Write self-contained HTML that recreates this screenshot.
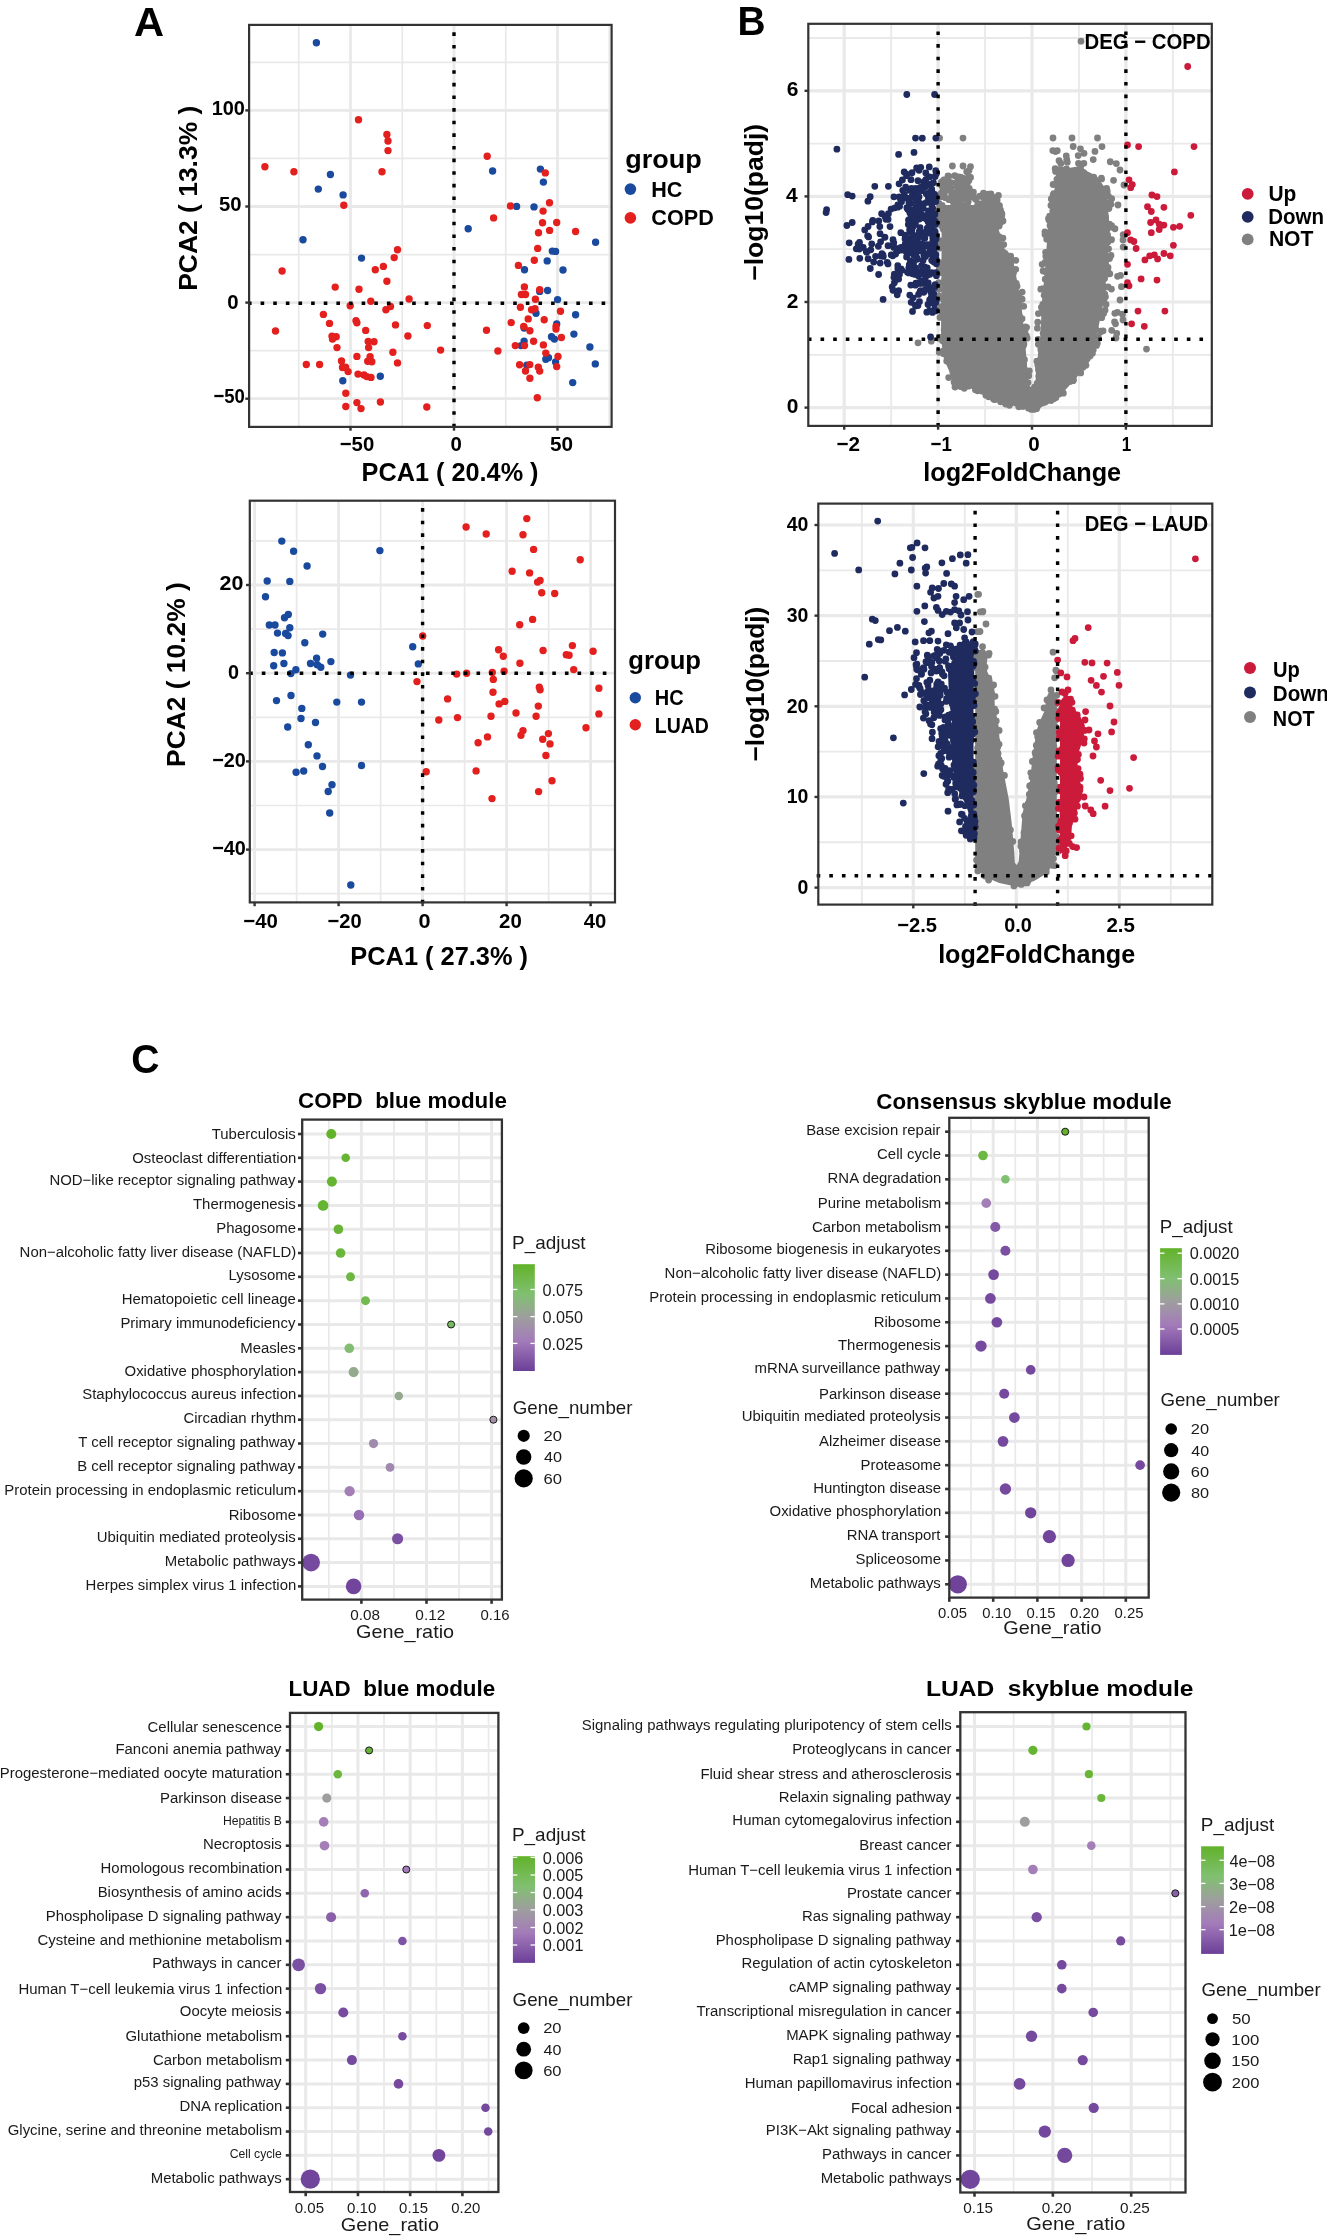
<!DOCTYPE html>
<html><head><meta charset="utf-8"><style>html,body{margin:0;padding:0;background:#fff}svg{display:block;will-change:transform}text{font-family:"Liberation Sans",sans-serif;white-space:pre}</style></head>
<body><svg width="1327" height="2237" viewBox="0 0 1327 2237">
<rect width="1327" height="2237" fill="#fff"/>
<rect x="249.1" y="24.9" width="362.5" height="402" fill="#fff"/>
<line x1="298.75" y1="24.9" x2="298.75" y2="426.9" stroke="#e9e9e9" stroke-width="1.7"/>
<line x1="402.25" y1="24.9" x2="402.25" y2="426.9" stroke="#e9e9e9" stroke-width="1.7"/>
<line x1="505.75" y1="24.9" x2="505.75" y2="426.9" stroke="#e9e9e9" stroke-width="1.7"/>
<line x1="609.25" y1="24.9" x2="609.25" y2="426.9" stroke="#e9e9e9" stroke-width="1.7"/>
<line x1="249.1" y1="62.35" x2="611.6" y2="62.35" stroke="#e9e9e9" stroke-width="1.7"/>
<line x1="249.1" y1="158.45" x2="611.6" y2="158.45" stroke="#e9e9e9" stroke-width="1.7"/>
<line x1="249.1" y1="254.55" x2="611.6" y2="254.55" stroke="#e9e9e9" stroke-width="1.7"/>
<line x1="249.1" y1="350.65" x2="611.6" y2="350.65" stroke="#e9e9e9" stroke-width="1.7"/>
<line x1="350.5" y1="24.9" x2="350.5" y2="426.9" stroke="#e9e9e9" stroke-width="2.8"/>
<line x1="454" y1="24.9" x2="454" y2="426.9" stroke="#e9e9e9" stroke-width="2.8"/>
<line x1="557.5" y1="24.9" x2="557.5" y2="426.9" stroke="#e9e9e9" stroke-width="2.8"/>
<line x1="249.1" y1="110.4" x2="611.6" y2="110.4" stroke="#e9e9e9" stroke-width="2.8"/>
<line x1="249.1" y1="206.5" x2="611.6" y2="206.5" stroke="#e9e9e9" stroke-width="2.8"/>
<line x1="249.1" y1="302.6" x2="611.6" y2="302.6" stroke="#e9e9e9" stroke-width="2.8"/>
<line x1="249.1" y1="398.7" x2="611.6" y2="398.7" stroke="#e9e9e9" stroke-width="2.8"/>
<path fill="#1a4a9e" d="M312.7 42.7a3.7 3.7 0 1 0 7.4 0a3.7 3.7 0 1 0 -7.4 0M326.7 174.5a3.7 3.7 0 1 0 7.4 0a3.7 3.7 0 1 0 -7.4 0M314.6 189.1a3.7 3.7 0 1 0 7.4 0a3.7 3.7 0 1 0 -7.4 0M339.4 194.9a3.7 3.7 0 1 0 7.4 0a3.7 3.7 0 1 0 -7.4 0M299.3 239.8a3.7 3.7 0 1 0 7.4 0a3.7 3.7 0 1 0 -7.4 0M357.8 258.1a3.7 3.7 0 1 0 7.4 0a3.7 3.7 0 1 0 -7.4 0M376.6 376.3a3.7 3.7 0 1 0 7.4 0a3.7 3.7 0 1 0 -7.4 0M339.1 380.8a3.7 3.7 0 1 0 7.4 0a3.7 3.7 0 1 0 -7.4 0M488.9 171a3.7 3.7 0 1 0 7.4 0a3.7 3.7 0 1 0 -7.4 0M536.7 169.1a3.7 3.7 0 1 0 7.4 0a3.7 3.7 0 1 0 -7.4 0M539.7 182.1a3.7 3.7 0 1 0 7.4 0a3.7 3.7 0 1 0 -7.4 0M512.9 206.4a3.7 3.7 0 1 0 7.4 0a3.7 3.7 0 1 0 -7.4 0M530.3 206.9a3.7 3.7 0 1 0 7.4 0a3.7 3.7 0 1 0 -7.4 0M464.5 228.8a3.7 3.7 0 1 0 7.4 0a3.7 3.7 0 1 0 -7.4 0M591.9 242.3a3.7 3.7 0 1 0 7.4 0a3.7 3.7 0 1 0 -7.4 0M548.6 251.1a3.7 3.7 0 1 0 7.4 0a3.7 3.7 0 1 0 -7.4 0M551.9 251.4a3.7 3.7 0 1 0 7.4 0a3.7 3.7 0 1 0 -7.4 0M543.5 260.9a3.7 3.7 0 1 0 7.4 0a3.7 3.7 0 1 0 -7.4 0M520.8 269.7a3.7 3.7 0 1 0 7.4 0a3.7 3.7 0 1 0 -7.4 0M559.3 270a3.7 3.7 0 1 0 7.4 0a3.7 3.7 0 1 0 -7.4 0M536 291.4a3.7 3.7 0 1 0 7.4 0a3.7 3.7 0 1 0 -7.4 0M543.9 290.5a3.7 3.7 0 1 0 7.4 0a3.7 3.7 0 1 0 -7.4 0M553.9 299.6a3.7 3.7 0 1 0 7.4 0a3.7 3.7 0 1 0 -7.4 0M532.3 313.3a3.7 3.7 0 1 0 7.4 0a3.7 3.7 0 1 0 -7.4 0M571.9 314.7a3.7 3.7 0 1 0 7.4 0a3.7 3.7 0 1 0 -7.4 0M553 323.9a3.7 3.7 0 1 0 7.4 0a3.7 3.7 0 1 0 -7.4 0M520.4 328a3.7 3.7 0 1 0 7.4 0a3.7 3.7 0 1 0 -7.4 0M570.2 334.1a3.7 3.7 0 1 0 7.4 0a3.7 3.7 0 1 0 -7.4 0M547.8 336.8a3.7 3.7 0 1 0 7.4 0a3.7 3.7 0 1 0 -7.4 0M550.7 339.1a3.7 3.7 0 1 0 7.4 0a3.7 3.7 0 1 0 -7.4 0M520.4 341.3a3.7 3.7 0 1 0 7.4 0a3.7 3.7 0 1 0 -7.4 0M517.4 345.6a3.7 3.7 0 1 0 7.4 0a3.7 3.7 0 1 0 -7.4 0M586.2 347a3.7 3.7 0 1 0 7.4 0a3.7 3.7 0 1 0 -7.4 0M542.1 359.2a3.7 3.7 0 1 0 7.4 0a3.7 3.7 0 1 0 -7.4 0M544.8 357.8a3.7 3.7 0 1 0 7.4 0a3.7 3.7 0 1 0 -7.4 0M551.9 361.9a3.7 3.7 0 1 0 7.4 0a3.7 3.7 0 1 0 -7.4 0M591.6 363.9a3.7 3.7 0 1 0 7.4 0a3.7 3.7 0 1 0 -7.4 0M523.1 365.3a3.7 3.7 0 1 0 7.4 0a3.7 3.7 0 1 0 -7.4 0M569 382.6a3.7 3.7 0 1 0 7.4 0a3.7 3.7 0 1 0 -7.4 0"/>
<path fill="#e4201e" d="M354.8 119.8a3.7 3.7 0 1 0 7.4 0a3.7 3.7 0 1 0 -7.4 0M383.2 134.4a3.7 3.7 0 1 0 7.4 0a3.7 3.7 0 1 0 -7.4 0M384.3 141a3.7 3.7 0 1 0 7.4 0a3.7 3.7 0 1 0 -7.4 0M384.3 150.6a3.7 3.7 0 1 0 7.4 0a3.7 3.7 0 1 0 -7.4 0M261.2 166.7a3.7 3.7 0 1 0 7.4 0a3.7 3.7 0 1 0 -7.4 0M290.2 171.7a3.7 3.7 0 1 0 7.4 0a3.7 3.7 0 1 0 -7.4 0M378.3 171.7a3.7 3.7 0 1 0 7.4 0a3.7 3.7 0 1 0 -7.4 0M340.1 205.2a3.7 3.7 0 1 0 7.4 0a3.7 3.7 0 1 0 -7.4 0M393.8 249.8a3.7 3.7 0 1 0 7.4 0a3.7 3.7 0 1 0 -7.4 0M390.5 257.6a3.7 3.7 0 1 0 7.4 0a3.7 3.7 0 1 0 -7.4 0M379.7 266.4a3.7 3.7 0 1 0 7.4 0a3.7 3.7 0 1 0 -7.4 0M371.6 269.7a3.7 3.7 0 1 0 7.4 0a3.7 3.7 0 1 0 -7.4 0M278.4 271a3.7 3.7 0 1 0 7.4 0a3.7 3.7 0 1 0 -7.4 0M383.2 281.3a3.7 3.7 0 1 0 7.4 0a3.7 3.7 0 1 0 -7.4 0M331.5 287.1a3.7 3.7 0 1 0 7.4 0a3.7 3.7 0 1 0 -7.4 0M355.3 289.2a3.7 3.7 0 1 0 7.4 0a3.7 3.7 0 1 0 -7.4 0M405.4 299a3.7 3.7 0 1 0 7.4 0a3.7 3.7 0 1 0 -7.4 0M367.1 301.3a3.7 3.7 0 1 0 7.4 0a3.7 3.7 0 1 0 -7.4 0M346.5 305.7a3.7 3.7 0 1 0 7.4 0a3.7 3.7 0 1 0 -7.4 0M386.8 306.5a3.7 3.7 0 1 0 7.4 0a3.7 3.7 0 1 0 -7.4 0M382.2 309.8a3.7 3.7 0 1 0 7.4 0a3.7 3.7 0 1 0 -7.4 0M319.7 314.4a3.7 3.7 0 1 0 7.4 0a3.7 3.7 0 1 0 -7.4 0M352.3 320.7a3.7 3.7 0 1 0 7.4 0a3.7 3.7 0 1 0 -7.4 0M353.2 322.7a3.7 3.7 0 1 0 7.4 0a3.7 3.7 0 1 0 -7.4 0M325.8 323.4a3.7 3.7 0 1 0 7.4 0a3.7 3.7 0 1 0 -7.4 0M391.8 324.9a3.7 3.7 0 1 0 7.4 0a3.7 3.7 0 1 0 -7.4 0M423.6 325.6a3.7 3.7 0 1 0 7.4 0a3.7 3.7 0 1 0 -7.4 0M271.8 331a3.7 3.7 0 1 0 7.4 0a3.7 3.7 0 1 0 -7.4 0M362 330.4a3.7 3.7 0 1 0 7.4 0a3.7 3.7 0 1 0 -7.4 0M404.2 336a3.7 3.7 0 1 0 7.4 0a3.7 3.7 0 1 0 -7.4 0M328.3 336.3a3.7 3.7 0 1 0 7.4 0a3.7 3.7 0 1 0 -7.4 0M332.5 336.8a3.7 3.7 0 1 0 7.4 0a3.7 3.7 0 1 0 -7.4 0M328.8 339a3.7 3.7 0 1 0 7.4 0a3.7 3.7 0 1 0 -7.4 0M364.5 341.5a3.7 3.7 0 1 0 7.4 0a3.7 3.7 0 1 0 -7.4 0M370.3 341.8a3.7 3.7 0 1 0 7.4 0a3.7 3.7 0 1 0 -7.4 0M364.9 347.6a3.7 3.7 0 1 0 7.4 0a3.7 3.7 0 1 0 -7.4 0M333.3 347.6a3.7 3.7 0 1 0 7.4 0a3.7 3.7 0 1 0 -7.4 0M436.9 350.1a3.7 3.7 0 1 0 7.4 0a3.7 3.7 0 1 0 -7.4 0M389.2 352.2a3.7 3.7 0 1 0 7.4 0a3.7 3.7 0 1 0 -7.4 0M353.2 356.4a3.7 3.7 0 1 0 7.4 0a3.7 3.7 0 1 0 -7.4 0M366.4 356.7a3.7 3.7 0 1 0 7.4 0a3.7 3.7 0 1 0 -7.4 0M337.8 360.9a3.7 3.7 0 1 0 7.4 0a3.7 3.7 0 1 0 -7.4 0M364 361.2a3.7 3.7 0 1 0 7.4 0a3.7 3.7 0 1 0 -7.4 0M368.1 361.7a3.7 3.7 0 1 0 7.4 0a3.7 3.7 0 1 0 -7.4 0M393.8 362.9a3.7 3.7 0 1 0 7.4 0a3.7 3.7 0 1 0 -7.4 0M302.6 364.5a3.7 3.7 0 1 0 7.4 0a3.7 3.7 0 1 0 -7.4 0M315.9 364.5a3.7 3.7 0 1 0 7.4 0a3.7 3.7 0 1 0 -7.4 0M338.8 367.5a3.7 3.7 0 1 0 7.4 0a3.7 3.7 0 1 0 -7.4 0M341.9 367.2a3.7 3.7 0 1 0 7.4 0a3.7 3.7 0 1 0 -7.4 0M344.4 371.6a3.7 3.7 0 1 0 7.4 0a3.7 3.7 0 1 0 -7.4 0M354.3 374.1a3.7 3.7 0 1 0 7.4 0a3.7 3.7 0 1 0 -7.4 0M360.3 375a3.7 3.7 0 1 0 7.4 0a3.7 3.7 0 1 0 -7.4 0M363.1 376.6a3.7 3.7 0 1 0 7.4 0a3.7 3.7 0 1 0 -7.4 0M367.3 377.4a3.7 3.7 0 1 0 7.4 0a3.7 3.7 0 1 0 -7.4 0M342.1 393.2a3.7 3.7 0 1 0 7.4 0a3.7 3.7 0 1 0 -7.4 0M353.2 402.6a3.7 3.7 0 1 0 7.4 0a3.7 3.7 0 1 0 -7.4 0M376.7 402a3.7 3.7 0 1 0 7.4 0a3.7 3.7 0 1 0 -7.4 0M342.1 406.5a3.7 3.7 0 1 0 7.4 0a3.7 3.7 0 1 0 -7.4 0M357.3 408.6a3.7 3.7 0 1 0 7.4 0a3.7 3.7 0 1 0 -7.4 0M423.1 407a3.7 3.7 0 1 0 7.4 0a3.7 3.7 0 1 0 -7.4 0M483.5 156.2a3.7 3.7 0 1 0 7.4 0a3.7 3.7 0 1 0 -7.4 0M541.6 172.9a3.7 3.7 0 1 0 7.4 0a3.7 3.7 0 1 0 -7.4 0M545.8 202.8a3.7 3.7 0 1 0 7.4 0a3.7 3.7 0 1 0 -7.4 0M506.8 206a3.7 3.7 0 1 0 7.4 0a3.7 3.7 0 1 0 -7.4 0M539.4 211.1a3.7 3.7 0 1 0 7.4 0a3.7 3.7 0 1 0 -7.4 0M489.9 217.9a3.7 3.7 0 1 0 7.4 0a3.7 3.7 0 1 0 -7.4 0M538.8 222.8a3.7 3.7 0 1 0 7.4 0a3.7 3.7 0 1 0 -7.4 0M553 222.5a3.7 3.7 0 1 0 7.4 0a3.7 3.7 0 1 0 -7.4 0M545.9 230.4a3.7 3.7 0 1 0 7.4 0a3.7 3.7 0 1 0 -7.4 0M534.8 232.7a3.7 3.7 0 1 0 7.4 0a3.7 3.7 0 1 0 -7.4 0M571.9 231.5a3.7 3.7 0 1 0 7.4 0a3.7 3.7 0 1 0 -7.4 0M534 248.4a3.7 3.7 0 1 0 7.4 0a3.7 3.7 0 1 0 -7.4 0M530.6 260.2a3.7 3.7 0 1 0 7.4 0a3.7 3.7 0 1 0 -7.4 0M514.7 265.4a3.7 3.7 0 1 0 7.4 0a3.7 3.7 0 1 0 -7.4 0M520.7 286.9a3.7 3.7 0 1 0 7.4 0a3.7 3.7 0 1 0 -7.4 0M536 289.8a3.7 3.7 0 1 0 7.4 0a3.7 3.7 0 1 0 -7.4 0M517.7 294.5a3.7 3.7 0 1 0 7.4 0a3.7 3.7 0 1 0 -7.4 0M521.8 294.5a3.7 3.7 0 1 0 7.4 0a3.7 3.7 0 1 0 -7.4 0M531.7 299.3a3.7 3.7 0 1 0 7.4 0a3.7 3.7 0 1 0 -7.4 0M516.7 307.2a3.7 3.7 0 1 0 7.4 0a3.7 3.7 0 1 0 -7.4 0M527.9 309.7a3.7 3.7 0 1 0 7.4 0a3.7 3.7 0 1 0 -7.4 0M531.3 308.7a3.7 3.7 0 1 0 7.4 0a3.7 3.7 0 1 0 -7.4 0M556.8 311.3a3.7 3.7 0 1 0 7.4 0a3.7 3.7 0 1 0 -7.4 0M507.5 322.6a3.7 3.7 0 1 0 7.4 0a3.7 3.7 0 1 0 -7.4 0M524.5 318.9a3.7 3.7 0 1 0 7.4 0a3.7 3.7 0 1 0 -7.4 0M540.5 319.8a3.7 3.7 0 1 0 7.4 0a3.7 3.7 0 1 0 -7.4 0M552.3 326.4a3.7 3.7 0 1 0 7.4 0a3.7 3.7 0 1 0 -7.4 0M552.3 329.1a3.7 3.7 0 1 0 7.4 0a3.7 3.7 0 1 0 -7.4 0M520 326.4a3.7 3.7 0 1 0 7.4 0a3.7 3.7 0 1 0 -7.4 0M482.8 330.3a3.7 3.7 0 1 0 7.4 0a3.7 3.7 0 1 0 -7.4 0M526.2 330.7a3.7 3.7 0 1 0 7.4 0a3.7 3.7 0 1 0 -7.4 0M557.7 337.5a3.7 3.7 0 1 0 7.4 0a3.7 3.7 0 1 0 -7.4 0M529.9 341.3a3.7 3.7 0 1 0 7.4 0a3.7 3.7 0 1 0 -7.4 0M511.6 345.6a3.7 3.7 0 1 0 7.4 0a3.7 3.7 0 1 0 -7.4 0M520.8 345.6a3.7 3.7 0 1 0 7.4 0a3.7 3.7 0 1 0 -7.4 0M539.7 344.9a3.7 3.7 0 1 0 7.4 0a3.7 3.7 0 1 0 -7.4 0M494.2 351a3.7 3.7 0 1 0 7.4 0a3.7 3.7 0 1 0 -7.4 0M542.1 353.1a3.7 3.7 0 1 0 7.4 0a3.7 3.7 0 1 0 -7.4 0M554.3 356.5a3.7 3.7 0 1 0 7.4 0a3.7 3.7 0 1 0 -7.4 0M515.9 364.7a3.7 3.7 0 1 0 7.4 0a3.7 3.7 0 1 0 -7.4 0M526.1 364.6a3.7 3.7 0 1 0 7.4 0a3.7 3.7 0 1 0 -7.4 0M534.6 367.3a3.7 3.7 0 1 0 7.4 0a3.7 3.7 0 1 0 -7.4 0M536 371.1a3.7 3.7 0 1 0 7.4 0a3.7 3.7 0 1 0 -7.4 0M553 366.6a3.7 3.7 0 1 0 7.4 0a3.7 3.7 0 1 0 -7.4 0M521.8 371a3.7 3.7 0 1 0 7.4 0a3.7 3.7 0 1 0 -7.4 0M526.2 378.2a3.7 3.7 0 1 0 7.4 0a3.7 3.7 0 1 0 -7.4 0M533.6 397.8a3.7 3.7 0 1 0 7.4 0a3.7 3.7 0 1 0 -7.4 0"/>
<path fill="#000" d="M452.3 32.3h3.4v3.6h-3.4zM452.3 44.93h3.4v3.6h-3.4zM452.3 57.56h3.4v3.6h-3.4zM452.3 70.19h3.4v3.6h-3.4zM452.3 82.82h3.4v3.6h-3.4zM452.3 95.45h3.4v3.6h-3.4zM452.3 108.08h3.4v3.6h-3.4zM452.3 120.71h3.4v3.6h-3.4zM452.3 133.34h3.4v3.6h-3.4zM452.3 145.97h3.4v3.6h-3.4zM452.3 158.6h3.4v3.6h-3.4zM452.3 171.23h3.4v3.6h-3.4zM452.3 183.86h3.4v3.6h-3.4zM452.3 196.49h3.4v3.6h-3.4zM452.3 209.12h3.4v3.6h-3.4zM452.3 221.75h3.4v3.6h-3.4zM452.3 234.38h3.4v3.6h-3.4zM452.3 247.01h3.4v3.6h-3.4zM452.3 259.64h3.4v3.6h-3.4zM452.3 272.27h3.4v3.6h-3.4zM452.3 284.9h3.4v3.6h-3.4zM452.3 297.53h3.4v3.6h-3.4zM452.3 310.16h3.4v3.6h-3.4zM452.3 322.79h3.4v3.6h-3.4zM452.3 335.42h3.4v3.6h-3.4zM452.3 348.05h3.4v3.6h-3.4zM452.3 360.68h3.4v3.6h-3.4zM452.3 373.31h3.4v3.6h-3.4zM452.3 385.94h3.4v3.6h-3.4zM452.3 398.57h3.4v3.6h-3.4zM452.3 411.2h3.4v3.6h-3.4zM452.3 423.83h3.4v3.6h-3.4z"/>
<path fill="#000" d="M247.97 301.6h3.6v3.4h-3.6zM260.6 301.6h3.6v3.4h-3.6zM273.23 301.6h3.6v3.4h-3.6zM285.86 301.6h3.6v3.4h-3.6zM298.49 301.6h3.6v3.4h-3.6zM311.12 301.6h3.6v3.4h-3.6zM323.75 301.6h3.6v3.4h-3.6zM336.38 301.6h3.6v3.4h-3.6zM349.01 301.6h3.6v3.4h-3.6zM361.64 301.6h3.6v3.4h-3.6zM374.27 301.6h3.6v3.4h-3.6zM386.9 301.6h3.6v3.4h-3.6zM399.53 301.6h3.6v3.4h-3.6zM412.16 301.6h3.6v3.4h-3.6zM424.79 301.6h3.6v3.4h-3.6zM437.42 301.6h3.6v3.4h-3.6zM450.05 301.6h3.6v3.4h-3.6zM462.68 301.6h3.6v3.4h-3.6zM475.31 301.6h3.6v3.4h-3.6zM487.94 301.6h3.6v3.4h-3.6zM500.57 301.6h3.6v3.4h-3.6zM513.2 301.6h3.6v3.4h-3.6zM525.83 301.6h3.6v3.4h-3.6zM538.46 301.6h3.6v3.4h-3.6zM551.09 301.6h3.6v3.4h-3.6zM563.72 301.6h3.6v3.4h-3.6zM576.35 301.6h3.6v3.4h-3.6zM588.98 301.6h3.6v3.4h-3.6zM601.61 301.6h3.6v3.4h-3.6z"/>
<rect x="249.1" y="24.9" width="362.5" height="402" fill="none" stroke="#333333" stroke-width="2.2"/>
<line x1="350.5" y1="426.9" x2="350.5" y2="430.7" stroke="#333333" stroke-width="2.4"/>
<line x1="454" y1="426.9" x2="454" y2="430.7" stroke="#333333" stroke-width="2.4"/>
<line x1="557.5" y1="426.9" x2="557.5" y2="430.7" stroke="#333333" stroke-width="2.4"/>
<line x1="245.3" y1="110.4" x2="249.1" y2="110.4" stroke="#333333" stroke-width="2.4"/>
<line x1="245.3" y1="206.5" x2="249.1" y2="206.5" stroke="#333333" stroke-width="2.4"/>
<line x1="245.3" y1="302.6" x2="249.1" y2="302.6" stroke="#333333" stroke-width="2.4"/>
<line x1="245.3" y1="398.7" x2="249.1" y2="398.7" stroke="#333333" stroke-width="2.4"/>
<text x="211.65" y="114.9" font-size="21" font-weight="bold" textLength="33.26" lengthAdjust="spacingAndGlyphs" fill="#000">100</text>
<text x="219.09" y="211" font-size="21" font-weight="bold" textLength="22.57" lengthAdjust="spacingAndGlyphs" fill="#000">50</text>
<text x="227.18" y="309" font-size="21" font-weight="bold" textLength="11.36" lengthAdjust="spacingAndGlyphs" fill="#000">0</text>
<text x="213.41" y="403.2" font-size="21" font-weight="bold" textLength="31.45" lengthAdjust="spacingAndGlyphs" fill="#000">−50</text>
<text x="339.74" y="451.2" font-size="21" font-weight="bold" textLength="34.51" lengthAdjust="spacingAndGlyphs" fill="#000">−50</text>
<text x="450.48" y="451.2" font-size="21" font-weight="bold" textLength="11.36" lengthAdjust="spacingAndGlyphs" fill="#000">0</text>
<text x="549.98" y="451.2" font-size="21" font-weight="bold" textLength="23.1" lengthAdjust="spacingAndGlyphs" fill="#000">50</text>
<text x="361.59" y="480.6" font-size="26" font-weight="bold" textLength="176.97" lengthAdjust="spacingAndGlyphs" fill="#000">PCA1 ( 20.4% )</text>
<text transform="translate(197,290.78) rotate(-90)" x="0" y="0" font-size="26" font-weight="bold" textLength="185.11" lengthAdjust="spacingAndGlyphs" fill="#000">PCA2 ( 13.3% )</text>
<text x="625.32" y="167.5" font-size="26" font-weight="bold" textLength="76.46" lengthAdjust="spacingAndGlyphs" fill="#000">group</text>
<circle cx="630.4" cy="189.1" r="5.8" fill="#1a4a9e"/>
<circle cx="630.4" cy="217.9" r="5.8" fill="#e4201e"/>
<text x="651.25" y="196.5" font-size="22.5" font-weight="bold" textLength="31.13" lengthAdjust="spacingAndGlyphs" fill="#000">HC</text>
<text x="651.34" y="225.3" font-size="22.5" font-weight="bold" textLength="62.47" lengthAdjust="spacingAndGlyphs" fill="#000">COPD</text>
<rect x="249.8" y="500.7" width="365.2" height="401.7" fill="#fff"/>
<line x1="296.6" y1="500.7" x2="296.6" y2="902.4" stroke="#e9e9e9" stroke-width="1.7"/>
<line x1="380.6" y1="500.7" x2="380.6" y2="902.4" stroke="#e9e9e9" stroke-width="1.7"/>
<line x1="464.6" y1="500.7" x2="464.6" y2="902.4" stroke="#e9e9e9" stroke-width="1.7"/>
<line x1="548.6" y1="500.7" x2="548.6" y2="902.4" stroke="#e9e9e9" stroke-width="1.7"/>
<line x1="249.8" y1="540.9" x2="615" y2="540.9" stroke="#e9e9e9" stroke-width="1.7"/>
<line x1="249.8" y1="629.1" x2="615" y2="629.1" stroke="#e9e9e9" stroke-width="1.7"/>
<line x1="249.8" y1="717.3" x2="615" y2="717.3" stroke="#e9e9e9" stroke-width="1.7"/>
<line x1="249.8" y1="805.5" x2="615" y2="805.5" stroke="#e9e9e9" stroke-width="1.7"/>
<line x1="249.8" y1="893.7" x2="615" y2="893.7" stroke="#e9e9e9" stroke-width="1.7"/>
<line x1="254.6" y1="500.7" x2="254.6" y2="902.4" stroke="#e9e9e9" stroke-width="2.8"/>
<line x1="338.6" y1="500.7" x2="338.6" y2="902.4" stroke="#e9e9e9" stroke-width="2.8"/>
<line x1="422.6" y1="500.7" x2="422.6" y2="902.4" stroke="#e9e9e9" stroke-width="2.8"/>
<line x1="506.6" y1="500.7" x2="506.6" y2="902.4" stroke="#e9e9e9" stroke-width="2.8"/>
<line x1="590.6" y1="500.7" x2="590.6" y2="902.4" stroke="#e9e9e9" stroke-width="2.8"/>
<line x1="249.8" y1="585" x2="615" y2="585" stroke="#e9e9e9" stroke-width="2.8"/>
<line x1="249.8" y1="673.2" x2="615" y2="673.2" stroke="#e9e9e9" stroke-width="2.8"/>
<line x1="249.8" y1="761.4" x2="615" y2="761.4" stroke="#e9e9e9" stroke-width="2.8"/>
<line x1="249.8" y1="849.6" x2="615" y2="849.6" stroke="#e9e9e9" stroke-width="2.8"/>
<path fill="#1a4a9e" d="M278.1 541.1a3.7 3.7 0 1 0 7.4 0a3.7 3.7 0 1 0 -7.4 0M289.9 551.2a3.7 3.7 0 1 0 7.4 0a3.7 3.7 0 1 0 -7.4 0M376.2 550.6a3.7 3.7 0 1 0 7.4 0a3.7 3.7 0 1 0 -7.4 0M303.4 566a3.7 3.7 0 1 0 7.4 0a3.7 3.7 0 1 0 -7.4 0M263.5 581a3.7 3.7 0 1 0 7.4 0a3.7 3.7 0 1 0 -7.4 0M286.1 581.4a3.7 3.7 0 1 0 7.4 0a3.7 3.7 0 1 0 -7.4 0M261.8 596.8a3.7 3.7 0 1 0 7.4 0a3.7 3.7 0 1 0 -7.4 0M284.6 614.5a3.7 3.7 0 1 0 7.4 0a3.7 3.7 0 1 0 -7.4 0M280.8 617.7a3.7 3.7 0 1 0 7.4 0a3.7 3.7 0 1 0 -7.4 0M265.6 625a3.7 3.7 0 1 0 7.4 0a3.7 3.7 0 1 0 -7.4 0M271.3 625a3.7 3.7 0 1 0 7.4 0a3.7 3.7 0 1 0 -7.4 0M286.1 627.8a3.7 3.7 0 1 0 7.4 0a3.7 3.7 0 1 0 -7.4 0M273.8 633.1a3.7 3.7 0 1 0 7.4 0a3.7 3.7 0 1 0 -7.4 0M281.9 633.5a3.7 3.7 0 1 0 7.4 0a3.7 3.7 0 1 0 -7.4 0M284.4 635.6a3.7 3.7 0 1 0 7.4 0a3.7 3.7 0 1 0 -7.4 0M319 634.1a3.7 3.7 0 1 0 7.4 0a3.7 3.7 0 1 0 -7.4 0M301.1 642.8a3.7 3.7 0 1 0 7.4 0a3.7 3.7 0 1 0 -7.4 0M409 646.8a3.7 3.7 0 1 0 7.4 0a3.7 3.7 0 1 0 -7.4 0M270.5 652.5a3.7 3.7 0 1 0 7.4 0a3.7 3.7 0 1 0 -7.4 0M278.7 652.9a3.7 3.7 0 1 0 7.4 0a3.7 3.7 0 1 0 -7.4 0M312.9 658.2a3.7 3.7 0 1 0 7.4 0a3.7 3.7 0 1 0 -7.4 0M327.2 661.6a3.7 3.7 0 1 0 7.4 0a3.7 3.7 0 1 0 -7.4 0M280.2 663.5a3.7 3.7 0 1 0 7.4 0a3.7 3.7 0 1 0 -7.4 0M306.8 663.5a3.7 3.7 0 1 0 7.4 0a3.7 3.7 0 1 0 -7.4 0M313.5 664.7a3.7 3.7 0 1 0 7.4 0a3.7 3.7 0 1 0 -7.4 0M317.1 667.3a3.7 3.7 0 1 0 7.4 0a3.7 3.7 0 1 0 -7.4 0M414.6 663.9a3.7 3.7 0 1 0 7.4 0a3.7 3.7 0 1 0 -7.4 0M270 665.8a3.7 3.7 0 1 0 7.4 0a3.7 3.7 0 1 0 -7.4 0M292.2 669.8a3.7 3.7 0 1 0 7.4 0a3.7 3.7 0 1 0 -7.4 0M287.1 673.6a3.7 3.7 0 1 0 7.4 0a3.7 3.7 0 1 0 -7.4 0M346.8 675.1a3.7 3.7 0 1 0 7.4 0a3.7 3.7 0 1 0 -7.4 0M287.3 695.5a3.7 3.7 0 1 0 7.4 0a3.7 3.7 0 1 0 -7.4 0M272.8 700.6a3.7 3.7 0 1 0 7.4 0a3.7 3.7 0 1 0 -7.4 0M333.1 702.1a3.7 3.7 0 1 0 7.4 0a3.7 3.7 0 1 0 -7.4 0M357.8 702.1a3.7 3.7 0 1 0 7.4 0a3.7 3.7 0 1 0 -7.4 0M298.1 708.4a3.7 3.7 0 1 0 7.4 0a3.7 3.7 0 1 0 -7.4 0M297.3 718.5a3.7 3.7 0 1 0 7.4 0a3.7 3.7 0 1 0 -7.4 0M311.8 722.5a3.7 3.7 0 1 0 7.4 0a3.7 3.7 0 1 0 -7.4 0M284 727a3.7 3.7 0 1 0 7.4 0a3.7 3.7 0 1 0 -7.4 0M304.6 744.7a3.7 3.7 0 1 0 7.4 0a3.7 3.7 0 1 0 -7.4 0M313.3 755.9a3.7 3.7 0 1 0 7.4 0a3.7 3.7 0 1 0 -7.4 0M318.8 766.5a3.7 3.7 0 1 0 7.4 0a3.7 3.7 0 1 0 -7.4 0M357.8 765.5a3.7 3.7 0 1 0 7.4 0a3.7 3.7 0 1 0 -7.4 0M292.4 772.3a3.7 3.7 0 1 0 7.4 0a3.7 3.7 0 1 0 -7.4 0M300 771a3.7 3.7 0 1 0 7.4 0a3.7 3.7 0 1 0 -7.4 0M328.3 784.7a3.7 3.7 0 1 0 7.4 0a3.7 3.7 0 1 0 -7.4 0M324.5 791.5a3.7 3.7 0 1 0 7.4 0a3.7 3.7 0 1 0 -7.4 0M326 813a3.7 3.7 0 1 0 7.4 0a3.7 3.7 0 1 0 -7.4 0M347.1 885a3.7 3.7 0 1 0 7.4 0a3.7 3.7 0 1 0 -7.4 0"/>
<path fill="#e4201e" d="M419 636a3.7 3.7 0 1 0 7.4 0a3.7 3.7 0 1 0 -7.4 0M413.3 681.6a3.7 3.7 0 1 0 7.4 0a3.7 3.7 0 1 0 -7.4 0M435.1 720a3.7 3.7 0 1 0 7.4 0a3.7 3.7 0 1 0 -7.4 0M422.5 771.7a3.7 3.7 0 1 0 7.4 0a3.7 3.7 0 1 0 -7.4 0M523.1 518.6a3.7 3.7 0 1 0 7.4 0a3.7 3.7 0 1 0 -7.4 0M462.4 527a3.7 3.7 0 1 0 7.4 0a3.7 3.7 0 1 0 -7.4 0M482.5 534a3.7 3.7 0 1 0 7.4 0a3.7 3.7 0 1 0 -7.4 0M519.3 534.8a3.7 3.7 0 1 0 7.4 0a3.7 3.7 0 1 0 -7.4 0M529.9 549.4a3.7 3.7 0 1 0 7.4 0a3.7 3.7 0 1 0 -7.4 0M576.5 559.7a3.7 3.7 0 1 0 7.4 0a3.7 3.7 0 1 0 -7.4 0M508.4 571.3a3.7 3.7 0 1 0 7.4 0a3.7 3.7 0 1 0 -7.4 0M525.9 572.9a3.7 3.7 0 1 0 7.4 0a3.7 3.7 0 1 0 -7.4 0M536.4 580.4a3.7 3.7 0 1 0 7.4 0a3.7 3.7 0 1 0 -7.4 0M533.9 582.1a3.7 3.7 0 1 0 7.4 0a3.7 3.7 0 1 0 -7.4 0M538 592.8a3.7 3.7 0 1 0 7.4 0a3.7 3.7 0 1 0 -7.4 0M551 593.5a3.7 3.7 0 1 0 7.4 0a3.7 3.7 0 1 0 -7.4 0M528.9 619.4a3.7 3.7 0 1 0 7.4 0a3.7 3.7 0 1 0 -7.4 0M516 624.8a3.7 3.7 0 1 0 7.4 0a3.7 3.7 0 1 0 -7.4 0M494.9 649.7a3.7 3.7 0 1 0 7.4 0a3.7 3.7 0 1 0 -7.4 0M499.6 656.3a3.7 3.7 0 1 0 7.4 0a3.7 3.7 0 1 0 -7.4 0M539.4 650.5a3.7 3.7 0 1 0 7.4 0a3.7 3.7 0 1 0 -7.4 0M568.7 645.6a3.7 3.7 0 1 0 7.4 0a3.7 3.7 0 1 0 -7.4 0M562.6 654.7a3.7 3.7 0 1 0 7.4 0a3.7 3.7 0 1 0 -7.4 0M565.4 655.3a3.7 3.7 0 1 0 7.4 0a3.7 3.7 0 1 0 -7.4 0M589.4 651.2a3.7 3.7 0 1 0 7.4 0a3.7 3.7 0 1 0 -7.4 0M516.2 663.3a3.7 3.7 0 1 0 7.4 0a3.7 3.7 0 1 0 -7.4 0M570 669.6a3.7 3.7 0 1 0 7.4 0a3.7 3.7 0 1 0 -7.4 0M453 674.1a3.7 3.7 0 1 0 7.4 0a3.7 3.7 0 1 0 -7.4 0M462.9 673.2a3.7 3.7 0 1 0 7.4 0a3.7 3.7 0 1 0 -7.4 0M488.6 672.4a3.7 3.7 0 1 0 7.4 0a3.7 3.7 0 1 0 -7.4 0M500.4 671.3a3.7 3.7 0 1 0 7.4 0a3.7 3.7 0 1 0 -7.4 0M489.6 679.4a3.7 3.7 0 1 0 7.4 0a3.7 3.7 0 1 0 -7.4 0M535.6 687.3a3.7 3.7 0 1 0 7.4 0a3.7 3.7 0 1 0 -7.4 0M536.4 689.8a3.7 3.7 0 1 0 7.4 0a3.7 3.7 0 1 0 -7.4 0M595.2 688.2a3.7 3.7 0 1 0 7.4 0a3.7 3.7 0 1 0 -7.4 0M489.3 692.3a3.7 3.7 0 1 0 7.4 0a3.7 3.7 0 1 0 -7.4 0M443.9 698.9a3.7 3.7 0 1 0 7.4 0a3.7 3.7 0 1 0 -7.4 0M501.1 701.4a3.7 3.7 0 1 0 7.4 0a3.7 3.7 0 1 0 -7.4 0M495.4 703.9a3.7 3.7 0 1 0 7.4 0a3.7 3.7 0 1 0 -7.4 0M534.6 706.1a3.7 3.7 0 1 0 7.4 0a3.7 3.7 0 1 0 -7.4 0M512.3 713a3.7 3.7 0 1 0 7.4 0a3.7 3.7 0 1 0 -7.4 0M595.2 713.9a3.7 3.7 0 1 0 7.4 0a3.7 3.7 0 1 0 -7.4 0M453.8 717.6a3.7 3.7 0 1 0 7.4 0a3.7 3.7 0 1 0 -7.4 0M487.3 716.2a3.7 3.7 0 1 0 7.4 0a3.7 3.7 0 1 0 -7.4 0M532.4 716.2a3.7 3.7 0 1 0 7.4 0a3.7 3.7 0 1 0 -7.4 0M582.3 727.8a3.7 3.7 0 1 0 7.4 0a3.7 3.7 0 1 0 -7.4 0M519.3 730.6a3.7 3.7 0 1 0 7.4 0a3.7 3.7 0 1 0 -7.4 0M517.3 735.3a3.7 3.7 0 1 0 7.4 0a3.7 3.7 0 1 0 -7.4 0M483.8 736.9a3.7 3.7 0 1 0 7.4 0a3.7 3.7 0 1 0 -7.4 0M544.7 733.6a3.7 3.7 0 1 0 7.4 0a3.7 3.7 0 1 0 -7.4 0M539 739.2a3.7 3.7 0 1 0 7.4 0a3.7 3.7 0 1 0 -7.4 0M546.3 743.9a3.7 3.7 0 1 0 7.4 0a3.7 3.7 0 1 0 -7.4 0M474.4 742.7a3.7 3.7 0 1 0 7.4 0a3.7 3.7 0 1 0 -7.4 0M542.2 755.5a3.7 3.7 0 1 0 7.4 0a3.7 3.7 0 1 0 -7.4 0M472.4 770.9a3.7 3.7 0 1 0 7.4 0a3.7 3.7 0 1 0 -7.4 0M548.3 780.7a3.7 3.7 0 1 0 7.4 0a3.7 3.7 0 1 0 -7.4 0M534.9 791.6a3.7 3.7 0 1 0 7.4 0a3.7 3.7 0 1 0 -7.4 0M488.3 798.6a3.7 3.7 0 1 0 7.4 0a3.7 3.7 0 1 0 -7.4 0"/>
<path fill="#000" d="M420.9 508.1h3.4v3.6h-3.4zM420.9 520.73h3.4v3.6h-3.4zM420.9 533.36h3.4v3.6h-3.4zM420.9 545.99h3.4v3.6h-3.4zM420.9 558.62h3.4v3.6h-3.4zM420.9 571.25h3.4v3.6h-3.4zM420.9 583.88h3.4v3.6h-3.4zM420.9 596.51h3.4v3.6h-3.4zM420.9 609.14h3.4v3.6h-3.4zM420.9 621.77h3.4v3.6h-3.4zM420.9 634.4h3.4v3.6h-3.4zM420.9 647.03h3.4v3.6h-3.4zM420.9 659.66h3.4v3.6h-3.4zM420.9 672.29h3.4v3.6h-3.4zM420.9 684.92h3.4v3.6h-3.4zM420.9 697.55h3.4v3.6h-3.4zM420.9 710.18h3.4v3.6h-3.4zM420.9 722.81h3.4v3.6h-3.4zM420.9 735.44h3.4v3.6h-3.4zM420.9 748.07h3.4v3.6h-3.4zM420.9 760.7h3.4v3.6h-3.4zM420.9 773.33h3.4v3.6h-3.4zM420.9 785.96h3.4v3.6h-3.4zM420.9 798.59h3.4v3.6h-3.4zM420.9 811.22h3.4v3.6h-3.4zM420.9 823.85h3.4v3.6h-3.4zM420.9 836.48h3.4v3.6h-3.4zM420.9 849.11h3.4v3.6h-3.4zM420.9 861.74h3.4v3.6h-3.4zM420.9 874.37h3.4v3.6h-3.4zM420.9 887h3.4v3.6h-3.4zM420.9 899.63h3.4v3.6h-3.4z"/>
<path fill="#000" d="M249.17 671.5h3.6v3.4h-3.6zM261.8 671.5h3.6v3.4h-3.6zM274.43 671.5h3.6v3.4h-3.6zM287.06 671.5h3.6v3.4h-3.6zM299.69 671.5h3.6v3.4h-3.6zM312.32 671.5h3.6v3.4h-3.6zM324.95 671.5h3.6v3.4h-3.6zM337.58 671.5h3.6v3.4h-3.6zM350.21 671.5h3.6v3.4h-3.6zM362.84 671.5h3.6v3.4h-3.6zM375.47 671.5h3.6v3.4h-3.6zM388.1 671.5h3.6v3.4h-3.6zM400.73 671.5h3.6v3.4h-3.6zM413.36 671.5h3.6v3.4h-3.6zM425.99 671.5h3.6v3.4h-3.6zM438.62 671.5h3.6v3.4h-3.6zM451.25 671.5h3.6v3.4h-3.6zM463.88 671.5h3.6v3.4h-3.6zM476.51 671.5h3.6v3.4h-3.6zM489.14 671.5h3.6v3.4h-3.6zM501.77 671.5h3.6v3.4h-3.6zM514.4 671.5h3.6v3.4h-3.6zM527.03 671.5h3.6v3.4h-3.6zM539.66 671.5h3.6v3.4h-3.6zM552.29 671.5h3.6v3.4h-3.6zM564.92 671.5h3.6v3.4h-3.6zM577.55 671.5h3.6v3.4h-3.6zM590.18 671.5h3.6v3.4h-3.6zM602.81 671.5h3.6v3.4h-3.6z"/>
<rect x="249.8" y="500.7" width="365.2" height="401.7" fill="none" stroke="#333333" stroke-width="2.2"/>
<line x1="254.6" y1="902.4" x2="254.6" y2="906.2" stroke="#333333" stroke-width="2.4"/>
<line x1="338.6" y1="902.4" x2="338.6" y2="906.2" stroke="#333333" stroke-width="2.4"/>
<line x1="422.6" y1="902.4" x2="422.6" y2="906.2" stroke="#333333" stroke-width="2.4"/>
<line x1="506.6" y1="902.4" x2="506.6" y2="906.2" stroke="#333333" stroke-width="2.4"/>
<line x1="590.6" y1="902.4" x2="590.6" y2="906.2" stroke="#333333" stroke-width="2.4"/>
<line x1="246" y1="585" x2="249.8" y2="585" stroke="#333333" stroke-width="2.4"/>
<line x1="246" y1="673.2" x2="249.8" y2="673.2" stroke="#333333" stroke-width="2.4"/>
<line x1="246" y1="761.4" x2="249.8" y2="761.4" stroke="#333333" stroke-width="2.4"/>
<line x1="246" y1="849.6" x2="249.8" y2="849.6" stroke="#333333" stroke-width="2.4"/>
<text x="219.55" y="590" font-size="21" font-weight="bold" textLength="23.86" lengthAdjust="spacingAndGlyphs" fill="#000">20</text>
<text x="227.91" y="678.5" font-size="21" font-weight="bold" textLength="11.01" lengthAdjust="spacingAndGlyphs" fill="#000">0</text>
<text x="212.16" y="766.6" font-size="21" font-weight="bold" textLength="33.66" lengthAdjust="spacingAndGlyphs" fill="#000">−20</text>
<text x="212.16" y="854.8" font-size="21" font-weight="bold" textLength="33.66" lengthAdjust="spacingAndGlyphs" fill="#000">−40</text>
<text x="243.23" y="927.5" font-size="21" font-weight="bold" textLength="34.61" lengthAdjust="spacingAndGlyphs" fill="#000">−40</text>
<text x="327.55" y="927.5" font-size="21" font-weight="bold" textLength="34.08" lengthAdjust="spacingAndGlyphs" fill="#000">−20</text>
<text x="418.63" y="927.5" font-size="21" font-weight="bold" textLength="12.06" lengthAdjust="spacingAndGlyphs" fill="#000">0</text>
<text x="499.09" y="927.5" font-size="21" font-weight="bold" textLength="22.68" lengthAdjust="spacingAndGlyphs" fill="#000">20</text>
<text x="583.8" y="927.5" font-size="21" font-weight="bold" textLength="22.56" lengthAdjust="spacingAndGlyphs" fill="#000">40</text>
<text x="350.29" y="965.2" font-size="26" font-weight="bold" textLength="177.79" lengthAdjust="spacingAndGlyphs" fill="#000">PCA1 ( 27.3% )</text>
<text transform="translate(184.9,766.88) rotate(-90)" x="0" y="0" font-size="26" font-weight="bold" textLength="184.6" lengthAdjust="spacingAndGlyphs" fill="#000">PCA2 ( 10.2% )</text>
<text x="628.37" y="668.9" font-size="26" font-weight="bold" textLength="72.65" lengthAdjust="spacingAndGlyphs" fill="#000">group</text>
<circle cx="635.3" cy="697.8" r="5.7" fill="#1a4a9e"/>
<circle cx="635.3" cy="724.8" r="5.7" fill="#e4201e"/>
<text x="654.75" y="705" font-size="22.5" font-weight="bold" textLength="28.89" lengthAdjust="spacingAndGlyphs" fill="#000">HC</text>
<text x="654.78" y="733" font-size="22.5" font-weight="bold" textLength="54.14" lengthAdjust="spacingAndGlyphs" fill="#000">LUAD</text>
<text x="133.96" y="36.2" font-size="40" font-weight="bold" textLength="30.07" lengthAdjust="spacingAndGlyphs" fill="#000">A</text>
<rect x="808.3" y="23.8" width="403.5" height="402.1" fill="#fff"/>
<line x1="891.15" y1="23.8" x2="891.15" y2="425.9" stroke="#e9e9e9" stroke-width="1.8"/>
<line x1="985.05" y1="23.8" x2="985.05" y2="425.9" stroke="#e9e9e9" stroke-width="1.8"/>
<line x1="1078.95" y1="23.8" x2="1078.95" y2="425.9" stroke="#e9e9e9" stroke-width="1.8"/>
<line x1="1172.85" y1="23.8" x2="1172.85" y2="425.9" stroke="#e9e9e9" stroke-width="1.8"/>
<line x1="808.3" y1="354.8" x2="1211.8" y2="354.8" stroke="#e9e9e9" stroke-width="1.8"/>
<line x1="808.3" y1="249.2" x2="1211.8" y2="249.2" stroke="#e9e9e9" stroke-width="1.8"/>
<line x1="808.3" y1="143.6" x2="1211.8" y2="143.6" stroke="#e9e9e9" stroke-width="1.8"/>
<line x1="808.3" y1="38" x2="1211.8" y2="38" stroke="#e9e9e9" stroke-width="1.8"/>
<line x1="844.2" y1="23.8" x2="844.2" y2="425.9" stroke="#e9e9e9" stroke-width="3.2"/>
<line x1="938.1" y1="23.8" x2="938.1" y2="425.9" stroke="#e9e9e9" stroke-width="3.2"/>
<line x1="1032" y1="23.8" x2="1032" y2="425.9" stroke="#e9e9e9" stroke-width="3.2"/>
<line x1="1125.9" y1="23.8" x2="1125.9" y2="425.9" stroke="#e9e9e9" stroke-width="3.2"/>
<line x1="808.3" y1="407.6" x2="1211.8" y2="407.6" stroke="#e9e9e9" stroke-width="3.2"/>
<line x1="808.3" y1="302" x2="1211.8" y2="302" stroke="#e9e9e9" stroke-width="3.2"/>
<line x1="808.3" y1="196.4" x2="1211.8" y2="196.4" stroke="#e9e9e9" stroke-width="3.2"/>
<line x1="808.3" y1="90.8" x2="1211.8" y2="90.8" stroke="#e9e9e9" stroke-width="3.2"/>
<polygon fill="#808080" points="941.48,343 943.91,359.15 951.61,376.49 958.74,386.29 972.59,389.06 972.91,389.14 973.22,389.26 991.16,397.23 1013.86,406.12 1031.85,409.9 1046.61,405.29 1061.96,393.78 1078.71,375.06 1090.31,360.56 1095.9,343 1038.79,343 1036.99,368.21 1036.98,368.37 1034.98,384.37 1034.93,384.66 1034.85,384.94 1034.74,385.21 1034.61,385.47 1034.46,385.72 1034.28,385.95 1034.08,386.16 1033.86,386.35 1033.63,386.52 1033.37,386.67 1033.11,386.79 1032.83,386.88 1032.55,386.95 1032.26,386.99 1031.97,387 1031.68,386.98 1031.39,386.94 1031.11,386.87 1030.84,386.77 1030.57,386.64 1030.33,386.49 1030.09,386.32 1029.88,386.12 1029.68,385.9 1029.51,385.67 1029.36,385.42 1029.23,385.16 1029.13,384.88 1029.06,384.6 1029.02,384.31 1027.02,365.39 1023.44,343 941.48,343"/>
<path fill="#808080" d="M1007.91 380.64a3.4 3.4 0 1 0 6.8 0a3.4 3.4 0 1 0 -6.8 0M1016.67 382.57a3.4 3.4 0 1 0 6.8 0a3.4 3.4 0 1 0 -6.8 0M965.63 377.3a3.4 3.4 0 1 0 6.8 0a3.4 3.4 0 1 0 -6.8 0M1035.95 396.91a3.4 3.4 0 1 0 6.8 0a3.4 3.4 0 1 0 -6.8 0M951.33 362.76a3.4 3.4 0 1 0 6.8 0a3.4 3.4 0 1 0 -6.8 0M1045.99 344.52a3.4 3.4 0 1 0 6.8 0a3.4 3.4 0 1 0 -6.8 0M1039.75 384.53a3.4 3.4 0 1 0 6.8 0a3.4 3.4 0 1 0 -6.8 0M961.33 342.65a3.4 3.4 0 1 0 6.8 0a3.4 3.4 0 1 0 -6.8 0M1019.92 345.75a3.4 3.4 0 1 0 6.8 0a3.4 3.4 0 1 0 -6.8 0M966.5 358.48a3.4 3.4 0 1 0 6.8 0a3.4 3.4 0 1 0 -6.8 0M1006.04 400.36a3.4 3.4 0 1 0 6.8 0a3.4 3.4 0 1 0 -6.8 0M1018.46 386.26a3.4 3.4 0 1 0 6.8 0a3.4 3.4 0 1 0 -6.8 0M1015.4 387.8a3.4 3.4 0 1 0 6.8 0a3.4 3.4 0 1 0 -6.8 0M1008.69 361a3.4 3.4 0 1 0 6.8 0a3.4 3.4 0 1 0 -6.8 0M986.26 357.62a3.4 3.4 0 1 0 6.8 0a3.4 3.4 0 1 0 -6.8 0M982.11 346.5a3.4 3.4 0 1 0 6.8 0a3.4 3.4 0 1 0 -6.8 0M1057.5 369.53a3.4 3.4 0 1 0 6.8 0a3.4 3.4 0 1 0 -6.8 0M1070.18 368.56a3.4 3.4 0 1 0 6.8 0a3.4 3.4 0 1 0 -6.8 0M1059.43 360.42a3.4 3.4 0 1 0 6.8 0a3.4 3.4 0 1 0 -6.8 0M950.22 364.8a3.4 3.4 0 1 0 6.8 0a3.4 3.4 0 1 0 -6.8 0M955.1 358.79a3.4 3.4 0 1 0 6.8 0a3.4 3.4 0 1 0 -6.8 0M952.42 345.78a3.4 3.4 0 1 0 6.8 0a3.4 3.4 0 1 0 -6.8 0M1062.35 353.99a3.4 3.4 0 1 0 6.8 0a3.4 3.4 0 1 0 -6.8 0M1024.8 372.81a3.4 3.4 0 1 0 6.8 0a3.4 3.4 0 1 0 -6.8 0M957.14 386.5a3.4 3.4 0 1 0 6.8 0a3.4 3.4 0 1 0 -6.8 0M954.86 370.95a3.4 3.4 0 1 0 6.8 0a3.4 3.4 0 1 0 -6.8 0M970.08 360.42a3.4 3.4 0 1 0 6.8 0a3.4 3.4 0 1 0 -6.8 0M969.74 369.1a3.4 3.4 0 1 0 6.8 0a3.4 3.4 0 1 0 -6.8 0M970.14 359.61a3.4 3.4 0 1 0 6.8 0a3.4 3.4 0 1 0 -6.8 0M1058.51 364.54a3.4 3.4 0 1 0 6.8 0a3.4 3.4 0 1 0 -6.8 0M983.26 346.72a3.4 3.4 0 1 0 6.8 0a3.4 3.4 0 1 0 -6.8 0M950.69 382.24a3.4 3.4 0 1 0 6.8 0a3.4 3.4 0 1 0 -6.8 0M974.84 383.54a3.4 3.4 0 1 0 6.8 0a3.4 3.4 0 1 0 -6.8 0M995.17 373.21a3.4 3.4 0 1 0 6.8 0a3.4 3.4 0 1 0 -6.8 0M1027.21 402.04a3.4 3.4 0 1 0 6.8 0a3.4 3.4 0 1 0 -6.8 0M965.34 352.35a3.4 3.4 0 1 0 6.8 0a3.4 3.4 0 1 0 -6.8 0M975.87 354.84a3.4 3.4 0 1 0 6.8 0a3.4 3.4 0 1 0 -6.8 0M1003.03 348.84a3.4 3.4 0 1 0 6.8 0a3.4 3.4 0 1 0 -6.8 0M974.12 390.74a3.4 3.4 0 1 0 6.8 0a3.4 3.4 0 1 0 -6.8 0M947.32 357.53a3.4 3.4 0 1 0 6.8 0a3.4 3.4 0 1 0 -6.8 0M1024.81 401.05a3.4 3.4 0 1 0 6.8 0a3.4 3.4 0 1 0 -6.8 0M1033.49 361.14a3.4 3.4 0 1 0 6.8 0a3.4 3.4 0 1 0 -6.8 0M1081.36 355.83a3.4 3.4 0 1 0 6.8 0a3.4 3.4 0 1 0 -6.8 0M1006.86 345.82a3.4 3.4 0 1 0 6.8 0a3.4 3.4 0 1 0 -6.8 0M964.3 367.32a3.4 3.4 0 1 0 6.8 0a3.4 3.4 0 1 0 -6.8 0M1045.64 382.36a3.4 3.4 0 1 0 6.8 0a3.4 3.4 0 1 0 -6.8 0M958.63 344.05a3.4 3.4 0 1 0 6.8 0a3.4 3.4 0 1 0 -6.8 0M1012.63 392.55a3.4 3.4 0 1 0 6.8 0a3.4 3.4 0 1 0 -6.8 0M1052.88 390.68a3.4 3.4 0 1 0 6.8 0a3.4 3.4 0 1 0 -6.8 0M992.03 389.39a3.4 3.4 0 1 0 6.8 0a3.4 3.4 0 1 0 -6.8 0M1002.35 396.74a3.4 3.4 0 1 0 6.8 0a3.4 3.4 0 1 0 -6.8 0M1035.17 368.27a3.4 3.4 0 1 0 6.8 0a3.4 3.4 0 1 0 -6.8 0M1051.48 368.69a3.4 3.4 0 1 0 6.8 0a3.4 3.4 0 1 0 -6.8 0M1052.56 382.12a3.4 3.4 0 1 0 6.8 0a3.4 3.4 0 1 0 -6.8 0M1006.04 400.07a3.4 3.4 0 1 0 6.8 0a3.4 3.4 0 1 0 -6.8 0M1012.43 357.66a3.4 3.4 0 1 0 6.8 0a3.4 3.4 0 1 0 -6.8 0M1046.76 376.28a3.4 3.4 0 1 0 6.8 0a3.4 3.4 0 1 0 -6.8 0M1033.52 405.8a3.4 3.4 0 1 0 6.8 0a3.4 3.4 0 1 0 -6.8 0M976.87 342.39a3.4 3.4 0 1 0 6.8 0a3.4 3.4 0 1 0 -6.8 0M984.01 388.9a3.4 3.4 0 1 0 6.8 0a3.4 3.4 0 1 0 -6.8 0M968.46 353.43a3.4 3.4 0 1 0 6.8 0a3.4 3.4 0 1 0 -6.8 0M1006.26 403.8a3.4 3.4 0 1 0 6.8 0a3.4 3.4 0 1 0 -6.8 0M988.1 388.05a3.4 3.4 0 1 0 6.8 0a3.4 3.4 0 1 0 -6.8 0M967.81 371.65a3.4 3.4 0 1 0 6.8 0a3.4 3.4 0 1 0 -6.8 0M1075.5 368.41a3.4 3.4 0 1 0 6.8 0a3.4 3.4 0 1 0 -6.8 0M957.97 376.23a3.4 3.4 0 1 0 6.8 0a3.4 3.4 0 1 0 -6.8 0M980.18 353.4a3.4 3.4 0 1 0 6.8 0a3.4 3.4 0 1 0 -6.8 0M1007.64 360.79a3.4 3.4 0 1 0 6.8 0a3.4 3.4 0 1 0 -6.8 0M970.27 370.47a3.4 3.4 0 1 0 6.8 0a3.4 3.4 0 1 0 -6.8 0M1035.29 376.05a3.4 3.4 0 1 0 6.8 0a3.4 3.4 0 1 0 -6.8 0M948.25 343.8a3.4 3.4 0 1 0 6.8 0a3.4 3.4 0 1 0 -6.8 0M1074.32 344.49a3.4 3.4 0 1 0 6.8 0a3.4 3.4 0 1 0 -6.8 0M1048.39 381.4a3.4 3.4 0 1 0 6.8 0a3.4 3.4 0 1 0 -6.8 0M985.27 396.81a3.4 3.4 0 1 0 6.8 0a3.4 3.4 0 1 0 -6.8 0M939.48 351.08a3.4 3.4 0 1 0 6.8 0a3.4 3.4 0 1 0 -6.8 0M1008.3 343.32a3.4 3.4 0 1 0 6.8 0a3.4 3.4 0 1 0 -6.8 0M1067.51 358.16a3.4 3.4 0 1 0 6.8 0a3.4 3.4 0 1 0 -6.8 0M958.71 344.87a3.4 3.4 0 1 0 6.8 0a3.4 3.4 0 1 0 -6.8 0M1035.84 372.74a3.4 3.4 0 1 0 6.8 0a3.4 3.4 0 1 0 -6.8 0M1035.96 387.29a3.4 3.4 0 1 0 6.8 0a3.4 3.4 0 1 0 -6.8 0M1044.58 355.5a3.4 3.4 0 1 0 6.8 0a3.4 3.4 0 1 0 -6.8 0M1011.51 354.06a3.4 3.4 0 1 0 6.8 0a3.4 3.4 0 1 0 -6.8 0M1049.26 354.09a3.4 3.4 0 1 0 6.8 0a3.4 3.4 0 1 0 -6.8 0M979.48 365.71a3.4 3.4 0 1 0 6.8 0a3.4 3.4 0 1 0 -6.8 0M1046.6 377.9a3.4 3.4 0 1 0 6.8 0a3.4 3.4 0 1 0 -6.8 0M1033.51 394.34a3.4 3.4 0 1 0 6.8 0a3.4 3.4 0 1 0 -6.8 0M998.62 396.84a3.4 3.4 0 1 0 6.8 0a3.4 3.4 0 1 0 -6.8 0M1079.6 347.68a3.4 3.4 0 1 0 6.8 0a3.4 3.4 0 1 0 -6.8 0M956.98 373.23a3.4 3.4 0 1 0 6.8 0a3.4 3.4 0 1 0 -6.8 0M1035.27 405.07a3.4 3.4 0 1 0 6.8 0a3.4 3.4 0 1 0 -6.8 0M995.98 381.27a3.4 3.4 0 1 0 6.8 0a3.4 3.4 0 1 0 -6.8 0M1039.34 355.89a3.4 3.4 0 1 0 6.8 0a3.4 3.4 0 1 0 -6.8 0M1050.49 398.68a3.4 3.4 0 1 0 6.8 0a3.4 3.4 0 1 0 -6.8 0M1037.8 391.66a3.4 3.4 0 1 0 6.8 0a3.4 3.4 0 1 0 -6.8 0M1021.27 396.76a3.4 3.4 0 1 0 6.8 0a3.4 3.4 0 1 0 -6.8 0M1071.63 365.91a3.4 3.4 0 1 0 6.8 0a3.4 3.4 0 1 0 -6.8 0M949.53 372.35a3.4 3.4 0 1 0 6.8 0a3.4 3.4 0 1 0 -6.8 0M1023.38 395.18a3.4 3.4 0 1 0 6.8 0a3.4 3.4 0 1 0 -6.8 0M1013.45 343.58a3.4 3.4 0 1 0 6.8 0a3.4 3.4 0 1 0 -6.8 0M1064.26 346.07a3.4 3.4 0 1 0 6.8 0a3.4 3.4 0 1 0 -6.8 0M1062.8 353.66a3.4 3.4 0 1 0 6.8 0a3.4 3.4 0 1 0 -6.8 0M989.37 396.56a3.4 3.4 0 1 0 6.8 0a3.4 3.4 0 1 0 -6.8 0M958.65 351.97a3.4 3.4 0 1 0 6.8 0a3.4 3.4 0 1 0 -6.8 0M1018.05 392.07a3.4 3.4 0 1 0 6.8 0a3.4 3.4 0 1 0 -6.8 0M1086.38 347.6a3.4 3.4 0 1 0 6.8 0a3.4 3.4 0 1 0 -6.8 0M971.43 378.33a3.4 3.4 0 1 0 6.8 0a3.4 3.4 0 1 0 -6.8 0M982.29 392.44a3.4 3.4 0 1 0 6.8 0a3.4 3.4 0 1 0 -6.8 0M1037.37 378.06a3.4 3.4 0 1 0 6.8 0a3.4 3.4 0 1 0 -6.8 0M1069.71 380.66a3.4 3.4 0 1 0 6.8 0a3.4 3.4 0 1 0 -6.8 0M985.69 368.19a3.4 3.4 0 1 0 6.8 0a3.4 3.4 0 1 0 -6.8 0M1021.11 376.7a3.4 3.4 0 1 0 6.8 0a3.4 3.4 0 1 0 -6.8 0M999.73 397.47a3.4 3.4 0 1 0 6.8 0a3.4 3.4 0 1 0 -6.8 0M1025.36 375.85a3.4 3.4 0 1 0 6.8 0a3.4 3.4 0 1 0 -6.8 0M1045.6 346.2a3.4 3.4 0 1 0 6.8 0a3.4 3.4 0 1 0 -6.8 0M1021.55 370.46a3.4 3.4 0 1 0 6.8 0a3.4 3.4 0 1 0 -6.8 0M978.98 374.6a3.4 3.4 0 1 0 6.8 0a3.4 3.4 0 1 0 -6.8 0M956.51 371.85a3.4 3.4 0 1 0 6.8 0a3.4 3.4 0 1 0 -6.8 0M1011.73 363.73a3.4 3.4 0 1 0 6.8 0a3.4 3.4 0 1 0 -6.8 0M966.7 384.7a3.4 3.4 0 1 0 6.8 0a3.4 3.4 0 1 0 -6.8 0M1082.61 350.63a3.4 3.4 0 1 0 6.8 0a3.4 3.4 0 1 0 -6.8 0"/>
<polygon fill="#808080" points="941,339.4 944.76,354.44 953.4,375.55 959.9,384.48 972.98,387.1 973.51,387.24 974.03,387.43 991.93,395.39 1014.44,404.19 1031.99,407.89 1038.64,406.46 1028.53,386.24 1028.32,385.77 1028.17,385.28 1028.06,384.77 1028.01,384.26 1027.01,365.33 1025.02,340.45 1023.03,320.51 1021.05,301.72 1018.09,285.93 1014.15,265.26 1010.63,254.7 1004.46,248.54 1004.11,248.14 1003.8,247.72 1003.54,247.26 1003.33,246.78 1003.16,246.27 998.16,227.27 998.05,226.73 998,226.17 998.01,225.62 998.97,213.22 997.6,205 941.78,205 941,339.4"/>
<path fill="#808080" d="M958.3 334.93a3.4 3.4 0 1 0 6.8 0a3.4 3.4 0 1 0 -6.8 0M971.88 318.5a3.4 3.4 0 1 0 6.8 0a3.4 3.4 0 1 0 -6.8 0M960.77 215.43a3.4 3.4 0 1 0 6.8 0a3.4 3.4 0 1 0 -6.8 0M980.52 258.91a3.4 3.4 0 1 0 6.8 0a3.4 3.4 0 1 0 -6.8 0M990.34 206.15a3.4 3.4 0 1 0 6.8 0a3.4 3.4 0 1 0 -6.8 0M1001.15 323.07a3.4 3.4 0 1 0 6.8 0a3.4 3.4 0 1 0 -6.8 0M958.87 348.06a3.4 3.4 0 1 0 6.8 0a3.4 3.4 0 1 0 -6.8 0M947.56 265.51a3.4 3.4 0 1 0 6.8 0a3.4 3.4 0 1 0 -6.8 0M936.08 216.22a3.4 3.4 0 1 0 6.8 0a3.4 3.4 0 1 0 -6.8 0M1030.85 403.64a3.4 3.4 0 1 0 6.8 0a3.4 3.4 0 1 0 -6.8 0M987.83 352.3a3.4 3.4 0 1 0 6.8 0a3.4 3.4 0 1 0 -6.8 0M945.46 176.29a3.4 3.4 0 1 0 6.8 0a3.4 3.4 0 1 0 -6.8 0M988.8 306.04a3.4 3.4 0 1 0 6.8 0a3.4 3.4 0 1 0 -6.8 0M953.77 216.94a3.4 3.4 0 1 0 6.8 0a3.4 3.4 0 1 0 -6.8 0M988.84 272.18a3.4 3.4 0 1 0 6.8 0a3.4 3.4 0 1 0 -6.8 0M935.61 338.35a3.4 3.4 0 1 0 6.8 0a3.4 3.4 0 1 0 -6.8 0M953.42 278.01a3.4 3.4 0 1 0 6.8 0a3.4 3.4 0 1 0 -6.8 0M977.18 214.8a3.4 3.4 0 1 0 6.8 0a3.4 3.4 0 1 0 -6.8 0M1019.22 339.24a3.4 3.4 0 1 0 6.8 0a3.4 3.4 0 1 0 -6.8 0M1000.94 265.93a3.4 3.4 0 1 0 6.8 0a3.4 3.4 0 1 0 -6.8 0M1016.7 366.1a3.4 3.4 0 1 0 6.8 0a3.4 3.4 0 1 0 -6.8 0M1015.57 354.03a3.4 3.4 0 1 0 6.8 0a3.4 3.4 0 1 0 -6.8 0M1001.93 319.54a3.4 3.4 0 1 0 6.8 0a3.4 3.4 0 1 0 -6.8 0M1004.16 306.25a3.4 3.4 0 1 0 6.8 0a3.4 3.4 0 1 0 -6.8 0M1008.56 353.18a3.4 3.4 0 1 0 6.8 0a3.4 3.4 0 1 0 -6.8 0M936.62 317.44a3.4 3.4 0 1 0 6.8 0a3.4 3.4 0 1 0 -6.8 0M961.42 265.21a3.4 3.4 0 1 0 6.8 0a3.4 3.4 0 1 0 -6.8 0M954.93 258.89a3.4 3.4 0 1 0 6.8 0a3.4 3.4 0 1 0 -6.8 0M960.81 388.32a3.4 3.4 0 1 0 6.8 0a3.4 3.4 0 1 0 -6.8 0M942.28 313.07a3.4 3.4 0 1 0 6.8 0a3.4 3.4 0 1 0 -6.8 0M984.23 208.45a3.4 3.4 0 1 0 6.8 0a3.4 3.4 0 1 0 -6.8 0M978.81 295.79a3.4 3.4 0 1 0 6.8 0a3.4 3.4 0 1 0 -6.8 0M972.97 236.93a3.4 3.4 0 1 0 6.8 0a3.4 3.4 0 1 0 -6.8 0M993.65 236.39a3.4 3.4 0 1 0 6.8 0a3.4 3.4 0 1 0 -6.8 0M965.59 170.57a3.4 3.4 0 1 0 6.8 0a3.4 3.4 0 1 0 -6.8 0M938.74 205.39a3.4 3.4 0 1 0 6.8 0a3.4 3.4 0 1 0 -6.8 0M975.55 386.34a3.4 3.4 0 1 0 6.8 0a3.4 3.4 0 1 0 -6.8 0M989.7 396.04a3.4 3.4 0 1 0 6.8 0a3.4 3.4 0 1 0 -6.8 0M982.52 216.88a3.4 3.4 0 1 0 6.8 0a3.4 3.4 0 1 0 -6.8 0M990.2 197.51a3.4 3.4 0 1 0 6.8 0a3.4 3.4 0 1 0 -6.8 0M1005.03 278.4a3.4 3.4 0 1 0 6.8 0a3.4 3.4 0 1 0 -6.8 0M995.94 269.6a3.4 3.4 0 1 0 6.8 0a3.4 3.4 0 1 0 -6.8 0M972.29 233.45a3.4 3.4 0 1 0 6.8 0a3.4 3.4 0 1 0 -6.8 0M994.1 311.64a3.4 3.4 0 1 0 6.8 0a3.4 3.4 0 1 0 -6.8 0M938.39 181.99a3.4 3.4 0 1 0 6.8 0a3.4 3.4 0 1 0 -6.8 0M979.29 319.38a3.4 3.4 0 1 0 6.8 0a3.4 3.4 0 1 0 -6.8 0M1005.92 301.62a3.4 3.4 0 1 0 6.8 0a3.4 3.4 0 1 0 -6.8 0M973.78 284.02a3.4 3.4 0 1 0 6.8 0a3.4 3.4 0 1 0 -6.8 0M970.65 349.05a3.4 3.4 0 1 0 6.8 0a3.4 3.4 0 1 0 -6.8 0M1000.34 354.89a3.4 3.4 0 1 0 6.8 0a3.4 3.4 0 1 0 -6.8 0M979.2 230.17a3.4 3.4 0 1 0 6.8 0a3.4 3.4 0 1 0 -6.8 0M973.33 326.78a3.4 3.4 0 1 0 6.8 0a3.4 3.4 0 1 0 -6.8 0M968.71 301.13a3.4 3.4 0 1 0 6.8 0a3.4 3.4 0 1 0 -6.8 0M943.01 304.94a3.4 3.4 0 1 0 6.8 0a3.4 3.4 0 1 0 -6.8 0M942.27 219.23a3.4 3.4 0 1 0 6.8 0a3.4 3.4 0 1 0 -6.8 0M942.87 241.34a3.4 3.4 0 1 0 6.8 0a3.4 3.4 0 1 0 -6.8 0M972.14 344.44a3.4 3.4 0 1 0 6.8 0a3.4 3.4 0 1 0 -6.8 0M946.65 340.36a3.4 3.4 0 1 0 6.8 0a3.4 3.4 0 1 0 -6.8 0M1031.61 396.7a3.4 3.4 0 1 0 6.8 0a3.4 3.4 0 1 0 -6.8 0M980.65 363.26a3.4 3.4 0 1 0 6.8 0a3.4 3.4 0 1 0 -6.8 0M967.88 264.73a3.4 3.4 0 1 0 6.8 0a3.4 3.4 0 1 0 -6.8 0M972.97 255.87a3.4 3.4 0 1 0 6.8 0a3.4 3.4 0 1 0 -6.8 0M975.3 214.76a3.4 3.4 0 1 0 6.8 0a3.4 3.4 0 1 0 -6.8 0M1018.73 299.16a3.4 3.4 0 1 0 6.8 0a3.4 3.4 0 1 0 -6.8 0M993.88 210.27a3.4 3.4 0 1 0 6.8 0a3.4 3.4 0 1 0 -6.8 0M988.88 300.04a3.4 3.4 0 1 0 6.8 0a3.4 3.4 0 1 0 -6.8 0M940.99 300.69a3.4 3.4 0 1 0 6.8 0a3.4 3.4 0 1 0 -6.8 0M949.46 349.28a3.4 3.4 0 1 0 6.8 0a3.4 3.4 0 1 0 -6.8 0M960.23 220.98a3.4 3.4 0 1 0 6.8 0a3.4 3.4 0 1 0 -6.8 0M989.51 353.9a3.4 3.4 0 1 0 6.8 0a3.4 3.4 0 1 0 -6.8 0M986.55 298.37a3.4 3.4 0 1 0 6.8 0a3.4 3.4 0 1 0 -6.8 0M1009.3 390.6a3.4 3.4 0 1 0 6.8 0a3.4 3.4 0 1 0 -6.8 0M1021.82 329.97a3.4 3.4 0 1 0 6.8 0a3.4 3.4 0 1 0 -6.8 0M1019.66 370.78a3.4 3.4 0 1 0 6.8 0a3.4 3.4 0 1 0 -6.8 0M1009.5 363.07a3.4 3.4 0 1 0 6.8 0a3.4 3.4 0 1 0 -6.8 0M955.87 270.92a3.4 3.4 0 1 0 6.8 0a3.4 3.4 0 1 0 -6.8 0M946.38 325.39a3.4 3.4 0 1 0 6.8 0a3.4 3.4 0 1 0 -6.8 0M953.23 182.37a3.4 3.4 0 1 0 6.8 0a3.4 3.4 0 1 0 -6.8 0M996.14 389.21a3.4 3.4 0 1 0 6.8 0a3.4 3.4 0 1 0 -6.8 0M945.73 212.21a3.4 3.4 0 1 0 6.8 0a3.4 3.4 0 1 0 -6.8 0M959.16 342.31a3.4 3.4 0 1 0 6.8 0a3.4 3.4 0 1 0 -6.8 0M957.95 212.32a3.4 3.4 0 1 0 6.8 0a3.4 3.4 0 1 0 -6.8 0M952.5 352.14a3.4 3.4 0 1 0 6.8 0a3.4 3.4 0 1 0 -6.8 0M992.34 366.7a3.4 3.4 0 1 0 6.8 0a3.4 3.4 0 1 0 -6.8 0M961.82 383.87a3.4 3.4 0 1 0 6.8 0a3.4 3.4 0 1 0 -6.8 0M970.48 300.82a3.4 3.4 0 1 0 6.8 0a3.4 3.4 0 1 0 -6.8 0M985.38 221.12a3.4 3.4 0 1 0 6.8 0a3.4 3.4 0 1 0 -6.8 0M990.15 293.12a3.4 3.4 0 1 0 6.8 0a3.4 3.4 0 1 0 -6.8 0M935.35 282.57a3.4 3.4 0 1 0 6.8 0a3.4 3.4 0 1 0 -6.8 0M1018.69 341.34a3.4 3.4 0 1 0 6.8 0a3.4 3.4 0 1 0 -6.8 0M950.88 205.46a3.4 3.4 0 1 0 6.8 0a3.4 3.4 0 1 0 -6.8 0M961.71 379.43a3.4 3.4 0 1 0 6.8 0a3.4 3.4 0 1 0 -6.8 0M978.42 391.03a3.4 3.4 0 1 0 6.8 0a3.4 3.4 0 1 0 -6.8 0M989.95 205.62a3.4 3.4 0 1 0 6.8 0a3.4 3.4 0 1 0 -6.8 0M967.22 243.03a3.4 3.4 0 1 0 6.8 0a3.4 3.4 0 1 0 -6.8 0M966.62 281.25a3.4 3.4 0 1 0 6.8 0a3.4 3.4 0 1 0 -6.8 0M972.35 334.95a3.4 3.4 0 1 0 6.8 0a3.4 3.4 0 1 0 -6.8 0M976.01 279.91a3.4 3.4 0 1 0 6.8 0a3.4 3.4 0 1 0 -6.8 0M1022.19 326.85a3.4 3.4 0 1 0 6.8 0a3.4 3.4 0 1 0 -6.8 0M974.19 340.54a3.4 3.4 0 1 0 6.8 0a3.4 3.4 0 1 0 -6.8 0M994.02 279.02a3.4 3.4 0 1 0 6.8 0a3.4 3.4 0 1 0 -6.8 0M999.53 238.06a3.4 3.4 0 1 0 6.8 0a3.4 3.4 0 1 0 -6.8 0M991.44 239.97a3.4 3.4 0 1 0 6.8 0a3.4 3.4 0 1 0 -6.8 0M975.79 329.96a3.4 3.4 0 1 0 6.8 0a3.4 3.4 0 1 0 -6.8 0M955.4 345.78a3.4 3.4 0 1 0 6.8 0a3.4 3.4 0 1 0 -6.8 0M969.37 369.09a3.4 3.4 0 1 0 6.8 0a3.4 3.4 0 1 0 -6.8 0M958.23 205.51a3.4 3.4 0 1 0 6.8 0a3.4 3.4 0 1 0 -6.8 0M979.48 292.08a3.4 3.4 0 1 0 6.8 0a3.4 3.4 0 1 0 -6.8 0M1015.52 367.68a3.4 3.4 0 1 0 6.8 0a3.4 3.4 0 1 0 -6.8 0M969.35 267.8a3.4 3.4 0 1 0 6.8 0a3.4 3.4 0 1 0 -6.8 0M976.69 338.07a3.4 3.4 0 1 0 6.8 0a3.4 3.4 0 1 0 -6.8 0M1017.94 328.39a3.4 3.4 0 1 0 6.8 0a3.4 3.4 0 1 0 -6.8 0M936.17 247.98a3.4 3.4 0 1 0 6.8 0a3.4 3.4 0 1 0 -6.8 0M988.22 359.72a3.4 3.4 0 1 0 6.8 0a3.4 3.4 0 1 0 -6.8 0M960.14 307.93a3.4 3.4 0 1 0 6.8 0a3.4 3.4 0 1 0 -6.8 0M993.66 303.99a3.4 3.4 0 1 0 6.8 0a3.4 3.4 0 1 0 -6.8 0M1030.63 409.44a3.4 3.4 0 1 0 6.8 0a3.4 3.4 0 1 0 -6.8 0M964.8 386.21a3.4 3.4 0 1 0 6.8 0a3.4 3.4 0 1 0 -6.8 0M995.03 370.03a3.4 3.4 0 1 0 6.8 0a3.4 3.4 0 1 0 -6.8 0M1012.43 260.35a3.4 3.4 0 1 0 6.8 0a3.4 3.4 0 1 0 -6.8 0M983.83 202.06a3.4 3.4 0 1 0 6.8 0a3.4 3.4 0 1 0 -6.8 0M994.6 209.56a3.4 3.4 0 1 0 6.8 0a3.4 3.4 0 1 0 -6.8 0M962.16 305.87a3.4 3.4 0 1 0 6.8 0a3.4 3.4 0 1 0 -6.8 0M984.03 267.62a3.4 3.4 0 1 0 6.8 0a3.4 3.4 0 1 0 -6.8 0M1007.3 352.27a3.4 3.4 0 1 0 6.8 0a3.4 3.4 0 1 0 -6.8 0M994.22 388.22a3.4 3.4 0 1 0 6.8 0a3.4 3.4 0 1 0 -6.8 0M989.87 272.7a3.4 3.4 0 1 0 6.8 0a3.4 3.4 0 1 0 -6.8 0M941.6 197.54a3.4 3.4 0 1 0 6.8 0a3.4 3.4 0 1 0 -6.8 0M987.5 264.03a3.4 3.4 0 1 0 6.8 0a3.4 3.4 0 1 0 -6.8 0M1007.89 295.66a3.4 3.4 0 1 0 6.8 0a3.4 3.4 0 1 0 -6.8 0M966.68 263.74a3.4 3.4 0 1 0 6.8 0a3.4 3.4 0 1 0 -6.8 0M1004.8 378.76a3.4 3.4 0 1 0 6.8 0a3.4 3.4 0 1 0 -6.8 0M994.31 387.78a3.4 3.4 0 1 0 6.8 0a3.4 3.4 0 1 0 -6.8 0M965.94 246.46a3.4 3.4 0 1 0 6.8 0a3.4 3.4 0 1 0 -6.8 0M972.01 310.14a3.4 3.4 0 1 0 6.8 0a3.4 3.4 0 1 0 -6.8 0M987.06 395.23a3.4 3.4 0 1 0 6.8 0a3.4 3.4 0 1 0 -6.8 0M984.32 217.58a3.4 3.4 0 1 0 6.8 0a3.4 3.4 0 1 0 -6.8 0M952.43 381.99a3.4 3.4 0 1 0 6.8 0a3.4 3.4 0 1 0 -6.8 0M955.62 321.59a3.4 3.4 0 1 0 6.8 0a3.4 3.4 0 1 0 -6.8 0M1008 396.18a3.4 3.4 0 1 0 6.8 0a3.4 3.4 0 1 0 -6.8 0M942.58 221.66a3.4 3.4 0 1 0 6.8 0a3.4 3.4 0 1 0 -6.8 0M959.17 329.45a3.4 3.4 0 1 0 6.8 0a3.4 3.4 0 1 0 -6.8 0M973.7 328.82a3.4 3.4 0 1 0 6.8 0a3.4 3.4 0 1 0 -6.8 0M996.76 223.07a3.4 3.4 0 1 0 6.8 0a3.4 3.4 0 1 0 -6.8 0M980.9 296.17a3.4 3.4 0 1 0 6.8 0a3.4 3.4 0 1 0 -6.8 0M939.01 313.6a3.4 3.4 0 1 0 6.8 0a3.4 3.4 0 1 0 -6.8 0M960.81 363.31a3.4 3.4 0 1 0 6.8 0a3.4 3.4 0 1 0 -6.8 0M964.44 351.7a3.4 3.4 0 1 0 6.8 0a3.4 3.4 0 1 0 -6.8 0M963.8 301a3.4 3.4 0 1 0 6.8 0a3.4 3.4 0 1 0 -6.8 0M1029.33 408.37a3.4 3.4 0 1 0 6.8 0a3.4 3.4 0 1 0 -6.8 0M983.15 350.45a3.4 3.4 0 1 0 6.8 0a3.4 3.4 0 1 0 -6.8 0M993.16 324.66a3.4 3.4 0 1 0 6.8 0a3.4 3.4 0 1 0 -6.8 0M1004.01 358.37a3.4 3.4 0 1 0 6.8 0a3.4 3.4 0 1 0 -6.8 0M987.82 373.61a3.4 3.4 0 1 0 6.8 0a3.4 3.4 0 1 0 -6.8 0M959.16 274.71a3.4 3.4 0 1 0 6.8 0a3.4 3.4 0 1 0 -6.8 0M1017.61 360.35a3.4 3.4 0 1 0 6.8 0a3.4 3.4 0 1 0 -6.8 0M986.07 221.17a3.4 3.4 0 1 0 6.8 0a3.4 3.4 0 1 0 -6.8 0M1009.99 306.99a3.4 3.4 0 1 0 6.8 0a3.4 3.4 0 1 0 -6.8 0M953.29 204.22a3.4 3.4 0 1 0 6.8 0a3.4 3.4 0 1 0 -6.8 0M986.81 273.29a3.4 3.4 0 1 0 6.8 0a3.4 3.4 0 1 0 -6.8 0M962.08 362.16a3.4 3.4 0 1 0 6.8 0a3.4 3.4 0 1 0 -6.8 0M967.18 177.48a3.4 3.4 0 1 0 6.8 0a3.4 3.4 0 1 0 -6.8 0M1000.08 295.47a3.4 3.4 0 1 0 6.8 0a3.4 3.4 0 1 0 -6.8 0M952.4 229.38a3.4 3.4 0 1 0 6.8 0a3.4 3.4 0 1 0 -6.8 0M1007.44 370.07a3.4 3.4 0 1 0 6.8 0a3.4 3.4 0 1 0 -6.8 0M940.68 267.43a3.4 3.4 0 1 0 6.8 0a3.4 3.4 0 1 0 -6.8 0M986.11 353.06a3.4 3.4 0 1 0 6.8 0a3.4 3.4 0 1 0 -6.8 0M949.53 278.34a3.4 3.4 0 1 0 6.8 0a3.4 3.4 0 1 0 -6.8 0M938.36 225.91a3.4 3.4 0 1 0 6.8 0a3.4 3.4 0 1 0 -6.8 0M949.21 263.1a3.4 3.4 0 1 0 6.8 0a3.4 3.4 0 1 0 -6.8 0M958.58 228.98a3.4 3.4 0 1 0 6.8 0a3.4 3.4 0 1 0 -6.8 0M959.83 279.87a3.4 3.4 0 1 0 6.8 0a3.4 3.4 0 1 0 -6.8 0M972.8 249.46a3.4 3.4 0 1 0 6.8 0a3.4 3.4 0 1 0 -6.8 0M1007.87 378.25a3.4 3.4 0 1 0 6.8 0a3.4 3.4 0 1 0 -6.8 0M957.04 251.99a3.4 3.4 0 1 0 6.8 0a3.4 3.4 0 1 0 -6.8 0M992.48 207.16a3.4 3.4 0 1 0 6.8 0a3.4 3.4 0 1 0 -6.8 0M956.94 281.37a3.4 3.4 0 1 0 6.8 0a3.4 3.4 0 1 0 -6.8 0M941.92 335.99a3.4 3.4 0 1 0 6.8 0a3.4 3.4 0 1 0 -6.8 0M963.31 171.68a3.4 3.4 0 1 0 6.8 0a3.4 3.4 0 1 0 -6.8 0M962.02 263.11a3.4 3.4 0 1 0 6.8 0a3.4 3.4 0 1 0 -6.8 0M1015.4 343.83a3.4 3.4 0 1 0 6.8 0a3.4 3.4 0 1 0 -6.8 0M936.36 245.8a3.4 3.4 0 1 0 6.8 0a3.4 3.4 0 1 0 -6.8 0M1015.93 293.97a3.4 3.4 0 1 0 6.8 0a3.4 3.4 0 1 0 -6.8 0M975.98 225.34a3.4 3.4 0 1 0 6.8 0a3.4 3.4 0 1 0 -6.8 0M950.2 312.55a3.4 3.4 0 1 0 6.8 0a3.4 3.4 0 1 0 -6.8 0M967.32 270.71a3.4 3.4 0 1 0 6.8 0a3.4 3.4 0 1 0 -6.8 0M948.62 339.71a3.4 3.4 0 1 0 6.8 0a3.4 3.4 0 1 0 -6.8 0M1011.13 329.84a3.4 3.4 0 1 0 6.8 0a3.4 3.4 0 1 0 -6.8 0M955.92 235.61a3.4 3.4 0 1 0 6.8 0a3.4 3.4 0 1 0 -6.8 0M977.18 261.54a3.4 3.4 0 1 0 6.8 0a3.4 3.4 0 1 0 -6.8 0M958.17 238.47a3.4 3.4 0 1 0 6.8 0a3.4 3.4 0 1 0 -6.8 0M957.08 177.08a3.4 3.4 0 1 0 6.8 0a3.4 3.4 0 1 0 -6.8 0M1001.05 305.36a3.4 3.4 0 1 0 6.8 0a3.4 3.4 0 1 0 -6.8 0M1004.89 400.41a3.4 3.4 0 1 0 6.8 0a3.4 3.4 0 1 0 -6.8 0M959.08 321.62a3.4 3.4 0 1 0 6.8 0a3.4 3.4 0 1 0 -6.8 0M979.56 262.99a3.4 3.4 0 1 0 6.8 0a3.4 3.4 0 1 0 -6.8 0M974.85 247.29a3.4 3.4 0 1 0 6.8 0a3.4 3.4 0 1 0 -6.8 0M963.87 205.88a3.4 3.4 0 1 0 6.8 0a3.4 3.4 0 1 0 -6.8 0M984.6 207.86a3.4 3.4 0 1 0 6.8 0a3.4 3.4 0 1 0 -6.8 0M959.63 189.87a3.4 3.4 0 1 0 6.8 0a3.4 3.4 0 1 0 -6.8 0M978.98 203.97a3.4 3.4 0 1 0 6.8 0a3.4 3.4 0 1 0 -6.8 0M1008.58 302.24a3.4 3.4 0 1 0 6.8 0a3.4 3.4 0 1 0 -6.8 0M936.64 262.72a3.4 3.4 0 1 0 6.8 0a3.4 3.4 0 1 0 -6.8 0M940.88 265.9a3.4 3.4 0 1 0 6.8 0a3.4 3.4 0 1 0 -6.8 0M986.75 310.23a3.4 3.4 0 1 0 6.8 0a3.4 3.4 0 1 0 -6.8 0M968.72 229.02a3.4 3.4 0 1 0 6.8 0a3.4 3.4 0 1 0 -6.8 0M971.01 384.93a3.4 3.4 0 1 0 6.8 0a3.4 3.4 0 1 0 -6.8 0M961.97 330.3a3.4 3.4 0 1 0 6.8 0a3.4 3.4 0 1 0 -6.8 0M983.96 317.4a3.4 3.4 0 1 0 6.8 0a3.4 3.4 0 1 0 -6.8 0M972.66 307.86a3.4 3.4 0 1 0 6.8 0a3.4 3.4 0 1 0 -6.8 0M1016.01 320.35a3.4 3.4 0 1 0 6.8 0a3.4 3.4 0 1 0 -6.8 0M977.78 268.63a3.4 3.4 0 1 0 6.8 0a3.4 3.4 0 1 0 -6.8 0M1022.18 381.99a3.4 3.4 0 1 0 6.8 0a3.4 3.4 0 1 0 -6.8 0M987.97 242.51a3.4 3.4 0 1 0 6.8 0a3.4 3.4 0 1 0 -6.8 0M958.43 333.26a3.4 3.4 0 1 0 6.8 0a3.4 3.4 0 1 0 -6.8 0M959.58 287.69a3.4 3.4 0 1 0 6.8 0a3.4 3.4 0 1 0 -6.8 0M992.33 319.63a3.4 3.4 0 1 0 6.8 0a3.4 3.4 0 1 0 -6.8 0M1022.33 403.75a3.4 3.4 0 1 0 6.8 0a3.4 3.4 0 1 0 -6.8 0M970.96 383.6a3.4 3.4 0 1 0 6.8 0a3.4 3.4 0 1 0 -6.8 0M1010.12 336.97a3.4 3.4 0 1 0 6.8 0a3.4 3.4 0 1 0 -6.8 0M1000.12 286.97a3.4 3.4 0 1 0 6.8 0a3.4 3.4 0 1 0 -6.8 0M973.39 236.92a3.4 3.4 0 1 0 6.8 0a3.4 3.4 0 1 0 -6.8 0M990.83 225.03a3.4 3.4 0 1 0 6.8 0a3.4 3.4 0 1 0 -6.8 0M968.66 210.56a3.4 3.4 0 1 0 6.8 0a3.4 3.4 0 1 0 -6.8 0M947.56 182.59a3.4 3.4 0 1 0 6.8 0a3.4 3.4 0 1 0 -6.8 0M945.04 339.26a3.4 3.4 0 1 0 6.8 0a3.4 3.4 0 1 0 -6.8 0M982.09 355.71a3.4 3.4 0 1 0 6.8 0a3.4 3.4 0 1 0 -6.8 0M951.44 378.71a3.4 3.4 0 1 0 6.8 0a3.4 3.4 0 1 0 -6.8 0M939.87 229.15a3.4 3.4 0 1 0 6.8 0a3.4 3.4 0 1 0 -6.8 0M960.9 341.94a3.4 3.4 0 1 0 6.8 0a3.4 3.4 0 1 0 -6.8 0M969.6 352.57a3.4 3.4 0 1 0 6.8 0a3.4 3.4 0 1 0 -6.8 0M1009.17 319.29a3.4 3.4 0 1 0 6.8 0a3.4 3.4 0 1 0 -6.8 0M935.66 310.14a3.4 3.4 0 1 0 6.8 0a3.4 3.4 0 1 0 -6.8 0M978.67 321.36a3.4 3.4 0 1 0 6.8 0a3.4 3.4 0 1 0 -6.8 0M1033.18 408.63a3.4 3.4 0 1 0 6.8 0a3.4 3.4 0 1 0 -6.8 0M964.53 345.73a3.4 3.4 0 1 0 6.8 0a3.4 3.4 0 1 0 -6.8 0M946.94 247.75a3.4 3.4 0 1 0 6.8 0a3.4 3.4 0 1 0 -6.8 0M991.74 285.11a3.4 3.4 0 1 0 6.8 0a3.4 3.4 0 1 0 -6.8 0M966.99 362.64a3.4 3.4 0 1 0 6.8 0a3.4 3.4 0 1 0 -6.8 0M964.29 262.8a3.4 3.4 0 1 0 6.8 0a3.4 3.4 0 1 0 -6.8 0M1015.36 406.72a3.4 3.4 0 1 0 6.8 0a3.4 3.4 0 1 0 -6.8 0M1007.8 300.48a3.4 3.4 0 1 0 6.8 0a3.4 3.4 0 1 0 -6.8 0M949.78 209.9a3.4 3.4 0 1 0 6.8 0a3.4 3.4 0 1 0 -6.8 0M946.97 246.19a3.4 3.4 0 1 0 6.8 0a3.4 3.4 0 1 0 -6.8 0M963.26 222.72a3.4 3.4 0 1 0 6.8 0a3.4 3.4 0 1 0 -6.8 0M973 230.54a3.4 3.4 0 1 0 6.8 0a3.4 3.4 0 1 0 -6.8 0M942.52 211.71a3.4 3.4 0 1 0 6.8 0a3.4 3.4 0 1 0 -6.8 0M985.55 268.39a3.4 3.4 0 1 0 6.8 0a3.4 3.4 0 1 0 -6.8 0M1003.86 319.3a3.4 3.4 0 1 0 6.8 0a3.4 3.4 0 1 0 -6.8 0M981.2 370.75a3.4 3.4 0 1 0 6.8 0a3.4 3.4 0 1 0 -6.8 0M946.8 185.38a3.4 3.4 0 1 0 6.8 0a3.4 3.4 0 1 0 -6.8 0M935.31 218.46a3.4 3.4 0 1 0 6.8 0a3.4 3.4 0 1 0 -6.8 0M935.37 295.91a3.4 3.4 0 1 0 6.8 0a3.4 3.4 0 1 0 -6.8 0M1018.22 346.74a3.4 3.4 0 1 0 6.8 0a3.4 3.4 0 1 0 -6.8 0M1019.36 369.28a3.4 3.4 0 1 0 6.8 0a3.4 3.4 0 1 0 -6.8 0M976.86 339.38a3.4 3.4 0 1 0 6.8 0a3.4 3.4 0 1 0 -6.8 0M958.3 262a3.4 3.4 0 1 0 6.8 0a3.4 3.4 0 1 0 -6.8 0M1003.87 365.15a3.4 3.4 0 1 0 6.8 0a3.4 3.4 0 1 0 -6.8 0M1001.86 253.61a3.4 3.4 0 1 0 6.8 0a3.4 3.4 0 1 0 -6.8 0M969.7 348.27a3.4 3.4 0 1 0 6.8 0a3.4 3.4 0 1 0 -6.8 0M1013.01 300.55a3.4 3.4 0 1 0 6.8 0a3.4 3.4 0 1 0 -6.8 0M953 192.99a3.4 3.4 0 1 0 6.8 0a3.4 3.4 0 1 0 -6.8 0M971.35 272.34a3.4 3.4 0 1 0 6.8 0a3.4 3.4 0 1 0 -6.8 0M987.5 265.65a3.4 3.4 0 1 0 6.8 0a3.4 3.4 0 1 0 -6.8 0M991.16 399.71a3.4 3.4 0 1 0 6.8 0a3.4 3.4 0 1 0 -6.8 0M1006.02 398.59a3.4 3.4 0 1 0 6.8 0a3.4 3.4 0 1 0 -6.8 0M953.65 254.38a3.4 3.4 0 1 0 6.8 0a3.4 3.4 0 1 0 -6.8 0M949.91 322.16a3.4 3.4 0 1 0 6.8 0a3.4 3.4 0 1 0 -6.8 0M987.74 305.8a3.4 3.4 0 1 0 6.8 0a3.4 3.4 0 1 0 -6.8 0M1023.01 335.62a3.4 3.4 0 1 0 6.8 0a3.4 3.4 0 1 0 -6.8 0M1004.77 269.56a3.4 3.4 0 1 0 6.8 0a3.4 3.4 0 1 0 -6.8 0M958.59 313.84a3.4 3.4 0 1 0 6.8 0a3.4 3.4 0 1 0 -6.8 0M981.58 312.06a3.4 3.4 0 1 0 6.8 0a3.4 3.4 0 1 0 -6.8 0M986.28 224.32a3.4 3.4 0 1 0 6.8 0a3.4 3.4 0 1 0 -6.8 0M1003.05 396.15a3.4 3.4 0 1 0 6.8 0a3.4 3.4 0 1 0 -6.8 0M1018.79 292.09a3.4 3.4 0 1 0 6.8 0a3.4 3.4 0 1 0 -6.8 0M960.79 364.27a3.4 3.4 0 1 0 6.8 0a3.4 3.4 0 1 0 -6.8 0M991.07 378.53a3.4 3.4 0 1 0 6.8 0a3.4 3.4 0 1 0 -6.8 0M963.85 324.35a3.4 3.4 0 1 0 6.8 0a3.4 3.4 0 1 0 -6.8 0M993.06 359.38a3.4 3.4 0 1 0 6.8 0a3.4 3.4 0 1 0 -6.8 0M959.84 362.51a3.4 3.4 0 1 0 6.8 0a3.4 3.4 0 1 0 -6.8 0M1015.94 301.29a3.4 3.4 0 1 0 6.8 0a3.4 3.4 0 1 0 -6.8 0M944.84 176.13a3.4 3.4 0 1 0 6.8 0a3.4 3.4 0 1 0 -6.8 0M1025.91 370.79a3.4 3.4 0 1 0 6.8 0a3.4 3.4 0 1 0 -6.8 0M953.47 262.06a3.4 3.4 0 1 0 6.8 0a3.4 3.4 0 1 0 -6.8 0M999.64 387.38a3.4 3.4 0 1 0 6.8 0a3.4 3.4 0 1 0 -6.8 0M1005.08 272.35a3.4 3.4 0 1 0 6.8 0a3.4 3.4 0 1 0 -6.8 0M970.21 244.15a3.4 3.4 0 1 0 6.8 0a3.4 3.4 0 1 0 -6.8 0M963.74 314.43a3.4 3.4 0 1 0 6.8 0a3.4 3.4 0 1 0 -6.8 0M983.67 198.67a3.4 3.4 0 1 0 6.8 0a3.4 3.4 0 1 0 -6.8 0M979.24 367.44a3.4 3.4 0 1 0 6.8 0a3.4 3.4 0 1 0 -6.8 0M982.64 290.84a3.4 3.4 0 1 0 6.8 0a3.4 3.4 0 1 0 -6.8 0M970.93 338.98a3.4 3.4 0 1 0 6.8 0a3.4 3.4 0 1 0 -6.8 0M995.63 236.72a3.4 3.4 0 1 0 6.8 0a3.4 3.4 0 1 0 -6.8 0M964.58 375.82a3.4 3.4 0 1 0 6.8 0a3.4 3.4 0 1 0 -6.8 0M982.44 395.17a3.4 3.4 0 1 0 6.8 0a3.4 3.4 0 1 0 -6.8 0M1013.02 313.98a3.4 3.4 0 1 0 6.8 0a3.4 3.4 0 1 0 -6.8 0M941.01 269.5a3.4 3.4 0 1 0 6.8 0a3.4 3.4 0 1 0 -6.8 0M1007.89 331.28a3.4 3.4 0 1 0 6.8 0a3.4 3.4 0 1 0 -6.8 0M960.89 269.87a3.4 3.4 0 1 0 6.8 0a3.4 3.4 0 1 0 -6.8 0M1021.21 374.8a3.4 3.4 0 1 0 6.8 0a3.4 3.4 0 1 0 -6.8 0M943.57 255.94a3.4 3.4 0 1 0 6.8 0a3.4 3.4 0 1 0 -6.8 0M1010.88 330.57a3.4 3.4 0 1 0 6.8 0a3.4 3.4 0 1 0 -6.8 0M1029.42 399.07a3.4 3.4 0 1 0 6.8 0a3.4 3.4 0 1 0 -6.8 0M1001.33 281.73a3.4 3.4 0 1 0 6.8 0a3.4 3.4 0 1 0 -6.8 0M983.49 244.33a3.4 3.4 0 1 0 6.8 0a3.4 3.4 0 1 0 -6.8 0M1003.13 338.35a3.4 3.4 0 1 0 6.8 0a3.4 3.4 0 1 0 -6.8 0M941.26 280.03a3.4 3.4 0 1 0 6.8 0a3.4 3.4 0 1 0 -6.8 0M956.41 257.48a3.4 3.4 0 1 0 6.8 0a3.4 3.4 0 1 0 -6.8 0M976.05 348.31a3.4 3.4 0 1 0 6.8 0a3.4 3.4 0 1 0 -6.8 0M951.89 325.63a3.4 3.4 0 1 0 6.8 0a3.4 3.4 0 1 0 -6.8 0M1011.71 356.66a3.4 3.4 0 1 0 6.8 0a3.4 3.4 0 1 0 -6.8 0M971.43 298.02a3.4 3.4 0 1 0 6.8 0a3.4 3.4 0 1 0 -6.8 0M946 359.89a3.4 3.4 0 1 0 6.8 0a3.4 3.4 0 1 0 -6.8 0M988 197.57a3.4 3.4 0 1 0 6.8 0a3.4 3.4 0 1 0 -6.8 0M947.96 188.72a3.4 3.4 0 1 0 6.8 0a3.4 3.4 0 1 0 -6.8 0M965.38 357.02a3.4 3.4 0 1 0 6.8 0a3.4 3.4 0 1 0 -6.8 0M982.1 303.45a3.4 3.4 0 1 0 6.8 0a3.4 3.4 0 1 0 -6.8 0M977.3 316.66a3.4 3.4 0 1 0 6.8 0a3.4 3.4 0 1 0 -6.8 0M950.51 367.02a3.4 3.4 0 1 0 6.8 0a3.4 3.4 0 1 0 -6.8 0M937.23 194.07a3.4 3.4 0 1 0 6.8 0a3.4 3.4 0 1 0 -6.8 0M939.09 268.77a3.4 3.4 0 1 0 6.8 0a3.4 3.4 0 1 0 -6.8 0M969.07 286.57a3.4 3.4 0 1 0 6.8 0a3.4 3.4 0 1 0 -6.8 0M1028.23 398.29a3.4 3.4 0 1 0 6.8 0a3.4 3.4 0 1 0 -6.8 0M987.32 387.89a3.4 3.4 0 1 0 6.8 0a3.4 3.4 0 1 0 -6.8 0M965.95 347.7a3.4 3.4 0 1 0 6.8 0a3.4 3.4 0 1 0 -6.8 0M973.21 271.98a3.4 3.4 0 1 0 6.8 0a3.4 3.4 0 1 0 -6.8 0M972.22 272.28a3.4 3.4 0 1 0 6.8 0a3.4 3.4 0 1 0 -6.8 0M990.18 300.86a3.4 3.4 0 1 0 6.8 0a3.4 3.4 0 1 0 -6.8 0M957.81 191.37a3.4 3.4 0 1 0 6.8 0a3.4 3.4 0 1 0 -6.8 0M967.54 285.35a3.4 3.4 0 1 0 6.8 0a3.4 3.4 0 1 0 -6.8 0M1013.68 286.18a3.4 3.4 0 1 0 6.8 0a3.4 3.4 0 1 0 -6.8 0M997.12 401.79a3.4 3.4 0 1 0 6.8 0a3.4 3.4 0 1 0 -6.8 0M997.62 257.24a3.4 3.4 0 1 0 6.8 0a3.4 3.4 0 1 0 -6.8 0M998.8 311.1a3.4 3.4 0 1 0 6.8 0a3.4 3.4 0 1 0 -6.8 0M986.97 293.21a3.4 3.4 0 1 0 6.8 0a3.4 3.4 0 1 0 -6.8 0M939.83 189.82a3.4 3.4 0 1 0 6.8 0a3.4 3.4 0 1 0 -6.8 0M962.85 361.46a3.4 3.4 0 1 0 6.8 0a3.4 3.4 0 1 0 -6.8 0M1021.09 359.66a3.4 3.4 0 1 0 6.8 0a3.4 3.4 0 1 0 -6.8 0M940.22 353.63a3.4 3.4 0 1 0 6.8 0a3.4 3.4 0 1 0 -6.8 0M1000.45 301.98a3.4 3.4 0 1 0 6.8 0a3.4 3.4 0 1 0 -6.8 0M1014.02 308.75a3.4 3.4 0 1 0 6.8 0a3.4 3.4 0 1 0 -6.8 0M1012.35 269.31a3.4 3.4 0 1 0 6.8 0a3.4 3.4 0 1 0 -6.8 0M974.27 276.48a3.4 3.4 0 1 0 6.8 0a3.4 3.4 0 1 0 -6.8 0M946.71 245.27a3.4 3.4 0 1 0 6.8 0a3.4 3.4 0 1 0 -6.8 0M1004.85 301.01a3.4 3.4 0 1 0 6.8 0a3.4 3.4 0 1 0 -6.8 0M946.76 242.87a3.4 3.4 0 1 0 6.8 0a3.4 3.4 0 1 0 -6.8 0M993.61 392.38a3.4 3.4 0 1 0 6.8 0a3.4 3.4 0 1 0 -6.8 0M978.19 298.13a3.4 3.4 0 1 0 6.8 0a3.4 3.4 0 1 0 -6.8 0M937.53 272.63a3.4 3.4 0 1 0 6.8 0a3.4 3.4 0 1 0 -6.8 0M1005.71 393.82a3.4 3.4 0 1 0 6.8 0a3.4 3.4 0 1 0 -6.8 0M1007.33 261.9a3.4 3.4 0 1 0 6.8 0a3.4 3.4 0 1 0 -6.8 0M945.36 348.44a3.4 3.4 0 1 0 6.8 0a3.4 3.4 0 1 0 -6.8 0M996.32 216.51a3.4 3.4 0 1 0 6.8 0a3.4 3.4 0 1 0 -6.8 0M951.58 252.56a3.4 3.4 0 1 0 6.8 0a3.4 3.4 0 1 0 -6.8 0M989.34 262.04a3.4 3.4 0 1 0 6.8 0a3.4 3.4 0 1 0 -6.8 0M1011.66 307.57a3.4 3.4 0 1 0 6.8 0a3.4 3.4 0 1 0 -6.8 0M1010.18 272.83a3.4 3.4 0 1 0 6.8 0a3.4 3.4 0 1 0 -6.8 0M982.53 286.03a3.4 3.4 0 1 0 6.8 0a3.4 3.4 0 1 0 -6.8 0M994.44 301.83a3.4 3.4 0 1 0 6.8 0a3.4 3.4 0 1 0 -6.8 0M957.37 215.81a3.4 3.4 0 1 0 6.8 0a3.4 3.4 0 1 0 -6.8 0M995.97 386.79a3.4 3.4 0 1 0 6.8 0a3.4 3.4 0 1 0 -6.8 0M1007.3 256.05a3.4 3.4 0 1 0 6.8 0a3.4 3.4 0 1 0 -6.8 0M936.36 298.34a3.4 3.4 0 1 0 6.8 0a3.4 3.4 0 1 0 -6.8 0M965.28 228.9a3.4 3.4 0 1 0 6.8 0a3.4 3.4 0 1 0 -6.8 0M985.62 233.72a3.4 3.4 0 1 0 6.8 0a3.4 3.4 0 1 0 -6.8 0M963.64 291.5a3.4 3.4 0 1 0 6.8 0a3.4 3.4 0 1 0 -6.8 0M951.18 377.08a3.4 3.4 0 1 0 6.8 0a3.4 3.4 0 1 0 -6.8 0M998.82 299.95a3.4 3.4 0 1 0 6.8 0a3.4 3.4 0 1 0 -6.8 0M990.89 328.32a3.4 3.4 0 1 0 6.8 0a3.4 3.4 0 1 0 -6.8 0M958.95 277.73a3.4 3.4 0 1 0 6.8 0a3.4 3.4 0 1 0 -6.8 0M1011.53 397.6a3.4 3.4 0 1 0 6.8 0a3.4 3.4 0 1 0 -6.8 0M994.22 252.32a3.4 3.4 0 1 0 6.8 0a3.4 3.4 0 1 0 -6.8 0M945.02 305.23a3.4 3.4 0 1 0 6.8 0a3.4 3.4 0 1 0 -6.8 0M940.72 329.88a3.4 3.4 0 1 0 6.8 0a3.4 3.4 0 1 0 -6.8 0M937.35 306.58a3.4 3.4 0 1 0 6.8 0a3.4 3.4 0 1 0 -6.8 0M1006.86 376.03a3.4 3.4 0 1 0 6.8 0a3.4 3.4 0 1 0 -6.8 0M953.77 295.78a3.4 3.4 0 1 0 6.8 0a3.4 3.4 0 1 0 -6.8 0M987.12 215.38a3.4 3.4 0 1 0 6.8 0a3.4 3.4 0 1 0 -6.8 0M978.45 285.81a3.4 3.4 0 1 0 6.8 0a3.4 3.4 0 1 0 -6.8 0M985.84 303.31a3.4 3.4 0 1 0 6.8 0a3.4 3.4 0 1 0 -6.8 0M993.74 200.09a3.4 3.4 0 1 0 6.8 0a3.4 3.4 0 1 0 -6.8 0M969.79 338.61a3.4 3.4 0 1 0 6.8 0a3.4 3.4 0 1 0 -6.8 0M1025.25 395.48a3.4 3.4 0 1 0 6.8 0a3.4 3.4 0 1 0 -6.8 0M986.13 311.39a3.4 3.4 0 1 0 6.8 0a3.4 3.4 0 1 0 -6.8 0M999.18 316.89a3.4 3.4 0 1 0 6.8 0a3.4 3.4 0 1 0 -6.8 0M943.36 293.95a3.4 3.4 0 1 0 6.8 0a3.4 3.4 0 1 0 -6.8 0M1022.19 335.28a3.4 3.4 0 1 0 6.8 0a3.4 3.4 0 1 0 -6.8 0M995.71 352.11a3.4 3.4 0 1 0 6.8 0a3.4 3.4 0 1 0 -6.8 0M969.78 251.82a3.4 3.4 0 1 0 6.8 0a3.4 3.4 0 1 0 -6.8 0M989.99 249.05a3.4 3.4 0 1 0 6.8 0a3.4 3.4 0 1 0 -6.8 0M982.44 224.39a3.4 3.4 0 1 0 6.8 0a3.4 3.4 0 1 0 -6.8 0M952.83 203.77a3.4 3.4 0 1 0 6.8 0a3.4 3.4 0 1 0 -6.8 0M985 358.53a3.4 3.4 0 1 0 6.8 0a3.4 3.4 0 1 0 -6.8 0M959.47 326.95a3.4 3.4 0 1 0 6.8 0a3.4 3.4 0 1 0 -6.8 0M989.64 229.4a3.4 3.4 0 1 0 6.8 0a3.4 3.4 0 1 0 -6.8 0M953.77 223.86a3.4 3.4 0 1 0 6.8 0a3.4 3.4 0 1 0 -6.8 0M969.15 344.56a3.4 3.4 0 1 0 6.8 0a3.4 3.4 0 1 0 -6.8 0M1018.01 299.04a3.4 3.4 0 1 0 6.8 0a3.4 3.4 0 1 0 -6.8 0M972 389.63a3.4 3.4 0 1 0 6.8 0a3.4 3.4 0 1 0 -6.8 0M974.44 237.25a3.4 3.4 0 1 0 6.8 0a3.4 3.4 0 1 0 -6.8 0M1012.83 283.36a3.4 3.4 0 1 0 6.8 0a3.4 3.4 0 1 0 -6.8 0M935.67 289a3.4 3.4 0 1 0 6.8 0a3.4 3.4 0 1 0 -6.8 0M956 381.6a3.4 3.4 0 1 0 6.8 0a3.4 3.4 0 1 0 -6.8 0M949.23 341.65a3.4 3.4 0 1 0 6.8 0a3.4 3.4 0 1 0 -6.8 0M982.32 258.07a3.4 3.4 0 1 0 6.8 0a3.4 3.4 0 1 0 -6.8 0M953.8 252.02a3.4 3.4 0 1 0 6.8 0a3.4 3.4 0 1 0 -6.8 0M966.75 211.8a3.4 3.4 0 1 0 6.8 0a3.4 3.4 0 1 0 -6.8 0M990.08 299.1a3.4 3.4 0 1 0 6.8 0a3.4 3.4 0 1 0 -6.8 0M1015.04 295.78a3.4 3.4 0 1 0 6.8 0a3.4 3.4 0 1 0 -6.8 0M942.84 221.59a3.4 3.4 0 1 0 6.8 0a3.4 3.4 0 1 0 -6.8 0M967.01 352.92a3.4 3.4 0 1 0 6.8 0a3.4 3.4 0 1 0 -6.8 0M987.63 206.3a3.4 3.4 0 1 0 6.8 0a3.4 3.4 0 1 0 -6.8 0M994.48 239.05a3.4 3.4 0 1 0 6.8 0a3.4 3.4 0 1 0 -6.8 0M1034.31 405.97a3.4 3.4 0 1 0 6.8 0a3.4 3.4 0 1 0 -6.8 0M951.47 209.4a3.4 3.4 0 1 0 6.8 0a3.4 3.4 0 1 0 -6.8 0M983.52 211.73a3.4 3.4 0 1 0 6.8 0a3.4 3.4 0 1 0 -6.8 0M966.47 177.29a3.4 3.4 0 1 0 6.8 0a3.4 3.4 0 1 0 -6.8 0M999.82 257.35a3.4 3.4 0 1 0 6.8 0a3.4 3.4 0 1 0 -6.8 0M1000.36 244.59a3.4 3.4 0 1 0 6.8 0a3.4 3.4 0 1 0 -6.8 0M991.48 279.57a3.4 3.4 0 1 0 6.8 0a3.4 3.4 0 1 0 -6.8 0M1024.65 382.54a3.4 3.4 0 1 0 6.8 0a3.4 3.4 0 1 0 -6.8 0M952.33 343.81a3.4 3.4 0 1 0 6.8 0a3.4 3.4 0 1 0 -6.8 0M996.09 205.64a3.4 3.4 0 1 0 6.8 0a3.4 3.4 0 1 0 -6.8 0M971.01 303.74a3.4 3.4 0 1 0 6.8 0a3.4 3.4 0 1 0 -6.8 0M995.09 321.46a3.4 3.4 0 1 0 6.8 0a3.4 3.4 0 1 0 -6.8 0M943.74 288.64a3.4 3.4 0 1 0 6.8 0a3.4 3.4 0 1 0 -6.8 0M1002.21 404.07a3.4 3.4 0 1 0 6.8 0a3.4 3.4 0 1 0 -6.8 0M959.07 369.62a3.4 3.4 0 1 0 6.8 0a3.4 3.4 0 1 0 -6.8 0M961.21 387.63a3.4 3.4 0 1 0 6.8 0a3.4 3.4 0 1 0 -6.8 0M979.4 302.73a3.4 3.4 0 1 0 6.8 0a3.4 3.4 0 1 0 -6.8 0M986.15 284.91a3.4 3.4 0 1 0 6.8 0a3.4 3.4 0 1 0 -6.8 0M955.04 219.7a3.4 3.4 0 1 0 6.8 0a3.4 3.4 0 1 0 -6.8 0M1019.41 406.16a3.4 3.4 0 1 0 6.8 0a3.4 3.4 0 1 0 -6.8 0M1006.85 361.89a3.4 3.4 0 1 0 6.8 0a3.4 3.4 0 1 0 -6.8 0M1020.06 362.83a3.4 3.4 0 1 0 6.8 0a3.4 3.4 0 1 0 -6.8 0M970.59 360.51a3.4 3.4 0 1 0 6.8 0a3.4 3.4 0 1 0 -6.8 0M1030.81 394.88a3.4 3.4 0 1 0 6.8 0a3.4 3.4 0 1 0 -6.8 0M941.04 330.09a3.4 3.4 0 1 0 6.8 0a3.4 3.4 0 1 0 -6.8 0M953.92 336.69a3.4 3.4 0 1 0 6.8 0a3.4 3.4 0 1 0 -6.8 0M1015.71 358.94a3.4 3.4 0 1 0 6.8 0a3.4 3.4 0 1 0 -6.8 0M994.56 397.55a3.4 3.4 0 1 0 6.8 0a3.4 3.4 0 1 0 -6.8 0M986.37 261.04a3.4 3.4 0 1 0 6.8 0a3.4 3.4 0 1 0 -6.8 0M936.63 206.47a3.4 3.4 0 1 0 6.8 0a3.4 3.4 0 1 0 -6.8 0M958.45 326.77a3.4 3.4 0 1 0 6.8 0a3.4 3.4 0 1 0 -6.8 0M1007.84 293.12a3.4 3.4 0 1 0 6.8 0a3.4 3.4 0 1 0 -6.8 0M963.14 212.89a3.4 3.4 0 1 0 6.8 0a3.4 3.4 0 1 0 -6.8 0M1006.98 397.25a3.4 3.4 0 1 0 6.8 0a3.4 3.4 0 1 0 -6.8 0M989.61 286.29a3.4 3.4 0 1 0 6.8 0a3.4 3.4 0 1 0 -6.8 0M995.79 226.08a3.4 3.4 0 1 0 6.8 0a3.4 3.4 0 1 0 -6.8 0M941.62 179.88a3.4 3.4 0 1 0 6.8 0a3.4 3.4 0 1 0 -6.8 0M990.08 398.89a3.4 3.4 0 1 0 6.8 0a3.4 3.4 0 1 0 -6.8 0M978.15 266.49a3.4 3.4 0 1 0 6.8 0a3.4 3.4 0 1 0 -6.8 0M980.12 334.59a3.4 3.4 0 1 0 6.8 0a3.4 3.4 0 1 0 -6.8 0M993.06 323.73a3.4 3.4 0 1 0 6.8 0a3.4 3.4 0 1 0 -6.8 0M992.66 233.71a3.4 3.4 0 1 0 6.8 0a3.4 3.4 0 1 0 -6.8 0M1002.89 339.56a3.4 3.4 0 1 0 6.8 0a3.4 3.4 0 1 0 -6.8 0M980.06 193.17a3.4 3.4 0 1 0 6.8 0a3.4 3.4 0 1 0 -6.8 0M941.73 232.94a3.4 3.4 0 1 0 6.8 0a3.4 3.4 0 1 0 -6.8 0M980.61 198.37a3.4 3.4 0 1 0 6.8 0a3.4 3.4 0 1 0 -6.8 0M994.98 348.9a3.4 3.4 0 1 0 6.8 0a3.4 3.4 0 1 0 -6.8 0M1003.09 333.54a3.4 3.4 0 1 0 6.8 0a3.4 3.4 0 1 0 -6.8 0M939.12 340.66a3.4 3.4 0 1 0 6.8 0a3.4 3.4 0 1 0 -6.8 0M940.01 282.82a3.4 3.4 0 1 0 6.8 0a3.4 3.4 0 1 0 -6.8 0M941.93 262.63a3.4 3.4 0 1 0 6.8 0a3.4 3.4 0 1 0 -6.8 0M985.81 310.69a3.4 3.4 0 1 0 6.8 0a3.4 3.4 0 1 0 -6.8 0M957.63 378.56a3.4 3.4 0 1 0 6.8 0a3.4 3.4 0 1 0 -6.8 0M977.73 264.54a3.4 3.4 0 1 0 6.8 0a3.4 3.4 0 1 0 -6.8 0M961.5 360.39a3.4 3.4 0 1 0 6.8 0a3.4 3.4 0 1 0 -6.8 0M981.75 256.48a3.4 3.4 0 1 0 6.8 0a3.4 3.4 0 1 0 -6.8 0M982.24 244.21a3.4 3.4 0 1 0 6.8 0a3.4 3.4 0 1 0 -6.8 0M977.8 241.32a3.4 3.4 0 1 0 6.8 0a3.4 3.4 0 1 0 -6.8 0M982.46 282.79a3.4 3.4 0 1 0 6.8 0a3.4 3.4 0 1 0 -6.8 0M982.42 258.97a3.4 3.4 0 1 0 6.8 0a3.4 3.4 0 1 0 -6.8 0M1005.37 348.1a3.4 3.4 0 1 0 6.8 0a3.4 3.4 0 1 0 -6.8 0M1010.98 399.1a3.4 3.4 0 1 0 6.8 0a3.4 3.4 0 1 0 -6.8 0M1005.12 273.41a3.4 3.4 0 1 0 6.8 0a3.4 3.4 0 1 0 -6.8 0M958.17 355.28a3.4 3.4 0 1 0 6.8 0a3.4 3.4 0 1 0 -6.8 0M935.98 268.77a3.4 3.4 0 1 0 6.8 0a3.4 3.4 0 1 0 -6.8 0M961.72 316.98a3.4 3.4 0 1 0 6.8 0a3.4 3.4 0 1 0 -6.8 0M1021.29 371.64a3.4 3.4 0 1 0 6.8 0a3.4 3.4 0 1 0 -6.8 0M996.8 341.06a3.4 3.4 0 1 0 6.8 0a3.4 3.4 0 1 0 -6.8 0M1013.38 308.53a3.4 3.4 0 1 0 6.8 0a3.4 3.4 0 1 0 -6.8 0M1008.99 304.22a3.4 3.4 0 1 0 6.8 0a3.4 3.4 0 1 0 -6.8 0M968.64 344.59a3.4 3.4 0 1 0 6.8 0a3.4 3.4 0 1 0 -6.8 0M963.3 305.65a3.4 3.4 0 1 0 6.8 0a3.4 3.4 0 1 0 -6.8 0M986.71 207.94a3.4 3.4 0 1 0 6.8 0a3.4 3.4 0 1 0 -6.8 0M998.45 279.57a3.4 3.4 0 1 0 6.8 0a3.4 3.4 0 1 0 -6.8 0M971.6 352.49a3.4 3.4 0 1 0 6.8 0a3.4 3.4 0 1 0 -6.8 0M966.06 336.13a3.4 3.4 0 1 0 6.8 0a3.4 3.4 0 1 0 -6.8 0M972.21 298.37a3.4 3.4 0 1 0 6.8 0a3.4 3.4 0 1 0 -6.8 0M973.92 327.66a3.4 3.4 0 1 0 6.8 0a3.4 3.4 0 1 0 -6.8 0M967.19 380.26a3.4 3.4 0 1 0 6.8 0a3.4 3.4 0 1 0 -6.8 0M960.68 210.6a3.4 3.4 0 1 0 6.8 0a3.4 3.4 0 1 0 -6.8 0M943.29 361.07a3.4 3.4 0 1 0 6.8 0a3.4 3.4 0 1 0 -6.8 0M962.24 286.59a3.4 3.4 0 1 0 6.8 0a3.4 3.4 0 1 0 -6.8 0M956.61 338.94a3.4 3.4 0 1 0 6.8 0a3.4 3.4 0 1 0 -6.8 0M969.94 381.67a3.4 3.4 0 1 0 6.8 0a3.4 3.4 0 1 0 -6.8 0M984.46 243.76a3.4 3.4 0 1 0 6.8 0a3.4 3.4 0 1 0 -6.8 0M1020.34 306.34a3.4 3.4 0 1 0 6.8 0a3.4 3.4 0 1 0 -6.8 0M970.39 274.61a3.4 3.4 0 1 0 6.8 0a3.4 3.4 0 1 0 -6.8 0M1021.97 390.69a3.4 3.4 0 1 0 6.8 0a3.4 3.4 0 1 0 -6.8 0M952.38 253.88a3.4 3.4 0 1 0 6.8 0a3.4 3.4 0 1 0 -6.8 0M957.12 382.72a3.4 3.4 0 1 0 6.8 0a3.4 3.4 0 1 0 -6.8 0M958.22 256.11a3.4 3.4 0 1 0 6.8 0a3.4 3.4 0 1 0 -6.8 0M936.42 337.36a3.4 3.4 0 1 0 6.8 0a3.4 3.4 0 1 0 -6.8 0M963.12 330.05a3.4 3.4 0 1 0 6.8 0a3.4 3.4 0 1 0 -6.8 0M968.39 281.31a3.4 3.4 0 1 0 6.8 0a3.4 3.4 0 1 0 -6.8 0M993.73 254.06a3.4 3.4 0 1 0 6.8 0a3.4 3.4 0 1 0 -6.8 0M960.59 238.5a3.4 3.4 0 1 0 6.8 0a3.4 3.4 0 1 0 -6.8 0M935.92 242.95a3.4 3.4 0 1 0 6.8 0a3.4 3.4 0 1 0 -6.8 0M983.94 292.13a3.4 3.4 0 1 0 6.8 0a3.4 3.4 0 1 0 -6.8 0M1004.13 336.24a3.4 3.4 0 1 0 6.8 0a3.4 3.4 0 1 0 -6.8 0M978.01 262.39a3.4 3.4 0 1 0 6.8 0a3.4 3.4 0 1 0 -6.8 0M983.89 296.32a3.4 3.4 0 1 0 6.8 0a3.4 3.4 0 1 0 -6.8 0M1017.83 385.13a3.4 3.4 0 1 0 6.8 0a3.4 3.4 0 1 0 -6.8 0M936.56 240.66a3.4 3.4 0 1 0 6.8 0a3.4 3.4 0 1 0 -6.8 0M1018.65 318.65a3.4 3.4 0 1 0 6.8 0a3.4 3.4 0 1 0 -6.8 0M954.48 379.28a3.4 3.4 0 1 0 6.8 0a3.4 3.4 0 1 0 -6.8 0M1006.7 336.07a3.4 3.4 0 1 0 6.8 0a3.4 3.4 0 1 0 -6.8 0M982.41 264.2a3.4 3.4 0 1 0 6.8 0a3.4 3.4 0 1 0 -6.8 0M1027.57 409.26a3.4 3.4 0 1 0 6.8 0a3.4 3.4 0 1 0 -6.8 0M967.06 377.65a3.4 3.4 0 1 0 6.8 0a3.4 3.4 0 1 0 -6.8 0M935.62 203.35a3.4 3.4 0 1 0 6.8 0a3.4 3.4 0 1 0 -6.8 0M996.97 309.38a3.4 3.4 0 1 0 6.8 0a3.4 3.4 0 1 0 -6.8 0M983.4 387.03a3.4 3.4 0 1 0 6.8 0a3.4 3.4 0 1 0 -6.8 0M957.19 276.3a3.4 3.4 0 1 0 6.8 0a3.4 3.4 0 1 0 -6.8 0M969.91 308.24a3.4 3.4 0 1 0 6.8 0a3.4 3.4 0 1 0 -6.8 0M936.09 220.88a3.4 3.4 0 1 0 6.8 0a3.4 3.4 0 1 0 -6.8 0M944.94 322.67a3.4 3.4 0 1 0 6.8 0a3.4 3.4 0 1 0 -6.8 0M1020.57 344a3.4 3.4 0 1 0 6.8 0a3.4 3.4 0 1 0 -6.8 0M949.1 216.42a3.4 3.4 0 1 0 6.8 0a3.4 3.4 0 1 0 -6.8 0M951.54 282.81a3.4 3.4 0 1 0 6.8 0a3.4 3.4 0 1 0 -6.8 0M968.27 230.48a3.4 3.4 0 1 0 6.8 0a3.4 3.4 0 1 0 -6.8 0M953.76 322.25a3.4 3.4 0 1 0 6.8 0a3.4 3.4 0 1 0 -6.8 0M974.8 368.3a3.4 3.4 0 1 0 6.8 0a3.4 3.4 0 1 0 -6.8 0M953.98 225.07a3.4 3.4 0 1 0 6.8 0a3.4 3.4 0 1 0 -6.8 0M1023.77 338.22a3.4 3.4 0 1 0 6.8 0a3.4 3.4 0 1 0 -6.8 0M1005.22 320.48a3.4 3.4 0 1 0 6.8 0a3.4 3.4 0 1 0 -6.8 0M1010.28 287.66a3.4 3.4 0 1 0 6.8 0a3.4 3.4 0 1 0 -6.8 0M986.38 260.94a3.4 3.4 0 1 0 6.8 0a3.4 3.4 0 1 0 -6.8 0M973.57 247.74a3.4 3.4 0 1 0 6.8 0a3.4 3.4 0 1 0 -6.8 0M997.03 390.53a3.4 3.4 0 1 0 6.8 0a3.4 3.4 0 1 0 -6.8 0M987.25 289.18a3.4 3.4 0 1 0 6.8 0a3.4 3.4 0 1 0 -6.8 0M994.12 225.48a3.4 3.4 0 1 0 6.8 0a3.4 3.4 0 1 0 -6.8 0M937.75 213.42a3.4 3.4 0 1 0 6.8 0a3.4 3.4 0 1 0 -6.8 0M1014.9 343.56a3.4 3.4 0 1 0 6.8 0a3.4 3.4 0 1 0 -6.8 0M938.16 194.63a3.4 3.4 0 1 0 6.8 0a3.4 3.4 0 1 0 -6.8 0M954.46 194.53a3.4 3.4 0 1 0 6.8 0a3.4 3.4 0 1 0 -6.8 0M990.99 258.85a3.4 3.4 0 1 0 6.8 0a3.4 3.4 0 1 0 -6.8 0M994.45 291.2a3.4 3.4 0 1 0 6.8 0a3.4 3.4 0 1 0 -6.8 0M954.71 249.14a3.4 3.4 0 1 0 6.8 0a3.4 3.4 0 1 0 -6.8 0M991.66 396.68a3.4 3.4 0 1 0 6.8 0a3.4 3.4 0 1 0 -6.8 0M974.86 340.07a3.4 3.4 0 1 0 6.8 0a3.4 3.4 0 1 0 -6.8 0M1009.15 388.95a3.4 3.4 0 1 0 6.8 0a3.4 3.4 0 1 0 -6.8 0M964.37 238.66a3.4 3.4 0 1 0 6.8 0a3.4 3.4 0 1 0 -6.8 0M1017.37 337.97a3.4 3.4 0 1 0 6.8 0a3.4 3.4 0 1 0 -6.8 0M953.89 263.21a3.4 3.4 0 1 0 6.8 0a3.4 3.4 0 1 0 -6.8 0M1012.73 378.62a3.4 3.4 0 1 0 6.8 0a3.4 3.4 0 1 0 -6.8 0M998.41 401.29a3.4 3.4 0 1 0 6.8 0a3.4 3.4 0 1 0 -6.8 0M995.4 384.49a3.4 3.4 0 1 0 6.8 0a3.4 3.4 0 1 0 -6.8 0M1023.2 327.32a3.4 3.4 0 1 0 6.8 0a3.4 3.4 0 1 0 -6.8 0M949.44 265.73a3.4 3.4 0 1 0 6.8 0a3.4 3.4 0 1 0 -6.8 0M948.16 357.82a3.4 3.4 0 1 0 6.8 0a3.4 3.4 0 1 0 -6.8 0M998.55 213.9a3.4 3.4 0 1 0 6.8 0a3.4 3.4 0 1 0 -6.8 0M1025.1 408.15a3.4 3.4 0 1 0 6.8 0a3.4 3.4 0 1 0 -6.8 0M972.97 336.58a3.4 3.4 0 1 0 6.8 0a3.4 3.4 0 1 0 -6.8 0M1010.83 376.36a3.4 3.4 0 1 0 6.8 0a3.4 3.4 0 1 0 -6.8 0M978.84 244.74a3.4 3.4 0 1 0 6.8 0a3.4 3.4 0 1 0 -6.8 0M967.37 348.27a3.4 3.4 0 1 0 6.8 0a3.4 3.4 0 1 0 -6.8 0M951.39 175.77a3.4 3.4 0 1 0 6.8 0a3.4 3.4 0 1 0 -6.8 0M953.63 345.6a3.4 3.4 0 1 0 6.8 0a3.4 3.4 0 1 0 -6.8 0M1005.73 403.54a3.4 3.4 0 1 0 6.8 0a3.4 3.4 0 1 0 -6.8 0M944.63 175.88a3.4 3.4 0 1 0 6.8 0a3.4 3.4 0 1 0 -6.8 0M1021.63 334.14a3.4 3.4 0 1 0 6.8 0a3.4 3.4 0 1 0 -6.8 0M937.36 206.61a3.4 3.4 0 1 0 6.8 0a3.4 3.4 0 1 0 -6.8 0M1005.38 345.06a3.4 3.4 0 1 0 6.8 0a3.4 3.4 0 1 0 -6.8 0M992.96 309.29a3.4 3.4 0 1 0 6.8 0a3.4 3.4 0 1 0 -6.8 0M1006.01 405.23a3.4 3.4 0 1 0 6.8 0a3.4 3.4 0 1 0 -6.8 0M1016.32 321.7a3.4 3.4 0 1 0 6.8 0a3.4 3.4 0 1 0 -6.8 0M935.34 283.5a3.4 3.4 0 1 0 6.8 0a3.4 3.4 0 1 0 -6.8 0M997.99 291.56a3.4 3.4 0 1 0 6.8 0a3.4 3.4 0 1 0 -6.8 0M964.96 278.43a3.4 3.4 0 1 0 6.8 0a3.4 3.4 0 1 0 -6.8 0M985.52 264.34a3.4 3.4 0 1 0 6.8 0a3.4 3.4 0 1 0 -6.8 0M950.18 203.57a3.4 3.4 0 1 0 6.8 0a3.4 3.4 0 1 0 -6.8 0M998.05 353.63a3.4 3.4 0 1 0 6.8 0a3.4 3.4 0 1 0 -6.8 0M965.49 256.98a3.4 3.4 0 1 0 6.8 0a3.4 3.4 0 1 0 -6.8 0M985.41 199.45a3.4 3.4 0 1 0 6.8 0a3.4 3.4 0 1 0 -6.8 0M984.05 387.09a3.4 3.4 0 1 0 6.8 0a3.4 3.4 0 1 0 -6.8 0M984.09 240.69a3.4 3.4 0 1 0 6.8 0a3.4 3.4 0 1 0 -6.8 0M956.31 324.24a3.4 3.4 0 1 0 6.8 0a3.4 3.4 0 1 0 -6.8 0M1032.14 398.85a3.4 3.4 0 1 0 6.8 0a3.4 3.4 0 1 0 -6.8 0M968.17 343.95a3.4 3.4 0 1 0 6.8 0a3.4 3.4 0 1 0 -6.8 0M949.04 300.57a3.4 3.4 0 1 0 6.8 0a3.4 3.4 0 1 0 -6.8 0M967.86 208.28a3.4 3.4 0 1 0 6.8 0a3.4 3.4 0 1 0 -6.8 0M1008.06 344.83a3.4 3.4 0 1 0 6.8 0a3.4 3.4 0 1 0 -6.8 0M946.74 190.5a3.4 3.4 0 1 0 6.8 0a3.4 3.4 0 1 0 -6.8 0M972.86 257.25a3.4 3.4 0 1 0 6.8 0a3.4 3.4 0 1 0 -6.8 0M1008.71 313.17a3.4 3.4 0 1 0 6.8 0a3.4 3.4 0 1 0 -6.8 0M1015.85 315.72a3.4 3.4 0 1 0 6.8 0a3.4 3.4 0 1 0 -6.8 0"/>
<path fill="#808080" d="M961.39 190.11a3.4 3.4 0 1 0 6.8 0a3.4 3.4 0 1 0 -6.8 0M957.65 217.63a3.4 3.4 0 1 0 6.8 0a3.4 3.4 0 1 0 -6.8 0M986.22 207.86a3.4 3.4 0 1 0 6.8 0a3.4 3.4 0 1 0 -6.8 0M986.14 221.89a3.4 3.4 0 1 0 6.8 0a3.4 3.4 0 1 0 -6.8 0M954.51 190.81a3.4 3.4 0 1 0 6.8 0a3.4 3.4 0 1 0 -6.8 0M975.91 220.22a3.4 3.4 0 1 0 6.8 0a3.4 3.4 0 1 0 -6.8 0M940.56 183.72a3.4 3.4 0 1 0 6.8 0a3.4 3.4 0 1 0 -6.8 0M965.4 180.69a3.4 3.4 0 1 0 6.8 0a3.4 3.4 0 1 0 -6.8 0M953.75 193.45a3.4 3.4 0 1 0 6.8 0a3.4 3.4 0 1 0 -6.8 0M952.95 210.89a3.4 3.4 0 1 0 6.8 0a3.4 3.4 0 1 0 -6.8 0M937.13 205.72a3.4 3.4 0 1 0 6.8 0a3.4 3.4 0 1 0 -6.8 0M940.14 214.5a3.4 3.4 0 1 0 6.8 0a3.4 3.4 0 1 0 -6.8 0M964.12 203.42a3.4 3.4 0 1 0 6.8 0a3.4 3.4 0 1 0 -6.8 0M962.06 189.39a3.4 3.4 0 1 0 6.8 0a3.4 3.4 0 1 0 -6.8 0M994.05 218.84a3.4 3.4 0 1 0 6.8 0a3.4 3.4 0 1 0 -6.8 0M941.11 192.65a3.4 3.4 0 1 0 6.8 0a3.4 3.4 0 1 0 -6.8 0M945.17 225.94a3.4 3.4 0 1 0 6.8 0a3.4 3.4 0 1 0 -6.8 0M972.07 220.51a3.4 3.4 0 1 0 6.8 0a3.4 3.4 0 1 0 -6.8 0M996.22 212.54a3.4 3.4 0 1 0 6.8 0a3.4 3.4 0 1 0 -6.8 0M976.39 196.23a3.4 3.4 0 1 0 6.8 0a3.4 3.4 0 1 0 -6.8 0M984.81 207.47a3.4 3.4 0 1 0 6.8 0a3.4 3.4 0 1 0 -6.8 0M945.28 199.49a3.4 3.4 0 1 0 6.8 0a3.4 3.4 0 1 0 -6.8 0M961.58 198.66a3.4 3.4 0 1 0 6.8 0a3.4 3.4 0 1 0 -6.8 0M980.69 208.6a3.4 3.4 0 1 0 6.8 0a3.4 3.4 0 1 0 -6.8 0M971.55 214.31a3.4 3.4 0 1 0 6.8 0a3.4 3.4 0 1 0 -6.8 0M945.43 224.05a3.4 3.4 0 1 0 6.8 0a3.4 3.4 0 1 0 -6.8 0M954.95 194.28a3.4 3.4 0 1 0 6.8 0a3.4 3.4 0 1 0 -6.8 0M964.88 201.46a3.4 3.4 0 1 0 6.8 0a3.4 3.4 0 1 0 -6.8 0M953.03 213.73a3.4 3.4 0 1 0 6.8 0a3.4 3.4 0 1 0 -6.8 0M956.36 217.56a3.4 3.4 0 1 0 6.8 0a3.4 3.4 0 1 0 -6.8 0M952.25 213.16a3.4 3.4 0 1 0 6.8 0a3.4 3.4 0 1 0 -6.8 0M972.89 207.33a3.4 3.4 0 1 0 6.8 0a3.4 3.4 0 1 0 -6.8 0M961.55 198.95a3.4 3.4 0 1 0 6.8 0a3.4 3.4 0 1 0 -6.8 0M948.17 195.62a3.4 3.4 0 1 0 6.8 0a3.4 3.4 0 1 0 -6.8 0M951.61 207.82a3.4 3.4 0 1 0 6.8 0a3.4 3.4 0 1 0 -6.8 0M947.8 199.66a3.4 3.4 0 1 0 6.8 0a3.4 3.4 0 1 0 -6.8 0M998.17 216.97a3.4 3.4 0 1 0 6.8 0a3.4 3.4 0 1 0 -6.8 0M959.43 178.24a3.4 3.4 0 1 0 6.8 0a3.4 3.4 0 1 0 -6.8 0M987.88 225.08a3.4 3.4 0 1 0 6.8 0a3.4 3.4 0 1 0 -6.8 0M946.56 212.43a3.4 3.4 0 1 0 6.8 0a3.4 3.4 0 1 0 -6.8 0M987.38 222.81a3.4 3.4 0 1 0 6.8 0a3.4 3.4 0 1 0 -6.8 0M945.7 182.38a3.4 3.4 0 1 0 6.8 0a3.4 3.4 0 1 0 -6.8 0M992.61 221.24a3.4 3.4 0 1 0 6.8 0a3.4 3.4 0 1 0 -6.8 0M965.42 176.44a3.4 3.4 0 1 0 6.8 0a3.4 3.4 0 1 0 -6.8 0M957.69 182.95a3.4 3.4 0 1 0 6.8 0a3.4 3.4 0 1 0 -6.8 0M976.56 210.37a3.4 3.4 0 1 0 6.8 0a3.4 3.4 0 1 0 -6.8 0M984.71 194.17a3.4 3.4 0 1 0 6.8 0a3.4 3.4 0 1 0 -6.8 0M964.34 195.93a3.4 3.4 0 1 0 6.8 0a3.4 3.4 0 1 0 -6.8 0M958.81 195.2a3.4 3.4 0 1 0 6.8 0a3.4 3.4 0 1 0 -6.8 0M978.91 209.87a3.4 3.4 0 1 0 6.8 0a3.4 3.4 0 1 0 -6.8 0M956.02 201.6a3.4 3.4 0 1 0 6.8 0a3.4 3.4 0 1 0 -6.8 0M959.88 189.71a3.4 3.4 0 1 0 6.8 0a3.4 3.4 0 1 0 -6.8 0M962.36 223.1a3.4 3.4 0 1 0 6.8 0a3.4 3.4 0 1 0 -6.8 0M955.4 190.25a3.4 3.4 0 1 0 6.8 0a3.4 3.4 0 1 0 -6.8 0M955.05 176.99a3.4 3.4 0 1 0 6.8 0a3.4 3.4 0 1 0 -6.8 0M972.86 217.19a3.4 3.4 0 1 0 6.8 0a3.4 3.4 0 1 0 -6.8 0M959.55 179.24a3.4 3.4 0 1 0 6.8 0a3.4 3.4 0 1 0 -6.8 0M981.38 214.42a3.4 3.4 0 1 0 6.8 0a3.4 3.4 0 1 0 -6.8 0M940.52 179.96a3.4 3.4 0 1 0 6.8 0a3.4 3.4 0 1 0 -6.8 0M955.32 213.17a3.4 3.4 0 1 0 6.8 0a3.4 3.4 0 1 0 -6.8 0M964.03 189.48a3.4 3.4 0 1 0 6.8 0a3.4 3.4 0 1 0 -6.8 0M965.29 214.58a3.4 3.4 0 1 0 6.8 0a3.4 3.4 0 1 0 -6.8 0M951.9 215.55a3.4 3.4 0 1 0 6.8 0a3.4 3.4 0 1 0 -6.8 0M993.89 203.55a3.4 3.4 0 1 0 6.8 0a3.4 3.4 0 1 0 -6.8 0M996.39 222.85a3.4 3.4 0 1 0 6.8 0a3.4 3.4 0 1 0 -6.8 0M946.12 225.91a3.4 3.4 0 1 0 6.8 0a3.4 3.4 0 1 0 -6.8 0M947.99 215.22a3.4 3.4 0 1 0 6.8 0a3.4 3.4 0 1 0 -6.8 0M942.93 186.47a3.4 3.4 0 1 0 6.8 0a3.4 3.4 0 1 0 -6.8 0M963.4 217.19a3.4 3.4 0 1 0 6.8 0a3.4 3.4 0 1 0 -6.8 0M992.47 218.69a3.4 3.4 0 1 0 6.8 0a3.4 3.4 0 1 0 -6.8 0M953.42 185.89a3.4 3.4 0 1 0 6.8 0a3.4 3.4 0 1 0 -6.8 0M961.91 223.11a3.4 3.4 0 1 0 6.8 0a3.4 3.4 0 1 0 -6.8 0M973.16 216.07a3.4 3.4 0 1 0 6.8 0a3.4 3.4 0 1 0 -6.8 0M939.75 183.2a3.4 3.4 0 1 0 6.8 0a3.4 3.4 0 1 0 -6.8 0M938.44 192.75a3.4 3.4 0 1 0 6.8 0a3.4 3.4 0 1 0 -6.8 0M970.05 192.04a3.4 3.4 0 1 0 6.8 0a3.4 3.4 0 1 0 -6.8 0M936.27 207.76a3.4 3.4 0 1 0 6.8 0a3.4 3.4 0 1 0 -6.8 0M956.61 197.28a3.4 3.4 0 1 0 6.8 0a3.4 3.4 0 1 0 -6.8 0M959.29 184.6a3.4 3.4 0 1 0 6.8 0a3.4 3.4 0 1 0 -6.8 0M938.5 186.12a3.4 3.4 0 1 0 6.8 0a3.4 3.4 0 1 0 -6.8 0M937.08 196.67a3.4 3.4 0 1 0 6.8 0a3.4 3.4 0 1 0 -6.8 0M936.45 219.47a3.4 3.4 0 1 0 6.8 0a3.4 3.4 0 1 0 -6.8 0M958.18 194.55a3.4 3.4 0 1 0 6.8 0a3.4 3.4 0 1 0 -6.8 0M941.67 214.11a3.4 3.4 0 1 0 6.8 0a3.4 3.4 0 1 0 -6.8 0M970.7 197.39a3.4 3.4 0 1 0 6.8 0a3.4 3.4 0 1 0 -6.8 0M957.13 212.16a3.4 3.4 0 1 0 6.8 0a3.4 3.4 0 1 0 -6.8 0M967.3 214.51a3.4 3.4 0 1 0 6.8 0a3.4 3.4 0 1 0 -6.8 0M988.51 220.32a3.4 3.4 0 1 0 6.8 0a3.4 3.4 0 1 0 -6.8 0M981.5 207.73a3.4 3.4 0 1 0 6.8 0a3.4 3.4 0 1 0 -6.8 0M964.64 199.68a3.4 3.4 0 1 0 6.8 0a3.4 3.4 0 1 0 -6.8 0M972.14 199.22a3.4 3.4 0 1 0 6.8 0a3.4 3.4 0 1 0 -6.8 0M987.45 218.27a3.4 3.4 0 1 0 6.8 0a3.4 3.4 0 1 0 -6.8 0M938.52 212.2a3.4 3.4 0 1 0 6.8 0a3.4 3.4 0 1 0 -6.8 0M974.51 203.4a3.4 3.4 0 1 0 6.8 0a3.4 3.4 0 1 0 -6.8 0M965.5 190.64a3.4 3.4 0 1 0 6.8 0a3.4 3.4 0 1 0 -6.8 0M983.29 197.15a3.4 3.4 0 1 0 6.8 0a3.4 3.4 0 1 0 -6.8 0M949.53 211.13a3.4 3.4 0 1 0 6.8 0a3.4 3.4 0 1 0 -6.8 0M991.26 213.65a3.4 3.4 0 1 0 6.8 0a3.4 3.4 0 1 0 -6.8 0M980.45 211.02a3.4 3.4 0 1 0 6.8 0a3.4 3.4 0 1 0 -6.8 0M939.06 222.67a3.4 3.4 0 1 0 6.8 0a3.4 3.4 0 1 0 -6.8 0M965.79 188.51a3.4 3.4 0 1 0 6.8 0a3.4 3.4 0 1 0 -6.8 0M941.86 219.84a3.4 3.4 0 1 0 6.8 0a3.4 3.4 0 1 0 -6.8 0M963.63 184.8a3.4 3.4 0 1 0 6.8 0a3.4 3.4 0 1 0 -6.8 0M956.47 192.64a3.4 3.4 0 1 0 6.8 0a3.4 3.4 0 1 0 -6.8 0M965.36 194.06a3.4 3.4 0 1 0 6.8 0a3.4 3.4 0 1 0 -6.8 0M973.22 222.98a3.4 3.4 0 1 0 6.8 0a3.4 3.4 0 1 0 -6.8 0M994.62 221.1a3.4 3.4 0 1 0 6.8 0a3.4 3.4 0 1 0 -6.8 0M950.79 195.47a3.4 3.4 0 1 0 6.8 0a3.4 3.4 0 1 0 -6.8 0M976.24 203.86a3.4 3.4 0 1 0 6.8 0a3.4 3.4 0 1 0 -6.8 0M957.5 225.93a3.4 3.4 0 1 0 6.8 0a3.4 3.4 0 1 0 -6.8 0M940.99 181.13a3.4 3.4 0 1 0 6.8 0a3.4 3.4 0 1 0 -6.8 0M981.82 217.28a3.4 3.4 0 1 0 6.8 0a3.4 3.4 0 1 0 -6.8 0M937.86 182.71a3.4 3.4 0 1 0 6.8 0a3.4 3.4 0 1 0 -6.8 0M950.66 214.18a3.4 3.4 0 1 0 6.8 0a3.4 3.4 0 1 0 -6.8 0M941.73 224.5a3.4 3.4 0 1 0 6.8 0a3.4 3.4 0 1 0 -6.8 0M997.17 210.17a3.4 3.4 0 1 0 6.8 0a3.4 3.4 0 1 0 -6.8 0M965.35 211.9a3.4 3.4 0 1 0 6.8 0a3.4 3.4 0 1 0 -6.8 0M984.15 198.31a3.4 3.4 0 1 0 6.8 0a3.4 3.4 0 1 0 -6.8 0M952.51 199.21a3.4 3.4 0 1 0 6.8 0a3.4 3.4 0 1 0 -6.8 0M949.64 224.13a3.4 3.4 0 1 0 6.8 0a3.4 3.4 0 1 0 -6.8 0M995.8 222.12a3.4 3.4 0 1 0 6.8 0a3.4 3.4 0 1 0 -6.8 0M988.86 217.73a3.4 3.4 0 1 0 6.8 0a3.4 3.4 0 1 0 -6.8 0M987.58 201.59a3.4 3.4 0 1 0 6.8 0a3.4 3.4 0 1 0 -6.8 0M939.94 211.04a3.4 3.4 0 1 0 6.8 0a3.4 3.4 0 1 0 -6.8 0M988.51 217.11a3.4 3.4 0 1 0 6.8 0a3.4 3.4 0 1 0 -6.8 0M981.81 197.08a3.4 3.4 0 1 0 6.8 0a3.4 3.4 0 1 0 -6.8 0M992.21 225.87a3.4 3.4 0 1 0 6.8 0a3.4 3.4 0 1 0 -6.8 0M963.71 207.82a3.4 3.4 0 1 0 6.8 0a3.4 3.4 0 1 0 -6.8 0M977.63 208.86a3.4 3.4 0 1 0 6.8 0a3.4 3.4 0 1 0 -6.8 0M958.65 205.76a3.4 3.4 0 1 0 6.8 0a3.4 3.4 0 1 0 -6.8 0"/>
<path fill="#808080" d="M1099.68 330.87a3.4 3.4 0 1 0 6.8 0a3.4 3.4 0 1 0 -6.8 0M1113.97 312.32a3.4 3.4 0 1 0 6.8 0a3.4 3.4 0 1 0 -6.8 0M1108.28 198.63a3.4 3.4 0 1 0 6.8 0a3.4 3.4 0 1 0 -6.8 0M1108.04 289.11a3.4 3.4 0 1 0 6.8 0a3.4 3.4 0 1 0 -6.8 0M1110.15 180.28a3.4 3.4 0 1 0 6.8 0a3.4 3.4 0 1 0 -6.8 0M1098.28 235.29a3.4 3.4 0 1 0 6.8 0a3.4 3.4 0 1 0 -6.8 0M1103.54 202.75a3.4 3.4 0 1 0 6.8 0a3.4 3.4 0 1 0 -6.8 0M1103.03 238.71a3.4 3.4 0 1 0 6.8 0a3.4 3.4 0 1 0 -6.8 0M1113.35 333.34a3.4 3.4 0 1 0 6.8 0a3.4 3.4 0 1 0 -6.8 0M1112.95 163.54a3.4 3.4 0 1 0 6.8 0a3.4 3.4 0 1 0 -6.8 0M1117.11 275.47a3.4 3.4 0 1 0 6.8 0a3.4 3.4 0 1 0 -6.8 0M1114.15 276.37a3.4 3.4 0 1 0 6.8 0a3.4 3.4 0 1 0 -6.8 0M1105.92 224.15a3.4 3.4 0 1 0 6.8 0a3.4 3.4 0 1 0 -6.8 0M1099.76 285.96a3.4 3.4 0 1 0 6.8 0a3.4 3.4 0 1 0 -6.8 0M1099.38 289.2a3.4 3.4 0 1 0 6.8 0a3.4 3.4 0 1 0 -6.8 0M1118.06 286.69a3.4 3.4 0 1 0 6.8 0a3.4 3.4 0 1 0 -6.8 0M1111.42 313.37a3.4 3.4 0 1 0 6.8 0a3.4 3.4 0 1 0 -6.8 0M1119.12 314.23a3.4 3.4 0 1 0 6.8 0a3.4 3.4 0 1 0 -6.8 0M1119.78 247.06a3.4 3.4 0 1 0 6.8 0a3.4 3.4 0 1 0 -6.8 0M1098.52 276.5a3.4 3.4 0 1 0 6.8 0a3.4 3.4 0 1 0 -6.8 0M1112.12 323.83a3.4 3.4 0 1 0 6.8 0a3.4 3.4 0 1 0 -6.8 0M1111.55 228.74a3.4 3.4 0 1 0 6.8 0a3.4 3.4 0 1 0 -6.8 0M1098.3 317.66a3.4 3.4 0 1 0 6.8 0a3.4 3.4 0 1 0 -6.8 0M1111.14 321.86a3.4 3.4 0 1 0 6.8 0a3.4 3.4 0 1 0 -6.8 0M1108.28 330.33a3.4 3.4 0 1 0 6.8 0a3.4 3.4 0 1 0 -6.8 0M1106.85 161.74a3.4 3.4 0 1 0 6.8 0a3.4 3.4 0 1 0 -6.8 0M1105.3 226.45a3.4 3.4 0 1 0 6.8 0a3.4 3.4 0 1 0 -6.8 0M1119.83 234.74a3.4 3.4 0 1 0 6.8 0a3.4 3.4 0 1 0 -6.8 0"/>
<path fill="#808080" d="M1063.35 159.38a3.4 3.4 0 1 0 6.8 0a3.4 3.4 0 1 0 -6.8 0M1053.86 150.63a3.4 3.4 0 1 0 6.8 0a3.4 3.4 0 1 0 -6.8 0M1069.78 146.51a3.4 3.4 0 1 0 6.8 0a3.4 3.4 0 1 0 -6.8 0M1080.64 153.29a3.4 3.4 0 1 0 6.8 0a3.4 3.4 0 1 0 -6.8 0M1091.55 151.4a3.4 3.4 0 1 0 6.8 0a3.4 3.4 0 1 0 -6.8 0M1077.05 148.83a3.4 3.4 0 1 0 6.8 0a3.4 3.4 0 1 0 -6.8 0M1049.42 150.54a3.4 3.4 0 1 0 6.8 0a3.4 3.4 0 1 0 -6.8 0M1074.78 155.59a3.4 3.4 0 1 0 6.8 0a3.4 3.4 0 1 0 -6.8 0M1062.88 155.83a3.4 3.4 0 1 0 6.8 0a3.4 3.4 0 1 0 -6.8 0M1052.15 151.62a3.4 3.4 0 1 0 6.8 0a3.4 3.4 0 1 0 -6.8 0M1063.88 162.21a3.4 3.4 0 1 0 6.8 0a3.4 3.4 0 1 0 -6.8 0M1089.84 159.6a3.4 3.4 0 1 0 6.8 0a3.4 3.4 0 1 0 -6.8 0M1080.47 163.37a3.4 3.4 0 1 0 6.8 0a3.4 3.4 0 1 0 -6.8 0M1055.63 160.67a3.4 3.4 0 1 0 6.8 0a3.4 3.4 0 1 0 -6.8 0"/>
<polygon fill="#808080" points="1055.89,173.4 1054.48,188.4 1052.99,210.34 1052.94,210.76 1052.86,211.17 1052.74,211.58 1047.95,225.97 1044.99,271.33 1044.98,271.5 1041.99,301.36 1040,346.22 1039.99,346.23 1038.99,368.23 1038.96,368.62 1036.96,384.62 1036.86,385.18 1036.7,385.72 1036.47,386.24 1026.87,405.44 1032.1,407.62 1045.6,402.56 1059.62,392.28 1076.11,373.85 1086.72,359.38 1094.27,344.28 1099.11,323.93 1104.05,299.26 1108.01,259.69 1109,220.14 1107.07,196.12 1102.55,184.37 1096.63,175.91 1087.76,171.47 1087.43,171.29 1079.01,166.23 1068.82,167.93 1068.29,167.99 1067.75,167.99 1067.21,167.94 1066.68,167.82 1059.64,165.9 1055.89,173.4"/>
<path fill="#808080" d="M1088.72 201.24a3.4 3.4 0 1 0 6.8 0a3.4 3.4 0 1 0 -6.8 0M1069.95 317.58a3.4 3.4 0 1 0 6.8 0a3.4 3.4 0 1 0 -6.8 0M1073.34 195.42a3.4 3.4 0 1 0 6.8 0a3.4 3.4 0 1 0 -6.8 0M1053.51 179.34a3.4 3.4 0 1 0 6.8 0a3.4 3.4 0 1 0 -6.8 0M1079.15 226.66a3.4 3.4 0 1 0 6.8 0a3.4 3.4 0 1 0 -6.8 0M1073.56 241.65a3.4 3.4 0 1 0 6.8 0a3.4 3.4 0 1 0 -6.8 0M1101.91 225.02a3.4 3.4 0 1 0 6.8 0a3.4 3.4 0 1 0 -6.8 0M1093.12 184.28a3.4 3.4 0 1 0 6.8 0a3.4 3.4 0 1 0 -6.8 0M1071.27 180.73a3.4 3.4 0 1 0 6.8 0a3.4 3.4 0 1 0 -6.8 0M1027.74 398.5a3.4 3.4 0 1 0 6.8 0a3.4 3.4 0 1 0 -6.8 0M1090.34 177.03a3.4 3.4 0 1 0 6.8 0a3.4 3.4 0 1 0 -6.8 0M1063.56 273.19a3.4 3.4 0 1 0 6.8 0a3.4 3.4 0 1 0 -6.8 0M1082.08 244a3.4 3.4 0 1 0 6.8 0a3.4 3.4 0 1 0 -6.8 0M1088.39 306.23a3.4 3.4 0 1 0 6.8 0a3.4 3.4 0 1 0 -6.8 0M1056.1 293.02a3.4 3.4 0 1 0 6.8 0a3.4 3.4 0 1 0 -6.8 0M1043.66 233.51a3.4 3.4 0 1 0 6.8 0a3.4 3.4 0 1 0 -6.8 0M1098.97 249.05a3.4 3.4 0 1 0 6.8 0a3.4 3.4 0 1 0 -6.8 0M1088.36 253.37a3.4 3.4 0 1 0 6.8 0a3.4 3.4 0 1 0 -6.8 0M1045.5 220.07a3.4 3.4 0 1 0 6.8 0a3.4 3.4 0 1 0 -6.8 0M1056.68 253.67a3.4 3.4 0 1 0 6.8 0a3.4 3.4 0 1 0 -6.8 0M1104.59 240.13a3.4 3.4 0 1 0 6.8 0a3.4 3.4 0 1 0 -6.8 0M1093.41 294.68a3.4 3.4 0 1 0 6.8 0a3.4 3.4 0 1 0 -6.8 0M1039.77 333.26a3.4 3.4 0 1 0 6.8 0a3.4 3.4 0 1 0 -6.8 0M1093.94 343.24a3.4 3.4 0 1 0 6.8 0a3.4 3.4 0 1 0 -6.8 0M1102.09 296.83a3.4 3.4 0 1 0 6.8 0a3.4 3.4 0 1 0 -6.8 0M1098.21 250.08a3.4 3.4 0 1 0 6.8 0a3.4 3.4 0 1 0 -6.8 0M1074.37 325.98a3.4 3.4 0 1 0 6.8 0a3.4 3.4 0 1 0 -6.8 0M1091.68 227.35a3.4 3.4 0 1 0 6.8 0a3.4 3.4 0 1 0 -6.8 0M1092.99 222.76a3.4 3.4 0 1 0 6.8 0a3.4 3.4 0 1 0 -6.8 0M1054.27 359.52a3.4 3.4 0 1 0 6.8 0a3.4 3.4 0 1 0 -6.8 0M1067.2 340.15a3.4 3.4 0 1 0 6.8 0a3.4 3.4 0 1 0 -6.8 0M1062.26 232.06a3.4 3.4 0 1 0 6.8 0a3.4 3.4 0 1 0 -6.8 0M1068.7 184.24a3.4 3.4 0 1 0 6.8 0a3.4 3.4 0 1 0 -6.8 0M1081.39 265.8a3.4 3.4 0 1 0 6.8 0a3.4 3.4 0 1 0 -6.8 0M1098.28 259.09a3.4 3.4 0 1 0 6.8 0a3.4 3.4 0 1 0 -6.8 0M1107.59 204.3a3.4 3.4 0 1 0 6.8 0a3.4 3.4 0 1 0 -6.8 0M1091.28 313.05a3.4 3.4 0 1 0 6.8 0a3.4 3.4 0 1 0 -6.8 0M1061.77 190.45a3.4 3.4 0 1 0 6.8 0a3.4 3.4 0 1 0 -6.8 0M1076.75 196.03a3.4 3.4 0 1 0 6.8 0a3.4 3.4 0 1 0 -6.8 0M1076.84 361.62a3.4 3.4 0 1 0 6.8 0a3.4 3.4 0 1 0 -6.8 0M1093.37 196.1a3.4 3.4 0 1 0 6.8 0a3.4 3.4 0 1 0 -6.8 0M1063.1 168.96a3.4 3.4 0 1 0 6.8 0a3.4 3.4 0 1 0 -6.8 0M1097.06 331.89a3.4 3.4 0 1 0 6.8 0a3.4 3.4 0 1 0 -6.8 0M1091.72 283.68a3.4 3.4 0 1 0 6.8 0a3.4 3.4 0 1 0 -6.8 0M1044.92 269.41a3.4 3.4 0 1 0 6.8 0a3.4 3.4 0 1 0 -6.8 0M1102.11 229.63a3.4 3.4 0 1 0 6.8 0a3.4 3.4 0 1 0 -6.8 0M1074.43 177.75a3.4 3.4 0 1 0 6.8 0a3.4 3.4 0 1 0 -6.8 0M1064.42 198.25a3.4 3.4 0 1 0 6.8 0a3.4 3.4 0 1 0 -6.8 0M1070.14 178.21a3.4 3.4 0 1 0 6.8 0a3.4 3.4 0 1 0 -6.8 0M1060.43 181.87a3.4 3.4 0 1 0 6.8 0a3.4 3.4 0 1 0 -6.8 0M1056.45 365.85a3.4 3.4 0 1 0 6.8 0a3.4 3.4 0 1 0 -6.8 0M1060.05 271.89a3.4 3.4 0 1 0 6.8 0a3.4 3.4 0 1 0 -6.8 0M1070.19 263.62a3.4 3.4 0 1 0 6.8 0a3.4 3.4 0 1 0 -6.8 0M1068.72 201.71a3.4 3.4 0 1 0 6.8 0a3.4 3.4 0 1 0 -6.8 0M1043.73 371.27a3.4 3.4 0 1 0 6.8 0a3.4 3.4 0 1 0 -6.8 0M1071.56 323.06a3.4 3.4 0 1 0 6.8 0a3.4 3.4 0 1 0 -6.8 0M1075.85 173.87a3.4 3.4 0 1 0 6.8 0a3.4 3.4 0 1 0 -6.8 0M1072.12 226.6a3.4 3.4 0 1 0 6.8 0a3.4 3.4 0 1 0 -6.8 0M1055.7 394.01a3.4 3.4 0 1 0 6.8 0a3.4 3.4 0 1 0 -6.8 0M1070.78 223.36a3.4 3.4 0 1 0 6.8 0a3.4 3.4 0 1 0 -6.8 0M1086.19 231.71a3.4 3.4 0 1 0 6.8 0a3.4 3.4 0 1 0 -6.8 0M1073.52 234.1a3.4 3.4 0 1 0 6.8 0a3.4 3.4 0 1 0 -6.8 0M1087.31 226.27a3.4 3.4 0 1 0 6.8 0a3.4 3.4 0 1 0 -6.8 0M1097.22 331.06a3.4 3.4 0 1 0 6.8 0a3.4 3.4 0 1 0 -6.8 0M1099.24 248.1a3.4 3.4 0 1 0 6.8 0a3.4 3.4 0 1 0 -6.8 0M1042 323.21a3.4 3.4 0 1 0 6.8 0a3.4 3.4 0 1 0 -6.8 0M1088.85 197.3a3.4 3.4 0 1 0 6.8 0a3.4 3.4 0 1 0 -6.8 0M1086.89 229.97a3.4 3.4 0 1 0 6.8 0a3.4 3.4 0 1 0 -6.8 0M1051.58 394.45a3.4 3.4 0 1 0 6.8 0a3.4 3.4 0 1 0 -6.8 0M1071.31 242.65a3.4 3.4 0 1 0 6.8 0a3.4 3.4 0 1 0 -6.8 0M1053.01 303.99a3.4 3.4 0 1 0 6.8 0a3.4 3.4 0 1 0 -6.8 0M1041.09 322a3.4 3.4 0 1 0 6.8 0a3.4 3.4 0 1 0 -6.8 0M1051.89 270.15a3.4 3.4 0 1 0 6.8 0a3.4 3.4 0 1 0 -6.8 0M1095.15 298.31a3.4 3.4 0 1 0 6.8 0a3.4 3.4 0 1 0 -6.8 0M1065.51 312.96a3.4 3.4 0 1 0 6.8 0a3.4 3.4 0 1 0 -6.8 0M1068.68 331.01a3.4 3.4 0 1 0 6.8 0a3.4 3.4 0 1 0 -6.8 0M1069.1 299.72a3.4 3.4 0 1 0 6.8 0a3.4 3.4 0 1 0 -6.8 0M1058.45 382.99a3.4 3.4 0 1 0 6.8 0a3.4 3.4 0 1 0 -6.8 0M1104.19 235.01a3.4 3.4 0 1 0 6.8 0a3.4 3.4 0 1 0 -6.8 0M1070.64 291.16a3.4 3.4 0 1 0 6.8 0a3.4 3.4 0 1 0 -6.8 0M1059.75 206.34a3.4 3.4 0 1 0 6.8 0a3.4 3.4 0 1 0 -6.8 0M1089.98 183.16a3.4 3.4 0 1 0 6.8 0a3.4 3.4 0 1 0 -6.8 0M1034.31 322.14a3.4 3.4 0 1 0 6.8 0a3.4 3.4 0 1 0 -6.8 0M1072.94 317.67a3.4 3.4 0 1 0 6.8 0a3.4 3.4 0 1 0 -6.8 0M1062.13 314.63a3.4 3.4 0 1 0 6.8 0a3.4 3.4 0 1 0 -6.8 0M1045.46 277.6a3.4 3.4 0 1 0 6.8 0a3.4 3.4 0 1 0 -6.8 0M1080.91 215.59a3.4 3.4 0 1 0 6.8 0a3.4 3.4 0 1 0 -6.8 0M1084.94 307.9a3.4 3.4 0 1 0 6.8 0a3.4 3.4 0 1 0 -6.8 0M1068.3 353.47a3.4 3.4 0 1 0 6.8 0a3.4 3.4 0 1 0 -6.8 0M1044.81 254.8a3.4 3.4 0 1 0 6.8 0a3.4 3.4 0 1 0 -6.8 0M1057.8 345.08a3.4 3.4 0 1 0 6.8 0a3.4 3.4 0 1 0 -6.8 0M1083.67 208.08a3.4 3.4 0 1 0 6.8 0a3.4 3.4 0 1 0 -6.8 0M1074.84 257.81a3.4 3.4 0 1 0 6.8 0a3.4 3.4 0 1 0 -6.8 0M1072.13 341.08a3.4 3.4 0 1 0 6.8 0a3.4 3.4 0 1 0 -6.8 0M1074.35 357.12a3.4 3.4 0 1 0 6.8 0a3.4 3.4 0 1 0 -6.8 0M1058.14 346.95a3.4 3.4 0 1 0 6.8 0a3.4 3.4 0 1 0 -6.8 0M1073.27 320.05a3.4 3.4 0 1 0 6.8 0a3.4 3.4 0 1 0 -6.8 0M1068.26 328.26a3.4 3.4 0 1 0 6.8 0a3.4 3.4 0 1 0 -6.8 0M1069.31 184.47a3.4 3.4 0 1 0 6.8 0a3.4 3.4 0 1 0 -6.8 0M1079.68 337.38a3.4 3.4 0 1 0 6.8 0a3.4 3.4 0 1 0 -6.8 0M1062.18 203.37a3.4 3.4 0 1 0 6.8 0a3.4 3.4 0 1 0 -6.8 0M1064.92 251.19a3.4 3.4 0 1 0 6.8 0a3.4 3.4 0 1 0 -6.8 0M1033.72 383.48a3.4 3.4 0 1 0 6.8 0a3.4 3.4 0 1 0 -6.8 0M1034.78 339.52a3.4 3.4 0 1 0 6.8 0a3.4 3.4 0 1 0 -6.8 0M1059.24 320.92a3.4 3.4 0 1 0 6.8 0a3.4 3.4 0 1 0 -6.8 0M1060.28 202.73a3.4 3.4 0 1 0 6.8 0a3.4 3.4 0 1 0 -6.8 0M1050.89 271.9a3.4 3.4 0 1 0 6.8 0a3.4 3.4 0 1 0 -6.8 0M1097.25 190.34a3.4 3.4 0 1 0 6.8 0a3.4 3.4 0 1 0 -6.8 0M1067.43 279.47a3.4 3.4 0 1 0 6.8 0a3.4 3.4 0 1 0 -6.8 0M1068.66 359.48a3.4 3.4 0 1 0 6.8 0a3.4 3.4 0 1 0 -6.8 0M1072.86 242.54a3.4 3.4 0 1 0 6.8 0a3.4 3.4 0 1 0 -6.8 0M1043.26 298.42a3.4 3.4 0 1 0 6.8 0a3.4 3.4 0 1 0 -6.8 0M1077.24 283.48a3.4 3.4 0 1 0 6.8 0a3.4 3.4 0 1 0 -6.8 0M1039.7 271.01a3.4 3.4 0 1 0 6.8 0a3.4 3.4 0 1 0 -6.8 0M1056.86 311.87a3.4 3.4 0 1 0 6.8 0a3.4 3.4 0 1 0 -6.8 0M1043.18 316.52a3.4 3.4 0 1 0 6.8 0a3.4 3.4 0 1 0 -6.8 0M1061.5 360.31a3.4 3.4 0 1 0 6.8 0a3.4 3.4 0 1 0 -6.8 0M1091.36 221.04a3.4 3.4 0 1 0 6.8 0a3.4 3.4 0 1 0 -6.8 0M1049.01 225.38a3.4 3.4 0 1 0 6.8 0a3.4 3.4 0 1 0 -6.8 0M1083.09 270.81a3.4 3.4 0 1 0 6.8 0a3.4 3.4 0 1 0 -6.8 0M1080.47 225.72a3.4 3.4 0 1 0 6.8 0a3.4 3.4 0 1 0 -6.8 0M1096.39 227.84a3.4 3.4 0 1 0 6.8 0a3.4 3.4 0 1 0 -6.8 0M1097.28 271.24a3.4 3.4 0 1 0 6.8 0a3.4 3.4 0 1 0 -6.8 0M1054.97 305.93a3.4 3.4 0 1 0 6.8 0a3.4 3.4 0 1 0 -6.8 0M1065.96 298.54a3.4 3.4 0 1 0 6.8 0a3.4 3.4 0 1 0 -6.8 0M1085.8 184.92a3.4 3.4 0 1 0 6.8 0a3.4 3.4 0 1 0 -6.8 0M1079.53 221.73a3.4 3.4 0 1 0 6.8 0a3.4 3.4 0 1 0 -6.8 0M1052.38 281.51a3.4 3.4 0 1 0 6.8 0a3.4 3.4 0 1 0 -6.8 0M1028.71 392.37a3.4 3.4 0 1 0 6.8 0a3.4 3.4 0 1 0 -6.8 0M1062.35 211.83a3.4 3.4 0 1 0 6.8 0a3.4 3.4 0 1 0 -6.8 0M1063.14 362.71a3.4 3.4 0 1 0 6.8 0a3.4 3.4 0 1 0 -6.8 0M1043.46 308.42a3.4 3.4 0 1 0 6.8 0a3.4 3.4 0 1 0 -6.8 0M1080.83 218.59a3.4 3.4 0 1 0 6.8 0a3.4 3.4 0 1 0 -6.8 0M1080.92 308.04a3.4 3.4 0 1 0 6.8 0a3.4 3.4 0 1 0 -6.8 0M1059.86 288.99a3.4 3.4 0 1 0 6.8 0a3.4 3.4 0 1 0 -6.8 0M1077.01 187.58a3.4 3.4 0 1 0 6.8 0a3.4 3.4 0 1 0 -6.8 0M1067.73 210.76a3.4 3.4 0 1 0 6.8 0a3.4 3.4 0 1 0 -6.8 0M1042.55 353.19a3.4 3.4 0 1 0 6.8 0a3.4 3.4 0 1 0 -6.8 0M1059.06 198.61a3.4 3.4 0 1 0 6.8 0a3.4 3.4 0 1 0 -6.8 0M1074.91 272.88a3.4 3.4 0 1 0 6.8 0a3.4 3.4 0 1 0 -6.8 0M1067.34 337.14a3.4 3.4 0 1 0 6.8 0a3.4 3.4 0 1 0 -6.8 0M1041.19 356.43a3.4 3.4 0 1 0 6.8 0a3.4 3.4 0 1 0 -6.8 0M1064.57 207.92a3.4 3.4 0 1 0 6.8 0a3.4 3.4 0 1 0 -6.8 0M1069.43 232.71a3.4 3.4 0 1 0 6.8 0a3.4 3.4 0 1 0 -6.8 0M1103.89 269.95a3.4 3.4 0 1 0 6.8 0a3.4 3.4 0 1 0 -6.8 0M1059.62 353.57a3.4 3.4 0 1 0 6.8 0a3.4 3.4 0 1 0 -6.8 0M1063.2 261.49a3.4 3.4 0 1 0 6.8 0a3.4 3.4 0 1 0 -6.8 0M1047.39 292.85a3.4 3.4 0 1 0 6.8 0a3.4 3.4 0 1 0 -6.8 0M1050.95 259.47a3.4 3.4 0 1 0 6.8 0a3.4 3.4 0 1 0 -6.8 0M1062.23 289.55a3.4 3.4 0 1 0 6.8 0a3.4 3.4 0 1 0 -6.8 0M1041.67 262.49a3.4 3.4 0 1 0 6.8 0a3.4 3.4 0 1 0 -6.8 0M1041.15 310.88a3.4 3.4 0 1 0 6.8 0a3.4 3.4 0 1 0 -6.8 0M1057.65 332.42a3.4 3.4 0 1 0 6.8 0a3.4 3.4 0 1 0 -6.8 0M1057.15 357.32a3.4 3.4 0 1 0 6.8 0a3.4 3.4 0 1 0 -6.8 0M1068.51 188.08a3.4 3.4 0 1 0 6.8 0a3.4 3.4 0 1 0 -6.8 0M1063.18 224.98a3.4 3.4 0 1 0 6.8 0a3.4 3.4 0 1 0 -6.8 0M1045.67 398.33a3.4 3.4 0 1 0 6.8 0a3.4 3.4 0 1 0 -6.8 0M1062.09 346.15a3.4 3.4 0 1 0 6.8 0a3.4 3.4 0 1 0 -6.8 0M1085 327.19a3.4 3.4 0 1 0 6.8 0a3.4 3.4 0 1 0 -6.8 0M1089.04 353.23a3.4 3.4 0 1 0 6.8 0a3.4 3.4 0 1 0 -6.8 0M1039.91 288.64a3.4 3.4 0 1 0 6.8 0a3.4 3.4 0 1 0 -6.8 0M1090.99 312.43a3.4 3.4 0 1 0 6.8 0a3.4 3.4 0 1 0 -6.8 0M1066.17 208a3.4 3.4 0 1 0 6.8 0a3.4 3.4 0 1 0 -6.8 0M1066.1 310.53a3.4 3.4 0 1 0 6.8 0a3.4 3.4 0 1 0 -6.8 0M1060.32 320.52a3.4 3.4 0 1 0 6.8 0a3.4 3.4 0 1 0 -6.8 0M1069.67 322.89a3.4 3.4 0 1 0 6.8 0a3.4 3.4 0 1 0 -6.8 0M1055.87 371.88a3.4 3.4 0 1 0 6.8 0a3.4 3.4 0 1 0 -6.8 0M1066.74 381.45a3.4 3.4 0 1 0 6.8 0a3.4 3.4 0 1 0 -6.8 0M1088.45 333.97a3.4 3.4 0 1 0 6.8 0a3.4 3.4 0 1 0 -6.8 0M1068.61 223.64a3.4 3.4 0 1 0 6.8 0a3.4 3.4 0 1 0 -6.8 0M1041.18 314.61a3.4 3.4 0 1 0 6.8 0a3.4 3.4 0 1 0 -6.8 0M1068.35 313.32a3.4 3.4 0 1 0 6.8 0a3.4 3.4 0 1 0 -6.8 0M1057.52 221.6a3.4 3.4 0 1 0 6.8 0a3.4 3.4 0 1 0 -6.8 0M1046.19 335.67a3.4 3.4 0 1 0 6.8 0a3.4 3.4 0 1 0 -6.8 0M1098.69 241.4a3.4 3.4 0 1 0 6.8 0a3.4 3.4 0 1 0 -6.8 0M1047.1 273.57a3.4 3.4 0 1 0 6.8 0a3.4 3.4 0 1 0 -6.8 0M1057.51 319.59a3.4 3.4 0 1 0 6.8 0a3.4 3.4 0 1 0 -6.8 0M1086.98 353.35a3.4 3.4 0 1 0 6.8 0a3.4 3.4 0 1 0 -6.8 0M1091.77 342.81a3.4 3.4 0 1 0 6.8 0a3.4 3.4 0 1 0 -6.8 0M1106.45 273.78a3.4 3.4 0 1 0 6.8 0a3.4 3.4 0 1 0 -6.8 0M1059.09 324.35a3.4 3.4 0 1 0 6.8 0a3.4 3.4 0 1 0 -6.8 0M1047.11 368.73a3.4 3.4 0 1 0 6.8 0a3.4 3.4 0 1 0 -6.8 0M1056.49 300.77a3.4 3.4 0 1 0 6.8 0a3.4 3.4 0 1 0 -6.8 0M1065.68 252.7a3.4 3.4 0 1 0 6.8 0a3.4 3.4 0 1 0 -6.8 0M1031.16 387.05a3.4 3.4 0 1 0 6.8 0a3.4 3.4 0 1 0 -6.8 0M1098.22 178.95a3.4 3.4 0 1 0 6.8 0a3.4 3.4 0 1 0 -6.8 0M1045.7 396.03a3.4 3.4 0 1 0 6.8 0a3.4 3.4 0 1 0 -6.8 0M1079.56 367.32a3.4 3.4 0 1 0 6.8 0a3.4 3.4 0 1 0 -6.8 0M1093.99 206.33a3.4 3.4 0 1 0 6.8 0a3.4 3.4 0 1 0 -6.8 0M1064.3 185.45a3.4 3.4 0 1 0 6.8 0a3.4 3.4 0 1 0 -6.8 0M1052.97 285.54a3.4 3.4 0 1 0 6.8 0a3.4 3.4 0 1 0 -6.8 0M1092.51 234.02a3.4 3.4 0 1 0 6.8 0a3.4 3.4 0 1 0 -6.8 0M1078.91 197.05a3.4 3.4 0 1 0 6.8 0a3.4 3.4 0 1 0 -6.8 0M1071.19 308.09a3.4 3.4 0 1 0 6.8 0a3.4 3.4 0 1 0 -6.8 0M1083.11 266.57a3.4 3.4 0 1 0 6.8 0a3.4 3.4 0 1 0 -6.8 0M1070.06 379.73a3.4 3.4 0 1 0 6.8 0a3.4 3.4 0 1 0 -6.8 0M1068.54 311.37a3.4 3.4 0 1 0 6.8 0a3.4 3.4 0 1 0 -6.8 0M1060.95 213.15a3.4 3.4 0 1 0 6.8 0a3.4 3.4 0 1 0 -6.8 0M1087.55 318.56a3.4 3.4 0 1 0 6.8 0a3.4 3.4 0 1 0 -6.8 0M1095.89 299.38a3.4 3.4 0 1 0 6.8 0a3.4 3.4 0 1 0 -6.8 0M1041.85 279.22a3.4 3.4 0 1 0 6.8 0a3.4 3.4 0 1 0 -6.8 0M1060.85 249.66a3.4 3.4 0 1 0 6.8 0a3.4 3.4 0 1 0 -6.8 0M1071.18 199.1a3.4 3.4 0 1 0 6.8 0a3.4 3.4 0 1 0 -6.8 0M1085.32 262.3a3.4 3.4 0 1 0 6.8 0a3.4 3.4 0 1 0 -6.8 0M1100.18 313.62a3.4 3.4 0 1 0 6.8 0a3.4 3.4 0 1 0 -6.8 0M1078.19 233.26a3.4 3.4 0 1 0 6.8 0a3.4 3.4 0 1 0 -6.8 0M1099.88 248.66a3.4 3.4 0 1 0 6.8 0a3.4 3.4 0 1 0 -6.8 0M1095.03 222.76a3.4 3.4 0 1 0 6.8 0a3.4 3.4 0 1 0 -6.8 0M1034.89 344.34a3.4 3.4 0 1 0 6.8 0a3.4 3.4 0 1 0 -6.8 0M1052.94 245.37a3.4 3.4 0 1 0 6.8 0a3.4 3.4 0 1 0 -6.8 0M1051.44 201.95a3.4 3.4 0 1 0 6.8 0a3.4 3.4 0 1 0 -6.8 0M1054.89 185.19a3.4 3.4 0 1 0 6.8 0a3.4 3.4 0 1 0 -6.8 0M1090.57 250.12a3.4 3.4 0 1 0 6.8 0a3.4 3.4 0 1 0 -6.8 0M1083.04 268.61a3.4 3.4 0 1 0 6.8 0a3.4 3.4 0 1 0 -6.8 0M1056.06 309.75a3.4 3.4 0 1 0 6.8 0a3.4 3.4 0 1 0 -6.8 0M1048.38 317.06a3.4 3.4 0 1 0 6.8 0a3.4 3.4 0 1 0 -6.8 0M1062.54 371.86a3.4 3.4 0 1 0 6.8 0a3.4 3.4 0 1 0 -6.8 0M1075.84 198.72a3.4 3.4 0 1 0 6.8 0a3.4 3.4 0 1 0 -6.8 0M1078.91 220.52a3.4 3.4 0 1 0 6.8 0a3.4 3.4 0 1 0 -6.8 0M1074.46 264.99a3.4 3.4 0 1 0 6.8 0a3.4 3.4 0 1 0 -6.8 0M1105.02 273.88a3.4 3.4 0 1 0 6.8 0a3.4 3.4 0 1 0 -6.8 0M1043.31 239.22a3.4 3.4 0 1 0 6.8 0a3.4 3.4 0 1 0 -6.8 0M1105.17 248.78a3.4 3.4 0 1 0 6.8 0a3.4 3.4 0 1 0 -6.8 0M1040.7 295.33a3.4 3.4 0 1 0 6.8 0a3.4 3.4 0 1 0 -6.8 0M1084.02 285.42a3.4 3.4 0 1 0 6.8 0a3.4 3.4 0 1 0 -6.8 0M1081.14 330.1a3.4 3.4 0 1 0 6.8 0a3.4 3.4 0 1 0 -6.8 0M1066.11 350.9a3.4 3.4 0 1 0 6.8 0a3.4 3.4 0 1 0 -6.8 0M1084.49 181.69a3.4 3.4 0 1 0 6.8 0a3.4 3.4 0 1 0 -6.8 0M1045.6 357.65a3.4 3.4 0 1 0 6.8 0a3.4 3.4 0 1 0 -6.8 0M1064.46 292.4a3.4 3.4 0 1 0 6.8 0a3.4 3.4 0 1 0 -6.8 0M1052.55 168.8a3.4 3.4 0 1 0 6.8 0a3.4 3.4 0 1 0 -6.8 0M1092.84 259.02a3.4 3.4 0 1 0 6.8 0a3.4 3.4 0 1 0 -6.8 0M1093.39 188.31a3.4 3.4 0 1 0 6.8 0a3.4 3.4 0 1 0 -6.8 0M1057.78 296.47a3.4 3.4 0 1 0 6.8 0a3.4 3.4 0 1 0 -6.8 0M1084.9 311.86a3.4 3.4 0 1 0 6.8 0a3.4 3.4 0 1 0 -6.8 0M1061.87 204.74a3.4 3.4 0 1 0 6.8 0a3.4 3.4 0 1 0 -6.8 0M1076.71 272.41a3.4 3.4 0 1 0 6.8 0a3.4 3.4 0 1 0 -6.8 0M1080.01 172.36a3.4 3.4 0 1 0 6.8 0a3.4 3.4 0 1 0 -6.8 0M1087.62 281.37a3.4 3.4 0 1 0 6.8 0a3.4 3.4 0 1 0 -6.8 0M1044.61 356.78a3.4 3.4 0 1 0 6.8 0a3.4 3.4 0 1 0 -6.8 0M1065.76 234.33a3.4 3.4 0 1 0 6.8 0a3.4 3.4 0 1 0 -6.8 0M1067.45 331.87a3.4 3.4 0 1 0 6.8 0a3.4 3.4 0 1 0 -6.8 0M1073.92 263.9a3.4 3.4 0 1 0 6.8 0a3.4 3.4 0 1 0 -6.8 0M1077.67 247.51a3.4 3.4 0 1 0 6.8 0a3.4 3.4 0 1 0 -6.8 0M1077.86 213.77a3.4 3.4 0 1 0 6.8 0a3.4 3.4 0 1 0 -6.8 0M1062.96 268.62a3.4 3.4 0 1 0 6.8 0a3.4 3.4 0 1 0 -6.8 0M1066.25 175.62a3.4 3.4 0 1 0 6.8 0a3.4 3.4 0 1 0 -6.8 0M1040.66 340.35a3.4 3.4 0 1 0 6.8 0a3.4 3.4 0 1 0 -6.8 0M1085 354.13a3.4 3.4 0 1 0 6.8 0a3.4 3.4 0 1 0 -6.8 0M1106.14 258.56a3.4 3.4 0 1 0 6.8 0a3.4 3.4 0 1 0 -6.8 0M1054.49 350.14a3.4 3.4 0 1 0 6.8 0a3.4 3.4 0 1 0 -6.8 0M1043.29 300.73a3.4 3.4 0 1 0 6.8 0a3.4 3.4 0 1 0 -6.8 0M1064.52 334.39a3.4 3.4 0 1 0 6.8 0a3.4 3.4 0 1 0 -6.8 0M1063.02 289.32a3.4 3.4 0 1 0 6.8 0a3.4 3.4 0 1 0 -6.8 0M1055.94 206.53a3.4 3.4 0 1 0 6.8 0a3.4 3.4 0 1 0 -6.8 0M1036.59 360.07a3.4 3.4 0 1 0 6.8 0a3.4 3.4 0 1 0 -6.8 0M1065.32 171.48a3.4 3.4 0 1 0 6.8 0a3.4 3.4 0 1 0 -6.8 0M1074.27 369.04a3.4 3.4 0 1 0 6.8 0a3.4 3.4 0 1 0 -6.8 0M1077.53 206.84a3.4 3.4 0 1 0 6.8 0a3.4 3.4 0 1 0 -6.8 0M1104.66 207.27a3.4 3.4 0 1 0 6.8 0a3.4 3.4 0 1 0 -6.8 0M1064.65 276.6a3.4 3.4 0 1 0 6.8 0a3.4 3.4 0 1 0 -6.8 0M1078.9 224.64a3.4 3.4 0 1 0 6.8 0a3.4 3.4 0 1 0 -6.8 0M1104.64 267.46a3.4 3.4 0 1 0 6.8 0a3.4 3.4 0 1 0 -6.8 0M1059.96 393.16a3.4 3.4 0 1 0 6.8 0a3.4 3.4 0 1 0 -6.8 0M1077.35 278.06a3.4 3.4 0 1 0 6.8 0a3.4 3.4 0 1 0 -6.8 0M1086.18 346.52a3.4 3.4 0 1 0 6.8 0a3.4 3.4 0 1 0 -6.8 0M1084.84 348.42a3.4 3.4 0 1 0 6.8 0a3.4 3.4 0 1 0 -6.8 0M1072.96 191.07a3.4 3.4 0 1 0 6.8 0a3.4 3.4 0 1 0 -6.8 0M1085.94 205.61a3.4 3.4 0 1 0 6.8 0a3.4 3.4 0 1 0 -6.8 0M1090.76 316.97a3.4 3.4 0 1 0 6.8 0a3.4 3.4 0 1 0 -6.8 0M1076.22 180.6a3.4 3.4 0 1 0 6.8 0a3.4 3.4 0 1 0 -6.8 0M1051.72 344.67a3.4 3.4 0 1 0 6.8 0a3.4 3.4 0 1 0 -6.8 0M1056.08 374.53a3.4 3.4 0 1 0 6.8 0a3.4 3.4 0 1 0 -6.8 0M1075.6 219.24a3.4 3.4 0 1 0 6.8 0a3.4 3.4 0 1 0 -6.8 0M1094.8 336.76a3.4 3.4 0 1 0 6.8 0a3.4 3.4 0 1 0 -6.8 0M1037.46 349.13a3.4 3.4 0 1 0 6.8 0a3.4 3.4 0 1 0 -6.8 0M1047.67 400.52a3.4 3.4 0 1 0 6.8 0a3.4 3.4 0 1 0 -6.8 0M1085 351.99a3.4 3.4 0 1 0 6.8 0a3.4 3.4 0 1 0 -6.8 0M1100.76 303.06a3.4 3.4 0 1 0 6.8 0a3.4 3.4 0 1 0 -6.8 0M1077.37 369.26a3.4 3.4 0 1 0 6.8 0a3.4 3.4 0 1 0 -6.8 0M1087.3 287.27a3.4 3.4 0 1 0 6.8 0a3.4 3.4 0 1 0 -6.8 0M1059.03 320.81a3.4 3.4 0 1 0 6.8 0a3.4 3.4 0 1 0 -6.8 0M1089.9 308.43a3.4 3.4 0 1 0 6.8 0a3.4 3.4 0 1 0 -6.8 0M1103.67 229.62a3.4 3.4 0 1 0 6.8 0a3.4 3.4 0 1 0 -6.8 0M1073.03 316.45a3.4 3.4 0 1 0 6.8 0a3.4 3.4 0 1 0 -6.8 0M1084.11 351.3a3.4 3.4 0 1 0 6.8 0a3.4 3.4 0 1 0 -6.8 0M1034 328.19a3.4 3.4 0 1 0 6.8 0a3.4 3.4 0 1 0 -6.8 0M1058.34 215.8a3.4 3.4 0 1 0 6.8 0a3.4 3.4 0 1 0 -6.8 0M1043.58 252.34a3.4 3.4 0 1 0 6.8 0a3.4 3.4 0 1 0 -6.8 0M1085.07 299.57a3.4 3.4 0 1 0 6.8 0a3.4 3.4 0 1 0 -6.8 0M1089.82 349.89a3.4 3.4 0 1 0 6.8 0a3.4 3.4 0 1 0 -6.8 0M1060.53 235.96a3.4 3.4 0 1 0 6.8 0a3.4 3.4 0 1 0 -6.8 0M1093.11 212.91a3.4 3.4 0 1 0 6.8 0a3.4 3.4 0 1 0 -6.8 0M1073.47 312.62a3.4 3.4 0 1 0 6.8 0a3.4 3.4 0 1 0 -6.8 0M1067.71 179.43a3.4 3.4 0 1 0 6.8 0a3.4 3.4 0 1 0 -6.8 0M1069.37 292.29a3.4 3.4 0 1 0 6.8 0a3.4 3.4 0 1 0 -6.8 0M1046.26 217.53a3.4 3.4 0 1 0 6.8 0a3.4 3.4 0 1 0 -6.8 0M1051.89 307.9a3.4 3.4 0 1 0 6.8 0a3.4 3.4 0 1 0 -6.8 0M1079.6 230.75a3.4 3.4 0 1 0 6.8 0a3.4 3.4 0 1 0 -6.8 0M1073.57 226.32a3.4 3.4 0 1 0 6.8 0a3.4 3.4 0 1 0 -6.8 0M1086.06 212.78a3.4 3.4 0 1 0 6.8 0a3.4 3.4 0 1 0 -6.8 0M1072.41 345.5a3.4 3.4 0 1 0 6.8 0a3.4 3.4 0 1 0 -6.8 0M1090.9 294.27a3.4 3.4 0 1 0 6.8 0a3.4 3.4 0 1 0 -6.8 0M1090.28 251.35a3.4 3.4 0 1 0 6.8 0a3.4 3.4 0 1 0 -6.8 0M1042.84 318.12a3.4 3.4 0 1 0 6.8 0a3.4 3.4 0 1 0 -6.8 0M1053.72 391.7a3.4 3.4 0 1 0 6.8 0a3.4 3.4 0 1 0 -6.8 0M1091.54 294.47a3.4 3.4 0 1 0 6.8 0a3.4 3.4 0 1 0 -6.8 0M1049.52 241.81a3.4 3.4 0 1 0 6.8 0a3.4 3.4 0 1 0 -6.8 0M1097.44 236.23a3.4 3.4 0 1 0 6.8 0a3.4 3.4 0 1 0 -6.8 0M1019.54 406.33a3.4 3.4 0 1 0 6.8 0a3.4 3.4 0 1 0 -6.8 0M1053.09 355.09a3.4 3.4 0 1 0 6.8 0a3.4 3.4 0 1 0 -6.8 0M1077.18 167.99a3.4 3.4 0 1 0 6.8 0a3.4 3.4 0 1 0 -6.8 0M1101.54 246.27a3.4 3.4 0 1 0 6.8 0a3.4 3.4 0 1 0 -6.8 0M1079.94 181.58a3.4 3.4 0 1 0 6.8 0a3.4 3.4 0 1 0 -6.8 0M1101.42 294.23a3.4 3.4 0 1 0 6.8 0a3.4 3.4 0 1 0 -6.8 0M1064.53 357.03a3.4 3.4 0 1 0 6.8 0a3.4 3.4 0 1 0 -6.8 0M1076 303.11a3.4 3.4 0 1 0 6.8 0a3.4 3.4 0 1 0 -6.8 0M1044.86 399.86a3.4 3.4 0 1 0 6.8 0a3.4 3.4 0 1 0 -6.8 0M1102.04 216.66a3.4 3.4 0 1 0 6.8 0a3.4 3.4 0 1 0 -6.8 0M1072.47 307.74a3.4 3.4 0 1 0 6.8 0a3.4 3.4 0 1 0 -6.8 0M1054.81 249.18a3.4 3.4 0 1 0 6.8 0a3.4 3.4 0 1 0 -6.8 0M1052.35 311.74a3.4 3.4 0 1 0 6.8 0a3.4 3.4 0 1 0 -6.8 0M1092.65 180.82a3.4 3.4 0 1 0 6.8 0a3.4 3.4 0 1 0 -6.8 0M1056.99 249.9a3.4 3.4 0 1 0 6.8 0a3.4 3.4 0 1 0 -6.8 0M1064.65 296.06a3.4 3.4 0 1 0 6.8 0a3.4 3.4 0 1 0 -6.8 0M1038 307.37a3.4 3.4 0 1 0 6.8 0a3.4 3.4 0 1 0 -6.8 0M1046.9 337.14a3.4 3.4 0 1 0 6.8 0a3.4 3.4 0 1 0 -6.8 0M1059.29 205a3.4 3.4 0 1 0 6.8 0a3.4 3.4 0 1 0 -6.8 0M1045.04 318.48a3.4 3.4 0 1 0 6.8 0a3.4 3.4 0 1 0 -6.8 0M1038.74 264.29a3.4 3.4 0 1 0 6.8 0a3.4 3.4 0 1 0 -6.8 0M1105.53 208.48a3.4 3.4 0 1 0 6.8 0a3.4 3.4 0 1 0 -6.8 0M1076.53 197.55a3.4 3.4 0 1 0 6.8 0a3.4 3.4 0 1 0 -6.8 0M1038.57 312.56a3.4 3.4 0 1 0 6.8 0a3.4 3.4 0 1 0 -6.8 0M1072.92 315.48a3.4 3.4 0 1 0 6.8 0a3.4 3.4 0 1 0 -6.8 0M1075.27 299.82a3.4 3.4 0 1 0 6.8 0a3.4 3.4 0 1 0 -6.8 0M1071.22 183.42a3.4 3.4 0 1 0 6.8 0a3.4 3.4 0 1 0 -6.8 0M1032 402.79a3.4 3.4 0 1 0 6.8 0a3.4 3.4 0 1 0 -6.8 0M1075.08 163.31a3.4 3.4 0 1 0 6.8 0a3.4 3.4 0 1 0 -6.8 0M1053.37 251.93a3.4 3.4 0 1 0 6.8 0a3.4 3.4 0 1 0 -6.8 0M1059.24 282.01a3.4 3.4 0 1 0 6.8 0a3.4 3.4 0 1 0 -6.8 0M1039.69 392.39a3.4 3.4 0 1 0 6.8 0a3.4 3.4 0 1 0 -6.8 0M1098.7 286.48a3.4 3.4 0 1 0 6.8 0a3.4 3.4 0 1 0 -6.8 0M1091.11 250.02a3.4 3.4 0 1 0 6.8 0a3.4 3.4 0 1 0 -6.8 0M1086.7 355.88a3.4 3.4 0 1 0 6.8 0a3.4 3.4 0 1 0 -6.8 0M1050.55 346.51a3.4 3.4 0 1 0 6.8 0a3.4 3.4 0 1 0 -6.8 0M1050.49 205.07a3.4 3.4 0 1 0 6.8 0a3.4 3.4 0 1 0 -6.8 0M1056.6 190.23a3.4 3.4 0 1 0 6.8 0a3.4 3.4 0 1 0 -6.8 0M1083.57 224.67a3.4 3.4 0 1 0 6.8 0a3.4 3.4 0 1 0 -6.8 0M1063.68 363.58a3.4 3.4 0 1 0 6.8 0a3.4 3.4 0 1 0 -6.8 0M1084.26 334.61a3.4 3.4 0 1 0 6.8 0a3.4 3.4 0 1 0 -6.8 0M1085.62 334.12a3.4 3.4 0 1 0 6.8 0a3.4 3.4 0 1 0 -6.8 0M1101.67 310.17a3.4 3.4 0 1 0 6.8 0a3.4 3.4 0 1 0 -6.8 0M1078.4 299.04a3.4 3.4 0 1 0 6.8 0a3.4 3.4 0 1 0 -6.8 0M1064 239.62a3.4 3.4 0 1 0 6.8 0a3.4 3.4 0 1 0 -6.8 0M1083.21 320.52a3.4 3.4 0 1 0 6.8 0a3.4 3.4 0 1 0 -6.8 0M1074.65 260.7a3.4 3.4 0 1 0 6.8 0a3.4 3.4 0 1 0 -6.8 0M1080.13 278.98a3.4 3.4 0 1 0 6.8 0a3.4 3.4 0 1 0 -6.8 0M1074.37 314.87a3.4 3.4 0 1 0 6.8 0a3.4 3.4 0 1 0 -6.8 0M1074.06 287.93a3.4 3.4 0 1 0 6.8 0a3.4 3.4 0 1 0 -6.8 0M1097.46 270.29a3.4 3.4 0 1 0 6.8 0a3.4 3.4 0 1 0 -6.8 0M1092.14 328.36a3.4 3.4 0 1 0 6.8 0a3.4 3.4 0 1 0 -6.8 0M1039.73 366.04a3.4 3.4 0 1 0 6.8 0a3.4 3.4 0 1 0 -6.8 0M1102.15 218.34a3.4 3.4 0 1 0 6.8 0a3.4 3.4 0 1 0 -6.8 0M1062.59 383.73a3.4 3.4 0 1 0 6.8 0a3.4 3.4 0 1 0 -6.8 0M1083.96 308.25a3.4 3.4 0 1 0 6.8 0a3.4 3.4 0 1 0 -6.8 0M1027.01 402.75a3.4 3.4 0 1 0 6.8 0a3.4 3.4 0 1 0 -6.8 0M1045.08 315.12a3.4 3.4 0 1 0 6.8 0a3.4 3.4 0 1 0 -6.8 0M1086.72 235.16a3.4 3.4 0 1 0 6.8 0a3.4 3.4 0 1 0 -6.8 0M1046.43 387.69a3.4 3.4 0 1 0 6.8 0a3.4 3.4 0 1 0 -6.8 0M1084.24 231.75a3.4 3.4 0 1 0 6.8 0a3.4 3.4 0 1 0 -6.8 0M1042.16 304.18a3.4 3.4 0 1 0 6.8 0a3.4 3.4 0 1 0 -6.8 0M1047.91 198.95a3.4 3.4 0 1 0 6.8 0a3.4 3.4 0 1 0 -6.8 0M1092.29 192.67a3.4 3.4 0 1 0 6.8 0a3.4 3.4 0 1 0 -6.8 0M1051.35 295.22a3.4 3.4 0 1 0 6.8 0a3.4 3.4 0 1 0 -6.8 0M1085.21 247.43a3.4 3.4 0 1 0 6.8 0a3.4 3.4 0 1 0 -6.8 0M1060.29 358.66a3.4 3.4 0 1 0 6.8 0a3.4 3.4 0 1 0 -6.8 0M1069.66 326.43a3.4 3.4 0 1 0 6.8 0a3.4 3.4 0 1 0 -6.8 0M1071.62 342.59a3.4 3.4 0 1 0 6.8 0a3.4 3.4 0 1 0 -6.8 0M1047.16 265.27a3.4 3.4 0 1 0 6.8 0a3.4 3.4 0 1 0 -6.8 0M1048.86 204.34a3.4 3.4 0 1 0 6.8 0a3.4 3.4 0 1 0 -6.8 0M1101.71 193.53a3.4 3.4 0 1 0 6.8 0a3.4 3.4 0 1 0 -6.8 0M1074.35 252.89a3.4 3.4 0 1 0 6.8 0a3.4 3.4 0 1 0 -6.8 0M1095.2 311.16a3.4 3.4 0 1 0 6.8 0a3.4 3.4 0 1 0 -6.8 0M1105 196.12a3.4 3.4 0 1 0 6.8 0a3.4 3.4 0 1 0 -6.8 0M1058.27 183.18a3.4 3.4 0 1 0 6.8 0a3.4 3.4 0 1 0 -6.8 0M1069.34 217.79a3.4 3.4 0 1 0 6.8 0a3.4 3.4 0 1 0 -6.8 0M1081.81 250.55a3.4 3.4 0 1 0 6.8 0a3.4 3.4 0 1 0 -6.8 0M1065.72 176.13a3.4 3.4 0 1 0 6.8 0a3.4 3.4 0 1 0 -6.8 0M1088.45 340.53a3.4 3.4 0 1 0 6.8 0a3.4 3.4 0 1 0 -6.8 0M1059.41 297.68a3.4 3.4 0 1 0 6.8 0a3.4 3.4 0 1 0 -6.8 0M1049.04 249.19a3.4 3.4 0 1 0 6.8 0a3.4 3.4 0 1 0 -6.8 0M1037.67 345.85a3.4 3.4 0 1 0 6.8 0a3.4 3.4 0 1 0 -6.8 0M1051.93 214.72a3.4 3.4 0 1 0 6.8 0a3.4 3.4 0 1 0 -6.8 0M1094.24 271.12a3.4 3.4 0 1 0 6.8 0a3.4 3.4 0 1 0 -6.8 0M1092.19 279.47a3.4 3.4 0 1 0 6.8 0a3.4 3.4 0 1 0 -6.8 0M1071.25 225.61a3.4 3.4 0 1 0 6.8 0a3.4 3.4 0 1 0 -6.8 0M1055.72 342.55a3.4 3.4 0 1 0 6.8 0a3.4 3.4 0 1 0 -6.8 0M1041.61 234.41a3.4 3.4 0 1 0 6.8 0a3.4 3.4 0 1 0 -6.8 0M1049.3 211.29a3.4 3.4 0 1 0 6.8 0a3.4 3.4 0 1 0 -6.8 0M1070.79 171.98a3.4 3.4 0 1 0 6.8 0a3.4 3.4 0 1 0 -6.8 0M1035.13 369.99a3.4 3.4 0 1 0 6.8 0a3.4 3.4 0 1 0 -6.8 0M1047.07 288.7a3.4 3.4 0 1 0 6.8 0a3.4 3.4 0 1 0 -6.8 0M1057.46 163.46a3.4 3.4 0 1 0 6.8 0a3.4 3.4 0 1 0 -6.8 0M1050.4 193.77a3.4 3.4 0 1 0 6.8 0a3.4 3.4 0 1 0 -6.8 0M1097.61 214.36a3.4 3.4 0 1 0 6.8 0a3.4 3.4 0 1 0 -6.8 0M1047.54 205.5a3.4 3.4 0 1 0 6.8 0a3.4 3.4 0 1 0 -6.8 0M1095.31 189.96a3.4 3.4 0 1 0 6.8 0a3.4 3.4 0 1 0 -6.8 0M1058.45 216.88a3.4 3.4 0 1 0 6.8 0a3.4 3.4 0 1 0 -6.8 0M1083.22 345.54a3.4 3.4 0 1 0 6.8 0a3.4 3.4 0 1 0 -6.8 0M1067.92 283.2a3.4 3.4 0 1 0 6.8 0a3.4 3.4 0 1 0 -6.8 0M1092.48 222.28a3.4 3.4 0 1 0 6.8 0a3.4 3.4 0 1 0 -6.8 0M1085.59 326.98a3.4 3.4 0 1 0 6.8 0a3.4 3.4 0 1 0 -6.8 0M1045.67 354.32a3.4 3.4 0 1 0 6.8 0a3.4 3.4 0 1 0 -6.8 0M1067.46 283.64a3.4 3.4 0 1 0 6.8 0a3.4 3.4 0 1 0 -6.8 0M1094.12 260.25a3.4 3.4 0 1 0 6.8 0a3.4 3.4 0 1 0 -6.8 0M1095.69 205.56a3.4 3.4 0 1 0 6.8 0a3.4 3.4 0 1 0 -6.8 0M1050.3 241.9a3.4 3.4 0 1 0 6.8 0a3.4 3.4 0 1 0 -6.8 0M1092.55 281.41a3.4 3.4 0 1 0 6.8 0a3.4 3.4 0 1 0 -6.8 0M1088.49 235.12a3.4 3.4 0 1 0 6.8 0a3.4 3.4 0 1 0 -6.8 0M1070.95 193.42a3.4 3.4 0 1 0 6.8 0a3.4 3.4 0 1 0 -6.8 0M1052.8 300.71a3.4 3.4 0 1 0 6.8 0a3.4 3.4 0 1 0 -6.8 0M1085.98 263.42a3.4 3.4 0 1 0 6.8 0a3.4 3.4 0 1 0 -6.8 0M1108.22 225.67a3.4 3.4 0 1 0 6.8 0a3.4 3.4 0 1 0 -6.8 0M1086.46 181.66a3.4 3.4 0 1 0 6.8 0a3.4 3.4 0 1 0 -6.8 0M1101.34 297.79a3.4 3.4 0 1 0 6.8 0a3.4 3.4 0 1 0 -6.8 0M1034.42 365.12a3.4 3.4 0 1 0 6.8 0a3.4 3.4 0 1 0 -6.8 0M1098.47 194.29a3.4 3.4 0 1 0 6.8 0a3.4 3.4 0 1 0 -6.8 0M1050.89 359.03a3.4 3.4 0 1 0 6.8 0a3.4 3.4 0 1 0 -6.8 0M1083.77 303.26a3.4 3.4 0 1 0 6.8 0a3.4 3.4 0 1 0 -6.8 0M1053.73 239.94a3.4 3.4 0 1 0 6.8 0a3.4 3.4 0 1 0 -6.8 0M1070.22 337.88a3.4 3.4 0 1 0 6.8 0a3.4 3.4 0 1 0 -6.8 0M1083.11 244.85a3.4 3.4 0 1 0 6.8 0a3.4 3.4 0 1 0 -6.8 0M1058.33 364.53a3.4 3.4 0 1 0 6.8 0a3.4 3.4 0 1 0 -6.8 0M1082.59 277.33a3.4 3.4 0 1 0 6.8 0a3.4 3.4 0 1 0 -6.8 0M1098.52 210.34a3.4 3.4 0 1 0 6.8 0a3.4 3.4 0 1 0 -6.8 0M1055.61 234.77a3.4 3.4 0 1 0 6.8 0a3.4 3.4 0 1 0 -6.8 0M1063.75 349.96a3.4 3.4 0 1 0 6.8 0a3.4 3.4 0 1 0 -6.8 0M1084.97 345.73a3.4 3.4 0 1 0 6.8 0a3.4 3.4 0 1 0 -6.8 0M1062.92 188.14a3.4 3.4 0 1 0 6.8 0a3.4 3.4 0 1 0 -6.8 0M1100.12 254.85a3.4 3.4 0 1 0 6.8 0a3.4 3.4 0 1 0 -6.8 0M1067.23 245.85a3.4 3.4 0 1 0 6.8 0a3.4 3.4 0 1 0 -6.8 0M1057.58 201.18a3.4 3.4 0 1 0 6.8 0a3.4 3.4 0 1 0 -6.8 0M1074.01 285.33a3.4 3.4 0 1 0 6.8 0a3.4 3.4 0 1 0 -6.8 0M1064.46 264.28a3.4 3.4 0 1 0 6.8 0a3.4 3.4 0 1 0 -6.8 0M1039.66 359.92a3.4 3.4 0 1 0 6.8 0a3.4 3.4 0 1 0 -6.8 0M1047.23 244.63a3.4 3.4 0 1 0 6.8 0a3.4 3.4 0 1 0 -6.8 0M1057.78 235.71a3.4 3.4 0 1 0 6.8 0a3.4 3.4 0 1 0 -6.8 0M1087.3 185.76a3.4 3.4 0 1 0 6.8 0a3.4 3.4 0 1 0 -6.8 0M1068.91 340.05a3.4 3.4 0 1 0 6.8 0a3.4 3.4 0 1 0 -6.8 0M1049.78 343.8a3.4 3.4 0 1 0 6.8 0a3.4 3.4 0 1 0 -6.8 0M1050.82 317.18a3.4 3.4 0 1 0 6.8 0a3.4 3.4 0 1 0 -6.8 0M1069.37 314.37a3.4 3.4 0 1 0 6.8 0a3.4 3.4 0 1 0 -6.8 0M1060.63 171.16a3.4 3.4 0 1 0 6.8 0a3.4 3.4 0 1 0 -6.8 0M1067.44 377.69a3.4 3.4 0 1 0 6.8 0a3.4 3.4 0 1 0 -6.8 0M1074.81 219.76a3.4 3.4 0 1 0 6.8 0a3.4 3.4 0 1 0 -6.8 0M1088.38 308.95a3.4 3.4 0 1 0 6.8 0a3.4 3.4 0 1 0 -6.8 0M1043.02 256.91a3.4 3.4 0 1 0 6.8 0a3.4 3.4 0 1 0 -6.8 0M1076.6 319a3.4 3.4 0 1 0 6.8 0a3.4 3.4 0 1 0 -6.8 0M1049.69 184.51a3.4 3.4 0 1 0 6.8 0a3.4 3.4 0 1 0 -6.8 0M1048.51 219.46a3.4 3.4 0 1 0 6.8 0a3.4 3.4 0 1 0 -6.8 0M1075.79 325.34a3.4 3.4 0 1 0 6.8 0a3.4 3.4 0 1 0 -6.8 0M1101.21 278.54a3.4 3.4 0 1 0 6.8 0a3.4 3.4 0 1 0 -6.8 0M1090.89 207.53a3.4 3.4 0 1 0 6.8 0a3.4 3.4 0 1 0 -6.8 0M1050.77 361.1a3.4 3.4 0 1 0 6.8 0a3.4 3.4 0 1 0 -6.8 0M1045.24 344.02a3.4 3.4 0 1 0 6.8 0a3.4 3.4 0 1 0 -6.8 0M1072.86 325.37a3.4 3.4 0 1 0 6.8 0a3.4 3.4 0 1 0 -6.8 0M1107.61 255.5a3.4 3.4 0 1 0 6.8 0a3.4 3.4 0 1 0 -6.8 0M1072.01 335.52a3.4 3.4 0 1 0 6.8 0a3.4 3.4 0 1 0 -6.8 0M1062.43 317.34a3.4 3.4 0 1 0 6.8 0a3.4 3.4 0 1 0 -6.8 0M1053.96 230.44a3.4 3.4 0 1 0 6.8 0a3.4 3.4 0 1 0 -6.8 0M1045.07 218.58a3.4 3.4 0 1 0 6.8 0a3.4 3.4 0 1 0 -6.8 0M1081.43 183.76a3.4 3.4 0 1 0 6.8 0a3.4 3.4 0 1 0 -6.8 0M1079.13 346.84a3.4 3.4 0 1 0 6.8 0a3.4 3.4 0 1 0 -6.8 0M1037.42 289.18a3.4 3.4 0 1 0 6.8 0a3.4 3.4 0 1 0 -6.8 0M1061.66 216.32a3.4 3.4 0 1 0 6.8 0a3.4 3.4 0 1 0 -6.8 0M1101.22 195.94a3.4 3.4 0 1 0 6.8 0a3.4 3.4 0 1 0 -6.8 0M1036.99 381.09a3.4 3.4 0 1 0 6.8 0a3.4 3.4 0 1 0 -6.8 0M1047.45 344.84a3.4 3.4 0 1 0 6.8 0a3.4 3.4 0 1 0 -6.8 0M1089.76 336.96a3.4 3.4 0 1 0 6.8 0a3.4 3.4 0 1 0 -6.8 0M1056.94 304.8a3.4 3.4 0 1 0 6.8 0a3.4 3.4 0 1 0 -6.8 0M1102.66 304.49a3.4 3.4 0 1 0 6.8 0a3.4 3.4 0 1 0 -6.8 0M1087.01 217.82a3.4 3.4 0 1 0 6.8 0a3.4 3.4 0 1 0 -6.8 0M1057.75 373.37a3.4 3.4 0 1 0 6.8 0a3.4 3.4 0 1 0 -6.8 0M1046.2 216.15a3.4 3.4 0 1 0 6.8 0a3.4 3.4 0 1 0 -6.8 0M1078.12 360.38a3.4 3.4 0 1 0 6.8 0a3.4 3.4 0 1 0 -6.8 0M1054.99 359.61a3.4 3.4 0 1 0 6.8 0a3.4 3.4 0 1 0 -6.8 0M1097.5 294.15a3.4 3.4 0 1 0 6.8 0a3.4 3.4 0 1 0 -6.8 0M1065.73 331.3a3.4 3.4 0 1 0 6.8 0a3.4 3.4 0 1 0 -6.8 0M1082.57 365.35a3.4 3.4 0 1 0 6.8 0a3.4 3.4 0 1 0 -6.8 0M1035.89 374.09a3.4 3.4 0 1 0 6.8 0a3.4 3.4 0 1 0 -6.8 0M1087.07 202.88a3.4 3.4 0 1 0 6.8 0a3.4 3.4 0 1 0 -6.8 0M1075 201.77a3.4 3.4 0 1 0 6.8 0a3.4 3.4 0 1 0 -6.8 0M1100.69 215.63a3.4 3.4 0 1 0 6.8 0a3.4 3.4 0 1 0 -6.8 0M1058.83 264.66a3.4 3.4 0 1 0 6.8 0a3.4 3.4 0 1 0 -6.8 0M1039.83 373.03a3.4 3.4 0 1 0 6.8 0a3.4 3.4 0 1 0 -6.8 0M1047.68 389.12a3.4 3.4 0 1 0 6.8 0a3.4 3.4 0 1 0 -6.8 0M1104.47 242.07a3.4 3.4 0 1 0 6.8 0a3.4 3.4 0 1 0 -6.8 0M1072.11 265.09a3.4 3.4 0 1 0 6.8 0a3.4 3.4 0 1 0 -6.8 0M1063.33 361.83a3.4 3.4 0 1 0 6.8 0a3.4 3.4 0 1 0 -6.8 0M1039.54 365.48a3.4 3.4 0 1 0 6.8 0a3.4 3.4 0 1 0 -6.8 0M1052.87 258.3a3.4 3.4 0 1 0 6.8 0a3.4 3.4 0 1 0 -6.8 0M1040.42 346.96a3.4 3.4 0 1 0 6.8 0a3.4 3.4 0 1 0 -6.8 0M1051.03 353a3.4 3.4 0 1 0 6.8 0a3.4 3.4 0 1 0 -6.8 0M1078.29 179.4a3.4 3.4 0 1 0 6.8 0a3.4 3.4 0 1 0 -6.8 0M1061.17 267.49a3.4 3.4 0 1 0 6.8 0a3.4 3.4 0 1 0 -6.8 0M1060.24 300.38a3.4 3.4 0 1 0 6.8 0a3.4 3.4 0 1 0 -6.8 0M1081.1 262.2a3.4 3.4 0 1 0 6.8 0a3.4 3.4 0 1 0 -6.8 0M1065.66 368.22a3.4 3.4 0 1 0 6.8 0a3.4 3.4 0 1 0 -6.8 0M1080.21 210.08a3.4 3.4 0 1 0 6.8 0a3.4 3.4 0 1 0 -6.8 0M1104.6 258.45a3.4 3.4 0 1 0 6.8 0a3.4 3.4 0 1 0 -6.8 0M1081.85 253.89a3.4 3.4 0 1 0 6.8 0a3.4 3.4 0 1 0 -6.8 0M1086 287.06a3.4 3.4 0 1 0 6.8 0a3.4 3.4 0 1 0 -6.8 0M1104.71 286.94a3.4 3.4 0 1 0 6.8 0a3.4 3.4 0 1 0 -6.8 0M1076.2 332.64a3.4 3.4 0 1 0 6.8 0a3.4 3.4 0 1 0 -6.8 0M1075.61 206.31a3.4 3.4 0 1 0 6.8 0a3.4 3.4 0 1 0 -6.8 0M1070.06 268.7a3.4 3.4 0 1 0 6.8 0a3.4 3.4 0 1 0 -6.8 0M1080.15 354.99a3.4 3.4 0 1 0 6.8 0a3.4 3.4 0 1 0 -6.8 0M1041.91 401.68a3.4 3.4 0 1 0 6.8 0a3.4 3.4 0 1 0 -6.8 0M1063.03 274.1a3.4 3.4 0 1 0 6.8 0a3.4 3.4 0 1 0 -6.8 0M1096.28 287.36a3.4 3.4 0 1 0 6.8 0a3.4 3.4 0 1 0 -6.8 0M1059.47 281.48a3.4 3.4 0 1 0 6.8 0a3.4 3.4 0 1 0 -6.8 0M1080.11 290.55a3.4 3.4 0 1 0 6.8 0a3.4 3.4 0 1 0 -6.8 0M1055.75 285a3.4 3.4 0 1 0 6.8 0a3.4 3.4 0 1 0 -6.8 0M1055.76 330.93a3.4 3.4 0 1 0 6.8 0a3.4 3.4 0 1 0 -6.8 0M1072.27 174.01a3.4 3.4 0 1 0 6.8 0a3.4 3.4 0 1 0 -6.8 0M1063.51 224.26a3.4 3.4 0 1 0 6.8 0a3.4 3.4 0 1 0 -6.8 0M1071.35 277.35a3.4 3.4 0 1 0 6.8 0a3.4 3.4 0 1 0 -6.8 0M1085.73 315.96a3.4 3.4 0 1 0 6.8 0a3.4 3.4 0 1 0 -6.8 0M1064.58 190.11a3.4 3.4 0 1 0 6.8 0a3.4 3.4 0 1 0 -6.8 0M1084.68 210.99a3.4 3.4 0 1 0 6.8 0a3.4 3.4 0 1 0 -6.8 0M1053.04 307.54a3.4 3.4 0 1 0 6.8 0a3.4 3.4 0 1 0 -6.8 0M1042.68 377.17a3.4 3.4 0 1 0 6.8 0a3.4 3.4 0 1 0 -6.8 0M1047.91 305.27a3.4 3.4 0 1 0 6.8 0a3.4 3.4 0 1 0 -6.8 0M1077.26 309.25a3.4 3.4 0 1 0 6.8 0a3.4 3.4 0 1 0 -6.8 0M1103.57 271.82a3.4 3.4 0 1 0 6.8 0a3.4 3.4 0 1 0 -6.8 0M1052.21 348.87a3.4 3.4 0 1 0 6.8 0a3.4 3.4 0 1 0 -6.8 0M1068.78 228.94a3.4 3.4 0 1 0 6.8 0a3.4 3.4 0 1 0 -6.8 0M1101.92 218.16a3.4 3.4 0 1 0 6.8 0a3.4 3.4 0 1 0 -6.8 0M1092.43 314.19a3.4 3.4 0 1 0 6.8 0a3.4 3.4 0 1 0 -6.8 0M1064.9 234.4a3.4 3.4 0 1 0 6.8 0a3.4 3.4 0 1 0 -6.8 0M1093.95 300.06a3.4 3.4 0 1 0 6.8 0a3.4 3.4 0 1 0 -6.8 0M1067.82 309.31a3.4 3.4 0 1 0 6.8 0a3.4 3.4 0 1 0 -6.8 0M1056.47 388.09a3.4 3.4 0 1 0 6.8 0a3.4 3.4 0 1 0 -6.8 0M1093.92 206.39a3.4 3.4 0 1 0 6.8 0a3.4 3.4 0 1 0 -6.8 0M1051.28 347.63a3.4 3.4 0 1 0 6.8 0a3.4 3.4 0 1 0 -6.8 0M1056.81 334.91a3.4 3.4 0 1 0 6.8 0a3.4 3.4 0 1 0 -6.8 0M1064.32 319.22a3.4 3.4 0 1 0 6.8 0a3.4 3.4 0 1 0 -6.8 0M1062.12 258.46a3.4 3.4 0 1 0 6.8 0a3.4 3.4 0 1 0 -6.8 0M1083.29 328.27a3.4 3.4 0 1 0 6.8 0a3.4 3.4 0 1 0 -6.8 0M1044 323.49a3.4 3.4 0 1 0 6.8 0a3.4 3.4 0 1 0 -6.8 0M1041.53 231.83a3.4 3.4 0 1 0 6.8 0a3.4 3.4 0 1 0 -6.8 0M1069.82 377.18a3.4 3.4 0 1 0 6.8 0a3.4 3.4 0 1 0 -6.8 0M1076.62 323.12a3.4 3.4 0 1 0 6.8 0a3.4 3.4 0 1 0 -6.8 0M1087.49 259.36a3.4 3.4 0 1 0 6.8 0a3.4 3.4 0 1 0 -6.8 0M1057.4 324.34a3.4 3.4 0 1 0 6.8 0a3.4 3.4 0 1 0 -6.8 0M1037.44 349.72a3.4 3.4 0 1 0 6.8 0a3.4 3.4 0 1 0 -6.8 0M1074.46 248.32a3.4 3.4 0 1 0 6.8 0a3.4 3.4 0 1 0 -6.8 0M1034.97 313.53a3.4 3.4 0 1 0 6.8 0a3.4 3.4 0 1 0 -6.8 0M1067.19 295.72a3.4 3.4 0 1 0 6.8 0a3.4 3.4 0 1 0 -6.8 0M1064.93 315.69a3.4 3.4 0 1 0 6.8 0a3.4 3.4 0 1 0 -6.8 0M1088.92 341.66a3.4 3.4 0 1 0 6.8 0a3.4 3.4 0 1 0 -6.8 0M1061.21 321.41a3.4 3.4 0 1 0 6.8 0a3.4 3.4 0 1 0 -6.8 0M1059.63 331.69a3.4 3.4 0 1 0 6.8 0a3.4 3.4 0 1 0 -6.8 0M1039.97 401.18a3.4 3.4 0 1 0 6.8 0a3.4 3.4 0 1 0 -6.8 0M1044.89 284.4a3.4 3.4 0 1 0 6.8 0a3.4 3.4 0 1 0 -6.8 0M1076 252.22a3.4 3.4 0 1 0 6.8 0a3.4 3.4 0 1 0 -6.8 0M1049.76 194.73a3.4 3.4 0 1 0 6.8 0a3.4 3.4 0 1 0 -6.8 0M1101.52 272.18a3.4 3.4 0 1 0 6.8 0a3.4 3.4 0 1 0 -6.8 0M1070.98 223.05a3.4 3.4 0 1 0 6.8 0a3.4 3.4 0 1 0 -6.8 0M1103.2 188.29a3.4 3.4 0 1 0 6.8 0a3.4 3.4 0 1 0 -6.8 0M1081.71 178.27a3.4 3.4 0 1 0 6.8 0a3.4 3.4 0 1 0 -6.8 0M1066.74 242.97a3.4 3.4 0 1 0 6.8 0a3.4 3.4 0 1 0 -6.8 0M1104.57 271.36a3.4 3.4 0 1 0 6.8 0a3.4 3.4 0 1 0 -6.8 0M1052.14 171.44a3.4 3.4 0 1 0 6.8 0a3.4 3.4 0 1 0 -6.8 0M1042.21 252.35a3.4 3.4 0 1 0 6.8 0a3.4 3.4 0 1 0 -6.8 0M1066.37 257.08a3.4 3.4 0 1 0 6.8 0a3.4 3.4 0 1 0 -6.8 0M1046.29 280.21a3.4 3.4 0 1 0 6.8 0a3.4 3.4 0 1 0 -6.8 0M1061.11 207.53a3.4 3.4 0 1 0 6.8 0a3.4 3.4 0 1 0 -6.8 0M1065.53 305.75a3.4 3.4 0 1 0 6.8 0a3.4 3.4 0 1 0 -6.8 0M1070.53 346.44a3.4 3.4 0 1 0 6.8 0a3.4 3.4 0 1 0 -6.8 0M1059.67 215a3.4 3.4 0 1 0 6.8 0a3.4 3.4 0 1 0 -6.8 0M1103.85 191.28a3.4 3.4 0 1 0 6.8 0a3.4 3.4 0 1 0 -6.8 0M1046.19 265.87a3.4 3.4 0 1 0 6.8 0a3.4 3.4 0 1 0 -6.8 0M1056.02 214.47a3.4 3.4 0 1 0 6.8 0a3.4 3.4 0 1 0 -6.8 0M1096.44 237.35a3.4 3.4 0 1 0 6.8 0a3.4 3.4 0 1 0 -6.8 0M1068.14 313.84a3.4 3.4 0 1 0 6.8 0a3.4 3.4 0 1 0 -6.8 0M1103.54 190.15a3.4 3.4 0 1 0 6.8 0a3.4 3.4 0 1 0 -6.8 0M1060.18 328.07a3.4 3.4 0 1 0 6.8 0a3.4 3.4 0 1 0 -6.8 0M1052.54 397.38a3.4 3.4 0 1 0 6.8 0a3.4 3.4 0 1 0 -6.8 0M1063.4 378.72a3.4 3.4 0 1 0 6.8 0a3.4 3.4 0 1 0 -6.8 0M1063.47 375.98a3.4 3.4 0 1 0 6.8 0a3.4 3.4 0 1 0 -6.8 0M1087.34 264.95a3.4 3.4 0 1 0 6.8 0a3.4 3.4 0 1 0 -6.8 0M1082.71 290.66a3.4 3.4 0 1 0 6.8 0a3.4 3.4 0 1 0 -6.8 0M1040.01 355.65a3.4 3.4 0 1 0 6.8 0a3.4 3.4 0 1 0 -6.8 0M1046.08 287.92a3.4 3.4 0 1 0 6.8 0a3.4 3.4 0 1 0 -6.8 0M1053.34 299.05a3.4 3.4 0 1 0 6.8 0a3.4 3.4 0 1 0 -6.8 0M1057.93 351.17a3.4 3.4 0 1 0 6.8 0a3.4 3.4 0 1 0 -6.8 0M1078.14 231.18a3.4 3.4 0 1 0 6.8 0a3.4 3.4 0 1 0 -6.8 0M1048.25 267.83a3.4 3.4 0 1 0 6.8 0a3.4 3.4 0 1 0 -6.8 0M1064.27 352.66a3.4 3.4 0 1 0 6.8 0a3.4 3.4 0 1 0 -6.8 0M1107.4 227.03a3.4 3.4 0 1 0 6.8 0a3.4 3.4 0 1 0 -6.8 0M1045.41 291.16a3.4 3.4 0 1 0 6.8 0a3.4 3.4 0 1 0 -6.8 0M1071.75 257.36a3.4 3.4 0 1 0 6.8 0a3.4 3.4 0 1 0 -6.8 0M1108.15 239.74a3.4 3.4 0 1 0 6.8 0a3.4 3.4 0 1 0 -6.8 0M1040.48 345.89a3.4 3.4 0 1 0 6.8 0a3.4 3.4 0 1 0 -6.8 0M1085.49 250.13a3.4 3.4 0 1 0 6.8 0a3.4 3.4 0 1 0 -6.8 0M1098.46 202.54a3.4 3.4 0 1 0 6.8 0a3.4 3.4 0 1 0 -6.8 0M1039.41 304.32a3.4 3.4 0 1 0 6.8 0a3.4 3.4 0 1 0 -6.8 0M1066.86 359.02a3.4 3.4 0 1 0 6.8 0a3.4 3.4 0 1 0 -6.8 0M1046.65 386.76a3.4 3.4 0 1 0 6.8 0a3.4 3.4 0 1 0 -6.8 0M1075.79 333.83a3.4 3.4 0 1 0 6.8 0a3.4 3.4 0 1 0 -6.8 0M1070.6 214.67a3.4 3.4 0 1 0 6.8 0a3.4 3.4 0 1 0 -6.8 0M1046.59 225.45a3.4 3.4 0 1 0 6.8 0a3.4 3.4 0 1 0 -6.8 0M1088.38 323.58a3.4 3.4 0 1 0 6.8 0a3.4 3.4 0 1 0 -6.8 0M1098.03 178.18a3.4 3.4 0 1 0 6.8 0a3.4 3.4 0 1 0 -6.8 0M1098.26 299.12a3.4 3.4 0 1 0 6.8 0a3.4 3.4 0 1 0 -6.8 0M1064.44 263.31a3.4 3.4 0 1 0 6.8 0a3.4 3.4 0 1 0 -6.8 0M1072.7 347.96a3.4 3.4 0 1 0 6.8 0a3.4 3.4 0 1 0 -6.8 0M1060.81 382.23a3.4 3.4 0 1 0 6.8 0a3.4 3.4 0 1 0 -6.8 0M1088.17 288.76a3.4 3.4 0 1 0 6.8 0a3.4 3.4 0 1 0 -6.8 0M1046.01 236.83a3.4 3.4 0 1 0 6.8 0a3.4 3.4 0 1 0 -6.8 0M1057.35 311.21a3.4 3.4 0 1 0 6.8 0a3.4 3.4 0 1 0 -6.8 0M1044.36 387.48a3.4 3.4 0 1 0 6.8 0a3.4 3.4 0 1 0 -6.8 0M1062.33 368.49a3.4 3.4 0 1 0 6.8 0a3.4 3.4 0 1 0 -6.8 0M1042.22 383.25a3.4 3.4 0 1 0 6.8 0a3.4 3.4 0 1 0 -6.8 0M1068.07 297.89a3.4 3.4 0 1 0 6.8 0a3.4 3.4 0 1 0 -6.8 0M1069.55 295.2a3.4 3.4 0 1 0 6.8 0a3.4 3.4 0 1 0 -6.8 0M1051.58 275.98a3.4 3.4 0 1 0 6.8 0a3.4 3.4 0 1 0 -6.8 0M1043.17 272.84a3.4 3.4 0 1 0 6.8 0a3.4 3.4 0 1 0 -6.8 0M1051.74 168.69a3.4 3.4 0 1 0 6.8 0a3.4 3.4 0 1 0 -6.8 0M1078.69 185.56a3.4 3.4 0 1 0 6.8 0a3.4 3.4 0 1 0 -6.8 0M1100.44 240.95a3.4 3.4 0 1 0 6.8 0a3.4 3.4 0 1 0 -6.8 0M1043.29 298.96a3.4 3.4 0 1 0 6.8 0a3.4 3.4 0 1 0 -6.8 0M1045.11 342.38a3.4 3.4 0 1 0 6.8 0a3.4 3.4 0 1 0 -6.8 0M1046.23 391.61a3.4 3.4 0 1 0 6.8 0a3.4 3.4 0 1 0 -6.8 0M1042.56 322.2a3.4 3.4 0 1 0 6.8 0a3.4 3.4 0 1 0 -6.8 0M1051.3 288.64a3.4 3.4 0 1 0 6.8 0a3.4 3.4 0 1 0 -6.8 0M1043.59 296.56a3.4 3.4 0 1 0 6.8 0a3.4 3.4 0 1 0 -6.8 0M1077.31 372.92a3.4 3.4 0 1 0 6.8 0a3.4 3.4 0 1 0 -6.8 0M1041.9 304.03a3.4 3.4 0 1 0 6.8 0a3.4 3.4 0 1 0 -6.8 0M1069.95 379.87a3.4 3.4 0 1 0 6.8 0a3.4 3.4 0 1 0 -6.8 0M1062.1 377.49a3.4 3.4 0 1 0 6.8 0a3.4 3.4 0 1 0 -6.8 0M1102.21 263.7a3.4 3.4 0 1 0 6.8 0a3.4 3.4 0 1 0 -6.8 0M1071.07 294.25a3.4 3.4 0 1 0 6.8 0a3.4 3.4 0 1 0 -6.8 0M1088.94 312.63a3.4 3.4 0 1 0 6.8 0a3.4 3.4 0 1 0 -6.8 0M1065.55 325.99a3.4 3.4 0 1 0 6.8 0a3.4 3.4 0 1 0 -6.8 0M1042.41 256.14a3.4 3.4 0 1 0 6.8 0a3.4 3.4 0 1 0 -6.8 0M1093.11 345.46a3.4 3.4 0 1 0 6.8 0a3.4 3.4 0 1 0 -6.8 0M1101.96 188.69a3.4 3.4 0 1 0 6.8 0a3.4 3.4 0 1 0 -6.8 0M1084.8 324.76a3.4 3.4 0 1 0 6.8 0a3.4 3.4 0 1 0 -6.8 0M1077.6 41.2a3.4 3.4 0 1 0 6.8 0a3.4 3.4 0 1 0 -6.8 0M1143.1 349.1a3.4 3.4 0 1 0 6.8 0a3.4 3.4 0 1 0 -6.8 0M914.6 342.8a3.4 3.4 0 1 0 6.8 0a3.4 3.4 0 1 0 -6.8 0M927.9 341.2a3.4 3.4 0 1 0 6.8 0a3.4 3.4 0 1 0 -6.8 0M935.8 352.3a3.4 3.4 0 1 0 6.8 0a3.4 3.4 0 1 0 -6.8 0M945.3 377.6a3.4 3.4 0 1 0 6.8 0a3.4 3.4 0 1 0 -6.8 0M951.6 387a3.4 3.4 0 1 0 6.8 0a3.4 3.4 0 1 0 -6.8 0M936.2 138.1a3.4 3.4 0 1 0 6.8 0a3.4 3.4 0 1 0 -6.8 0M959.6 138.1a3.4 3.4 0 1 0 6.8 0a3.4 3.4 0 1 0 -6.8 0M949 166a3.4 3.4 0 1 0 6.8 0a3.4 3.4 0 1 0 -6.8 0M959.6 166a3.4 3.4 0 1 0 6.8 0a3.4 3.4 0 1 0 -6.8 0M967.1 166.7a3.4 3.4 0 1 0 6.8 0a3.4 3.4 0 1 0 -6.8 0M1049.6 138a3.4 3.4 0 1 0 6.8 0a3.4 3.4 0 1 0 -6.8 0M1068.6 138a3.4 3.4 0 1 0 6.8 0a3.4 3.4 0 1 0 -6.8 0M1094.1 138a3.4 3.4 0 1 0 6.8 0a3.4 3.4 0 1 0 -6.8 0M1098.6 146.6a3.4 3.4 0 1 0 6.8 0a3.4 3.4 0 1 0 -6.8 0M987.5 193.8a3.4 3.4 0 1 0 6.8 0a3.4 3.4 0 1 0 -6.8 0M995 195.4a3.4 3.4 0 1 0 6.8 0a3.4 3.4 0 1 0 -6.8 0M998 213.4a3.4 3.4 0 1 0 6.8 0a3.4 3.4 0 1 0 -6.8 0M994.2 224.7a3.4 3.4 0 1 0 6.8 0a3.4 3.4 0 1 0 -6.8 0M999.6 221a3.4 3.4 0 1 0 6.8 0a3.4 3.4 0 1 0 -6.8 0M1116.6 170a3.4 3.4 0 1 0 6.8 0a3.4 3.4 0 1 0 -6.8 0M1120.6 185a3.4 3.4 0 1 0 6.8 0a3.4 3.4 0 1 0 -6.8 0M1114.6 205a3.4 3.4 0 1 0 6.8 0a3.4 3.4 0 1 0 -6.8 0M1119.6 240a3.4 3.4 0 1 0 6.8 0a3.4 3.4 0 1 0 -6.8 0M1116.6 300a3.4 3.4 0 1 0 6.8 0a3.4 3.4 0 1 0 -6.8 0M1119.6 320a3.4 3.4 0 1 0 6.8 0a3.4 3.4 0 1 0 -6.8 0M1112.6 338a3.4 3.4 0 1 0 6.8 0a3.4 3.4 0 1 0 -6.8 0"/>
<path fill="#1f2b5e" d="M854.74 244.04a3.4 3.4 0 1 0 6.8 0a3.4 3.4 0 1 0 -6.8 0M921.59 244.98a3.4 3.4 0 1 0 6.8 0a3.4 3.4 0 1 0 -6.8 0M923.91 272.63a3.4 3.4 0 1 0 6.8 0a3.4 3.4 0 1 0 -6.8 0M928 203.72a3.4 3.4 0 1 0 6.8 0a3.4 3.4 0 1 0 -6.8 0M913.92 248.48a3.4 3.4 0 1 0 6.8 0a3.4 3.4 0 1 0 -6.8 0M916.04 219.08a3.4 3.4 0 1 0 6.8 0a3.4 3.4 0 1 0 -6.8 0M918.92 190.7a3.4 3.4 0 1 0 6.8 0a3.4 3.4 0 1 0 -6.8 0M879.91 256.47a3.4 3.4 0 1 0 6.8 0a3.4 3.4 0 1 0 -6.8 0M929.02 312.42a3.4 3.4 0 1 0 6.8 0a3.4 3.4 0 1 0 -6.8 0M890.51 196.8a3.4 3.4 0 1 0 6.8 0a3.4 3.4 0 1 0 -6.8 0M920.49 255.33a3.4 3.4 0 1 0 6.8 0a3.4 3.4 0 1 0 -6.8 0M911.95 224.57a3.4 3.4 0 1 0 6.8 0a3.4 3.4 0 1 0 -6.8 0M876.76 263.05a3.4 3.4 0 1 0 6.8 0a3.4 3.4 0 1 0 -6.8 0M915.58 207.94a3.4 3.4 0 1 0 6.8 0a3.4 3.4 0 1 0 -6.8 0M872.15 256.32a3.4 3.4 0 1 0 6.8 0a3.4 3.4 0 1 0 -6.8 0M914.38 215.66a3.4 3.4 0 1 0 6.8 0a3.4 3.4 0 1 0 -6.8 0M888.77 287.02a3.4 3.4 0 1 0 6.8 0a3.4 3.4 0 1 0 -6.8 0M920.87 273.06a3.4 3.4 0 1 0 6.8 0a3.4 3.4 0 1 0 -6.8 0M890.54 277.29a3.4 3.4 0 1 0 6.8 0a3.4 3.4 0 1 0 -6.8 0M906.4 295.03a3.4 3.4 0 1 0 6.8 0a3.4 3.4 0 1 0 -6.8 0M912.07 269.23a3.4 3.4 0 1 0 6.8 0a3.4 3.4 0 1 0 -6.8 0M914.46 237.15a3.4 3.4 0 1 0 6.8 0a3.4 3.4 0 1 0 -6.8 0M894.51 277.94a3.4 3.4 0 1 0 6.8 0a3.4 3.4 0 1 0 -6.8 0M889.56 290.33a3.4 3.4 0 1 0 6.8 0a3.4 3.4 0 1 0 -6.8 0M921.95 216.94a3.4 3.4 0 1 0 6.8 0a3.4 3.4 0 1 0 -6.8 0M908.7 250.69a3.4 3.4 0 1 0 6.8 0a3.4 3.4 0 1 0 -6.8 0M932.58 272.59a3.4 3.4 0 1 0 6.8 0a3.4 3.4 0 1 0 -6.8 0M907.76 302.35a3.4 3.4 0 1 0 6.8 0a3.4 3.4 0 1 0 -6.8 0M902.73 197.83a3.4 3.4 0 1 0 6.8 0a3.4 3.4 0 1 0 -6.8 0M890.44 247.4a3.4 3.4 0 1 0 6.8 0a3.4 3.4 0 1 0 -6.8 0M919.27 207.51a3.4 3.4 0 1 0 6.8 0a3.4 3.4 0 1 0 -6.8 0M885 213.67a3.4 3.4 0 1 0 6.8 0a3.4 3.4 0 1 0 -6.8 0M921.41 266.84a3.4 3.4 0 1 0 6.8 0a3.4 3.4 0 1 0 -6.8 0M928.34 189.07a3.4 3.4 0 1 0 6.8 0a3.4 3.4 0 1 0 -6.8 0M906.18 229.91a3.4 3.4 0 1 0 6.8 0a3.4 3.4 0 1 0 -6.8 0M914.56 305.61a3.4 3.4 0 1 0 6.8 0a3.4 3.4 0 1 0 -6.8 0M869.36 220.33a3.4 3.4 0 1 0 6.8 0a3.4 3.4 0 1 0 -6.8 0M895.66 183.86a3.4 3.4 0 1 0 6.8 0a3.4 3.4 0 1 0 -6.8 0M914.45 273.53a3.4 3.4 0 1 0 6.8 0a3.4 3.4 0 1 0 -6.8 0M912.06 285.19a3.4 3.4 0 1 0 6.8 0a3.4 3.4 0 1 0 -6.8 0M893.97 248.7a3.4 3.4 0 1 0 6.8 0a3.4 3.4 0 1 0 -6.8 0M920.36 292.29a3.4 3.4 0 1 0 6.8 0a3.4 3.4 0 1 0 -6.8 0M909.27 243.45a3.4 3.4 0 1 0 6.8 0a3.4 3.4 0 1 0 -6.8 0M910.76 250.32a3.4 3.4 0 1 0 6.8 0a3.4 3.4 0 1 0 -6.8 0M878.22 213.6a3.4 3.4 0 1 0 6.8 0a3.4 3.4 0 1 0 -6.8 0M882.58 219.28a3.4 3.4 0 1 0 6.8 0a3.4 3.4 0 1 0 -6.8 0M897.07 199a3.4 3.4 0 1 0 6.8 0a3.4 3.4 0 1 0 -6.8 0M881.61 237.31a3.4 3.4 0 1 0 6.8 0a3.4 3.4 0 1 0 -6.8 0M912.38 305.22a3.4 3.4 0 1 0 6.8 0a3.4 3.4 0 1 0 -6.8 0M929.74 287.31a3.4 3.4 0 1 0 6.8 0a3.4 3.4 0 1 0 -6.8 0M894.44 268.49a3.4 3.4 0 1 0 6.8 0a3.4 3.4 0 1 0 -6.8 0M856.1 242.38a3.4 3.4 0 1 0 6.8 0a3.4 3.4 0 1 0 -6.8 0M909.67 297.85a3.4 3.4 0 1 0 6.8 0a3.4 3.4 0 1 0 -6.8 0M891 282.71a3.4 3.4 0 1 0 6.8 0a3.4 3.4 0 1 0 -6.8 0M927.21 249.67a3.4 3.4 0 1 0 6.8 0a3.4 3.4 0 1 0 -6.8 0M903.42 239.84a3.4 3.4 0 1 0 6.8 0a3.4 3.4 0 1 0 -6.8 0M931.13 309.54a3.4 3.4 0 1 0 6.8 0a3.4 3.4 0 1 0 -6.8 0M907.4 285.03a3.4 3.4 0 1 0 6.8 0a3.4 3.4 0 1 0 -6.8 0M919.02 204.13a3.4 3.4 0 1 0 6.8 0a3.4 3.4 0 1 0 -6.8 0M910.23 195.14a3.4 3.4 0 1 0 6.8 0a3.4 3.4 0 1 0 -6.8 0M864.65 226.49a3.4 3.4 0 1 0 6.8 0a3.4 3.4 0 1 0 -6.8 0M899.31 190.29a3.4 3.4 0 1 0 6.8 0a3.4 3.4 0 1 0 -6.8 0M931.29 231.25a3.4 3.4 0 1 0 6.8 0a3.4 3.4 0 1 0 -6.8 0M902.32 187.06a3.4 3.4 0 1 0 6.8 0a3.4 3.4 0 1 0 -6.8 0M896.51 250.1a3.4 3.4 0 1 0 6.8 0a3.4 3.4 0 1 0 -6.8 0M864.7 258.73a3.4 3.4 0 1 0 6.8 0a3.4 3.4 0 1 0 -6.8 0M906.03 190.32a3.4 3.4 0 1 0 6.8 0a3.4 3.4 0 1 0 -6.8 0M894.74 250.87a3.4 3.4 0 1 0 6.8 0a3.4 3.4 0 1 0 -6.8 0M931.96 246.53a3.4 3.4 0 1 0 6.8 0a3.4 3.4 0 1 0 -6.8 0M913.24 167.95a3.4 3.4 0 1 0 6.8 0a3.4 3.4 0 1 0 -6.8 0M919.67 260.58a3.4 3.4 0 1 0 6.8 0a3.4 3.4 0 1 0 -6.8 0M926.33 248.72a3.4 3.4 0 1 0 6.8 0a3.4 3.4 0 1 0 -6.8 0M913.67 248.96a3.4 3.4 0 1 0 6.8 0a3.4 3.4 0 1 0 -6.8 0M912.14 188.5a3.4 3.4 0 1 0 6.8 0a3.4 3.4 0 1 0 -6.8 0M932.23 261.56a3.4 3.4 0 1 0 6.8 0a3.4 3.4 0 1 0 -6.8 0M907.57 179.68a3.4 3.4 0 1 0 6.8 0a3.4 3.4 0 1 0 -6.8 0M890.33 242.73a3.4 3.4 0 1 0 6.8 0a3.4 3.4 0 1 0 -6.8 0M929.29 258.9a3.4 3.4 0 1 0 6.8 0a3.4 3.4 0 1 0 -6.8 0M894.44 204.83a3.4 3.4 0 1 0 6.8 0a3.4 3.4 0 1 0 -6.8 0M896.92 269.47a3.4 3.4 0 1 0 6.8 0a3.4 3.4 0 1 0 -6.8 0M928.35 272.7a3.4 3.4 0 1 0 6.8 0a3.4 3.4 0 1 0 -6.8 0M861.35 229.9a3.4 3.4 0 1 0 6.8 0a3.4 3.4 0 1 0 -6.8 0M856 249.11a3.4 3.4 0 1 0 6.8 0a3.4 3.4 0 1 0 -6.8 0M887.66 209.07a3.4 3.4 0 1 0 6.8 0a3.4 3.4 0 1 0 -6.8 0M908.12 217.17a3.4 3.4 0 1 0 6.8 0a3.4 3.4 0 1 0 -6.8 0M919.69 235.86a3.4 3.4 0 1 0 6.8 0a3.4 3.4 0 1 0 -6.8 0M931.78 195.88a3.4 3.4 0 1 0 6.8 0a3.4 3.4 0 1 0 -6.8 0M906.25 266.11a3.4 3.4 0 1 0 6.8 0a3.4 3.4 0 1 0 -6.8 0M925.15 211.24a3.4 3.4 0 1 0 6.8 0a3.4 3.4 0 1 0 -6.8 0M916.25 246.1a3.4 3.4 0 1 0 6.8 0a3.4 3.4 0 1 0 -6.8 0M918.79 281.14a3.4 3.4 0 1 0 6.8 0a3.4 3.4 0 1 0 -6.8 0M910.09 218.29a3.4 3.4 0 1 0 6.8 0a3.4 3.4 0 1 0 -6.8 0M933 173.4a3.4 3.4 0 1 0 6.8 0a3.4 3.4 0 1 0 -6.8 0M881.57 216.61a3.4 3.4 0 1 0 6.8 0a3.4 3.4 0 1 0 -6.8 0M889.61 239.59a3.4 3.4 0 1 0 6.8 0a3.4 3.4 0 1 0 -6.8 0M915.58 196.99a3.4 3.4 0 1 0 6.8 0a3.4 3.4 0 1 0 -6.8 0M914.12 259.11a3.4 3.4 0 1 0 6.8 0a3.4 3.4 0 1 0 -6.8 0M922.43 184.32a3.4 3.4 0 1 0 6.8 0a3.4 3.4 0 1 0 -6.8 0M908.64 188.67a3.4 3.4 0 1 0 6.8 0a3.4 3.4 0 1 0 -6.8 0M929.02 192.73a3.4 3.4 0 1 0 6.8 0a3.4 3.4 0 1 0 -6.8 0M931.2 238.84a3.4 3.4 0 1 0 6.8 0a3.4 3.4 0 1 0 -6.8 0M913.37 191.63a3.4 3.4 0 1 0 6.8 0a3.4 3.4 0 1 0 -6.8 0M932.08 224.39a3.4 3.4 0 1 0 6.8 0a3.4 3.4 0 1 0 -6.8 0M905.25 272.89a3.4 3.4 0 1 0 6.8 0a3.4 3.4 0 1 0 -6.8 0M918.71 217.71a3.4 3.4 0 1 0 6.8 0a3.4 3.4 0 1 0 -6.8 0M917.39 167.29a3.4 3.4 0 1 0 6.8 0a3.4 3.4 0 1 0 -6.8 0M897.42 232.64a3.4 3.4 0 1 0 6.8 0a3.4 3.4 0 1 0 -6.8 0M920.19 290.75a3.4 3.4 0 1 0 6.8 0a3.4 3.4 0 1 0 -6.8 0M930.47 233.32a3.4 3.4 0 1 0 6.8 0a3.4 3.4 0 1 0 -6.8 0M874.98 246.24a3.4 3.4 0 1 0 6.8 0a3.4 3.4 0 1 0 -6.8 0M925.81 230.2a3.4 3.4 0 1 0 6.8 0a3.4 3.4 0 1 0 -6.8 0M915.6 170.26a3.4 3.4 0 1 0 6.8 0a3.4 3.4 0 1 0 -6.8 0M898.33 270.15a3.4 3.4 0 1 0 6.8 0a3.4 3.4 0 1 0 -6.8 0M930.08 253.73a3.4 3.4 0 1 0 6.8 0a3.4 3.4 0 1 0 -6.8 0M901.6 238.79a3.4 3.4 0 1 0 6.8 0a3.4 3.4 0 1 0 -6.8 0M917.19 203.56a3.4 3.4 0 1 0 6.8 0a3.4 3.4 0 1 0 -6.8 0M890.99 274.29a3.4 3.4 0 1 0 6.8 0a3.4 3.4 0 1 0 -6.8 0M877.21 241.84a3.4 3.4 0 1 0 6.8 0a3.4 3.4 0 1 0 -6.8 0M924.4 231.17a3.4 3.4 0 1 0 6.8 0a3.4 3.4 0 1 0 -6.8 0M920.69 181.74a3.4 3.4 0 1 0 6.8 0a3.4 3.4 0 1 0 -6.8 0M927.05 191.87a3.4 3.4 0 1 0 6.8 0a3.4 3.4 0 1 0 -6.8 0M908.58 246.32a3.4 3.4 0 1 0 6.8 0a3.4 3.4 0 1 0 -6.8 0M926.97 219.41a3.4 3.4 0 1 0 6.8 0a3.4 3.4 0 1 0 -6.8 0M884.64 219.46a3.4 3.4 0 1 0 6.8 0a3.4 3.4 0 1 0 -6.8 0M905.92 264.6a3.4 3.4 0 1 0 6.8 0a3.4 3.4 0 1 0 -6.8 0M894.37 265.57a3.4 3.4 0 1 0 6.8 0a3.4 3.4 0 1 0 -6.8 0M930.5 257.82a3.4 3.4 0 1 0 6.8 0a3.4 3.4 0 1 0 -6.8 0M927.62 289.71a3.4 3.4 0 1 0 6.8 0a3.4 3.4 0 1 0 -6.8 0M915.16 294.39a3.4 3.4 0 1 0 6.8 0a3.4 3.4 0 1 0 -6.8 0M884.54 263.95a3.4 3.4 0 1 0 6.8 0a3.4 3.4 0 1 0 -6.8 0M907.87 218.22a3.4 3.4 0 1 0 6.8 0a3.4 3.4 0 1 0 -6.8 0M893.82 294.85a3.4 3.4 0 1 0 6.8 0a3.4 3.4 0 1 0 -6.8 0M895.82 197.04a3.4 3.4 0 1 0 6.8 0a3.4 3.4 0 1 0 -6.8 0M928.32 204.87a3.4 3.4 0 1 0 6.8 0a3.4 3.4 0 1 0 -6.8 0M912.09 305.98a3.4 3.4 0 1 0 6.8 0a3.4 3.4 0 1 0 -6.8 0M876.42 226.58a3.4 3.4 0 1 0 6.8 0a3.4 3.4 0 1 0 -6.8 0M859.81 247.36a3.4 3.4 0 1 0 6.8 0a3.4 3.4 0 1 0 -6.8 0M926.63 310.88a3.4 3.4 0 1 0 6.8 0a3.4 3.4 0 1 0 -6.8 0M905.51 210.04a3.4 3.4 0 1 0 6.8 0a3.4 3.4 0 1 0 -6.8 0M883.81 262.35a3.4 3.4 0 1 0 6.8 0a3.4 3.4 0 1 0 -6.8 0M870.27 262.12a3.4 3.4 0 1 0 6.8 0a3.4 3.4 0 1 0 -6.8 0M906.3 249.28a3.4 3.4 0 1 0 6.8 0a3.4 3.4 0 1 0 -6.8 0M931.87 221.36a3.4 3.4 0 1 0 6.8 0a3.4 3.4 0 1 0 -6.8 0M886.63 226.58a3.4 3.4 0 1 0 6.8 0a3.4 3.4 0 1 0 -6.8 0M894.34 207.16a3.4 3.4 0 1 0 6.8 0a3.4 3.4 0 1 0 -6.8 0M908.21 188.35a3.4 3.4 0 1 0 6.8 0a3.4 3.4 0 1 0 -6.8 0M931.34 287.05a3.4 3.4 0 1 0 6.8 0a3.4 3.4 0 1 0 -6.8 0M923.84 267.83a3.4 3.4 0 1 0 6.8 0a3.4 3.4 0 1 0 -6.8 0M896.07 274.45a3.4 3.4 0 1 0 6.8 0a3.4 3.4 0 1 0 -6.8 0M916.79 187.32a3.4 3.4 0 1 0 6.8 0a3.4 3.4 0 1 0 -6.8 0M903.08 174.09a3.4 3.4 0 1 0 6.8 0a3.4 3.4 0 1 0 -6.8 0M926.17 176.94a3.4 3.4 0 1 0 6.8 0a3.4 3.4 0 1 0 -6.8 0M903.75 254.34a3.4 3.4 0 1 0 6.8 0a3.4 3.4 0 1 0 -6.8 0M887.83 254.98a3.4 3.4 0 1 0 6.8 0a3.4 3.4 0 1 0 -6.8 0M916.75 246.58a3.4 3.4 0 1 0 6.8 0a3.4 3.4 0 1 0 -6.8 0M918.08 271.25a3.4 3.4 0 1 0 6.8 0a3.4 3.4 0 1 0 -6.8 0M881.34 237.21a3.4 3.4 0 1 0 6.8 0a3.4 3.4 0 1 0 -6.8 0M862.87 251.34a3.4 3.4 0 1 0 6.8 0a3.4 3.4 0 1 0 -6.8 0M931.29 196.63a3.4 3.4 0 1 0 6.8 0a3.4 3.4 0 1 0 -6.8 0M930.55 251.76a3.4 3.4 0 1 0 6.8 0a3.4 3.4 0 1 0 -6.8 0M932.93 263.76a3.4 3.4 0 1 0 6.8 0a3.4 3.4 0 1 0 -6.8 0M931.53 299.08a3.4 3.4 0 1 0 6.8 0a3.4 3.4 0 1 0 -6.8 0M930.41 262.06a3.4 3.4 0 1 0 6.8 0a3.4 3.4 0 1 0 -6.8 0M918.7 280.8a3.4 3.4 0 1 0 6.8 0a3.4 3.4 0 1 0 -6.8 0M928.76 250.68a3.4 3.4 0 1 0 6.8 0a3.4 3.4 0 1 0 -6.8 0M931.1 242.7a3.4 3.4 0 1 0 6.8 0a3.4 3.4 0 1 0 -6.8 0M868.31 243.92a3.4 3.4 0 1 0 6.8 0a3.4 3.4 0 1 0 -6.8 0M908.45 196.66a3.4 3.4 0 1 0 6.8 0a3.4 3.4 0 1 0 -6.8 0M925.58 193.07a3.4 3.4 0 1 0 6.8 0a3.4 3.4 0 1 0 -6.8 0M922.41 172.94a3.4 3.4 0 1 0 6.8 0a3.4 3.4 0 1 0 -6.8 0M891.48 207.82a3.4 3.4 0 1 0 6.8 0a3.4 3.4 0 1 0 -6.8 0M875.39 220.98a3.4 3.4 0 1 0 6.8 0a3.4 3.4 0 1 0 -6.8 0M909.64 226.71a3.4 3.4 0 1 0 6.8 0a3.4 3.4 0 1 0 -6.8 0M897.6 269.01a3.4 3.4 0 1 0 6.8 0a3.4 3.4 0 1 0 -6.8 0M928.75 226.96a3.4 3.4 0 1 0 6.8 0a3.4 3.4 0 1 0 -6.8 0M924.6 304.51a3.4 3.4 0 1 0 6.8 0a3.4 3.4 0 1 0 -6.8 0M924.71 233.16a3.4 3.4 0 1 0 6.8 0a3.4 3.4 0 1 0 -6.8 0M897.61 247.36a3.4 3.4 0 1 0 6.8 0a3.4 3.4 0 1 0 -6.8 0M918.14 265.53a3.4 3.4 0 1 0 6.8 0a3.4 3.4 0 1 0 -6.8 0M904.08 272.12a3.4 3.4 0 1 0 6.8 0a3.4 3.4 0 1 0 -6.8 0M931.1 287.62a3.4 3.4 0 1 0 6.8 0a3.4 3.4 0 1 0 -6.8 0M926.23 299.93a3.4 3.4 0 1 0 6.8 0a3.4 3.4 0 1 0 -6.8 0M932.65 258.96a3.4 3.4 0 1 0 6.8 0a3.4 3.4 0 1 0 -6.8 0M910.41 197.42a3.4 3.4 0 1 0 6.8 0a3.4 3.4 0 1 0 -6.8 0M901.09 250.55a3.4 3.4 0 1 0 6.8 0a3.4 3.4 0 1 0 -6.8 0M906.81 238.33a3.4 3.4 0 1 0 6.8 0a3.4 3.4 0 1 0 -6.8 0M878.53 253.67a3.4 3.4 0 1 0 6.8 0a3.4 3.4 0 1 0 -6.8 0M927.8 297.46a3.4 3.4 0 1 0 6.8 0a3.4 3.4 0 1 0 -6.8 0M895.26 290.67a3.4 3.4 0 1 0 6.8 0a3.4 3.4 0 1 0 -6.8 0M931.8 284.57a3.4 3.4 0 1 0 6.8 0a3.4 3.4 0 1 0 -6.8 0M892.23 254.02a3.4 3.4 0 1 0 6.8 0a3.4 3.4 0 1 0 -6.8 0M930.99 304.31a3.4 3.4 0 1 0 6.8 0a3.4 3.4 0 1 0 -6.8 0M916.06 301.72a3.4 3.4 0 1 0 6.8 0a3.4 3.4 0 1 0 -6.8 0M879.6 254.86a3.4 3.4 0 1 0 6.8 0a3.4 3.4 0 1 0 -6.8 0M925.01 219.04a3.4 3.4 0 1 0 6.8 0a3.4 3.4 0 1 0 -6.8 0M926.38 310.64a3.4 3.4 0 1 0 6.8 0a3.4 3.4 0 1 0 -6.8 0M914.58 180.64a3.4 3.4 0 1 0 6.8 0a3.4 3.4 0 1 0 -6.8 0M903.15 175.6a3.4 3.4 0 1 0 6.8 0a3.4 3.4 0 1 0 -6.8 0M908.13 216.49a3.4 3.4 0 1 0 6.8 0a3.4 3.4 0 1 0 -6.8 0M928.26 260.3a3.4 3.4 0 1 0 6.8 0a3.4 3.4 0 1 0 -6.8 0M917.3 290.6a3.4 3.4 0 1 0 6.8 0a3.4 3.4 0 1 0 -6.8 0M884.65 245.63a3.4 3.4 0 1 0 6.8 0a3.4 3.4 0 1 0 -6.8 0M925.86 166.92a3.4 3.4 0 1 0 6.8 0a3.4 3.4 0 1 0 -6.8 0M924.64 288.02a3.4 3.4 0 1 0 6.8 0a3.4 3.4 0 1 0 -6.8 0M932.33 170.69a3.4 3.4 0 1 0 6.8 0a3.4 3.4 0 1 0 -6.8 0M932.49 310.86a3.4 3.4 0 1 0 6.8 0a3.4 3.4 0 1 0 -6.8 0M932.99 275.71a3.4 3.4 0 1 0 6.8 0a3.4 3.4 0 1 0 -6.8 0M900.94 194.76a3.4 3.4 0 1 0 6.8 0a3.4 3.4 0 1 0 -6.8 0M910.21 195.14a3.4 3.4 0 1 0 6.8 0a3.4 3.4 0 1 0 -6.8 0M925.94 302.94a3.4 3.4 0 1 0 6.8 0a3.4 3.4 0 1 0 -6.8 0M865.23 236.92a3.4 3.4 0 1 0 6.8 0a3.4 3.4 0 1 0 -6.8 0M898.11 201.74a3.4 3.4 0 1 0 6.8 0a3.4 3.4 0 1 0 -6.8 0M915.95 231.57a3.4 3.4 0 1 0 6.8 0a3.4 3.4 0 1 0 -6.8 0M905.55 202.41a3.4 3.4 0 1 0 6.8 0a3.4 3.4 0 1 0 -6.8 0M889.41 255.79a3.4 3.4 0 1 0 6.8 0a3.4 3.4 0 1 0 -6.8 0M928.81 260.78a3.4 3.4 0 1 0 6.8 0a3.4 3.4 0 1 0 -6.8 0M895.27 279.09a3.4 3.4 0 1 0 6.8 0a3.4 3.4 0 1 0 -6.8 0M915.63 211.94a3.4 3.4 0 1 0 6.8 0a3.4 3.4 0 1 0 -6.8 0M905.39 267.9a3.4 3.4 0 1 0 6.8 0a3.4 3.4 0 1 0 -6.8 0M910.4 255.1a3.4 3.4 0 1 0 6.8 0a3.4 3.4 0 1 0 -6.8 0M896.23 206.27a3.4 3.4 0 1 0 6.8 0a3.4 3.4 0 1 0 -6.8 0M913.66 258.24a3.4 3.4 0 1 0 6.8 0a3.4 3.4 0 1 0 -6.8 0M927.57 292.39a3.4 3.4 0 1 0 6.8 0a3.4 3.4 0 1 0 -6.8 0M890.06 244.12a3.4 3.4 0 1 0 6.8 0a3.4 3.4 0 1 0 -6.8 0M877.42 255.93a3.4 3.4 0 1 0 6.8 0a3.4 3.4 0 1 0 -6.8 0M922.48 179.64a3.4 3.4 0 1 0 6.8 0a3.4 3.4 0 1 0 -6.8 0M921.57 283.05a3.4 3.4 0 1 0 6.8 0a3.4 3.4 0 1 0 -6.8 0M867.38 249.85a3.4 3.4 0 1 0 6.8 0a3.4 3.4 0 1 0 -6.8 0M912.48 283.22a3.4 3.4 0 1 0 6.8 0a3.4 3.4 0 1 0 -6.8 0M908.64 172.76a3.4 3.4 0 1 0 6.8 0a3.4 3.4 0 1 0 -6.8 0M876.68 233.71a3.4 3.4 0 1 0 6.8 0a3.4 3.4 0 1 0 -6.8 0M923.89 228.15a3.4 3.4 0 1 0 6.8 0a3.4 3.4 0 1 0 -6.8 0M924.51 253.84a3.4 3.4 0 1 0 6.8 0a3.4 3.4 0 1 0 -6.8 0M931.88 311.04a3.4 3.4 0 1 0 6.8 0a3.4 3.4 0 1 0 -6.8 0M903.49 207.65a3.4 3.4 0 1 0 6.8 0a3.4 3.4 0 1 0 -6.8 0M929.43 218.51a3.4 3.4 0 1 0 6.8 0a3.4 3.4 0 1 0 -6.8 0M912.32 198.57a3.4 3.4 0 1 0 6.8 0a3.4 3.4 0 1 0 -6.8 0M930.3 293.6a3.4 3.4 0 1 0 6.8 0a3.4 3.4 0 1 0 -6.8 0M915.36 283.41a3.4 3.4 0 1 0 6.8 0a3.4 3.4 0 1 0 -6.8 0M899 179.89a3.4 3.4 0 1 0 6.8 0a3.4 3.4 0 1 0 -6.8 0"/>
<path fill="#1f2b5e" d="M919.25 237.08a3.4 3.4 0 1 0 6.8 0a3.4 3.4 0 1 0 -6.8 0M925.37 197.94a3.4 3.4 0 1 0 6.8 0a3.4 3.4 0 1 0 -6.8 0M912.53 255.97a3.4 3.4 0 1 0 6.8 0a3.4 3.4 0 1 0 -6.8 0M929.28 208.27a3.4 3.4 0 1 0 6.8 0a3.4 3.4 0 1 0 -6.8 0M914.04 242.13a3.4 3.4 0 1 0 6.8 0a3.4 3.4 0 1 0 -6.8 0M929.44 240.79a3.4 3.4 0 1 0 6.8 0a3.4 3.4 0 1 0 -6.8 0M930.27 300.45a3.4 3.4 0 1 0 6.8 0a3.4 3.4 0 1 0 -6.8 0M931.49 214.42a3.4 3.4 0 1 0 6.8 0a3.4 3.4 0 1 0 -6.8 0M912.11 193.97a3.4 3.4 0 1 0 6.8 0a3.4 3.4 0 1 0 -6.8 0M929.13 247.13a3.4 3.4 0 1 0 6.8 0a3.4 3.4 0 1 0 -6.8 0M919.62 251.44a3.4 3.4 0 1 0 6.8 0a3.4 3.4 0 1 0 -6.8 0M929.63 241.12a3.4 3.4 0 1 0 6.8 0a3.4 3.4 0 1 0 -6.8 0M918.24 232.11a3.4 3.4 0 1 0 6.8 0a3.4 3.4 0 1 0 -6.8 0M921.4 238.21a3.4 3.4 0 1 0 6.8 0a3.4 3.4 0 1 0 -6.8 0M903.15 256.91a3.4 3.4 0 1 0 6.8 0a3.4 3.4 0 1 0 -6.8 0M901.65 235.26a3.4 3.4 0 1 0 6.8 0a3.4 3.4 0 1 0 -6.8 0M907.14 224.97a3.4 3.4 0 1 0 6.8 0a3.4 3.4 0 1 0 -6.8 0M907.46 203.35a3.4 3.4 0 1 0 6.8 0a3.4 3.4 0 1 0 -6.8 0M914.55 189.85a3.4 3.4 0 1 0 6.8 0a3.4 3.4 0 1 0 -6.8 0M908.46 267.31a3.4 3.4 0 1 0 6.8 0a3.4 3.4 0 1 0 -6.8 0M913.7 201.76a3.4 3.4 0 1 0 6.8 0a3.4 3.4 0 1 0 -6.8 0M925.54 222.98a3.4 3.4 0 1 0 6.8 0a3.4 3.4 0 1 0 -6.8 0M916.41 230.54a3.4 3.4 0 1 0 6.8 0a3.4 3.4 0 1 0 -6.8 0M919.55 185.92a3.4 3.4 0 1 0 6.8 0a3.4 3.4 0 1 0 -6.8 0M920.91 215.55a3.4 3.4 0 1 0 6.8 0a3.4 3.4 0 1 0 -6.8 0M928.49 211.97a3.4 3.4 0 1 0 6.8 0a3.4 3.4 0 1 0 -6.8 0M914.85 275.73a3.4 3.4 0 1 0 6.8 0a3.4 3.4 0 1 0 -6.8 0M928.15 210.6a3.4 3.4 0 1 0 6.8 0a3.4 3.4 0 1 0 -6.8 0M932.41 201.49a3.4 3.4 0 1 0 6.8 0a3.4 3.4 0 1 0 -6.8 0M908.94 240.76a3.4 3.4 0 1 0 6.8 0a3.4 3.4 0 1 0 -6.8 0M918.64 244.11a3.4 3.4 0 1 0 6.8 0a3.4 3.4 0 1 0 -6.8 0M915.54 275.03a3.4 3.4 0 1 0 6.8 0a3.4 3.4 0 1 0 -6.8 0M908.46 230.54a3.4 3.4 0 1 0 6.8 0a3.4 3.4 0 1 0 -6.8 0M922.37 289.39a3.4 3.4 0 1 0 6.8 0a3.4 3.4 0 1 0 -6.8 0M908.55 220.21a3.4 3.4 0 1 0 6.8 0a3.4 3.4 0 1 0 -6.8 0M915.62 208.95a3.4 3.4 0 1 0 6.8 0a3.4 3.4 0 1 0 -6.8 0M929.36 237.51a3.4 3.4 0 1 0 6.8 0a3.4 3.4 0 1 0 -6.8 0M911.72 189.6a3.4 3.4 0 1 0 6.8 0a3.4 3.4 0 1 0 -6.8 0M918.22 283.43a3.4 3.4 0 1 0 6.8 0a3.4 3.4 0 1 0 -6.8 0M912.73 207.27a3.4 3.4 0 1 0 6.8 0a3.4 3.4 0 1 0 -6.8 0M927.38 194.69a3.4 3.4 0 1 0 6.8 0a3.4 3.4 0 1 0 -6.8 0M918.68 273.34a3.4 3.4 0 1 0 6.8 0a3.4 3.4 0 1 0 -6.8 0M916.94 212.2a3.4 3.4 0 1 0 6.8 0a3.4 3.4 0 1 0 -6.8 0M919.83 217.82a3.4 3.4 0 1 0 6.8 0a3.4 3.4 0 1 0 -6.8 0M922.14 277.12a3.4 3.4 0 1 0 6.8 0a3.4 3.4 0 1 0 -6.8 0M926.51 274.28a3.4 3.4 0 1 0 6.8 0a3.4 3.4 0 1 0 -6.8 0M904.27 209.2a3.4 3.4 0 1 0 6.8 0a3.4 3.4 0 1 0 -6.8 0M922.11 256.51a3.4 3.4 0 1 0 6.8 0a3.4 3.4 0 1 0 -6.8 0M929.49 231.22a3.4 3.4 0 1 0 6.8 0a3.4 3.4 0 1 0 -6.8 0M901.81 243.86a3.4 3.4 0 1 0 6.8 0a3.4 3.4 0 1 0 -6.8 0M930 182.74a3.4 3.4 0 1 0 6.8 0a3.4 3.4 0 1 0 -6.8 0M911.63 274.41a3.4 3.4 0 1 0 6.8 0a3.4 3.4 0 1 0 -6.8 0M922.64 202.59a3.4 3.4 0 1 0 6.8 0a3.4 3.4 0 1 0 -6.8 0M931.76 232.12a3.4 3.4 0 1 0 6.8 0a3.4 3.4 0 1 0 -6.8 0M927.19 228.86a3.4 3.4 0 1 0 6.8 0a3.4 3.4 0 1 0 -6.8 0M902.15 247.67a3.4 3.4 0 1 0 6.8 0a3.4 3.4 0 1 0 -6.8 0M919.93 208.17a3.4 3.4 0 1 0 6.8 0a3.4 3.4 0 1 0 -6.8 0M904.75 245.85a3.4 3.4 0 1 0 6.8 0a3.4 3.4 0 1 0 -6.8 0M905.62 219.66a3.4 3.4 0 1 0 6.8 0a3.4 3.4 0 1 0 -6.8 0M931.65 197.95a3.4 3.4 0 1 0 6.8 0a3.4 3.4 0 1 0 -6.8 0M906.93 260.83a3.4 3.4 0 1 0 6.8 0a3.4 3.4 0 1 0 -6.8 0M916.73 291.67a3.4 3.4 0 1 0 6.8 0a3.4 3.4 0 1 0 -6.8 0M910.95 272.29a3.4 3.4 0 1 0 6.8 0a3.4 3.4 0 1 0 -6.8 0M930.33 199.4a3.4 3.4 0 1 0 6.8 0a3.4 3.4 0 1 0 -6.8 0M912.39 235.59a3.4 3.4 0 1 0 6.8 0a3.4 3.4 0 1 0 -6.8 0M915.63 250.75a3.4 3.4 0 1 0 6.8 0a3.4 3.4 0 1 0 -6.8 0M922.86 193.64a3.4 3.4 0 1 0 6.8 0a3.4 3.4 0 1 0 -6.8 0M921.5 280.7a3.4 3.4 0 1 0 6.8 0a3.4 3.4 0 1 0 -6.8 0M913.69 209.17a3.4 3.4 0 1 0 6.8 0a3.4 3.4 0 1 0 -6.8 0M908.49 252.81a3.4 3.4 0 1 0 6.8 0a3.4 3.4 0 1 0 -6.8 0M910.08 263.3a3.4 3.4 0 1 0 6.8 0a3.4 3.4 0 1 0 -6.8 0M924.56 244.57a3.4 3.4 0 1 0 6.8 0a3.4 3.4 0 1 0 -6.8 0M905.07 220.04a3.4 3.4 0 1 0 6.8 0a3.4 3.4 0 1 0 -6.8 0M915.31 282.57a3.4 3.4 0 1 0 6.8 0a3.4 3.4 0 1 0 -6.8 0M908.28 210a3.4 3.4 0 1 0 6.8 0a3.4 3.4 0 1 0 -6.8 0M904.92 224.45a3.4 3.4 0 1 0 6.8 0a3.4 3.4 0 1 0 -6.8 0M922.69 245.61a3.4 3.4 0 1 0 6.8 0a3.4 3.4 0 1 0 -6.8 0M909.14 273.74a3.4 3.4 0 1 0 6.8 0a3.4 3.4 0 1 0 -6.8 0M927.68 196.2a3.4 3.4 0 1 0 6.8 0a3.4 3.4 0 1 0 -6.8 0M916.69 227.6a3.4 3.4 0 1 0 6.8 0a3.4 3.4 0 1 0 -6.8 0M924.81 282.95a3.4 3.4 0 1 0 6.8 0a3.4 3.4 0 1 0 -6.8 0M927.75 199.75a3.4 3.4 0 1 0 6.8 0a3.4 3.4 0 1 0 -6.8 0M932.67 301.96a3.4 3.4 0 1 0 6.8 0a3.4 3.4 0 1 0 -6.8 0M924.98 197.71a3.4 3.4 0 1 0 6.8 0a3.4 3.4 0 1 0 -6.8 0M913.22 245.22a3.4 3.4 0 1 0 6.8 0a3.4 3.4 0 1 0 -6.8 0M906.47 213.07a3.4 3.4 0 1 0 6.8 0a3.4 3.4 0 1 0 -6.8 0M932.13 235.34a3.4 3.4 0 1 0 6.8 0a3.4 3.4 0 1 0 -6.8 0M914.43 245.87a3.4 3.4 0 1 0 6.8 0a3.4 3.4 0 1 0 -6.8 0M927.57 227.38a3.4 3.4 0 1 0 6.8 0a3.4 3.4 0 1 0 -6.8 0M930.38 297.92a3.4 3.4 0 1 0 6.8 0a3.4 3.4 0 1 0 -6.8 0M909.3 249.05a3.4 3.4 0 1 0 6.8 0a3.4 3.4 0 1 0 -6.8 0M931.55 213.64a3.4 3.4 0 1 0 6.8 0a3.4 3.4 0 1 0 -6.8 0M932.73 239.03a3.4 3.4 0 1 0 6.8 0a3.4 3.4 0 1 0 -6.8 0M922.21 186.7a3.4 3.4 0 1 0 6.8 0a3.4 3.4 0 1 0 -6.8 0M913.17 259.13a3.4 3.4 0 1 0 6.8 0a3.4 3.4 0 1 0 -6.8 0M913.22 247.6a3.4 3.4 0 1 0 6.8 0a3.4 3.4 0 1 0 -6.8 0M925.74 214.73a3.4 3.4 0 1 0 6.8 0a3.4 3.4 0 1 0 -6.8 0M923.22 269a3.4 3.4 0 1 0 6.8 0a3.4 3.4 0 1 0 -6.8 0M925.64 215.43a3.4 3.4 0 1 0 6.8 0a3.4 3.4 0 1 0 -6.8 0M911.33 249.68a3.4 3.4 0 1 0 6.8 0a3.4 3.4 0 1 0 -6.8 0M914.87 235.4a3.4 3.4 0 1 0 6.8 0a3.4 3.4 0 1 0 -6.8 0M918.78 272.3a3.4 3.4 0 1 0 6.8 0a3.4 3.4 0 1 0 -6.8 0M904.35 241.3a3.4 3.4 0 1 0 6.8 0a3.4 3.4 0 1 0 -6.8 0M906.96 232.16a3.4 3.4 0 1 0 6.8 0a3.4 3.4 0 1 0 -6.8 0M925.38 210.9a3.4 3.4 0 1 0 6.8 0a3.4 3.4 0 1 0 -6.8 0M923.32 219.47a3.4 3.4 0 1 0 6.8 0a3.4 3.4 0 1 0 -6.8 0M931.21 194.42a3.4 3.4 0 1 0 6.8 0a3.4 3.4 0 1 0 -6.8 0M910.15 238.22a3.4 3.4 0 1 0 6.8 0a3.4 3.4 0 1 0 -6.8 0M911.17 212.56a3.4 3.4 0 1 0 6.8 0a3.4 3.4 0 1 0 -6.8 0M903.6 239.65a3.4 3.4 0 1 0 6.8 0a3.4 3.4 0 1 0 -6.8 0M924.76 222.05a3.4 3.4 0 1 0 6.8 0a3.4 3.4 0 1 0 -6.8 0M932.48 254.7a3.4 3.4 0 1 0 6.8 0a3.4 3.4 0 1 0 -6.8 0M912.09 221.62a3.4 3.4 0 1 0 6.8 0a3.4 3.4 0 1 0 -6.8 0M915.69 243.36a3.4 3.4 0 1 0 6.8 0a3.4 3.4 0 1 0 -6.8 0M926.3 184.46a3.4 3.4 0 1 0 6.8 0a3.4 3.4 0 1 0 -6.8 0M912.03 267.96a3.4 3.4 0 1 0 6.8 0a3.4 3.4 0 1 0 -6.8 0M928.97 210.56a3.4 3.4 0 1 0 6.8 0a3.4 3.4 0 1 0 -6.8 0M910.13 239.22a3.4 3.4 0 1 0 6.8 0a3.4 3.4 0 1 0 -6.8 0M914.66 201.4a3.4 3.4 0 1 0 6.8 0a3.4 3.4 0 1 0 -6.8 0M929.69 214.48a3.4 3.4 0 1 0 6.8 0a3.4 3.4 0 1 0 -6.8 0M910.62 218.16a3.4 3.4 0 1 0 6.8 0a3.4 3.4 0 1 0 -6.8 0M911.53 223.87a3.4 3.4 0 1 0 6.8 0a3.4 3.4 0 1 0 -6.8 0M931.69 176.5a3.4 3.4 0 1 0 6.8 0a3.4 3.4 0 1 0 -6.8 0M912.12 245.19a3.4 3.4 0 1 0 6.8 0a3.4 3.4 0 1 0 -6.8 0M920.24 217.4a3.4 3.4 0 1 0 6.8 0a3.4 3.4 0 1 0 -6.8 0M923.86 229.68a3.4 3.4 0 1 0 6.8 0a3.4 3.4 0 1 0 -6.8 0M907 265.31a3.4 3.4 0 1 0 6.8 0a3.4 3.4 0 1 0 -6.8 0M930.69 196.26a3.4 3.4 0 1 0 6.8 0a3.4 3.4 0 1 0 -6.8 0M925 274.85a3.4 3.4 0 1 0 6.8 0a3.4 3.4 0 1 0 -6.8 0M904.75 241.36a3.4 3.4 0 1 0 6.8 0a3.4 3.4 0 1 0 -6.8 0M903.4 94.5a3.4 3.4 0 1 0 6.8 0a3.4 3.4 0 1 0 -6.8 0M931.2 94.5a3.4 3.4 0 1 0 6.8 0a3.4 3.4 0 1 0 -6.8 0M833.5 149.2a3.4 3.4 0 1 0 6.8 0a3.4 3.4 0 1 0 -6.8 0M895.2 154.4a3.4 3.4 0 1 0 6.8 0a3.4 3.4 0 1 0 -6.8 0M910.6 152.4a3.4 3.4 0 1 0 6.8 0a3.4 3.4 0 1 0 -6.8 0M912.1 138.1a3.4 3.4 0 1 0 6.8 0a3.4 3.4 0 1 0 -6.8 0M918.9 138.1a3.4 3.4 0 1 0 6.8 0a3.4 3.4 0 1 0 -6.8 0M932.4 138.1a3.4 3.4 0 1 0 6.8 0a3.4 3.4 0 1 0 -6.8 0M900.8 172a3.4 3.4 0 1 0 6.8 0a3.4 3.4 0 1 0 -6.8 0M871.4 186.3a3.4 3.4 0 1 0 6.8 0a3.4 3.4 0 1 0 -6.8 0M885 186.3a3.4 3.4 0 1 0 6.8 0a3.4 3.4 0 1 0 -6.8 0M844.3 194.6a3.4 3.4 0 1 0 6.8 0a3.4 3.4 0 1 0 -6.8 0M848.8 196.1a3.4 3.4 0 1 0 6.8 0a3.4 3.4 0 1 0 -6.8 0M823.2 209.7a3.4 3.4 0 1 0 6.8 0a3.4 3.4 0 1 0 -6.8 0M822.7 212.5a3.4 3.4 0 1 0 6.8 0a3.4 3.4 0 1 0 -6.8 0M843.5 225.5a3.4 3.4 0 1 0 6.8 0a3.4 3.4 0 1 0 -6.8 0M848.8 222.5a3.4 3.4 0 1 0 6.8 0a3.4 3.4 0 1 0 -6.8 0M845.8 242.8a3.4 3.4 0 1 0 6.8 0a3.4 3.4 0 1 0 -6.8 0M845.5 259.4a3.4 3.4 0 1 0 6.8 0a3.4 3.4 0 1 0 -6.8 0M866.9 268.5a3.4 3.4 0 1 0 6.8 0a3.4 3.4 0 1 0 -6.8 0M875.2 274.5a3.4 3.4 0 1 0 6.8 0a3.4 3.4 0 1 0 -6.8 0M879.7 299.4a3.4 3.4 0 1 0 6.8 0a3.4 3.4 0 1 0 -6.8 0M909.1 311.4a3.4 3.4 0 1 0 6.8 0a3.4 3.4 0 1 0 -6.8 0M923.4 312.2a3.4 3.4 0 1 0 6.8 0a3.4 3.4 0 1 0 -6.8 0M927.2 337a3.4 3.4 0 1 0 6.8 0a3.4 3.4 0 1 0 -6.8 0M864.5 201.2a3.4 3.4 0 1 0 6.8 0a3.4 3.4 0 1 0 -6.8 0M866.8 196.7a3.4 3.4 0 1 0 6.8 0a3.4 3.4 0 1 0 -6.8 0M869 221.9a3.4 3.4 0 1 0 6.8 0a3.4 3.4 0 1 0 -6.8 0M852.9 248.8a3.4 3.4 0 1 0 6.8 0a3.4 3.4 0 1 0 -6.8 0M856.4 258.3a3.4 3.4 0 1 0 6.8 0a3.4 3.4 0 1 0 -6.8 0M864.2 235.8a3.4 3.4 0 1 0 6.8 0a3.4 3.4 0 1 0 -6.8 0M863.3 252.3a3.4 3.4 0 1 0 6.8 0a3.4 3.4 0 1 0 -6.8 0"/>
<path fill="#cc1a3a" d="M1184.3 66.5a3.4 3.4 0 1 0 6.8 0a3.4 3.4 0 1 0 -6.8 0M1124.1 145a3.4 3.4 0 1 0 6.8 0a3.4 3.4 0 1 0 -6.8 0M1135.2 146.6a3.4 3.4 0 1 0 6.8 0a3.4 3.4 0 1 0 -6.8 0M1190.6 146.6a3.4 3.4 0 1 0 6.8 0a3.4 3.4 0 1 0 -6.8 0M1171 171.9a3.4 3.4 0 1 0 6.8 0a3.4 3.4 0 1 0 -6.8 0M1125.6 179.8a3.4 3.4 0 1 0 6.8 0a3.4 3.4 0 1 0 -6.8 0M1128.9 184.6a3.4 3.4 0 1 0 6.8 0a3.4 3.4 0 1 0 -6.8 0M1127.3 187.7a3.4 3.4 0 1 0 6.8 0a3.4 3.4 0 1 0 -6.8 0M1148.5 195a3.4 3.4 0 1 0 6.8 0a3.4 3.4 0 1 0 -6.8 0M1153.6 196.6a3.4 3.4 0 1 0 6.8 0a3.4 3.4 0 1 0 -6.8 0M1144.1 206.7a3.4 3.4 0 1 0 6.8 0a3.4 3.4 0 1 0 -6.8 0M1147.9 211.5a3.4 3.4 0 1 0 6.8 0a3.4 3.4 0 1 0 -6.8 0M1160.5 207.3a3.4 3.4 0 1 0 6.8 0a3.4 3.4 0 1 0 -6.8 0M1187.4 215.3a3.4 3.4 0 1 0 6.8 0a3.4 3.4 0 1 0 -6.8 0M1147.2 222.5a3.4 3.4 0 1 0 6.8 0a3.4 3.4 0 1 0 -6.8 0M1152.6 220a3.4 3.4 0 1 0 6.8 0a3.4 3.4 0 1 0 -6.8 0M1155.8 224.1a3.4 3.4 0 1 0 6.8 0a3.4 3.4 0 1 0 -6.8 0M1160.5 225.1a3.4 3.4 0 1 0 6.8 0a3.4 3.4 0 1 0 -6.8 0M1170 227.3a3.4 3.4 0 1 0 6.8 0a3.4 3.4 0 1 0 -6.8 0M1176.3 226.3a3.4 3.4 0 1 0 6.8 0a3.4 3.4 0 1 0 -6.8 0M1147.9 232.7a3.4 3.4 0 1 0 6.8 0a3.4 3.4 0 1 0 -6.8 0M1155.8 229.5a3.4 3.4 0 1 0 6.8 0a3.4 3.4 0 1 0 -6.8 0M1124.1 232.7a3.4 3.4 0 1 0 6.8 0a3.4 3.4 0 1 0 -6.8 0M1127.3 239.9a3.4 3.4 0 1 0 6.8 0a3.4 3.4 0 1 0 -6.8 0M1130.5 241.5a3.4 3.4 0 1 0 6.8 0a3.4 3.4 0 1 0 -6.8 0M1132.7 248.5a3.4 3.4 0 1 0 6.8 0a3.4 3.4 0 1 0 -6.8 0M1170 245.3a3.4 3.4 0 1 0 6.8 0a3.4 3.4 0 1 0 -6.8 0M1141.5 259.9a3.4 3.4 0 1 0 6.8 0a3.4 3.4 0 1 0 -6.8 0M1146.3 255.8a3.4 3.4 0 1 0 6.8 0a3.4 3.4 0 1 0 -6.8 0M1151 254.8a3.4 3.4 0 1 0 6.8 0a3.4 3.4 0 1 0 -6.8 0M1154.2 258.9a3.4 3.4 0 1 0 6.8 0a3.4 3.4 0 1 0 -6.8 0M1160.5 253.5a3.4 3.4 0 1 0 6.8 0a3.4 3.4 0 1 0 -6.8 0M1166.9 255.8a3.4 3.4 0 1 0 6.8 0a3.4 3.4 0 1 0 -6.8 0M1124.1 264.3a3.4 3.4 0 1 0 6.8 0a3.4 3.4 0 1 0 -6.8 0M1137.7 278.9a3.4 3.4 0 1 0 6.8 0a3.4 3.4 0 1 0 -6.8 0M1153.6 280.1a3.4 3.4 0 1 0 6.8 0a3.4 3.4 0 1 0 -6.8 0M1124.1 282.7a3.4 3.4 0 1 0 6.8 0a3.4 3.4 0 1 0 -6.8 0M1125.6 285.8a3.4 3.4 0 1 0 6.8 0a3.4 3.4 0 1 0 -6.8 0M1134.6 311.1a3.4 3.4 0 1 0 6.8 0a3.4 3.4 0 1 0 -6.8 0M1161.5 311.1a3.4 3.4 0 1 0 6.8 0a3.4 3.4 0 1 0 -6.8 0M1128.2 323.8a3.4 3.4 0 1 0 6.8 0a3.4 3.4 0 1 0 -6.8 0M1140.9 326.3a3.4 3.4 0 1 0 6.8 0a3.4 3.4 0 1 0 -6.8 0"/>
<path fill="#000" d="M936.4 31.46h3.4v3.6h-3.4zM936.4 44.09h3.4v3.6h-3.4zM936.4 56.72h3.4v3.6h-3.4zM936.4 69.35h3.4v3.6h-3.4zM936.4 81.98h3.4v3.6h-3.4zM936.4 94.61h3.4v3.6h-3.4zM936.4 107.24h3.4v3.6h-3.4zM936.4 119.87h3.4v3.6h-3.4zM936.4 132.5h3.4v3.6h-3.4zM936.4 145.13h3.4v3.6h-3.4zM936.4 157.76h3.4v3.6h-3.4zM936.4 170.39h3.4v3.6h-3.4zM936.4 183.02h3.4v3.6h-3.4zM936.4 195.65h3.4v3.6h-3.4zM936.4 208.28h3.4v3.6h-3.4zM936.4 220.91h3.4v3.6h-3.4zM936.4 233.54h3.4v3.6h-3.4zM936.4 246.17h3.4v3.6h-3.4zM936.4 258.8h3.4v3.6h-3.4zM936.4 271.43h3.4v3.6h-3.4zM936.4 284.06h3.4v3.6h-3.4zM936.4 296.69h3.4v3.6h-3.4zM936.4 309.32h3.4v3.6h-3.4zM936.4 321.95h3.4v3.6h-3.4zM936.4 334.58h3.4v3.6h-3.4zM936.4 347.21h3.4v3.6h-3.4zM936.4 359.84h3.4v3.6h-3.4zM936.4 372.47h3.4v3.6h-3.4zM936.4 385.1h3.4v3.6h-3.4zM936.4 397.73h3.4v3.6h-3.4zM936.4 410.36h3.4v3.6h-3.4zM936.4 422.99h3.4v3.6h-3.4z"/>
<path fill="#000" d="M1124.2 31.46h3.4v3.6h-3.4zM1124.2 44.09h3.4v3.6h-3.4zM1124.2 56.72h3.4v3.6h-3.4zM1124.2 69.35h3.4v3.6h-3.4zM1124.2 81.98h3.4v3.6h-3.4zM1124.2 94.61h3.4v3.6h-3.4zM1124.2 107.24h3.4v3.6h-3.4zM1124.2 119.87h3.4v3.6h-3.4zM1124.2 132.5h3.4v3.6h-3.4zM1124.2 145.13h3.4v3.6h-3.4zM1124.2 157.76h3.4v3.6h-3.4zM1124.2 170.39h3.4v3.6h-3.4zM1124.2 183.02h3.4v3.6h-3.4zM1124.2 195.65h3.4v3.6h-3.4zM1124.2 208.28h3.4v3.6h-3.4zM1124.2 220.91h3.4v3.6h-3.4zM1124.2 233.54h3.4v3.6h-3.4zM1124.2 246.17h3.4v3.6h-3.4zM1124.2 258.8h3.4v3.6h-3.4zM1124.2 271.43h3.4v3.6h-3.4zM1124.2 284.06h3.4v3.6h-3.4zM1124.2 296.69h3.4v3.6h-3.4zM1124.2 309.32h3.4v3.6h-3.4zM1124.2 321.95h3.4v3.6h-3.4zM1124.2 334.58h3.4v3.6h-3.4zM1124.2 347.21h3.4v3.6h-3.4zM1124.2 359.84h3.4v3.6h-3.4zM1124.2 372.47h3.4v3.6h-3.4zM1124.2 385.1h3.4v3.6h-3.4zM1124.2 397.73h3.4v3.6h-3.4zM1124.2 410.36h3.4v3.6h-3.4zM1124.2 422.99h3.4v3.6h-3.4z"/>
<path fill="#000" d="M807.92 337.56h3.6v3.4h-3.6zM820.55 337.56h3.6v3.4h-3.6zM833.18 337.56h3.6v3.4h-3.6zM845.81 337.56h3.6v3.4h-3.6zM858.44 337.56h3.6v3.4h-3.6zM871.07 337.56h3.6v3.4h-3.6zM883.7 337.56h3.6v3.4h-3.6zM896.33 337.56h3.6v3.4h-3.6zM908.96 337.56h3.6v3.4h-3.6zM921.59 337.56h3.6v3.4h-3.6zM934.22 337.56h3.6v3.4h-3.6zM946.85 337.56h3.6v3.4h-3.6zM959.48 337.56h3.6v3.4h-3.6zM972.11 337.56h3.6v3.4h-3.6zM984.74 337.56h3.6v3.4h-3.6zM997.37 337.56h3.6v3.4h-3.6zM1010 337.56h3.6v3.4h-3.6zM1022.63 337.56h3.6v3.4h-3.6zM1035.26 337.56h3.6v3.4h-3.6zM1047.89 337.56h3.6v3.4h-3.6zM1060.52 337.56h3.6v3.4h-3.6zM1073.15 337.56h3.6v3.4h-3.6zM1085.78 337.56h3.6v3.4h-3.6zM1098.41 337.56h3.6v3.4h-3.6zM1111.04 337.56h3.6v3.4h-3.6zM1123.67 337.56h3.6v3.4h-3.6zM1136.3 337.56h3.6v3.4h-3.6zM1148.93 337.56h3.6v3.4h-3.6zM1161.56 337.56h3.6v3.4h-3.6zM1174.19 337.56h3.6v3.4h-3.6zM1186.82 337.56h3.6v3.4h-3.6zM1199.45 337.56h3.6v3.4h-3.6z"/>
<rect x="808.3" y="23.8" width="403.5" height="402.1" fill="none" stroke="#333333" stroke-width="2.2"/>
<line x1="844.2" y1="425.9" x2="844.2" y2="429.7" stroke="#333333" stroke-width="2.4"/>
<line x1="938.1" y1="425.9" x2="938.1" y2="429.7" stroke="#333333" stroke-width="2.4"/>
<line x1="1032" y1="425.9" x2="1032" y2="429.7" stroke="#333333" stroke-width="2.4"/>
<line x1="1125.9" y1="425.9" x2="1125.9" y2="429.7" stroke="#333333" stroke-width="2.4"/>
<line x1="804.5" y1="407.6" x2="808.3" y2="407.6" stroke="#333333" stroke-width="2.4"/>
<line x1="804.5" y1="302" x2="808.3" y2="302" stroke="#333333" stroke-width="2.4"/>
<line x1="804.5" y1="196.4" x2="808.3" y2="196.4" stroke="#333333" stroke-width="2.4"/>
<line x1="804.5" y1="90.8" x2="808.3" y2="90.8" stroke="#333333" stroke-width="2.4"/>
<text x="786.68" y="96.4" font-size="21" font-weight="bold" textLength="11.68" lengthAdjust="spacingAndGlyphs" fill="#000">6</text>
<text x="786.05" y="202" font-size="21" font-weight="bold" textLength="11.68" lengthAdjust="spacingAndGlyphs" fill="#000">4</text>
<text x="786.73" y="307.6" font-size="21" font-weight="bold" textLength="11.68" lengthAdjust="spacingAndGlyphs" fill="#000">2</text>
<text x="786.78" y="413.2" font-size="21" font-weight="bold" textLength="11.68" lengthAdjust="spacingAndGlyphs" fill="#000">0</text>
<text x="836.42" y="451.1" font-size="21" font-weight="bold" textLength="23.56" lengthAdjust="spacingAndGlyphs" fill="#000">−2</text>
<text x="930.51" y="451.1" font-size="21" font-weight="bold" textLength="21.31" lengthAdjust="spacingAndGlyphs" fill="#000">−1</text>
<text x="1028.17" y="451.1" font-size="21" font-weight="bold" textLength="11.47" lengthAdjust="spacingAndGlyphs" fill="#000">0</text>
<text x="1121.74" y="451.1" font-size="21" font-weight="bold" textLength="9.45" lengthAdjust="spacingAndGlyphs" fill="#000">1</text>
<text x="923.23" y="480.7" font-size="26" font-weight="bold" textLength="197.91" lengthAdjust="spacingAndGlyphs" fill="#000">log2FoldChange</text>
<text transform="translate(763,280.83) rotate(-90)" x="0" y="0" font-size="25" font-weight="bold" textLength="156.96" lengthAdjust="spacingAndGlyphs" fill="#000">−log10(padj)</text>
<text x="1084.43" y="48.8" font-size="22" font-weight="bold" textLength="126.21" lengthAdjust="spacingAndGlyphs" fill="#000">DEG − COPD</text>
<circle cx="1247.7" cy="193.8" r="5.9" fill="#cc1a3a"/>
<circle cx="1247.7" cy="216.8" r="5.9" fill="#1f2b5e"/>
<circle cx="1247.7" cy="239.4" r="5.9" fill="#808080"/>
<text x="1268.44" y="201.3" font-size="22.5" font-weight="bold" textLength="27.9" lengthAdjust="spacingAndGlyphs" fill="#000">Up</text>
<text x="1268.32" y="224.3" font-size="22.5" font-weight="bold" textLength="55.75" lengthAdjust="spacingAndGlyphs" fill="#000">Down</text>
<text x="1268.88" y="246.3" font-size="22.5" font-weight="bold" textLength="44.55" lengthAdjust="spacingAndGlyphs" fill="#000">NOT</text>
<text x="737.58" y="35" font-size="40" font-weight="bold" textLength="28.06" lengthAdjust="spacingAndGlyphs" fill="#000">B</text>
<rect x="818.3" y="503.6" width="394" height="401" fill="#fff"/>
<line x1="861.8" y1="503.6" x2="861.8" y2="904.6" stroke="#e9e9e9" stroke-width="1.8"/>
<line x1="964.8" y1="503.6" x2="964.8" y2="904.6" stroke="#e9e9e9" stroke-width="1.8"/>
<line x1="1067.8" y1="503.6" x2="1067.8" y2="904.6" stroke="#e9e9e9" stroke-width="1.8"/>
<line x1="1170.8" y1="503.6" x2="1170.8" y2="904.6" stroke="#e9e9e9" stroke-width="1.8"/>
<line x1="818.3" y1="842.27" x2="1212.3" y2="842.27" stroke="#e9e9e9" stroke-width="1.8"/>
<line x1="818.3" y1="751.62" x2="1212.3" y2="751.62" stroke="#e9e9e9" stroke-width="1.8"/>
<line x1="818.3" y1="660.98" x2="1212.3" y2="660.98" stroke="#e9e9e9" stroke-width="1.8"/>
<line x1="818.3" y1="570.33" x2="1212.3" y2="570.33" stroke="#e9e9e9" stroke-width="1.8"/>
<line x1="913.3" y1="503.6" x2="913.3" y2="904.6" stroke="#e9e9e9" stroke-width="3.2"/>
<line x1="1016.3" y1="503.6" x2="1016.3" y2="904.6" stroke="#e9e9e9" stroke-width="3.2"/>
<line x1="1119.3" y1="503.6" x2="1119.3" y2="904.6" stroke="#e9e9e9" stroke-width="3.2"/>
<line x1="818.3" y1="887.6" x2="1212.3" y2="887.6" stroke="#e9e9e9" stroke-width="3.2"/>
<line x1="818.3" y1="796.95" x2="1212.3" y2="796.95" stroke="#e9e9e9" stroke-width="3.2"/>
<line x1="818.3" y1="706.3" x2="1212.3" y2="706.3" stroke="#e9e9e9" stroke-width="3.2"/>
<line x1="818.3" y1="615.65" x2="1212.3" y2="615.65" stroke="#e9e9e9" stroke-width="3.2"/>
<line x1="818.3" y1="525" x2="1212.3" y2="525" stroke="#e9e9e9" stroke-width="3.2"/>
<polygon fill="#808080" points="975.2,860.55 980.37,872.56 989.65,879.05 999.24,882.89 1017.01,886.71 1031.07,881.18 1023.44,873.56 1023.28,873.37 1015.28,863.37 1015.15,863.19 1015.04,862.99 1014.94,862.78 1014.87,862.56 1014.83,862.34 1014.8,862.11 1014.3,852.15 1011.71,823.23 1008.83,799.34 1003.24,770.42 1003.23,770.35 1000.33,752.35 1000.3,752.13 998.81,727.27 994.84,706.41 994.81,706.24 994.8,706.06 994.31,687.49 986.59,669.88 986.51,669.68 986.45,669.46 986.41,669.24 986.4,669.02 986.41,668.8 987.74,654.52 985,650 975.2,650 975.2,860.55"/>
<path fill="#808080" d="M983.49 802.02a3.4 3.4 0 1 0 6.8 0a3.4 3.4 0 1 0 -6.8 0M981.45 776.71a3.4 3.4 0 1 0 6.8 0a3.4 3.4 0 1 0 -6.8 0M1003.26 834.91a3.4 3.4 0 1 0 6.8 0a3.4 3.4 0 1 0 -6.8 0M1020.57 882.96a3.4 3.4 0 1 0 6.8 0a3.4 3.4 0 1 0 -6.8 0M973.13 860.09a3.4 3.4 0 1 0 6.8 0a3.4 3.4 0 1 0 -6.8 0M982.05 795.38a3.4 3.4 0 1 0 6.8 0a3.4 3.4 0 1 0 -6.8 0M982.45 720.86a3.4 3.4 0 1 0 6.8 0a3.4 3.4 0 1 0 -6.8 0M1016.7 870.48a3.4 3.4 0 1 0 6.8 0a3.4 3.4 0 1 0 -6.8 0M971.91 833.12a3.4 3.4 0 1 0 6.8 0a3.4 3.4 0 1 0 -6.8 0M979.69 727.73a3.4 3.4 0 1 0 6.8 0a3.4 3.4 0 1 0 -6.8 0M980.99 759.19a3.4 3.4 0 1 0 6.8 0a3.4 3.4 0 1 0 -6.8 0M980.98 706.21a3.4 3.4 0 1 0 6.8 0a3.4 3.4 0 1 0 -6.8 0M980.22 693.69a3.4 3.4 0 1 0 6.8 0a3.4 3.4 0 1 0 -6.8 0M977.07 742.96a3.4 3.4 0 1 0 6.8 0a3.4 3.4 0 1 0 -6.8 0M981.44 740.72a3.4 3.4 0 1 0 6.8 0a3.4 3.4 0 1 0 -6.8 0M975.29 714.54a3.4 3.4 0 1 0 6.8 0a3.4 3.4 0 1 0 -6.8 0M973.77 823.21a3.4 3.4 0 1 0 6.8 0a3.4 3.4 0 1 0 -6.8 0M978.23 756.86a3.4 3.4 0 1 0 6.8 0a3.4 3.4 0 1 0 -6.8 0M979.05 809.34a3.4 3.4 0 1 0 6.8 0a3.4 3.4 0 1 0 -6.8 0M976.13 689.59a3.4 3.4 0 1 0 6.8 0a3.4 3.4 0 1 0 -6.8 0M980.71 859.1a3.4 3.4 0 1 0 6.8 0a3.4 3.4 0 1 0 -6.8 0M976 829.05a3.4 3.4 0 1 0 6.8 0a3.4 3.4 0 1 0 -6.8 0M995.69 744.28a3.4 3.4 0 1 0 6.8 0a3.4 3.4 0 1 0 -6.8 0M991.44 801.99a3.4 3.4 0 1 0 6.8 0a3.4 3.4 0 1 0 -6.8 0M999.03 815.04a3.4 3.4 0 1 0 6.8 0a3.4 3.4 0 1 0 -6.8 0M996.38 848.67a3.4 3.4 0 1 0 6.8 0a3.4 3.4 0 1 0 -6.8 0M994.3 747.12a3.4 3.4 0 1 0 6.8 0a3.4 3.4 0 1 0 -6.8 0M987.17 718.48a3.4 3.4 0 1 0 6.8 0a3.4 3.4 0 1 0 -6.8 0M974.71 863.49a3.4 3.4 0 1 0 6.8 0a3.4 3.4 0 1 0 -6.8 0M1010.67 870.04a3.4 3.4 0 1 0 6.8 0a3.4 3.4 0 1 0 -6.8 0M996.84 776.56a3.4 3.4 0 1 0 6.8 0a3.4 3.4 0 1 0 -6.8 0M990.2 684.98a3.4 3.4 0 1 0 6.8 0a3.4 3.4 0 1 0 -6.8 0M1004.88 836.66a3.4 3.4 0 1 0 6.8 0a3.4 3.4 0 1 0 -6.8 0M992.85 721.01a3.4 3.4 0 1 0 6.8 0a3.4 3.4 0 1 0 -6.8 0M975.67 805.75a3.4 3.4 0 1 0 6.8 0a3.4 3.4 0 1 0 -6.8 0M982.2 771.51a3.4 3.4 0 1 0 6.8 0a3.4 3.4 0 1 0 -6.8 0M985.54 723.45a3.4 3.4 0 1 0 6.8 0a3.4 3.4 0 1 0 -6.8 0M997.11 870.16a3.4 3.4 0 1 0 6.8 0a3.4 3.4 0 1 0 -6.8 0M985.03 772.61a3.4 3.4 0 1 0 6.8 0a3.4 3.4 0 1 0 -6.8 0M982.02 699.42a3.4 3.4 0 1 0 6.8 0a3.4 3.4 0 1 0 -6.8 0M971.68 793.37a3.4 3.4 0 1 0 6.8 0a3.4 3.4 0 1 0 -6.8 0M1006.62 864.73a3.4 3.4 0 1 0 6.8 0a3.4 3.4 0 1 0 -6.8 0M972.77 717.91a3.4 3.4 0 1 0 6.8 0a3.4 3.4 0 1 0 -6.8 0M978.1 866.29a3.4 3.4 0 1 0 6.8 0a3.4 3.4 0 1 0 -6.8 0M998.34 810.83a3.4 3.4 0 1 0 6.8 0a3.4 3.4 0 1 0 -6.8 0M974.75 680.31a3.4 3.4 0 1 0 6.8 0a3.4 3.4 0 1 0 -6.8 0M971.94 800.37a3.4 3.4 0 1 0 6.8 0a3.4 3.4 0 1 0 -6.8 0M996.86 866.56a3.4 3.4 0 1 0 6.8 0a3.4 3.4 0 1 0 -6.8 0M1010.12 871.07a3.4 3.4 0 1 0 6.8 0a3.4 3.4 0 1 0 -6.8 0M981.35 786.53a3.4 3.4 0 1 0 6.8 0a3.4 3.4 0 1 0 -6.8 0M978.62 792.65a3.4 3.4 0 1 0 6.8 0a3.4 3.4 0 1 0 -6.8 0M1018.88 872.9a3.4 3.4 0 1 0 6.8 0a3.4 3.4 0 1 0 -6.8 0M989.74 731.01a3.4 3.4 0 1 0 6.8 0a3.4 3.4 0 1 0 -6.8 0M986.51 708.9a3.4 3.4 0 1 0 6.8 0a3.4 3.4 0 1 0 -6.8 0M981.75 667.09a3.4 3.4 0 1 0 6.8 0a3.4 3.4 0 1 0 -6.8 0M977.53 803.32a3.4 3.4 0 1 0 6.8 0a3.4 3.4 0 1 0 -6.8 0M979.14 646.68a3.4 3.4 0 1 0 6.8 0a3.4 3.4 0 1 0 -6.8 0M981.47 874.26a3.4 3.4 0 1 0 6.8 0a3.4 3.4 0 1 0 -6.8 0M971.46 667.89a3.4 3.4 0 1 0 6.8 0a3.4 3.4 0 1 0 -6.8 0M995.41 797.72a3.4 3.4 0 1 0 6.8 0a3.4 3.4 0 1 0 -6.8 0M995.37 816.99a3.4 3.4 0 1 0 6.8 0a3.4 3.4 0 1 0 -6.8 0M984.38 779.23a3.4 3.4 0 1 0 6.8 0a3.4 3.4 0 1 0 -6.8 0M1014.37 879.97a3.4 3.4 0 1 0 6.8 0a3.4 3.4 0 1 0 -6.8 0M998.49 799.65a3.4 3.4 0 1 0 6.8 0a3.4 3.4 0 1 0 -6.8 0M995.39 868.71a3.4 3.4 0 1 0 6.8 0a3.4 3.4 0 1 0 -6.8 0M983.19 733.11a3.4 3.4 0 1 0 6.8 0a3.4 3.4 0 1 0 -6.8 0M1006.9 875.08a3.4 3.4 0 1 0 6.8 0a3.4 3.4 0 1 0 -6.8 0M992.41 711.48a3.4 3.4 0 1 0 6.8 0a3.4 3.4 0 1 0 -6.8 0M1006.97 870.07a3.4 3.4 0 1 0 6.8 0a3.4 3.4 0 1 0 -6.8 0M981.55 876.04a3.4 3.4 0 1 0 6.8 0a3.4 3.4 0 1 0 -6.8 0M984.66 654.86a3.4 3.4 0 1 0 6.8 0a3.4 3.4 0 1 0 -6.8 0M1009.39 841.42a3.4 3.4 0 1 0 6.8 0a3.4 3.4 0 1 0 -6.8 0M986.28 689.39a3.4 3.4 0 1 0 6.8 0a3.4 3.4 0 1 0 -6.8 0M986.14 741.13a3.4 3.4 0 1 0 6.8 0a3.4 3.4 0 1 0 -6.8 0M977.9 675.98a3.4 3.4 0 1 0 6.8 0a3.4 3.4 0 1 0 -6.8 0M974.17 805.97a3.4 3.4 0 1 0 6.8 0a3.4 3.4 0 1 0 -6.8 0M987.45 850.89a3.4 3.4 0 1 0 6.8 0a3.4 3.4 0 1 0 -6.8 0M974.03 821.37a3.4 3.4 0 1 0 6.8 0a3.4 3.4 0 1 0 -6.8 0M989.52 823.38a3.4 3.4 0 1 0 6.8 0a3.4 3.4 0 1 0 -6.8 0M1024.68 880.91a3.4 3.4 0 1 0 6.8 0a3.4 3.4 0 1 0 -6.8 0M978.33 761.43a3.4 3.4 0 1 0 6.8 0a3.4 3.4 0 1 0 -6.8 0M995.57 808.59a3.4 3.4 0 1 0 6.8 0a3.4 3.4 0 1 0 -6.8 0M982.68 825.72a3.4 3.4 0 1 0 6.8 0a3.4 3.4 0 1 0 -6.8 0M1004.05 830.76a3.4 3.4 0 1 0 6.8 0a3.4 3.4 0 1 0 -6.8 0M982.31 751.15a3.4 3.4 0 1 0 6.8 0a3.4 3.4 0 1 0 -6.8 0M977.9 684.08a3.4 3.4 0 1 0 6.8 0a3.4 3.4 0 1 0 -6.8 0M991.29 709.08a3.4 3.4 0 1 0 6.8 0a3.4 3.4 0 1 0 -6.8 0M987.03 801.25a3.4 3.4 0 1 0 6.8 0a3.4 3.4 0 1 0 -6.8 0M996.03 866.99a3.4 3.4 0 1 0 6.8 0a3.4 3.4 0 1 0 -6.8 0M997.71 800.97a3.4 3.4 0 1 0 6.8 0a3.4 3.4 0 1 0 -6.8 0M979.69 687.93a3.4 3.4 0 1 0 6.8 0a3.4 3.4 0 1 0 -6.8 0M992.64 789.12a3.4 3.4 0 1 0 6.8 0a3.4 3.4 0 1 0 -6.8 0M972.72 683.39a3.4 3.4 0 1 0 6.8 0a3.4 3.4 0 1 0 -6.8 0M974.81 865.79a3.4 3.4 0 1 0 6.8 0a3.4 3.4 0 1 0 -6.8 0M979.77 750.93a3.4 3.4 0 1 0 6.8 0a3.4 3.4 0 1 0 -6.8 0M993.58 839.46a3.4 3.4 0 1 0 6.8 0a3.4 3.4 0 1 0 -6.8 0M997.14 847.88a3.4 3.4 0 1 0 6.8 0a3.4 3.4 0 1 0 -6.8 0M983.68 724.65a3.4 3.4 0 1 0 6.8 0a3.4 3.4 0 1 0 -6.8 0M971.37 657.18a3.4 3.4 0 1 0 6.8 0a3.4 3.4 0 1 0 -6.8 0M991.25 872.19a3.4 3.4 0 1 0 6.8 0a3.4 3.4 0 1 0 -6.8 0M974.2 747.98a3.4 3.4 0 1 0 6.8 0a3.4 3.4 0 1 0 -6.8 0M992.12 824.32a3.4 3.4 0 1 0 6.8 0a3.4 3.4 0 1 0 -6.8 0M1010.63 885.88a3.4 3.4 0 1 0 6.8 0a3.4 3.4 0 1 0 -6.8 0M983.07 766.52a3.4 3.4 0 1 0 6.8 0a3.4 3.4 0 1 0 -6.8 0M986.65 865.05a3.4 3.4 0 1 0 6.8 0a3.4 3.4 0 1 0 -6.8 0M995.74 730.41a3.4 3.4 0 1 0 6.8 0a3.4 3.4 0 1 0 -6.8 0M991.67 741.97a3.4 3.4 0 1 0 6.8 0a3.4 3.4 0 1 0 -6.8 0M1016.19 873.24a3.4 3.4 0 1 0 6.8 0a3.4 3.4 0 1 0 -6.8 0M997.82 827.2a3.4 3.4 0 1 0 6.8 0a3.4 3.4 0 1 0 -6.8 0M975.61 728.92a3.4 3.4 0 1 0 6.8 0a3.4 3.4 0 1 0 -6.8 0M979.21 786.28a3.4 3.4 0 1 0 6.8 0a3.4 3.4 0 1 0 -6.8 0M971.36 724.2a3.4 3.4 0 1 0 6.8 0a3.4 3.4 0 1 0 -6.8 0M995.71 759.54a3.4 3.4 0 1 0 6.8 0a3.4 3.4 0 1 0 -6.8 0M976.16 713.9a3.4 3.4 0 1 0 6.8 0a3.4 3.4 0 1 0 -6.8 0M986.27 837.66a3.4 3.4 0 1 0 6.8 0a3.4 3.4 0 1 0 -6.8 0M972.01 770.09a3.4 3.4 0 1 0 6.8 0a3.4 3.4 0 1 0 -6.8 0M985.8 680.69a3.4 3.4 0 1 0 6.8 0a3.4 3.4 0 1 0 -6.8 0M977.53 718.46a3.4 3.4 0 1 0 6.8 0a3.4 3.4 0 1 0 -6.8 0M1006.99 830.04a3.4 3.4 0 1 0 6.8 0a3.4 3.4 0 1 0 -6.8 0M987.33 696.02a3.4 3.4 0 1 0 6.8 0a3.4 3.4 0 1 0 -6.8 0M997.76 762.96a3.4 3.4 0 1 0 6.8 0a3.4 3.4 0 1 0 -6.8 0M978.15 735.39a3.4 3.4 0 1 0 6.8 0a3.4 3.4 0 1 0 -6.8 0M977.85 806.27a3.4 3.4 0 1 0 6.8 0a3.4 3.4 0 1 0 -6.8 0M974.34 741.16a3.4 3.4 0 1 0 6.8 0a3.4 3.4 0 1 0 -6.8 0M972.21 809.5a3.4 3.4 0 1 0 6.8 0a3.4 3.4 0 1 0 -6.8 0M979.53 869.31a3.4 3.4 0 1 0 6.8 0a3.4 3.4 0 1 0 -6.8 0M983.65 801.03a3.4 3.4 0 1 0 6.8 0a3.4 3.4 0 1 0 -6.8 0M984.78 705.07a3.4 3.4 0 1 0 6.8 0a3.4 3.4 0 1 0 -6.8 0M978.02 818.38a3.4 3.4 0 1 0 6.8 0a3.4 3.4 0 1 0 -6.8 0M991.65 696.28a3.4 3.4 0 1 0 6.8 0a3.4 3.4 0 1 0 -6.8 0M987.19 702.62a3.4 3.4 0 1 0 6.8 0a3.4 3.4 0 1 0 -6.8 0M998.23 846.91a3.4 3.4 0 1 0 6.8 0a3.4 3.4 0 1 0 -6.8 0M991.39 790.73a3.4 3.4 0 1 0 6.8 0a3.4 3.4 0 1 0 -6.8 0M1000.62 874.43a3.4 3.4 0 1 0 6.8 0a3.4 3.4 0 1 0 -6.8 0M1005.51 870.32a3.4 3.4 0 1 0 6.8 0a3.4 3.4 0 1 0 -6.8 0M983.15 842.86a3.4 3.4 0 1 0 6.8 0a3.4 3.4 0 1 0 -6.8 0M977.77 712.98a3.4 3.4 0 1 0 6.8 0a3.4 3.4 0 1 0 -6.8 0M984.02 874.03a3.4 3.4 0 1 0 6.8 0a3.4 3.4 0 1 0 -6.8 0M978.81 777.96a3.4 3.4 0 1 0 6.8 0a3.4 3.4 0 1 0 -6.8 0M990.05 719.28a3.4 3.4 0 1 0 6.8 0a3.4 3.4 0 1 0 -6.8 0M974.38 761.6a3.4 3.4 0 1 0 6.8 0a3.4 3.4 0 1 0 -6.8 0M991.17 798.2a3.4 3.4 0 1 0 6.8 0a3.4 3.4 0 1 0 -6.8 0M994.63 753.43a3.4 3.4 0 1 0 6.8 0a3.4 3.4 0 1 0 -6.8 0M985.41 678.2a3.4 3.4 0 1 0 6.8 0a3.4 3.4 0 1 0 -6.8 0M977.11 797.41a3.4 3.4 0 1 0 6.8 0a3.4 3.4 0 1 0 -6.8 0M1023.69 882.93a3.4 3.4 0 1 0 6.8 0a3.4 3.4 0 1 0 -6.8 0M986.53 691.97a3.4 3.4 0 1 0 6.8 0a3.4 3.4 0 1 0 -6.8 0M976.15 667.38a3.4 3.4 0 1 0 6.8 0a3.4 3.4 0 1 0 -6.8 0M996.71 764.77a3.4 3.4 0 1 0 6.8 0a3.4 3.4 0 1 0 -6.8 0M984.88 866.76a3.4 3.4 0 1 0 6.8 0a3.4 3.4 0 1 0 -6.8 0M1001.05 775.43a3.4 3.4 0 1 0 6.8 0a3.4 3.4 0 1 0 -6.8 0M988.43 693.8a3.4 3.4 0 1 0 6.8 0a3.4 3.4 0 1 0 -6.8 0M993.58 741.08a3.4 3.4 0 1 0 6.8 0a3.4 3.4 0 1 0 -6.8 0M989.48 815.86a3.4 3.4 0 1 0 6.8 0a3.4 3.4 0 1 0 -6.8 0M999.55 837.2a3.4 3.4 0 1 0 6.8 0a3.4 3.4 0 1 0 -6.8 0M991.47 847.1a3.4 3.4 0 1 0 6.8 0a3.4 3.4 0 1 0 -6.8 0M984.12 777a3.4 3.4 0 1 0 6.8 0a3.4 3.4 0 1 0 -6.8 0M988.23 866.65a3.4 3.4 0 1 0 6.8 0a3.4 3.4 0 1 0 -6.8 0M995.28 771.58a3.4 3.4 0 1 0 6.8 0a3.4 3.4 0 1 0 -6.8 0M984.15 821.26a3.4 3.4 0 1 0 6.8 0a3.4 3.4 0 1 0 -6.8 0M979.07 819.2a3.4 3.4 0 1 0 6.8 0a3.4 3.4 0 1 0 -6.8 0M995.37 839.53a3.4 3.4 0 1 0 6.8 0a3.4 3.4 0 1 0 -6.8 0M995.69 777.78a3.4 3.4 0 1 0 6.8 0a3.4 3.4 0 1 0 -6.8 0M980.63 669.14a3.4 3.4 0 1 0 6.8 0a3.4 3.4 0 1 0 -6.8 0M986.94 730.69a3.4 3.4 0 1 0 6.8 0a3.4 3.4 0 1 0 -6.8 0M986.47 693.5a3.4 3.4 0 1 0 6.8 0a3.4 3.4 0 1 0 -6.8 0M987.42 819.5a3.4 3.4 0 1 0 6.8 0a3.4 3.4 0 1 0 -6.8 0M978.26 765.67a3.4 3.4 0 1 0 6.8 0a3.4 3.4 0 1 0 -6.8 0M975.39 856.38a3.4 3.4 0 1 0 6.8 0a3.4 3.4 0 1 0 -6.8 0M973.62 790.96a3.4 3.4 0 1 0 6.8 0a3.4 3.4 0 1 0 -6.8 0"/>
<polygon fill="#808080" points="1017.37,886.6 1035.85,880 1045.36,874.3 1053.36,864.99 1056.8,848.77 1056.8,700 1048.77,700 1045.06,709.78 1045,709.91 1040.04,720.83 1036.54,730.54 1033.68,749.32 1032.28,759.27 1029.39,787.23 1029.36,787.4 1029.33,787.57 1022.68,812.38 1018.69,861.18 1018.67,861.38 1018.62,861.57 1018.56,861.76 1018.49,861.94 1018.39,862.12 1011.89,873.12 1011.79,873.29 1011.66,873.44 1011.52,873.59 1011.37,873.72 1004.01,879.61 1017.37,886.6"/>
<path fill="#808080" d="M1031.43 807.38a3.4 3.4 0 1 0 6.8 0a3.4 3.4 0 1 0 -6.8 0M1024.79 830.48a3.4 3.4 0 1 0 6.8 0a3.4 3.4 0 1 0 -6.8 0M1032.85 745.36a3.4 3.4 0 1 0 6.8 0a3.4 3.4 0 1 0 -6.8 0M1052.25 703.63a3.4 3.4 0 1 0 6.8 0a3.4 3.4 0 1 0 -6.8 0M1027.26 838.37a3.4 3.4 0 1 0 6.8 0a3.4 3.4 0 1 0 -6.8 0M1026.11 822.38a3.4 3.4 0 1 0 6.8 0a3.4 3.4 0 1 0 -6.8 0M1053.95 841.14a3.4 3.4 0 1 0 6.8 0a3.4 3.4 0 1 0 -6.8 0M1029.42 828.92a3.4 3.4 0 1 0 6.8 0a3.4 3.4 0 1 0 -6.8 0M1052.95 851.67a3.4 3.4 0 1 0 6.8 0a3.4 3.4 0 1 0 -6.8 0M1042.04 796.05a3.4 3.4 0 1 0 6.8 0a3.4 3.4 0 1 0 -6.8 0M1038.28 857.21a3.4 3.4 0 1 0 6.8 0a3.4 3.4 0 1 0 -6.8 0M1052.06 727.01a3.4 3.4 0 1 0 6.8 0a3.4 3.4 0 1 0 -6.8 0M1043.84 722.44a3.4 3.4 0 1 0 6.8 0a3.4 3.4 0 1 0 -6.8 0M1038.09 857.35a3.4 3.4 0 1 0 6.8 0a3.4 3.4 0 1 0 -6.8 0M1053.42 787.12a3.4 3.4 0 1 0 6.8 0a3.4 3.4 0 1 0 -6.8 0M1045.87 703.01a3.4 3.4 0 1 0 6.8 0a3.4 3.4 0 1 0 -6.8 0M1036.93 855.59a3.4 3.4 0 1 0 6.8 0a3.4 3.4 0 1 0 -6.8 0M1019.03 850.35a3.4 3.4 0 1 0 6.8 0a3.4 3.4 0 1 0 -6.8 0M1041.09 809.83a3.4 3.4 0 1 0 6.8 0a3.4 3.4 0 1 0 -6.8 0M1031.22 809.25a3.4 3.4 0 1 0 6.8 0a3.4 3.4 0 1 0 -6.8 0M1038.21 840.17a3.4 3.4 0 1 0 6.8 0a3.4 3.4 0 1 0 -6.8 0M1031.33 876.03a3.4 3.4 0 1 0 6.8 0a3.4 3.4 0 1 0 -6.8 0M1032.52 818.29a3.4 3.4 0 1 0 6.8 0a3.4 3.4 0 1 0 -6.8 0M1053.34 820a3.4 3.4 0 1 0 6.8 0a3.4 3.4 0 1 0 -6.8 0M1031.89 834.56a3.4 3.4 0 1 0 6.8 0a3.4 3.4 0 1 0 -6.8 0M1049.99 699.31a3.4 3.4 0 1 0 6.8 0a3.4 3.4 0 1 0 -6.8 0M1026.92 823.16a3.4 3.4 0 1 0 6.8 0a3.4 3.4 0 1 0 -6.8 0M1039.29 756.78a3.4 3.4 0 1 0 6.8 0a3.4 3.4 0 1 0 -6.8 0M1037.19 848.58a3.4 3.4 0 1 0 6.8 0a3.4 3.4 0 1 0 -6.8 0M1030.91 815.4a3.4 3.4 0 1 0 6.8 0a3.4 3.4 0 1 0 -6.8 0M1046.71 797.66a3.4 3.4 0 1 0 6.8 0a3.4 3.4 0 1 0 -6.8 0M1015.67 879.53a3.4 3.4 0 1 0 6.8 0a3.4 3.4 0 1 0 -6.8 0M1037.35 859.09a3.4 3.4 0 1 0 6.8 0a3.4 3.4 0 1 0 -6.8 0M1045.95 833.01a3.4 3.4 0 1 0 6.8 0a3.4 3.4 0 1 0 -6.8 0M1046.59 787.29a3.4 3.4 0 1 0 6.8 0a3.4 3.4 0 1 0 -6.8 0M1033.95 797.19a3.4 3.4 0 1 0 6.8 0a3.4 3.4 0 1 0 -6.8 0M1039.46 732.74a3.4 3.4 0 1 0 6.8 0a3.4 3.4 0 1 0 -6.8 0M1053.21 728.79a3.4 3.4 0 1 0 6.8 0a3.4 3.4 0 1 0 -6.8 0M1038.08 738.72a3.4 3.4 0 1 0 6.8 0a3.4 3.4 0 1 0 -6.8 0M1053.11 711.51a3.4 3.4 0 1 0 6.8 0a3.4 3.4 0 1 0 -6.8 0M1039.82 729.09a3.4 3.4 0 1 0 6.8 0a3.4 3.4 0 1 0 -6.8 0M1028.87 790.39a3.4 3.4 0 1 0 6.8 0a3.4 3.4 0 1 0 -6.8 0M1034.48 820.33a3.4 3.4 0 1 0 6.8 0a3.4 3.4 0 1 0 -6.8 0M1043.52 828.13a3.4 3.4 0 1 0 6.8 0a3.4 3.4 0 1 0 -6.8 0M1040.58 738.14a3.4 3.4 0 1 0 6.8 0a3.4 3.4 0 1 0 -6.8 0M1043.85 708.53a3.4 3.4 0 1 0 6.8 0a3.4 3.4 0 1 0 -6.8 0M1051.46 792.13a3.4 3.4 0 1 0 6.8 0a3.4 3.4 0 1 0 -6.8 0M1028.02 791.11a3.4 3.4 0 1 0 6.8 0a3.4 3.4 0 1 0 -6.8 0M1033 851.7a3.4 3.4 0 1 0 6.8 0a3.4 3.4 0 1 0 -6.8 0M1046.11 791.05a3.4 3.4 0 1 0 6.8 0a3.4 3.4 0 1 0 -6.8 0M1053.3 837.02a3.4 3.4 0 1 0 6.8 0a3.4 3.4 0 1 0 -6.8 0M1037.53 826.33a3.4 3.4 0 1 0 6.8 0a3.4 3.4 0 1 0 -6.8 0M1021.71 845.35a3.4 3.4 0 1 0 6.8 0a3.4 3.4 0 1 0 -6.8 0M1034.65 844.91a3.4 3.4 0 1 0 6.8 0a3.4 3.4 0 1 0 -6.8 0M1047.4 708.24a3.4 3.4 0 1 0 6.8 0a3.4 3.4 0 1 0 -6.8 0M1045.28 715.17a3.4 3.4 0 1 0 6.8 0a3.4 3.4 0 1 0 -6.8 0M1045.8 848.33a3.4 3.4 0 1 0 6.8 0a3.4 3.4 0 1 0 -6.8 0M1041.95 786.48a3.4 3.4 0 1 0 6.8 0a3.4 3.4 0 1 0 -6.8 0M1047.73 846.67a3.4 3.4 0 1 0 6.8 0a3.4 3.4 0 1 0 -6.8 0M1049 849.68a3.4 3.4 0 1 0 6.8 0a3.4 3.4 0 1 0 -6.8 0M1050.55 746.84a3.4 3.4 0 1 0 6.8 0a3.4 3.4 0 1 0 -6.8 0M1038.22 853.48a3.4 3.4 0 1 0 6.8 0a3.4 3.4 0 1 0 -6.8 0M1044.21 793.16a3.4 3.4 0 1 0 6.8 0a3.4 3.4 0 1 0 -6.8 0M1045.25 830.59a3.4 3.4 0 1 0 6.8 0a3.4 3.4 0 1 0 -6.8 0M1049.77 865.42a3.4 3.4 0 1 0 6.8 0a3.4 3.4 0 1 0 -6.8 0M1047.1 696.97a3.4 3.4 0 1 0 6.8 0a3.4 3.4 0 1 0 -6.8 0M1050.33 725.69a3.4 3.4 0 1 0 6.8 0a3.4 3.4 0 1 0 -6.8 0M1035.27 844.4a3.4 3.4 0 1 0 6.8 0a3.4 3.4 0 1 0 -6.8 0M1044.82 828.54a3.4 3.4 0 1 0 6.8 0a3.4 3.4 0 1 0 -6.8 0M1033.83 853.73a3.4 3.4 0 1 0 6.8 0a3.4 3.4 0 1 0 -6.8 0M1044.58 853.8a3.4 3.4 0 1 0 6.8 0a3.4 3.4 0 1 0 -6.8 0M1037.29 731.97a3.4 3.4 0 1 0 6.8 0a3.4 3.4 0 1 0 -6.8 0M1053.36 822.36a3.4 3.4 0 1 0 6.8 0a3.4 3.4 0 1 0 -6.8 0M1042.89 871.98a3.4 3.4 0 1 0 6.8 0a3.4 3.4 0 1 0 -6.8 0M1046.24 809.39a3.4 3.4 0 1 0 6.8 0a3.4 3.4 0 1 0 -6.8 0M1050.08 858.73a3.4 3.4 0 1 0 6.8 0a3.4 3.4 0 1 0 -6.8 0M1048.16 711.19a3.4 3.4 0 1 0 6.8 0a3.4 3.4 0 1 0 -6.8 0M1020.58 832.7a3.4 3.4 0 1 0 6.8 0a3.4 3.4 0 1 0 -6.8 0M1033.04 732.58a3.4 3.4 0 1 0 6.8 0a3.4 3.4 0 1 0 -6.8 0M1026.26 785.88a3.4 3.4 0 1 0 6.8 0a3.4 3.4 0 1 0 -6.8 0M1024.93 849.92a3.4 3.4 0 1 0 6.8 0a3.4 3.4 0 1 0 -6.8 0M1052.17 732.74a3.4 3.4 0 1 0 6.8 0a3.4 3.4 0 1 0 -6.8 0M1024.36 875.66a3.4 3.4 0 1 0 6.8 0a3.4 3.4 0 1 0 -6.8 0M1044.81 726.2a3.4 3.4 0 1 0 6.8 0a3.4 3.4 0 1 0 -6.8 0M1022.4 831.98a3.4 3.4 0 1 0 6.8 0a3.4 3.4 0 1 0 -6.8 0M1019.77 841.23a3.4 3.4 0 1 0 6.8 0a3.4 3.4 0 1 0 -6.8 0M1050.61 810.66a3.4 3.4 0 1 0 6.8 0a3.4 3.4 0 1 0 -6.8 0M1047.56 791.26a3.4 3.4 0 1 0 6.8 0a3.4 3.4 0 1 0 -6.8 0M1048.41 762.48a3.4 3.4 0 1 0 6.8 0a3.4 3.4 0 1 0 -6.8 0M1030.85 807.76a3.4 3.4 0 1 0 6.8 0a3.4 3.4 0 1 0 -6.8 0M1032.9 758.71a3.4 3.4 0 1 0 6.8 0a3.4 3.4 0 1 0 -6.8 0M1052.44 670.16a3.4 3.4 0 1 0 6.8 0a3.4 3.4 0 1 0 -6.8 0M1042.62 868.16a3.4 3.4 0 1 0 6.8 0a3.4 3.4 0 1 0 -6.8 0M1028.36 856.33a3.4 3.4 0 1 0 6.8 0a3.4 3.4 0 1 0 -6.8 0M1040.1 839.01a3.4 3.4 0 1 0 6.8 0a3.4 3.4 0 1 0 -6.8 0M1022.19 823.13a3.4 3.4 0 1 0 6.8 0a3.4 3.4 0 1 0 -6.8 0M1046.51 730.88a3.4 3.4 0 1 0 6.8 0a3.4 3.4 0 1 0 -6.8 0M1028.67 878.07a3.4 3.4 0 1 0 6.8 0a3.4 3.4 0 1 0 -6.8 0M1043.28 763.1a3.4 3.4 0 1 0 6.8 0a3.4 3.4 0 1 0 -6.8 0M1041.99 861.62a3.4 3.4 0 1 0 6.8 0a3.4 3.4 0 1 0 -6.8 0M1035.1 852.4a3.4 3.4 0 1 0 6.8 0a3.4 3.4 0 1 0 -6.8 0M1038.31 798.1a3.4 3.4 0 1 0 6.8 0a3.4 3.4 0 1 0 -6.8 0M1032.16 822.63a3.4 3.4 0 1 0 6.8 0a3.4 3.4 0 1 0 -6.8 0M1049.24 821.6a3.4 3.4 0 1 0 6.8 0a3.4 3.4 0 1 0 -6.8 0M1038.1 821.38a3.4 3.4 0 1 0 6.8 0a3.4 3.4 0 1 0 -6.8 0M1042.78 867.45a3.4 3.4 0 1 0 6.8 0a3.4 3.4 0 1 0 -6.8 0M1030.56 813.52a3.4 3.4 0 1 0 6.8 0a3.4 3.4 0 1 0 -6.8 0M1040.68 862.49a3.4 3.4 0 1 0 6.8 0a3.4 3.4 0 1 0 -6.8 0M1033.38 777.97a3.4 3.4 0 1 0 6.8 0a3.4 3.4 0 1 0 -6.8 0M1028.96 761.49a3.4 3.4 0 1 0 6.8 0a3.4 3.4 0 1 0 -6.8 0M1036.26 722.4a3.4 3.4 0 1 0 6.8 0a3.4 3.4 0 1 0 -6.8 0M1047.03 710.47a3.4 3.4 0 1 0 6.8 0a3.4 3.4 0 1 0 -6.8 0M1039.14 849.97a3.4 3.4 0 1 0 6.8 0a3.4 3.4 0 1 0 -6.8 0M1046.84 774.13a3.4 3.4 0 1 0 6.8 0a3.4 3.4 0 1 0 -6.8 0M1034.27 736.85a3.4 3.4 0 1 0 6.8 0a3.4 3.4 0 1 0 -6.8 0M1047.05 752.94a3.4 3.4 0 1 0 6.8 0a3.4 3.4 0 1 0 -6.8 0M1053.11 670.98a3.4 3.4 0 1 0 6.8 0a3.4 3.4 0 1 0 -6.8 0M1032.19 832.6a3.4 3.4 0 1 0 6.8 0a3.4 3.4 0 1 0 -6.8 0M1053.32 695.28a3.4 3.4 0 1 0 6.8 0a3.4 3.4 0 1 0 -6.8 0M1036.63 839.88a3.4 3.4 0 1 0 6.8 0a3.4 3.4 0 1 0 -6.8 0M1027.4 772.87a3.4 3.4 0 1 0 6.8 0a3.4 3.4 0 1 0 -6.8 0M1032.81 831.4a3.4 3.4 0 1 0 6.8 0a3.4 3.4 0 1 0 -6.8 0M1017.69 842a3.4 3.4 0 1 0 6.8 0a3.4 3.4 0 1 0 -6.8 0M1046.25 858.05a3.4 3.4 0 1 0 6.8 0a3.4 3.4 0 1 0 -6.8 0M1028.48 777.17a3.4 3.4 0 1 0 6.8 0a3.4 3.4 0 1 0 -6.8 0M1026.48 828.3a3.4 3.4 0 1 0 6.8 0a3.4 3.4 0 1 0 -6.8 0M1027.62 785.12a3.4 3.4 0 1 0 6.8 0a3.4 3.4 0 1 0 -6.8 0M1027.4 875.89a3.4 3.4 0 1 0 6.8 0a3.4 3.4 0 1 0 -6.8 0M1023.73 839.96a3.4 3.4 0 1 0 6.8 0a3.4 3.4 0 1 0 -6.8 0M1050.88 782.72a3.4 3.4 0 1 0 6.8 0a3.4 3.4 0 1 0 -6.8 0M1045.47 703.28a3.4 3.4 0 1 0 6.8 0a3.4 3.4 0 1 0 -6.8 0M1034.98 870.12a3.4 3.4 0 1 0 6.8 0a3.4 3.4 0 1 0 -6.8 0M1013.52 883.3a3.4 3.4 0 1 0 6.8 0a3.4 3.4 0 1 0 -6.8 0M1035.66 845.49a3.4 3.4 0 1 0 6.8 0a3.4 3.4 0 1 0 -6.8 0M1023.43 833.76a3.4 3.4 0 1 0 6.8 0a3.4 3.4 0 1 0 -6.8 0M1042.53 832.48a3.4 3.4 0 1 0 6.8 0a3.4 3.4 0 1 0 -6.8 0M1018.44 863.2a3.4 3.4 0 1 0 6.8 0a3.4 3.4 0 1 0 -6.8 0M1025.86 794.37a3.4 3.4 0 1 0 6.8 0a3.4 3.4 0 1 0 -6.8 0M1040.35 805.13a3.4 3.4 0 1 0 6.8 0a3.4 3.4 0 1 0 -6.8 0M1049.64 754.84a3.4 3.4 0 1 0 6.8 0a3.4 3.4 0 1 0 -6.8 0M1032.04 753.8a3.4 3.4 0 1 0 6.8 0a3.4 3.4 0 1 0 -6.8 0M1047.28 722.62a3.4 3.4 0 1 0 6.8 0a3.4 3.4 0 1 0 -6.8 0M1026.31 837.61a3.4 3.4 0 1 0 6.8 0a3.4 3.4 0 1 0 -6.8 0M1004.91 878.24a3.4 3.4 0 1 0 6.8 0a3.4 3.4 0 1 0 -6.8 0M1052.26 720.07a3.4 3.4 0 1 0 6.8 0a3.4 3.4 0 1 0 -6.8 0M1039.68 840.95a3.4 3.4 0 1 0 6.8 0a3.4 3.4 0 1 0 -6.8 0M1017.49 846.2a3.4 3.4 0 1 0 6.8 0a3.4 3.4 0 1 0 -6.8 0M1025.4 870.24a3.4 3.4 0 1 0 6.8 0a3.4 3.4 0 1 0 -6.8 0M1053.27 845.8a3.4 3.4 0 1 0 6.8 0a3.4 3.4 0 1 0 -6.8 0M1037.59 741.72a3.4 3.4 0 1 0 6.8 0a3.4 3.4 0 1 0 -6.8 0M1031.74 752.72a3.4 3.4 0 1 0 6.8 0a3.4 3.4 0 1 0 -6.8 0M1029.56 777.83a3.4 3.4 0 1 0 6.8 0a3.4 3.4 0 1 0 -6.8 0M1048.4 728.64a3.4 3.4 0 1 0 6.8 0a3.4 3.4 0 1 0 -6.8 0M1021.13 815.89a3.4 3.4 0 1 0 6.8 0a3.4 3.4 0 1 0 -6.8 0M1032.45 768.94a3.4 3.4 0 1 0 6.8 0a3.4 3.4 0 1 0 -6.8 0M1028.38 824a3.4 3.4 0 1 0 6.8 0a3.4 3.4 0 1 0 -6.8 0M1042.91 776.7a3.4 3.4 0 1 0 6.8 0a3.4 3.4 0 1 0 -6.8 0M1050.27 755.15a3.4 3.4 0 1 0 6.8 0a3.4 3.4 0 1 0 -6.8 0M1020.61 879.93a3.4 3.4 0 1 0 6.8 0a3.4 3.4 0 1 0 -6.8 0M1052.33 843.43a3.4 3.4 0 1 0 6.8 0a3.4 3.4 0 1 0 -6.8 0M1030.42 776.38a3.4 3.4 0 1 0 6.8 0a3.4 3.4 0 1 0 -6.8 0M1024.58 804.08a3.4 3.4 0 1 0 6.8 0a3.4 3.4 0 1 0 -6.8 0M1043.9 727.66a3.4 3.4 0 1 0 6.8 0a3.4 3.4 0 1 0 -6.8 0M1017.86 884.42a3.4 3.4 0 1 0 6.8 0a3.4 3.4 0 1 0 -6.8 0M1044.27 792.87a3.4 3.4 0 1 0 6.8 0a3.4 3.4 0 1 0 -6.8 0M1040.31 739.5a3.4 3.4 0 1 0 6.8 0a3.4 3.4 0 1 0 -6.8 0M1036.83 773.61a3.4 3.4 0 1 0 6.8 0a3.4 3.4 0 1 0 -6.8 0M1028.93 874.69a3.4 3.4 0 1 0 6.8 0a3.4 3.4 0 1 0 -6.8 0M1021.97 805.81a3.4 3.4 0 1 0 6.8 0a3.4 3.4 0 1 0 -6.8 0M1039.45 796.86a3.4 3.4 0 1 0 6.8 0a3.4 3.4 0 1 0 -6.8 0M1049.6 652.2a3.4 3.4 0 1 0 6.8 0a3.4 3.4 0 1 0 -6.8 0M1051.2 677.8a3.4 3.4 0 1 0 6.8 0a3.4 3.4 0 1 0 -6.8 0M1048.2 694.4a3.4 3.4 0 1 0 6.8 0a3.4 3.4 0 1 0 -6.8 0M1040.7 708a3.4 3.4 0 1 0 6.8 0a3.4 3.4 0 1 0 -6.8 0M1045.2 708a3.4 3.4 0 1 0 6.8 0a3.4 3.4 0 1 0 -6.8 0M974.4 594.4a3.4 3.4 0 1 0 6.8 0a3.4 3.4 0 1 0 -6.8 0M977 611.9a3.4 3.4 0 1 0 6.8 0a3.4 3.4 0 1 0 -6.8 0M979.2 611.9a3.4 3.4 0 1 0 6.8 0a3.4 3.4 0 1 0 -6.8 0M973.7 631.6a3.4 3.4 0 1 0 6.8 0a3.4 3.4 0 1 0 -6.8 0M985.7 653.4a3.4 3.4 0 1 0 6.8 0a3.4 3.4 0 1 0 -6.8 0M975.2 594.3a3.4 3.4 0 1 0 6.8 0a3.4 3.4 0 1 0 -6.8 0M979.5 611.5a3.4 3.4 0 1 0 6.8 0a3.4 3.4 0 1 0 -6.8 0M976.6 631.5a3.4 3.4 0 1 0 6.8 0a3.4 3.4 0 1 0 -6.8 0M982.6 624a3.4 3.4 0 1 0 6.8 0a3.4 3.4 0 1 0 -6.8 0M985.2 655a3.4 3.4 0 1 0 6.8 0a3.4 3.4 0 1 0 -6.8 0M974.4 870.9a3.4 3.4 0 1 0 6.8 0a3.4 3.4 0 1 0 -6.8 0M985.2 880a3.4 3.4 0 1 0 6.8 0a3.4 3.4 0 1 0 -6.8 0M1051.2 865.5a3.4 3.4 0 1 0 6.8 0a3.4 3.4 0 1 0 -6.8 0M1047.6 690a3.4 3.4 0 1 0 6.8 0a3.4 3.4 0 1 0 -6.8 0M1043.6 700a3.4 3.4 0 1 0 6.8 0a3.4 3.4 0 1 0 -6.8 0"/>
<path fill="#1f2b5e" d="M913.7 542.9a3.4 3.4 0 1 0 6.8 0a3.4 3.4 0 1 0 -6.8 0M906.9 547.8a3.4 3.4 0 1 0 6.8 0a3.4 3.4 0 1 0 -6.8 0M908.5 547.4a3.4 3.4 0 1 0 6.8 0a3.4 3.4 0 1 0 -6.8 0M921.6 547.8a3.4 3.4 0 1 0 6.8 0a3.4 3.4 0 1 0 -6.8 0M909.2 557.5a3.4 3.4 0 1 0 6.8 0a3.4 3.4 0 1 0 -6.8 0M896.5 563.2a3.4 3.4 0 1 0 6.8 0a3.4 3.4 0 1 0 -6.8 0M907.9 570a3.4 3.4 0 1 0 6.8 0a3.4 3.4 0 1 0 -6.8 0M921.8 568.1a3.4 3.4 0 1 0 6.8 0a3.4 3.4 0 1 0 -6.8 0M923.4 566.9a3.4 3.4 0 1 0 6.8 0a3.4 3.4 0 1 0 -6.8 0M922.2 573.1a3.4 3.4 0 1 0 6.8 0a3.4 3.4 0 1 0 -6.8 0M891.5 573.9a3.4 3.4 0 1 0 6.8 0a3.4 3.4 0 1 0 -6.8 0M938.5 562.8a3.4 3.4 0 1 0 6.8 0a3.4 3.4 0 1 0 -6.8 0M949 558.6a3.4 3.4 0 1 0 6.8 0a3.4 3.4 0 1 0 -6.8 0M956.9 554.9a3.4 3.4 0 1 0 6.8 0a3.4 3.4 0 1 0 -6.8 0M964.5 554.7a3.4 3.4 0 1 0 6.8 0a3.4 3.4 0 1 0 -6.8 0M962.8 563.2a3.4 3.4 0 1 0 6.8 0a3.4 3.4 0 1 0 -6.8 0M943.2 573.4a3.4 3.4 0 1 0 6.8 0a3.4 3.4 0 1 0 -6.8 0M913.5 586.2a3.4 3.4 0 1 0 6.8 0a3.4 3.4 0 1 0 -6.8 0M940.4 583.5a3.4 3.4 0 1 0 6.8 0a3.4 3.4 0 1 0 -6.8 0M947.9 583.9a3.4 3.4 0 1 0 6.8 0a3.4 3.4 0 1 0 -6.8 0M951.2 586.2a3.4 3.4 0 1 0 6.8 0a3.4 3.4 0 1 0 -6.8 0M928.8 588a3.4 3.4 0 1 0 6.8 0a3.4 3.4 0 1 0 -6.8 0M935.1 588.5a3.4 3.4 0 1 0 6.8 0a3.4 3.4 0 1 0 -6.8 0M927.2 592.2a3.4 3.4 0 1 0 6.8 0a3.4 3.4 0 1 0 -6.8 0M930.5 598a3.4 3.4 0 1 0 6.8 0a3.4 3.4 0 1 0 -6.8 0M934.6 596.3a3.4 3.4 0 1 0 6.8 0a3.4 3.4 0 1 0 -6.8 0M952.7 596.3a3.4 3.4 0 1 0 6.8 0a3.4 3.4 0 1 0 -6.8 0M951.2 602.6a3.4 3.4 0 1 0 6.8 0a3.4 3.4 0 1 0 -6.8 0M960.3 599.7a3.4 3.4 0 1 0 6.8 0a3.4 3.4 0 1 0 -6.8 0M965.7 596.3a3.4 3.4 0 1 0 6.8 0a3.4 3.4 0 1 0 -6.8 0M921.4 605.9a3.4 3.4 0 1 0 6.8 0a3.4 3.4 0 1 0 -6.8 0M913.5 611.3a3.4 3.4 0 1 0 6.8 0a3.4 3.4 0 1 0 -6.8 0M933 607.5a3.4 3.4 0 1 0 6.8 0a3.4 3.4 0 1 0 -6.8 0M938.8 614.6a3.4 3.4 0 1 0 6.8 0a3.4 3.4 0 1 0 -6.8 0M942.9 611.3a3.4 3.4 0 1 0 6.8 0a3.4 3.4 0 1 0 -6.8 0M947.1 612.1a3.4 3.4 0 1 0 6.8 0a3.4 3.4 0 1 0 -6.8 0M951.2 609.6a3.4 3.4 0 1 0 6.8 0a3.4 3.4 0 1 0 -6.8 0M955.4 610.8a3.4 3.4 0 1 0 6.8 0a3.4 3.4 0 1 0 -6.8 0M934.6 610.4a3.4 3.4 0 1 0 6.8 0a3.4 3.4 0 1 0 -6.8 0M964.1 611.7a3.4 3.4 0 1 0 6.8 0a3.4 3.4 0 1 0 -6.8 0M951.2 622.9a3.4 3.4 0 1 0 6.8 0a3.4 3.4 0 1 0 -6.8 0M956.2 622.9a3.4 3.4 0 1 0 6.8 0a3.4 3.4 0 1 0 -6.8 0M952.9 627.8a3.4 3.4 0 1 0 6.8 0a3.4 3.4 0 1 0 -6.8 0M921 621.6a3.4 3.4 0 1 0 6.8 0a3.4 3.4 0 1 0 -6.8 0M886.1 630.7a3.4 3.4 0 1 0 6.8 0a3.4 3.4 0 1 0 -6.8 0M894 627.4a3.4 3.4 0 1 0 6.8 0a3.4 3.4 0 1 0 -6.8 0M901.9 631.2a3.4 3.4 0 1 0 6.8 0a3.4 3.4 0 1 0 -6.8 0M877.4 639.9a3.4 3.4 0 1 0 6.8 0a3.4 3.4 0 1 0 -6.8 0M928 631.2a3.4 3.4 0 1 0 6.8 0a3.4 3.4 0 1 0 -6.8 0M925.5 632.8a3.4 3.4 0 1 0 6.8 0a3.4 3.4 0 1 0 -6.8 0M944.6 633.7a3.4 3.4 0 1 0 6.8 0a3.4 3.4 0 1 0 -6.8 0M911.8 641.9a3.4 3.4 0 1 0 6.8 0a3.4 3.4 0 1 0 -6.8 0M920.1 640.7a3.4 3.4 0 1 0 6.8 0a3.4 3.4 0 1 0 -6.8 0M926.4 640.7a3.4 3.4 0 1 0 6.8 0a3.4 3.4 0 1 0 -6.8 0M934.6 641.1a3.4 3.4 0 1 0 6.8 0a3.4 3.4 0 1 0 -6.8 0M933.8 649.4a3.4 3.4 0 1 0 6.8 0a3.4 3.4 0 1 0 -6.8 0M942.9 644.8a3.4 3.4 0 1 0 6.8 0a3.4 3.4 0 1 0 -6.8 0M948.7 648.6a3.4 3.4 0 1 0 6.8 0a3.4 3.4 0 1 0 -6.8 0M952.9 652.7a3.4 3.4 0 1 0 6.8 0a3.4 3.4 0 1 0 -6.8 0M960.3 629.5a3.4 3.4 0 1 0 6.8 0a3.4 3.4 0 1 0 -6.8 0M961.2 637.8a3.4 3.4 0 1 0 6.8 0a3.4 3.4 0 1 0 -6.8 0M962.8 641.9a3.4 3.4 0 1 0 6.8 0a3.4 3.4 0 1 0 -6.8 0M970.3 648.6a3.4 3.4 0 1 0 6.8 0a3.4 3.4 0 1 0 -6.8 0M972 651.1a3.4 3.4 0 1 0 6.8 0a3.4 3.4 0 1 0 -6.8 0M913.1 652.7a3.4 3.4 0 1 0 6.8 0a3.4 3.4 0 1 0 -6.8 0M910.6 657.7a3.4 3.4 0 1 0 6.8 0a3.4 3.4 0 1 0 -6.8 0M923.9 655.2a3.4 3.4 0 1 0 6.8 0a3.4 3.4 0 1 0 -6.8 0M930.5 656a3.4 3.4 0 1 0 6.8 0a3.4 3.4 0 1 0 -6.8 0M935.9 661a3.4 3.4 0 1 0 6.8 0a3.4 3.4 0 1 0 -6.8 0M936.3 667.6a3.4 3.4 0 1 0 6.8 0a3.4 3.4 0 1 0 -6.8 0M933 671a3.4 3.4 0 1 0 6.8 0a3.4 3.4 0 1 0 -6.8 0M919.7 668.5a3.4 3.4 0 1 0 6.8 0a3.4 3.4 0 1 0 -6.8 0M918.1 674.3a3.4 3.4 0 1 0 6.8 0a3.4 3.4 0 1 0 -6.8 0M964.6 620a3.4 3.4 0 1 0 6.8 0a3.4 3.4 0 1 0 -6.8 0M968.6 632a3.4 3.4 0 1 0 6.8 0a3.4 3.4 0 1 0 -6.8 0M957.6 615a3.4 3.4 0 1 0 6.8 0a3.4 3.4 0 1 0 -6.8 0M874.3 521.1a3.4 3.4 0 1 0 6.8 0a3.4 3.4 0 1 0 -6.8 0M831.2 553.4a3.4 3.4 0 1 0 6.8 0a3.4 3.4 0 1 0 -6.8 0M855.3 569.9a3.4 3.4 0 1 0 6.8 0a3.4 3.4 0 1 0 -6.8 0M868.9 619.1a3.4 3.4 0 1 0 6.8 0a3.4 3.4 0 1 0 -6.8 0M871.9 620.6a3.4 3.4 0 1 0 6.8 0a3.4 3.4 0 1 0 -6.8 0M865.9 644.1a3.4 3.4 0 1 0 6.8 0a3.4 3.4 0 1 0 -6.8 0M874.9 639.6a3.4 3.4 0 1 0 6.8 0a3.4 3.4 0 1 0 -6.8 0M861.3 677.2a3.4 3.4 0 1 0 6.8 0a3.4 3.4 0 1 0 -6.8 0M901.2 694.9a3.4 3.4 0 1 0 6.8 0a3.4 3.4 0 1 0 -6.8 0M907.9 689.5a3.4 3.4 0 1 0 6.8 0a3.4 3.4 0 1 0 -6.8 0M916.4 707a3.4 3.4 0 1 0 6.8 0a3.4 3.4 0 1 0 -6.8 0M920.4 700.7a3.4 3.4 0 1 0 6.8 0a3.4 3.4 0 1 0 -6.8 0M929.4 692.2a3.4 3.4 0 1 0 6.8 0a3.4 3.4 0 1 0 -6.8 0M920 718.1a3.4 3.4 0 1 0 6.8 0a3.4 3.4 0 1 0 -6.8 0M890 737.8a3.4 3.4 0 1 0 6.8 0a3.4 3.4 0 1 0 -6.8 0M934.7 746.8a3.4 3.4 0 1 0 6.8 0a3.4 3.4 0 1 0 -6.8 0M938.3 758.4a3.4 3.4 0 1 0 6.8 0a3.4 3.4 0 1 0 -6.8 0M939.2 769.1a3.4 3.4 0 1 0 6.8 0a3.4 3.4 0 1 0 -6.8 0M920.4 773.6a3.4 3.4 0 1 0 6.8 0a3.4 3.4 0 1 0 -6.8 0M946.4 774.5a3.4 3.4 0 1 0 6.8 0a3.4 3.4 0 1 0 -6.8 0M946.4 789.7a3.4 3.4 0 1 0 6.8 0a3.4 3.4 0 1 0 -6.8 0M899.9 803.1a3.4 3.4 0 1 0 6.8 0a3.4 3.4 0 1 0 -6.8 0M944.6 811.2a3.4 3.4 0 1 0 6.8 0a3.4 3.4 0 1 0 -6.8 0M953.5 804.9a3.4 3.4 0 1 0 6.8 0a3.4 3.4 0 1 0 -6.8 0M956.2 821.9a3.4 3.4 0 1 0 6.8 0a3.4 3.4 0 1 0 -6.8 0M958 830.8a3.4 3.4 0 1 0 6.8 0a3.4 3.4 0 1 0 -6.8 0M966.9 838.9a3.4 3.4 0 1 0 6.8 0a3.4 3.4 0 1 0 -6.8 0"/>
<polygon fill="#1f2b5e" points="973.5,647.49 963,649.83 951.75,661.08 948.01,672.29 949,699.83 951.98,721.73 952,721.89 952,722.06 951.99,722.22 950.01,740.01 953.96,779.52 959.8,794.11 965.71,803.97 965.79,804.12 965.86,804.27 965.92,804.43 968.92,814.43 968.97,814.64 969,814.87 969.99,829.74 971.83,838.96 973.5,840.48 973.5,647.49"/>
<path fill="#1f2b5e" d="M957.45 748.76a3.4 3.4 0 1 0 6.8 0a3.4 3.4 0 1 0 -6.8 0M953.7 695.52a3.4 3.4 0 1 0 6.8 0a3.4 3.4 0 1 0 -6.8 0M960.99 783.86a3.4 3.4 0 1 0 6.8 0a3.4 3.4 0 1 0 -6.8 0M956.99 689.73a3.4 3.4 0 1 0 6.8 0a3.4 3.4 0 1 0 -6.8 0M956.3 787.63a3.4 3.4 0 1 0 6.8 0a3.4 3.4 0 1 0 -6.8 0M960.09 789.66a3.4 3.4 0 1 0 6.8 0a3.4 3.4 0 1 0 -6.8 0M958.57 795.9a3.4 3.4 0 1 0 6.8 0a3.4 3.4 0 1 0 -6.8 0M951.66 720.53a3.4 3.4 0 1 0 6.8 0a3.4 3.4 0 1 0 -6.8 0M961.64 658.66a3.4 3.4 0 1 0 6.8 0a3.4 3.4 0 1 0 -6.8 0M951.79 685.31a3.4 3.4 0 1 0 6.8 0a3.4 3.4 0 1 0 -6.8 0"/>
<path fill="#1f2b5e" d="M920.19 692.8a3.4 3.4 0 1 0 6.8 0a3.4 3.4 0 1 0 -6.8 0M944.18 727.24a3.4 3.4 0 1 0 6.8 0a3.4 3.4 0 1 0 -6.8 0M969.61 763.64a3.4 3.4 0 1 0 6.8 0a3.4 3.4 0 1 0 -6.8 0M963.52 728.37a3.4 3.4 0 1 0 6.8 0a3.4 3.4 0 1 0 -6.8 0M928.99 732.14a3.4 3.4 0 1 0 6.8 0a3.4 3.4 0 1 0 -6.8 0M965.62 800.11a3.4 3.4 0 1 0 6.8 0a3.4 3.4 0 1 0 -6.8 0M967.3 653.39a3.4 3.4 0 1 0 6.8 0a3.4 3.4 0 1 0 -6.8 0M963.27 704.17a3.4 3.4 0 1 0 6.8 0a3.4 3.4 0 1 0 -6.8 0M930.79 692.22a3.4 3.4 0 1 0 6.8 0a3.4 3.4 0 1 0 -6.8 0M913.08 678.63a3.4 3.4 0 1 0 6.8 0a3.4 3.4 0 1 0 -6.8 0M937.3 760.12a3.4 3.4 0 1 0 6.8 0a3.4 3.4 0 1 0 -6.8 0M962.83 826.42a3.4 3.4 0 1 0 6.8 0a3.4 3.4 0 1 0 -6.8 0M942.63 784.19a3.4 3.4 0 1 0 6.8 0a3.4 3.4 0 1 0 -6.8 0M963.47 747.12a3.4 3.4 0 1 0 6.8 0a3.4 3.4 0 1 0 -6.8 0M945.28 715.18a3.4 3.4 0 1 0 6.8 0a3.4 3.4 0 1 0 -6.8 0M953.96 767.14a3.4 3.4 0 1 0 6.8 0a3.4 3.4 0 1 0 -6.8 0M966.19 829.63a3.4 3.4 0 1 0 6.8 0a3.4 3.4 0 1 0 -6.8 0M963.72 740.98a3.4 3.4 0 1 0 6.8 0a3.4 3.4 0 1 0 -6.8 0M951.07 736.58a3.4 3.4 0 1 0 6.8 0a3.4 3.4 0 1 0 -6.8 0M912.14 684.47a3.4 3.4 0 1 0 6.8 0a3.4 3.4 0 1 0 -6.8 0M938.75 775.46a3.4 3.4 0 1 0 6.8 0a3.4 3.4 0 1 0 -6.8 0M966.41 830.55a3.4 3.4 0 1 0 6.8 0a3.4 3.4 0 1 0 -6.8 0M921.61 711.75a3.4 3.4 0 1 0 6.8 0a3.4 3.4 0 1 0 -6.8 0M965.78 767.29a3.4 3.4 0 1 0 6.8 0a3.4 3.4 0 1 0 -6.8 0M949.97 656.94a3.4 3.4 0 1 0 6.8 0a3.4 3.4 0 1 0 -6.8 0M924 662.71a3.4 3.4 0 1 0 6.8 0a3.4 3.4 0 1 0 -6.8 0M951.28 793.74a3.4 3.4 0 1 0 6.8 0a3.4 3.4 0 1 0 -6.8 0M943.49 772.76a3.4 3.4 0 1 0 6.8 0a3.4 3.4 0 1 0 -6.8 0M936.12 715.42a3.4 3.4 0 1 0 6.8 0a3.4 3.4 0 1 0 -6.8 0M945.71 668.66a3.4 3.4 0 1 0 6.8 0a3.4 3.4 0 1 0 -6.8 0M969.52 789.53a3.4 3.4 0 1 0 6.8 0a3.4 3.4 0 1 0 -6.8 0M940.69 675.8a3.4 3.4 0 1 0 6.8 0a3.4 3.4 0 1 0 -6.8 0M928.64 738.72a3.4 3.4 0 1 0 6.8 0a3.4 3.4 0 1 0 -6.8 0M930.61 700.08a3.4 3.4 0 1 0 6.8 0a3.4 3.4 0 1 0 -6.8 0M962.09 832.5a3.4 3.4 0 1 0 6.8 0a3.4 3.4 0 1 0 -6.8 0M952.53 707.5a3.4 3.4 0 1 0 6.8 0a3.4 3.4 0 1 0 -6.8 0M958.71 754.71a3.4 3.4 0 1 0 6.8 0a3.4 3.4 0 1 0 -6.8 0M951.98 690.76a3.4 3.4 0 1 0 6.8 0a3.4 3.4 0 1 0 -6.8 0M948.18 714.12a3.4 3.4 0 1 0 6.8 0a3.4 3.4 0 1 0 -6.8 0M915.57 685.42a3.4 3.4 0 1 0 6.8 0a3.4 3.4 0 1 0 -6.8 0M928.52 662.52a3.4 3.4 0 1 0 6.8 0a3.4 3.4 0 1 0 -6.8 0M945.71 717.97a3.4 3.4 0 1 0 6.8 0a3.4 3.4 0 1 0 -6.8 0M936.11 692.72a3.4 3.4 0 1 0 6.8 0a3.4 3.4 0 1 0 -6.8 0M971.99 693.78a3.4 3.4 0 1 0 6.8 0a3.4 3.4 0 1 0 -6.8 0M947.91 652.18a3.4 3.4 0 1 0 6.8 0a3.4 3.4 0 1 0 -6.8 0M923.43 682.29a3.4 3.4 0 1 0 6.8 0a3.4 3.4 0 1 0 -6.8 0M964.82 729.61a3.4 3.4 0 1 0 6.8 0a3.4 3.4 0 1 0 -6.8 0M967.18 738.41a3.4 3.4 0 1 0 6.8 0a3.4 3.4 0 1 0 -6.8 0M942.72 701.39a3.4 3.4 0 1 0 6.8 0a3.4 3.4 0 1 0 -6.8 0M965.24 826.2a3.4 3.4 0 1 0 6.8 0a3.4 3.4 0 1 0 -6.8 0M950.44 777.54a3.4 3.4 0 1 0 6.8 0a3.4 3.4 0 1 0 -6.8 0M957.46 765.67a3.4 3.4 0 1 0 6.8 0a3.4 3.4 0 1 0 -6.8 0M938.53 671.84a3.4 3.4 0 1 0 6.8 0a3.4 3.4 0 1 0 -6.8 0M963.77 648.06a3.4 3.4 0 1 0 6.8 0a3.4 3.4 0 1 0 -6.8 0M931.23 669.03a3.4 3.4 0 1 0 6.8 0a3.4 3.4 0 1 0 -6.8 0M961.37 786.94a3.4 3.4 0 1 0 6.8 0a3.4 3.4 0 1 0 -6.8 0M969.82 641.68a3.4 3.4 0 1 0 6.8 0a3.4 3.4 0 1 0 -6.8 0M940.79 746.96a3.4 3.4 0 1 0 6.8 0a3.4 3.4 0 1 0 -6.8 0M940.17 727.36a3.4 3.4 0 1 0 6.8 0a3.4 3.4 0 1 0 -6.8 0M928.53 691.02a3.4 3.4 0 1 0 6.8 0a3.4 3.4 0 1 0 -6.8 0M955.65 695.8a3.4 3.4 0 1 0 6.8 0a3.4 3.4 0 1 0 -6.8 0M916.74 688.54a3.4 3.4 0 1 0 6.8 0a3.4 3.4 0 1 0 -6.8 0M920.28 667.72a3.4 3.4 0 1 0 6.8 0a3.4 3.4 0 1 0 -6.8 0M965.03 689.54a3.4 3.4 0 1 0 6.8 0a3.4 3.4 0 1 0 -6.8 0M937.52 709.7a3.4 3.4 0 1 0 6.8 0a3.4 3.4 0 1 0 -6.8 0M967.24 761.35a3.4 3.4 0 1 0 6.8 0a3.4 3.4 0 1 0 -6.8 0M949.27 671.38a3.4 3.4 0 1 0 6.8 0a3.4 3.4 0 1 0 -6.8 0M931.4 705.06a3.4 3.4 0 1 0 6.8 0a3.4 3.4 0 1 0 -6.8 0M951.4 765.25a3.4 3.4 0 1 0 6.8 0a3.4 3.4 0 1 0 -6.8 0M961.82 776.88a3.4 3.4 0 1 0 6.8 0a3.4 3.4 0 1 0 -6.8 0M951.23 776.08a3.4 3.4 0 1 0 6.8 0a3.4 3.4 0 1 0 -6.8 0M966.49 694.21a3.4 3.4 0 1 0 6.8 0a3.4 3.4 0 1 0 -6.8 0M969.86 772.47a3.4 3.4 0 1 0 6.8 0a3.4 3.4 0 1 0 -6.8 0M967.66 831.06a3.4 3.4 0 1 0 6.8 0a3.4 3.4 0 1 0 -6.8 0M964.88 787.09a3.4 3.4 0 1 0 6.8 0a3.4 3.4 0 1 0 -6.8 0M964.17 648.01a3.4 3.4 0 1 0 6.8 0a3.4 3.4 0 1 0 -6.8 0M971.25 824.04a3.4 3.4 0 1 0 6.8 0a3.4 3.4 0 1 0 -6.8 0M971.31 649.74a3.4 3.4 0 1 0 6.8 0a3.4 3.4 0 1 0 -6.8 0M939 673.99a3.4 3.4 0 1 0 6.8 0a3.4 3.4 0 1 0 -6.8 0M960.64 732.59a3.4 3.4 0 1 0 6.8 0a3.4 3.4 0 1 0 -6.8 0M953.52 649a3.4 3.4 0 1 0 6.8 0a3.4 3.4 0 1 0 -6.8 0M967.65 726.57a3.4 3.4 0 1 0 6.8 0a3.4 3.4 0 1 0 -6.8 0M942.45 658.9a3.4 3.4 0 1 0 6.8 0a3.4 3.4 0 1 0 -6.8 0M945.24 788.84a3.4 3.4 0 1 0 6.8 0a3.4 3.4 0 1 0 -6.8 0M923.25 698.01a3.4 3.4 0 1 0 6.8 0a3.4 3.4 0 1 0 -6.8 0M948.72 703.69a3.4 3.4 0 1 0 6.8 0a3.4 3.4 0 1 0 -6.8 0M960.84 667.37a3.4 3.4 0 1 0 6.8 0a3.4 3.4 0 1 0 -6.8 0M942.84 734a3.4 3.4 0 1 0 6.8 0a3.4 3.4 0 1 0 -6.8 0M952.18 798.67a3.4 3.4 0 1 0 6.8 0a3.4 3.4 0 1 0 -6.8 0M938.73 736.1a3.4 3.4 0 1 0 6.8 0a3.4 3.4 0 1 0 -6.8 0M947.38 694.76a3.4 3.4 0 1 0 6.8 0a3.4 3.4 0 1 0 -6.8 0M967.68 700.05a3.4 3.4 0 1 0 6.8 0a3.4 3.4 0 1 0 -6.8 0M950.55 764.96a3.4 3.4 0 1 0 6.8 0a3.4 3.4 0 1 0 -6.8 0M917.05 694.49a3.4 3.4 0 1 0 6.8 0a3.4 3.4 0 1 0 -6.8 0M961.51 681.3a3.4 3.4 0 1 0 6.8 0a3.4 3.4 0 1 0 -6.8 0M937.28 728.65a3.4 3.4 0 1 0 6.8 0a3.4 3.4 0 1 0 -6.8 0M926.51 694.38a3.4 3.4 0 1 0 6.8 0a3.4 3.4 0 1 0 -6.8 0M961.68 736.26a3.4 3.4 0 1 0 6.8 0a3.4 3.4 0 1 0 -6.8 0M965.59 681.37a3.4 3.4 0 1 0 6.8 0a3.4 3.4 0 1 0 -6.8 0M956.13 660.02a3.4 3.4 0 1 0 6.8 0a3.4 3.4 0 1 0 -6.8 0M936.06 651.23a3.4 3.4 0 1 0 6.8 0a3.4 3.4 0 1 0 -6.8 0M935.47 755.76a3.4 3.4 0 1 0 6.8 0a3.4 3.4 0 1 0 -6.8 0M943.52 692.22a3.4 3.4 0 1 0 6.8 0a3.4 3.4 0 1 0 -6.8 0M935.16 690.9a3.4 3.4 0 1 0 6.8 0a3.4 3.4 0 1 0 -6.8 0M946.47 770.62a3.4 3.4 0 1 0 6.8 0a3.4 3.4 0 1 0 -6.8 0M922.5 713.77a3.4 3.4 0 1 0 6.8 0a3.4 3.4 0 1 0 -6.8 0M948.82 789.48a3.4 3.4 0 1 0 6.8 0a3.4 3.4 0 1 0 -6.8 0M970.54 837.68a3.4 3.4 0 1 0 6.8 0a3.4 3.4 0 1 0 -6.8 0M970.86 823.07a3.4 3.4 0 1 0 6.8 0a3.4 3.4 0 1 0 -6.8 0M931.12 702.94a3.4 3.4 0 1 0 6.8 0a3.4 3.4 0 1 0 -6.8 0M971.87 643.78a3.4 3.4 0 1 0 6.8 0a3.4 3.4 0 1 0 -6.8 0M930.43 717.63a3.4 3.4 0 1 0 6.8 0a3.4 3.4 0 1 0 -6.8 0M966.68 736.55a3.4 3.4 0 1 0 6.8 0a3.4 3.4 0 1 0 -6.8 0M970.33 825.44a3.4 3.4 0 1 0 6.8 0a3.4 3.4 0 1 0 -6.8 0M934.28 766.16a3.4 3.4 0 1 0 6.8 0a3.4 3.4 0 1 0 -6.8 0M962.31 659.28a3.4 3.4 0 1 0 6.8 0a3.4 3.4 0 1 0 -6.8 0M966.56 646.6a3.4 3.4 0 1 0 6.8 0a3.4 3.4 0 1 0 -6.8 0M962.44 652.97a3.4 3.4 0 1 0 6.8 0a3.4 3.4 0 1 0 -6.8 0M958.91 723.02a3.4 3.4 0 1 0 6.8 0a3.4 3.4 0 1 0 -6.8 0M953.5 664.36a3.4 3.4 0 1 0 6.8 0a3.4 3.4 0 1 0 -6.8 0M962.08 730.35a3.4 3.4 0 1 0 6.8 0a3.4 3.4 0 1 0 -6.8 0M932.9 711.9a3.4 3.4 0 1 0 6.8 0a3.4 3.4 0 1 0 -6.8 0M936.62 670.01a3.4 3.4 0 1 0 6.8 0a3.4 3.4 0 1 0 -6.8 0M913.93 669.83a3.4 3.4 0 1 0 6.8 0a3.4 3.4 0 1 0 -6.8 0M935.34 670.59a3.4 3.4 0 1 0 6.8 0a3.4 3.4 0 1 0 -6.8 0M945.7 757.22a3.4 3.4 0 1 0 6.8 0a3.4 3.4 0 1 0 -6.8 0M953.54 750.31a3.4 3.4 0 1 0 6.8 0a3.4 3.4 0 1 0 -6.8 0M963.44 757.95a3.4 3.4 0 1 0 6.8 0a3.4 3.4 0 1 0 -6.8 0M940.5 650.3a3.4 3.4 0 1 0 6.8 0a3.4 3.4 0 1 0 -6.8 0M964.98 721.36a3.4 3.4 0 1 0 6.8 0a3.4 3.4 0 1 0 -6.8 0M966.45 735.4a3.4 3.4 0 1 0 6.8 0a3.4 3.4 0 1 0 -6.8 0M970.68 663.58a3.4 3.4 0 1 0 6.8 0a3.4 3.4 0 1 0 -6.8 0M963.88 725.47a3.4 3.4 0 1 0 6.8 0a3.4 3.4 0 1 0 -6.8 0M953.1 717.97a3.4 3.4 0 1 0 6.8 0a3.4 3.4 0 1 0 -6.8 0M962.15 710.62a3.4 3.4 0 1 0 6.8 0a3.4 3.4 0 1 0 -6.8 0M959.32 685.97a3.4 3.4 0 1 0 6.8 0a3.4 3.4 0 1 0 -6.8 0M971.82 827.02a3.4 3.4 0 1 0 6.8 0a3.4 3.4 0 1 0 -6.8 0M966.52 733.88a3.4 3.4 0 1 0 6.8 0a3.4 3.4 0 1 0 -6.8 0M966.25 645.15a3.4 3.4 0 1 0 6.8 0a3.4 3.4 0 1 0 -6.8 0M935.55 695.21a3.4 3.4 0 1 0 6.8 0a3.4 3.4 0 1 0 -6.8 0M936.84 690.76a3.4 3.4 0 1 0 6.8 0a3.4 3.4 0 1 0 -6.8 0M954.13 749.28a3.4 3.4 0 1 0 6.8 0a3.4 3.4 0 1 0 -6.8 0M969.46 701.72a3.4 3.4 0 1 0 6.8 0a3.4 3.4 0 1 0 -6.8 0M937.93 684.08a3.4 3.4 0 1 0 6.8 0a3.4 3.4 0 1 0 -6.8 0M958.49 755.93a3.4 3.4 0 1 0 6.8 0a3.4 3.4 0 1 0 -6.8 0M963.63 753.92a3.4 3.4 0 1 0 6.8 0a3.4 3.4 0 1 0 -6.8 0M970.44 785.11a3.4 3.4 0 1 0 6.8 0a3.4 3.4 0 1 0 -6.8 0M935.53 746.05a3.4 3.4 0 1 0 6.8 0a3.4 3.4 0 1 0 -6.8 0M970.24 661.32a3.4 3.4 0 1 0 6.8 0a3.4 3.4 0 1 0 -6.8 0M968.04 717a3.4 3.4 0 1 0 6.8 0a3.4 3.4 0 1 0 -6.8 0M936.77 695.26a3.4 3.4 0 1 0 6.8 0a3.4 3.4 0 1 0 -6.8 0M913.46 664.08a3.4 3.4 0 1 0 6.8 0a3.4 3.4 0 1 0 -6.8 0M924.53 705.07a3.4 3.4 0 1 0 6.8 0a3.4 3.4 0 1 0 -6.8 0M966.28 745.84a3.4 3.4 0 1 0 6.8 0a3.4 3.4 0 1 0 -6.8 0M933.17 687.32a3.4 3.4 0 1 0 6.8 0a3.4 3.4 0 1 0 -6.8 0M934.66 698.99a3.4 3.4 0 1 0 6.8 0a3.4 3.4 0 1 0 -6.8 0M929.08 703.47a3.4 3.4 0 1 0 6.8 0a3.4 3.4 0 1 0 -6.8 0M933.35 684.25a3.4 3.4 0 1 0 6.8 0a3.4 3.4 0 1 0 -6.8 0M960.54 710.67a3.4 3.4 0 1 0 6.8 0a3.4 3.4 0 1 0 -6.8 0M956.91 756.6a3.4 3.4 0 1 0 6.8 0a3.4 3.4 0 1 0 -6.8 0M971.65 821.4a3.4 3.4 0 1 0 6.8 0a3.4 3.4 0 1 0 -6.8 0M941.24 773.68a3.4 3.4 0 1 0 6.8 0a3.4 3.4 0 1 0 -6.8 0M944.52 775.24a3.4 3.4 0 1 0 6.8 0a3.4 3.4 0 1 0 -6.8 0M966.03 757.73a3.4 3.4 0 1 0 6.8 0a3.4 3.4 0 1 0 -6.8 0M969.7 701.79a3.4 3.4 0 1 0 6.8 0a3.4 3.4 0 1 0 -6.8 0M969.68 827.28a3.4 3.4 0 1 0 6.8 0a3.4 3.4 0 1 0 -6.8 0M962.4 718.42a3.4 3.4 0 1 0 6.8 0a3.4 3.4 0 1 0 -6.8 0M960.83 688.42a3.4 3.4 0 1 0 6.8 0a3.4 3.4 0 1 0 -6.8 0M968.9 695.68a3.4 3.4 0 1 0 6.8 0a3.4 3.4 0 1 0 -6.8 0M971.63 644.95a3.4 3.4 0 1 0 6.8 0a3.4 3.4 0 1 0 -6.8 0M958 814.19a3.4 3.4 0 1 0 6.8 0a3.4 3.4 0 1 0 -6.8 0M965.54 700.56a3.4 3.4 0 1 0 6.8 0a3.4 3.4 0 1 0 -6.8 0M927.01 707.47a3.4 3.4 0 1 0 6.8 0a3.4 3.4 0 1 0 -6.8 0M962.36 650.61a3.4 3.4 0 1 0 6.8 0a3.4 3.4 0 1 0 -6.8 0M959.31 741.07a3.4 3.4 0 1 0 6.8 0a3.4 3.4 0 1 0 -6.8 0M956.46 804.52a3.4 3.4 0 1 0 6.8 0a3.4 3.4 0 1 0 -6.8 0M969.33 721.66a3.4 3.4 0 1 0 6.8 0a3.4 3.4 0 1 0 -6.8 0M951.76 799.15a3.4 3.4 0 1 0 6.8 0a3.4 3.4 0 1 0 -6.8 0M969.77 666.03a3.4 3.4 0 1 0 6.8 0a3.4 3.4 0 1 0 -6.8 0M935.1 764.16a3.4 3.4 0 1 0 6.8 0a3.4 3.4 0 1 0 -6.8 0M913.02 666.57a3.4 3.4 0 1 0 6.8 0a3.4 3.4 0 1 0 -6.8 0M947.66 699.36a3.4 3.4 0 1 0 6.8 0a3.4 3.4 0 1 0 -6.8 0M930.79 712.26a3.4 3.4 0 1 0 6.8 0a3.4 3.4 0 1 0 -6.8 0M970.95 817.19a3.4 3.4 0 1 0 6.8 0a3.4 3.4 0 1 0 -6.8 0M970.37 647.84a3.4 3.4 0 1 0 6.8 0a3.4 3.4 0 1 0 -6.8 0M957.18 803.95a3.4 3.4 0 1 0 6.8 0a3.4 3.4 0 1 0 -6.8 0M953.9 741.52a3.4 3.4 0 1 0 6.8 0a3.4 3.4 0 1 0 -6.8 0M961.03 681.15a3.4 3.4 0 1 0 6.8 0a3.4 3.4 0 1 0 -6.8 0M960.52 738.15a3.4 3.4 0 1 0 6.8 0a3.4 3.4 0 1 0 -6.8 0M959.23 647.96a3.4 3.4 0 1 0 6.8 0a3.4 3.4 0 1 0 -6.8 0M944.99 723.86a3.4 3.4 0 1 0 6.8 0a3.4 3.4 0 1 0 -6.8 0M954.4 774.62a3.4 3.4 0 1 0 6.8 0a3.4 3.4 0 1 0 -6.8 0M937.32 704.26a3.4 3.4 0 1 0 6.8 0a3.4 3.4 0 1 0 -6.8 0M969.7 787.56a3.4 3.4 0 1 0 6.8 0a3.4 3.4 0 1 0 -6.8 0M967.83 770.82a3.4 3.4 0 1 0 6.8 0a3.4 3.4 0 1 0 -6.8 0M969.99 762.06a3.4 3.4 0 1 0 6.8 0a3.4 3.4 0 1 0 -6.8 0M941.6 719.95a3.4 3.4 0 1 0 6.8 0a3.4 3.4 0 1 0 -6.8 0M950.23 669.28a3.4 3.4 0 1 0 6.8 0a3.4 3.4 0 1 0 -6.8 0M932.75 655.03a3.4 3.4 0 1 0 6.8 0a3.4 3.4 0 1 0 -6.8 0M962.08 826.29a3.4 3.4 0 1 0 6.8 0a3.4 3.4 0 1 0 -6.8 0M960.53 676.92a3.4 3.4 0 1 0 6.8 0a3.4 3.4 0 1 0 -6.8 0M966.15 652.79a3.4 3.4 0 1 0 6.8 0a3.4 3.4 0 1 0 -6.8 0M942.1 716.92a3.4 3.4 0 1 0 6.8 0a3.4 3.4 0 1 0 -6.8 0M932.66 670.39a3.4 3.4 0 1 0 6.8 0a3.4 3.4 0 1 0 -6.8 0M912.66 664.71a3.4 3.4 0 1 0 6.8 0a3.4 3.4 0 1 0 -6.8 0M966.14 710.15a3.4 3.4 0 1 0 6.8 0a3.4 3.4 0 1 0 -6.8 0M939.7 743.24a3.4 3.4 0 1 0 6.8 0a3.4 3.4 0 1 0 -6.8 0M920.57 669.2a3.4 3.4 0 1 0 6.8 0a3.4 3.4 0 1 0 -6.8 0M931.47 699.56a3.4 3.4 0 1 0 6.8 0a3.4 3.4 0 1 0 -6.8 0M948.79 677.66a3.4 3.4 0 1 0 6.8 0a3.4 3.4 0 1 0 -6.8 0M928.11 666.5a3.4 3.4 0 1 0 6.8 0a3.4 3.4 0 1 0 -6.8 0M946.92 748.89a3.4 3.4 0 1 0 6.8 0a3.4 3.4 0 1 0 -6.8 0M943.99 781.36a3.4 3.4 0 1 0 6.8 0a3.4 3.4 0 1 0 -6.8 0M928.47 724.72a3.4 3.4 0 1 0 6.8 0a3.4 3.4 0 1 0 -6.8 0M956.44 663.64a3.4 3.4 0 1 0 6.8 0a3.4 3.4 0 1 0 -6.8 0M958.93 749.02a3.4 3.4 0 1 0 6.8 0a3.4 3.4 0 1 0 -6.8 0M966.12 726.25a3.4 3.4 0 1 0 6.8 0a3.4 3.4 0 1 0 -6.8 0M961.16 730.92a3.4 3.4 0 1 0 6.8 0a3.4 3.4 0 1 0 -6.8 0M956.92 698.91a3.4 3.4 0 1 0 6.8 0a3.4 3.4 0 1 0 -6.8 0M961.46 805.7a3.4 3.4 0 1 0 6.8 0a3.4 3.4 0 1 0 -6.8 0M944.53 699.42a3.4 3.4 0 1 0 6.8 0a3.4 3.4 0 1 0 -6.8 0M926.46 680.18a3.4 3.4 0 1 0 6.8 0a3.4 3.4 0 1 0 -6.8 0M966.66 759.43a3.4 3.4 0 1 0 6.8 0a3.4 3.4 0 1 0 -6.8 0M958.14 695.56a3.4 3.4 0 1 0 6.8 0a3.4 3.4 0 1 0 -6.8 0M966.3 658.4a3.4 3.4 0 1 0 6.8 0a3.4 3.4 0 1 0 -6.8 0M967.57 740.39a3.4 3.4 0 1 0 6.8 0a3.4 3.4 0 1 0 -6.8 0M963.45 663.51a3.4 3.4 0 1 0 6.8 0a3.4 3.4 0 1 0 -6.8 0M967.83 823.34a3.4 3.4 0 1 0 6.8 0a3.4 3.4 0 1 0 -6.8 0M971.38 683.56a3.4 3.4 0 1 0 6.8 0a3.4 3.4 0 1 0 -6.8 0M941.58 740.52a3.4 3.4 0 1 0 6.8 0a3.4 3.4 0 1 0 -6.8 0M963.79 729.16a3.4 3.4 0 1 0 6.8 0a3.4 3.4 0 1 0 -6.8 0M933.84 657.91a3.4 3.4 0 1 0 6.8 0a3.4 3.4 0 1 0 -6.8 0M956.66 645.06a3.4 3.4 0 1 0 6.8 0a3.4 3.4 0 1 0 -6.8 0M959.21 768.04a3.4 3.4 0 1 0 6.8 0a3.4 3.4 0 1 0 -6.8 0M943.37 746.54a3.4 3.4 0 1 0 6.8 0a3.4 3.4 0 1 0 -6.8 0M966.67 835.25a3.4 3.4 0 1 0 6.8 0a3.4 3.4 0 1 0 -6.8 0M968.33 701.51a3.4 3.4 0 1 0 6.8 0a3.4 3.4 0 1 0 -6.8 0M970.71 705.61a3.4 3.4 0 1 0 6.8 0a3.4 3.4 0 1 0 -6.8 0M964.2 644.61a3.4 3.4 0 1 0 6.8 0a3.4 3.4 0 1 0 -6.8 0M965.43 830.36a3.4 3.4 0 1 0 6.8 0a3.4 3.4 0 1 0 -6.8 0M964.3 696.02a3.4 3.4 0 1 0 6.8 0a3.4 3.4 0 1 0 -6.8 0M947.05 645.85a3.4 3.4 0 1 0 6.8 0a3.4 3.4 0 1 0 -6.8 0M954.43 676.39a3.4 3.4 0 1 0 6.8 0a3.4 3.4 0 1 0 -6.8 0M958.78 814.38a3.4 3.4 0 1 0 6.8 0a3.4 3.4 0 1 0 -6.8 0M956.26 670.15a3.4 3.4 0 1 0 6.8 0a3.4 3.4 0 1 0 -6.8 0M935.61 741.52a3.4 3.4 0 1 0 6.8 0a3.4 3.4 0 1 0 -6.8 0M941.76 661.18a3.4 3.4 0 1 0 6.8 0a3.4 3.4 0 1 0 -6.8 0M922.58 661.71a3.4 3.4 0 1 0 6.8 0a3.4 3.4 0 1 0 -6.8 0M925.05 690.24a3.4 3.4 0 1 0 6.8 0a3.4 3.4 0 1 0 -6.8 0M948.09 729.47a3.4 3.4 0 1 0 6.8 0a3.4 3.4 0 1 0 -6.8 0M917.84 673.6a3.4 3.4 0 1 0 6.8 0a3.4 3.4 0 1 0 -6.8 0M936.33 653.62a3.4 3.4 0 1 0 6.8 0a3.4 3.4 0 1 0 -6.8 0M946.35 726.21a3.4 3.4 0 1 0 6.8 0a3.4 3.4 0 1 0 -6.8 0M961.72 689.63a3.4 3.4 0 1 0 6.8 0a3.4 3.4 0 1 0 -6.8 0M956.14 654.28a3.4 3.4 0 1 0 6.8 0a3.4 3.4 0 1 0 -6.8 0M957.73 726.02a3.4 3.4 0 1 0 6.8 0a3.4 3.4 0 1 0 -6.8 0M967.84 818.03a3.4 3.4 0 1 0 6.8 0a3.4 3.4 0 1 0 -6.8 0M963.16 733.86a3.4 3.4 0 1 0 6.8 0a3.4 3.4 0 1 0 -6.8 0M940.23 776.33a3.4 3.4 0 1 0 6.8 0a3.4 3.4 0 1 0 -6.8 0M969.7 678.12a3.4 3.4 0 1 0 6.8 0a3.4 3.4 0 1 0 -6.8 0M951.41 669.6a3.4 3.4 0 1 0 6.8 0a3.4 3.4 0 1 0 -6.8 0M924.36 656.04a3.4 3.4 0 1 0 6.8 0a3.4 3.4 0 1 0 -6.8 0M941.13 688.07a3.4 3.4 0 1 0 6.8 0a3.4 3.4 0 1 0 -6.8 0M967.56 673.17a3.4 3.4 0 1 0 6.8 0a3.4 3.4 0 1 0 -6.8 0M945.09 665.94a3.4 3.4 0 1 0 6.8 0a3.4 3.4 0 1 0 -6.8 0M942.92 743.36a3.4 3.4 0 1 0 6.8 0a3.4 3.4 0 1 0 -6.8 0M933.09 707.75a3.4 3.4 0 1 0 6.8 0a3.4 3.4 0 1 0 -6.8 0M971.43 731.98a3.4 3.4 0 1 0 6.8 0a3.4 3.4 0 1 0 -6.8 0M913.3 669.26a3.4 3.4 0 1 0 6.8 0a3.4 3.4 0 1 0 -6.8 0M944.09 771.55a3.4 3.4 0 1 0 6.8 0a3.4 3.4 0 1 0 -6.8 0M962.5 747.25a3.4 3.4 0 1 0 6.8 0a3.4 3.4 0 1 0 -6.8 0M959.85 666.81a3.4 3.4 0 1 0 6.8 0a3.4 3.4 0 1 0 -6.8 0M970.4 805.07a3.4 3.4 0 1 0 6.8 0a3.4 3.4 0 1 0 -6.8 0M929.19 695.43a3.4 3.4 0 1 0 6.8 0a3.4 3.4 0 1 0 -6.8 0M950.5 669.22a3.4 3.4 0 1 0 6.8 0a3.4 3.4 0 1 0 -6.8 0M941.72 768.51a3.4 3.4 0 1 0 6.8 0a3.4 3.4 0 1 0 -6.8 0M966.64 648.22a3.4 3.4 0 1 0 6.8 0a3.4 3.4 0 1 0 -6.8 0M943.79 729.76a3.4 3.4 0 1 0 6.8 0a3.4 3.4 0 1 0 -6.8 0M938.31 733.51a3.4 3.4 0 1 0 6.8 0a3.4 3.4 0 1 0 -6.8 0M925.21 691.83a3.4 3.4 0 1 0 6.8 0a3.4 3.4 0 1 0 -6.8 0M945.92 752.67a3.4 3.4 0 1 0 6.8 0a3.4 3.4 0 1 0 -6.8 0M963.04 689.45a3.4 3.4 0 1 0 6.8 0a3.4 3.4 0 1 0 -6.8 0M936.03 668.62a3.4 3.4 0 1 0 6.8 0a3.4 3.4 0 1 0 -6.8 0M969.35 785.93a3.4 3.4 0 1 0 6.8 0a3.4 3.4 0 1 0 -6.8 0M965.56 677.35a3.4 3.4 0 1 0 6.8 0a3.4 3.4 0 1 0 -6.8 0M963.4 780.92a3.4 3.4 0 1 0 6.8 0a3.4 3.4 0 1 0 -6.8 0M968.48 800.59a3.4 3.4 0 1 0 6.8 0a3.4 3.4 0 1 0 -6.8 0M946.31 747.81a3.4 3.4 0 1 0 6.8 0a3.4 3.4 0 1 0 -6.8 0M957.83 685.08a3.4 3.4 0 1 0 6.8 0a3.4 3.4 0 1 0 -6.8 0M954.16 704.47a3.4 3.4 0 1 0 6.8 0a3.4 3.4 0 1 0 -6.8 0M956.96 724.48a3.4 3.4 0 1 0 6.8 0a3.4 3.4 0 1 0 -6.8 0M931.26 697.95a3.4 3.4 0 1 0 6.8 0a3.4 3.4 0 1 0 -6.8 0M943.34 743.49a3.4 3.4 0 1 0 6.8 0a3.4 3.4 0 1 0 -6.8 0M963.9 821.4a3.4 3.4 0 1 0 6.8 0a3.4 3.4 0 1 0 -6.8 0M943.2 698.54a3.4 3.4 0 1 0 6.8 0a3.4 3.4 0 1 0 -6.8 0M935.04 705.93a3.4 3.4 0 1 0 6.8 0a3.4 3.4 0 1 0 -6.8 0M965.23 668.99a3.4 3.4 0 1 0 6.8 0a3.4 3.4 0 1 0 -6.8 0M951.82 798.79a3.4 3.4 0 1 0 6.8 0a3.4 3.4 0 1 0 -6.8 0M962.25 648.3a3.4 3.4 0 1 0 6.8 0a3.4 3.4 0 1 0 -6.8 0M953.83 700.9a3.4 3.4 0 1 0 6.8 0a3.4 3.4 0 1 0 -6.8 0M964.65 734.65a3.4 3.4 0 1 0 6.8 0a3.4 3.4 0 1 0 -6.8 0M944.3 792.63a3.4 3.4 0 1 0 6.8 0a3.4 3.4 0 1 0 -6.8 0M967.98 815.62a3.4 3.4 0 1 0 6.8 0a3.4 3.4 0 1 0 -6.8 0M950.9 710.04a3.4 3.4 0 1 0 6.8 0a3.4 3.4 0 1 0 -6.8 0M962.77 835.31a3.4 3.4 0 1 0 6.8 0a3.4 3.4 0 1 0 -6.8 0M946.02 757.05a3.4 3.4 0 1 0 6.8 0a3.4 3.4 0 1 0 -6.8 0M960.92 738.39a3.4 3.4 0 1 0 6.8 0a3.4 3.4 0 1 0 -6.8 0M964.7 681.04a3.4 3.4 0 1 0 6.8 0a3.4 3.4 0 1 0 -6.8 0M961.31 643.65a3.4 3.4 0 1 0 6.8 0a3.4 3.4 0 1 0 -6.8 0M963.42 795.95a3.4 3.4 0 1 0 6.8 0a3.4 3.4 0 1 0 -6.8 0M963.5 772.26a3.4 3.4 0 1 0 6.8 0a3.4 3.4 0 1 0 -6.8 0M940.63 750.73a3.4 3.4 0 1 0 6.8 0a3.4 3.4 0 1 0 -6.8 0M969.25 734.27a3.4 3.4 0 1 0 6.8 0a3.4 3.4 0 1 0 -6.8 0M944.53 716.98a3.4 3.4 0 1 0 6.8 0a3.4 3.4 0 1 0 -6.8 0M961.81 681.3a3.4 3.4 0 1 0 6.8 0a3.4 3.4 0 1 0 -6.8 0M953.36 761.78a3.4 3.4 0 1 0 6.8 0a3.4 3.4 0 1 0 -6.8 0M925.62 720.65a3.4 3.4 0 1 0 6.8 0a3.4 3.4 0 1 0 -6.8 0M965.97 705.72a3.4 3.4 0 1 0 6.8 0a3.4 3.4 0 1 0 -6.8 0M956.57 670.7a3.4 3.4 0 1 0 6.8 0a3.4 3.4 0 1 0 -6.8 0M966.63 827.51a3.4 3.4 0 1 0 6.8 0a3.4 3.4 0 1 0 -6.8 0M968.94 781.27a3.4 3.4 0 1 0 6.8 0a3.4 3.4 0 1 0 -6.8 0M956.59 664.04a3.4 3.4 0 1 0 6.8 0a3.4 3.4 0 1 0 -6.8 0M958.95 712.86a3.4 3.4 0 1 0 6.8 0a3.4 3.4 0 1 0 -6.8 0M967.93 822.94a3.4 3.4 0 1 0 6.8 0a3.4 3.4 0 1 0 -6.8 0M971.11 683.4a3.4 3.4 0 1 0 6.8 0a3.4 3.4 0 1 0 -6.8 0M950.19 730.82a3.4 3.4 0 1 0 6.8 0a3.4 3.4 0 1 0 -6.8 0M964 794.4a3.4 3.4 0 1 0 6.8 0a3.4 3.4 0 1 0 -6.8 0M945.98 716.22a3.4 3.4 0 1 0 6.8 0a3.4 3.4 0 1 0 -6.8 0M960.23 726.59a3.4 3.4 0 1 0 6.8 0a3.4 3.4 0 1 0 -6.8 0M934.71 681.89a3.4 3.4 0 1 0 6.8 0a3.4 3.4 0 1 0 -6.8 0M936.47 651.08a3.4 3.4 0 1 0 6.8 0a3.4 3.4 0 1 0 -6.8 0M937.91 765.28a3.4 3.4 0 1 0 6.8 0a3.4 3.4 0 1 0 -6.8 0M921.81 706.66a3.4 3.4 0 1 0 6.8 0a3.4 3.4 0 1 0 -6.8 0M957.4 781.21a3.4 3.4 0 1 0 6.8 0a3.4 3.4 0 1 0 -6.8 0M947.06 734.3a3.4 3.4 0 1 0 6.8 0a3.4 3.4 0 1 0 -6.8 0M943.57 732.58a3.4 3.4 0 1 0 6.8 0a3.4 3.4 0 1 0 -6.8 0M937.18 753.31a3.4 3.4 0 1 0 6.8 0a3.4 3.4 0 1 0 -6.8 0M946.68 735.47a3.4 3.4 0 1 0 6.8 0a3.4 3.4 0 1 0 -6.8 0M928.75 700.6a3.4 3.4 0 1 0 6.8 0a3.4 3.4 0 1 0 -6.8 0M952.48 786.64a3.4 3.4 0 1 0 6.8 0a3.4 3.4 0 1 0 -6.8 0M917.8 669.96a3.4 3.4 0 1 0 6.8 0a3.4 3.4 0 1 0 -6.8 0M969.07 697.84a3.4 3.4 0 1 0 6.8 0a3.4 3.4 0 1 0 -6.8 0M924.62 685.46a3.4 3.4 0 1 0 6.8 0a3.4 3.4 0 1 0 -6.8 0M966.59 772.75a3.4 3.4 0 1 0 6.8 0a3.4 3.4 0 1 0 -6.8 0M962.93 701.9a3.4 3.4 0 1 0 6.8 0a3.4 3.4 0 1 0 -6.8 0M969.15 777.21a3.4 3.4 0 1 0 6.8 0a3.4 3.4 0 1 0 -6.8 0M944.4 781.16a3.4 3.4 0 1 0 6.8 0a3.4 3.4 0 1 0 -6.8 0M967.77 691.24a3.4 3.4 0 1 0 6.8 0a3.4 3.4 0 1 0 -6.8 0M964.34 716.09a3.4 3.4 0 1 0 6.8 0a3.4 3.4 0 1 0 -6.8 0M955.27 695.57a3.4 3.4 0 1 0 6.8 0a3.4 3.4 0 1 0 -6.8 0M952.27 783.19a3.4 3.4 0 1 0 6.8 0a3.4 3.4 0 1 0 -6.8 0M968.6 679.29a3.4 3.4 0 1 0 6.8 0a3.4 3.4 0 1 0 -6.8 0M961.69 750.91a3.4 3.4 0 1 0 6.8 0a3.4 3.4 0 1 0 -6.8 0M915.96 687.19a3.4 3.4 0 1 0 6.8 0a3.4 3.4 0 1 0 -6.8 0M927.13 723.98a3.4 3.4 0 1 0 6.8 0a3.4 3.4 0 1 0 -6.8 0M951.18 748.34a3.4 3.4 0 1 0 6.8 0a3.4 3.4 0 1 0 -6.8 0M925.04 659.58a3.4 3.4 0 1 0 6.8 0a3.4 3.4 0 1 0 -6.8 0M945.94 747.44a3.4 3.4 0 1 0 6.8 0a3.4 3.4 0 1 0 -6.8 0M965.05 774.24a3.4 3.4 0 1 0 6.8 0a3.4 3.4 0 1 0 -6.8 0M964.45 706.04a3.4 3.4 0 1 0 6.8 0a3.4 3.4 0 1 0 -6.8 0M960.22 779.01a3.4 3.4 0 1 0 6.8 0a3.4 3.4 0 1 0 -6.8 0M950.6 702.76a3.4 3.4 0 1 0 6.8 0a3.4 3.4 0 1 0 -6.8 0M965.71 762.34a3.4 3.4 0 1 0 6.8 0a3.4 3.4 0 1 0 -6.8 0M968.55 678.61a3.4 3.4 0 1 0 6.8 0a3.4 3.4 0 1 0 -6.8 0M956.7 782.56a3.4 3.4 0 1 0 6.8 0a3.4 3.4 0 1 0 -6.8 0M943.49 774.72a3.4 3.4 0 1 0 6.8 0a3.4 3.4 0 1 0 -6.8 0M953.87 740.2a3.4 3.4 0 1 0 6.8 0a3.4 3.4 0 1 0 -6.8 0M927.65 672.94a3.4 3.4 0 1 0 6.8 0a3.4 3.4 0 1 0 -6.8 0M939.09 688.67a3.4 3.4 0 1 0 6.8 0a3.4 3.4 0 1 0 -6.8 0M970.01 791.66a3.4 3.4 0 1 0 6.8 0a3.4 3.4 0 1 0 -6.8 0M945.78 652.29a3.4 3.4 0 1 0 6.8 0a3.4 3.4 0 1 0 -6.8 0M951.85 768.07a3.4 3.4 0 1 0 6.8 0a3.4 3.4 0 1 0 -6.8 0M971.03 833.64a3.4 3.4 0 1 0 6.8 0a3.4 3.4 0 1 0 -6.8 0M970.4 813.83a3.4 3.4 0 1 0 6.8 0a3.4 3.4 0 1 0 -6.8 0M966.08 666.01a3.4 3.4 0 1 0 6.8 0a3.4 3.4 0 1 0 -6.8 0M954.21 650.81a3.4 3.4 0 1 0 6.8 0a3.4 3.4 0 1 0 -6.8 0M934.27 712.53a3.4 3.4 0 1 0 6.8 0a3.4 3.4 0 1 0 -6.8 0M961.2 818.31a3.4 3.4 0 1 0 6.8 0a3.4 3.4 0 1 0 -6.8 0M968.15 716.03a3.4 3.4 0 1 0 6.8 0a3.4 3.4 0 1 0 -6.8 0M957.34 753.81a3.4 3.4 0 1 0 6.8 0a3.4 3.4 0 1 0 -6.8 0"/>
<polygon fill="#cc1a3a" points="1060,701.13 1060,854.25 1065.63,850.02 1071.05,839.2 1072.01,824.8 1072.06,824.41 1075.06,809.41 1075.13,809.13 1075.23,808.85 1075.35,808.59 1075.5,808.34 1082.86,797.31 1081.06,785.62 1077.1,770.77 1077.04,770.5 1077.01,770.22 1077,769.95 1077.02,769.67 1079.02,751.67 1079.07,751.36 1079.15,751.05 1083.06,739.32 1084.9,725.52 1080.46,716.63 1072.66,706.87 1072.48,706.63 1072.33,706.36 1072.2,706.08 1072.11,705.79 1069.57,696.48 1065.05,695.35 1060,701.13"/>
<path fill="#cc1a3a" d="M1077.08 778.38a3.4 3.4 0 1 0 6.8 0a3.4 3.4 0 1 0 -6.8 0M1070.25 810.72a3.4 3.4 0 1 0 6.8 0a3.4 3.4 0 1 0 -6.8 0M1059.51 810.29a3.4 3.4 0 1 0 6.8 0a3.4 3.4 0 1 0 -6.8 0M1056.24 712.25a3.4 3.4 0 1 0 6.8 0a3.4 3.4 0 1 0 -6.8 0M1063.17 797.07a3.4 3.4 0 1 0 6.8 0a3.4 3.4 0 1 0 -6.8 0M1067.38 803.37a3.4 3.4 0 1 0 6.8 0a3.4 3.4 0 1 0 -6.8 0M1058.68 822.14a3.4 3.4 0 1 0 6.8 0a3.4 3.4 0 1 0 -6.8 0M1073.11 784.74a3.4 3.4 0 1 0 6.8 0a3.4 3.4 0 1 0 -6.8 0M1063.88 745.46a3.4 3.4 0 1 0 6.8 0a3.4 3.4 0 1 0 -6.8 0M1062.27 819.76a3.4 3.4 0 1 0 6.8 0a3.4 3.4 0 1 0 -6.8 0M1065.94 711.47a3.4 3.4 0 1 0 6.8 0a3.4 3.4 0 1 0 -6.8 0M1066.3 745.55a3.4 3.4 0 1 0 6.8 0a3.4 3.4 0 1 0 -6.8 0M1065.05 751.85a3.4 3.4 0 1 0 6.8 0a3.4 3.4 0 1 0 -6.8 0M1055.71 848.19a3.4 3.4 0 1 0 6.8 0a3.4 3.4 0 1 0 -6.8 0M1063.6 744.07a3.4 3.4 0 1 0 6.8 0a3.4 3.4 0 1 0 -6.8 0M1056.53 752.13a3.4 3.4 0 1 0 6.8 0a3.4 3.4 0 1 0 -6.8 0M1061.41 771.05a3.4 3.4 0 1 0 6.8 0a3.4 3.4 0 1 0 -6.8 0M1059.37 789.41a3.4 3.4 0 1 0 6.8 0a3.4 3.4 0 1 0 -6.8 0M1066.7 766.11a3.4 3.4 0 1 0 6.8 0a3.4 3.4 0 1 0 -6.8 0M1056.21 829.61a3.4 3.4 0 1 0 6.8 0a3.4 3.4 0 1 0 -6.8 0M1075.89 727.69a3.4 3.4 0 1 0 6.8 0a3.4 3.4 0 1 0 -6.8 0M1071.78 728.97a3.4 3.4 0 1 0 6.8 0a3.4 3.4 0 1 0 -6.8 0M1073.33 738.69a3.4 3.4 0 1 0 6.8 0a3.4 3.4 0 1 0 -6.8 0M1059.49 812.39a3.4 3.4 0 1 0 6.8 0a3.4 3.4 0 1 0 -6.8 0M1060.74 829.53a3.4 3.4 0 1 0 6.8 0a3.4 3.4 0 1 0 -6.8 0M1062.84 851.02a3.4 3.4 0 1 0 6.8 0a3.4 3.4 0 1 0 -6.8 0M1081.26 730.4a3.4 3.4 0 1 0 6.8 0a3.4 3.4 0 1 0 -6.8 0M1065.54 818.31a3.4 3.4 0 1 0 6.8 0a3.4 3.4 0 1 0 -6.8 0M1077.13 723.3a3.4 3.4 0 1 0 6.8 0a3.4 3.4 0 1 0 -6.8 0M1059.35 840.97a3.4 3.4 0 1 0 6.8 0a3.4 3.4 0 1 0 -6.8 0M1073.81 740a3.4 3.4 0 1 0 6.8 0a3.4 3.4 0 1 0 -6.8 0M1076.62 774.19a3.4 3.4 0 1 0 6.8 0a3.4 3.4 0 1 0 -6.8 0M1074.71 768.62a3.4 3.4 0 1 0 6.8 0a3.4 3.4 0 1 0 -6.8 0M1057.54 820.88a3.4 3.4 0 1 0 6.8 0a3.4 3.4 0 1 0 -6.8 0M1064.35 827.89a3.4 3.4 0 1 0 6.8 0a3.4 3.4 0 1 0 -6.8 0M1067.37 720.55a3.4 3.4 0 1 0 6.8 0a3.4 3.4 0 1 0 -6.8 0M1068.98 710.16a3.4 3.4 0 1 0 6.8 0a3.4 3.4 0 1 0 -6.8 0M1057.6 735.35a3.4 3.4 0 1 0 6.8 0a3.4 3.4 0 1 0 -6.8 0M1054.53 767.56a3.4 3.4 0 1 0 6.8 0a3.4 3.4 0 1 0 -6.8 0M1071.17 800.68a3.4 3.4 0 1 0 6.8 0a3.4 3.4 0 1 0 -6.8 0M1060.55 803.8a3.4 3.4 0 1 0 6.8 0a3.4 3.4 0 1 0 -6.8 0M1066.34 724.95a3.4 3.4 0 1 0 6.8 0a3.4 3.4 0 1 0 -6.8 0M1066.38 798.73a3.4 3.4 0 1 0 6.8 0a3.4 3.4 0 1 0 -6.8 0M1075.62 739.42a3.4 3.4 0 1 0 6.8 0a3.4 3.4 0 1 0 -6.8 0M1059.15 846.75a3.4 3.4 0 1 0 6.8 0a3.4 3.4 0 1 0 -6.8 0M1054.71 756.15a3.4 3.4 0 1 0 6.8 0a3.4 3.4 0 1 0 -6.8 0M1074.85 778.86a3.4 3.4 0 1 0 6.8 0a3.4 3.4 0 1 0 -6.8 0M1071.91 715.73a3.4 3.4 0 1 0 6.8 0a3.4 3.4 0 1 0 -6.8 0M1077.48 736.36a3.4 3.4 0 1 0 6.8 0a3.4 3.4 0 1 0 -6.8 0M1056.82 824.19a3.4 3.4 0 1 0 6.8 0a3.4 3.4 0 1 0 -6.8 0M1055.8 714.66a3.4 3.4 0 1 0 6.8 0a3.4 3.4 0 1 0 -6.8 0M1073.42 725.05a3.4 3.4 0 1 0 6.8 0a3.4 3.4 0 1 0 -6.8 0M1079.03 731.12a3.4 3.4 0 1 0 6.8 0a3.4 3.4 0 1 0 -6.8 0M1066.09 731.62a3.4 3.4 0 1 0 6.8 0a3.4 3.4 0 1 0 -6.8 0M1062.94 730.1a3.4 3.4 0 1 0 6.8 0a3.4 3.4 0 1 0 -6.8 0M1080.6 743.12a3.4 3.4 0 1 0 6.8 0a3.4 3.4 0 1 0 -6.8 0M1076.51 790.32a3.4 3.4 0 1 0 6.8 0a3.4 3.4 0 1 0 -6.8 0M1069.25 727a3.4 3.4 0 1 0 6.8 0a3.4 3.4 0 1 0 -6.8 0M1074.96 754.41a3.4 3.4 0 1 0 6.8 0a3.4 3.4 0 1 0 -6.8 0M1069.1 737.15a3.4 3.4 0 1 0 6.8 0a3.4 3.4 0 1 0 -6.8 0M1057.74 824.82a3.4 3.4 0 1 0 6.8 0a3.4 3.4 0 1 0 -6.8 0M1061.6 693.51a3.4 3.4 0 1 0 6.8 0a3.4 3.4 0 1 0 -6.8 0M1060.58 737.55a3.4 3.4 0 1 0 6.8 0a3.4 3.4 0 1 0 -6.8 0M1057.55 790.95a3.4 3.4 0 1 0 6.8 0a3.4 3.4 0 1 0 -6.8 0M1061.97 758.8a3.4 3.4 0 1 0 6.8 0a3.4 3.4 0 1 0 -6.8 0M1059.37 748.01a3.4 3.4 0 1 0 6.8 0a3.4 3.4 0 1 0 -6.8 0M1065.04 780.46a3.4 3.4 0 1 0 6.8 0a3.4 3.4 0 1 0 -6.8 0M1065.35 761.51a3.4 3.4 0 1 0 6.8 0a3.4 3.4 0 1 0 -6.8 0M1069.31 773.83a3.4 3.4 0 1 0 6.8 0a3.4 3.4 0 1 0 -6.8 0M1069.87 741.86a3.4 3.4 0 1 0 6.8 0a3.4 3.4 0 1 0 -6.8 0M1070.41 814.1a3.4 3.4 0 1 0 6.8 0a3.4 3.4 0 1 0 -6.8 0M1068.5 819.35a3.4 3.4 0 1 0 6.8 0a3.4 3.4 0 1 0 -6.8 0M1071.61 819.15a3.4 3.4 0 1 0 6.8 0a3.4 3.4 0 1 0 -6.8 0M1064.41 819.25a3.4 3.4 0 1 0 6.8 0a3.4 3.4 0 1 0 -6.8 0M1056.05 737.24a3.4 3.4 0 1 0 6.8 0a3.4 3.4 0 1 0 -6.8 0M1074.02 806.18a3.4 3.4 0 1 0 6.8 0a3.4 3.4 0 1 0 -6.8 0M1072.13 758.88a3.4 3.4 0 1 0 6.8 0a3.4 3.4 0 1 0 -6.8 0M1072.28 791.66a3.4 3.4 0 1 0 6.8 0a3.4 3.4 0 1 0 -6.8 0M1065.32 804.97a3.4 3.4 0 1 0 6.8 0a3.4 3.4 0 1 0 -6.8 0M1066.55 754.77a3.4 3.4 0 1 0 6.8 0a3.4 3.4 0 1 0 -6.8 0M1069.52 776.91a3.4 3.4 0 1 0 6.8 0a3.4 3.4 0 1 0 -6.8 0M1057 807.14a3.4 3.4 0 1 0 6.8 0a3.4 3.4 0 1 0 -6.8 0M1066.52 797.4a3.4 3.4 0 1 0 6.8 0a3.4 3.4 0 1 0 -6.8 0M1080.92 738.78a3.4 3.4 0 1 0 6.8 0a3.4 3.4 0 1 0 -6.8 0M1056.49 712.77a3.4 3.4 0 1 0 6.8 0a3.4 3.4 0 1 0 -6.8 0M1068.33 790.57a3.4 3.4 0 1 0 6.8 0a3.4 3.4 0 1 0 -6.8 0M1058.87 837.95a3.4 3.4 0 1 0 6.8 0a3.4 3.4 0 1 0 -6.8 0M1055 808.28a3.4 3.4 0 1 0 6.8 0a3.4 3.4 0 1 0 -6.8 0M1063.97 829.18a3.4 3.4 0 1 0 6.8 0a3.4 3.4 0 1 0 -6.8 0M1067.27 784.78a3.4 3.4 0 1 0 6.8 0a3.4 3.4 0 1 0 -6.8 0M1055.7 830.05a3.4 3.4 0 1 0 6.8 0a3.4 3.4 0 1 0 -6.8 0M1068.23 754.34a3.4 3.4 0 1 0 6.8 0a3.4 3.4 0 1 0 -6.8 0M1065.3 718.5a3.4 3.4 0 1 0 6.8 0a3.4 3.4 0 1 0 -6.8 0M1064.65 817.72a3.4 3.4 0 1 0 6.8 0a3.4 3.4 0 1 0 -6.8 0M1073.44 716.54a3.4 3.4 0 1 0 6.8 0a3.4 3.4 0 1 0 -6.8 0M1057.24 787.08a3.4 3.4 0 1 0 6.8 0a3.4 3.4 0 1 0 -6.8 0M1063.82 733.98a3.4 3.4 0 1 0 6.8 0a3.4 3.4 0 1 0 -6.8 0M1073.82 784.2a3.4 3.4 0 1 0 6.8 0a3.4 3.4 0 1 0 -6.8 0M1071.79 777.35a3.4 3.4 0 1 0 6.8 0a3.4 3.4 0 1 0 -6.8 0M1071.04 813.07a3.4 3.4 0 1 0 6.8 0a3.4 3.4 0 1 0 -6.8 0M1064.41 757.52a3.4 3.4 0 1 0 6.8 0a3.4 3.4 0 1 0 -6.8 0M1070.07 768.66a3.4 3.4 0 1 0 6.8 0a3.4 3.4 0 1 0 -6.8 0M1074.04 759.52a3.4 3.4 0 1 0 6.8 0a3.4 3.4 0 1 0 -6.8 0M1069.61 774.06a3.4 3.4 0 1 0 6.8 0a3.4 3.4 0 1 0 -6.8 0M1066.1 823.09a3.4 3.4 0 1 0 6.8 0a3.4 3.4 0 1 0 -6.8 0M1070.41 807.88a3.4 3.4 0 1 0 6.8 0a3.4 3.4 0 1 0 -6.8 0M1055.04 826.33a3.4 3.4 0 1 0 6.8 0a3.4 3.4 0 1 0 -6.8 0M1062.01 835.24a3.4 3.4 0 1 0 6.8 0a3.4 3.4 0 1 0 -6.8 0M1072.86 793.86a3.4 3.4 0 1 0 6.8 0a3.4 3.4 0 1 0 -6.8 0M1075.19 729.76a3.4 3.4 0 1 0 6.8 0a3.4 3.4 0 1 0 -6.8 0M1066.32 835.53a3.4 3.4 0 1 0 6.8 0a3.4 3.4 0 1 0 -6.8 0M1068.23 760.58a3.4 3.4 0 1 0 6.8 0a3.4 3.4 0 1 0 -6.8 0M1055.35 718.26a3.4 3.4 0 1 0 6.8 0a3.4 3.4 0 1 0 -6.8 0M1056.76 790.78a3.4 3.4 0 1 0 6.8 0a3.4 3.4 0 1 0 -6.8 0M1057.52 772.61a3.4 3.4 0 1 0 6.8 0a3.4 3.4 0 1 0 -6.8 0M1065.85 739.55a3.4 3.4 0 1 0 6.8 0a3.4 3.4 0 1 0 -6.8 0M1073.85 714.81a3.4 3.4 0 1 0 6.8 0a3.4 3.4 0 1 0 -6.8 0M1055.71 713.66a3.4 3.4 0 1 0 6.8 0a3.4 3.4 0 1 0 -6.8 0M1075.65 729.87a3.4 3.4 0 1 0 6.8 0a3.4 3.4 0 1 0 -6.8 0M1067.16 699.11a3.4 3.4 0 1 0 6.8 0a3.4 3.4 0 1 0 -6.8 0M1061.87 795.44a3.4 3.4 0 1 0 6.8 0a3.4 3.4 0 1 0 -6.8 0M1058.29 708.86a3.4 3.4 0 1 0 6.8 0a3.4 3.4 0 1 0 -6.8 0M1064.27 810.08a3.4 3.4 0 1 0 6.8 0a3.4 3.4 0 1 0 -6.8 0M1054.98 770.24a3.4 3.4 0 1 0 6.8 0a3.4 3.4 0 1 0 -6.8 0M1063.81 708.34a3.4 3.4 0 1 0 6.8 0a3.4 3.4 0 1 0 -6.8 0M1057.73 802.48a3.4 3.4 0 1 0 6.8 0a3.4 3.4 0 1 0 -6.8 0M1064.78 763.83a3.4 3.4 0 1 0 6.8 0a3.4 3.4 0 1 0 -6.8 0M1076.33 729.69a3.4 3.4 0 1 0 6.8 0a3.4 3.4 0 1 0 -6.8 0M1063.65 739.72a3.4 3.4 0 1 0 6.8 0a3.4 3.4 0 1 0 -6.8 0M1068.3 714.36a3.4 3.4 0 1 0 6.8 0a3.4 3.4 0 1 0 -6.8 0M1074.97 795.07a3.4 3.4 0 1 0 6.8 0a3.4 3.4 0 1 0 -6.8 0M1068.59 702.34a3.4 3.4 0 1 0 6.8 0a3.4 3.4 0 1 0 -6.8 0M1063.18 734.27a3.4 3.4 0 1 0 6.8 0a3.4 3.4 0 1 0 -6.8 0M1066.54 791.96a3.4 3.4 0 1 0 6.8 0a3.4 3.4 0 1 0 -6.8 0M1059.81 715.71a3.4 3.4 0 1 0 6.8 0a3.4 3.4 0 1 0 -6.8 0M1075.55 740.6a3.4 3.4 0 1 0 6.8 0a3.4 3.4 0 1 0 -6.8 0M1060.04 756.55a3.4 3.4 0 1 0 6.8 0a3.4 3.4 0 1 0 -6.8 0M1054.6 702.41a3.4 3.4 0 1 0 6.8 0a3.4 3.4 0 1 0 -6.8 0M1065.88 843.42a3.4 3.4 0 1 0 6.8 0a3.4 3.4 0 1 0 -6.8 0M1055.7 750.94a3.4 3.4 0 1 0 6.8 0a3.4 3.4 0 1 0 -6.8 0M1061.34 836.49a3.4 3.4 0 1 0 6.8 0a3.4 3.4 0 1 0 -6.8 0M1056.26 840.45a3.4 3.4 0 1 0 6.8 0a3.4 3.4 0 1 0 -6.8 0M1066.38 750.22a3.4 3.4 0 1 0 6.8 0a3.4 3.4 0 1 0 -6.8 0M1076 790.75a3.4 3.4 0 1 0 6.8 0a3.4 3.4 0 1 0 -6.8 0M1064.12 757.92a3.4 3.4 0 1 0 6.8 0a3.4 3.4 0 1 0 -6.8 0M1058.51 767.98a3.4 3.4 0 1 0 6.8 0a3.4 3.4 0 1 0 -6.8 0M1067.77 835.78a3.4 3.4 0 1 0 6.8 0a3.4 3.4 0 1 0 -6.8 0M1067.5 741.34a3.4 3.4 0 1 0 6.8 0a3.4 3.4 0 1 0 -6.8 0M1061.8 851.78a3.4 3.4 0 1 0 6.8 0a3.4 3.4 0 1 0 -6.8 0M1058.57 827.1a3.4 3.4 0 1 0 6.8 0a3.4 3.4 0 1 0 -6.8 0M1055.86 732.34a3.4 3.4 0 1 0 6.8 0a3.4 3.4 0 1 0 -6.8 0M1061.57 850.85a3.4 3.4 0 1 0 6.8 0a3.4 3.4 0 1 0 -6.8 0M1075.13 777.53a3.4 3.4 0 1 0 6.8 0a3.4 3.4 0 1 0 -6.8 0M1076.63 787.23a3.4 3.4 0 1 0 6.8 0a3.4 3.4 0 1 0 -6.8 0M1069.97 738.19a3.4 3.4 0 1 0 6.8 0a3.4 3.4 0 1 0 -6.8 0M1066 711.92a3.4 3.4 0 1 0 6.8 0a3.4 3.4 0 1 0 -6.8 0M1055.56 802.37a3.4 3.4 0 1 0 6.8 0a3.4 3.4 0 1 0 -6.8 0M1068.01 797.21a3.4 3.4 0 1 0 6.8 0a3.4 3.4 0 1 0 -6.8 0M1076.51 728.11a3.4 3.4 0 1 0 6.8 0a3.4 3.4 0 1 0 -6.8 0M1065.49 764.85a3.4 3.4 0 1 0 6.8 0a3.4 3.4 0 1 0 -6.8 0M1192 558.8a3.4 3.4 0 1 0 6.8 0a3.4 3.4 0 1 0 -6.8 0M1084.8 627.6a3.4 3.4 0 1 0 6.8 0a3.4 3.4 0 1 0 -6.8 0M1069.6 640.7a3.4 3.4 0 1 0 6.8 0a3.4 3.4 0 1 0 -6.8 0M1071.6 638.5a3.4 3.4 0 1 0 6.8 0a3.4 3.4 0 1 0 -6.8 0M1054.2 660.1a3.4 3.4 0 1 0 6.8 0a3.4 3.4 0 1 0 -6.8 0M1081.4 662.3a3.4 3.4 0 1 0 6.8 0a3.4 3.4 0 1 0 -6.8 0M1088.6 662.9a3.4 3.4 0 1 0 6.8 0a3.4 3.4 0 1 0 -6.8 0M1103.7 663.1a3.4 3.4 0 1 0 6.8 0a3.4 3.4 0 1 0 -6.8 0M1057.4 672.9a3.4 3.4 0 1 0 6.8 0a3.4 3.4 0 1 0 -6.8 0M1063.6 676.9a3.4 3.4 0 1 0 6.8 0a3.4 3.4 0 1 0 -6.8 0M1087.7 680.3a3.4 3.4 0 1 0 6.8 0a3.4 3.4 0 1 0 -6.8 0M1093 685.4a3.4 3.4 0 1 0 6.8 0a3.4 3.4 0 1 0 -6.8 0M1100.1 676.3a3.4 3.4 0 1 0 6.8 0a3.4 3.4 0 1 0 -6.8 0M1098.1 692.1a3.4 3.4 0 1 0 6.8 0a3.4 3.4 0 1 0 -6.8 0M1113.9 672.4a3.4 3.4 0 1 0 6.8 0a3.4 3.4 0 1 0 -6.8 0M1115.6 685.3a3.4 3.4 0 1 0 6.8 0a3.4 3.4 0 1 0 -6.8 0M1106.6 706a3.4 3.4 0 1 0 6.8 0a3.4 3.4 0 1 0 -6.8 0M1082.2 711.6a3.4 3.4 0 1 0 6.8 0a3.4 3.4 0 1 0 -6.8 0M1110.6 722a3.4 3.4 0 1 0 6.8 0a3.4 3.4 0 1 0 -6.8 0M1108.2 731.9a3.4 3.4 0 1 0 6.8 0a3.4 3.4 0 1 0 -6.8 0M1094.6 733.8a3.4 3.4 0 1 0 6.8 0a3.4 3.4 0 1 0 -6.8 0M1091.1 741a3.4 3.4 0 1 0 6.8 0a3.4 3.4 0 1 0 -6.8 0M1093 747a3.4 3.4 0 1 0 6.8 0a3.4 3.4 0 1 0 -6.8 0M1089.6 756a3.4 3.4 0 1 0 6.8 0a3.4 3.4 0 1 0 -6.8 0M1130.2 757.6a3.4 3.4 0 1 0 6.8 0a3.4 3.4 0 1 0 -6.8 0M1097.3 780.3a3.4 3.4 0 1 0 6.8 0a3.4 3.4 0 1 0 -6.8 0M1126.1 788.3a3.4 3.4 0 1 0 6.8 0a3.4 3.4 0 1 0 -6.8 0M1106.6 790.6a3.4 3.4 0 1 0 6.8 0a3.4 3.4 0 1 0 -6.8 0M1080.6 797a3.4 3.4 0 1 0 6.8 0a3.4 3.4 0 1 0 -6.8 0M1081.8 806a3.4 3.4 0 1 0 6.8 0a3.4 3.4 0 1 0 -6.8 0M1101.7 806.2a3.4 3.4 0 1 0 6.8 0a3.4 3.4 0 1 0 -6.8 0M1087.4 810a3.4 3.4 0 1 0 6.8 0a3.4 3.4 0 1 0 -6.8 0M1089.8 813.7a3.4 3.4 0 1 0 6.8 0a3.4 3.4 0 1 0 -6.8 0M1073.2 847.6a3.4 3.4 0 1 0 6.8 0a3.4 3.4 0 1 0 -6.8 0M1061.8 855.7a3.4 3.4 0 1 0 6.8 0a3.4 3.4 0 1 0 -6.8 0M1069.3 846.6a3.4 3.4 0 1 0 6.8 0a3.4 3.4 0 1 0 -6.8 0M1058.6 692a3.4 3.4 0 1 0 6.8 0a3.4 3.4 0 1 0 -6.8 0M1064.6 690a3.4 3.4 0 1 0 6.8 0a3.4 3.4 0 1 0 -6.8 0M1081.6 720a3.4 3.4 0 1 0 6.8 0a3.4 3.4 0 1 0 -6.8 0M1085.6 730a3.4 3.4 0 1 0 6.8 0a3.4 3.4 0 1 0 -6.8 0"/>
<path fill="#000" d="M973.4 510.8h3.4v3.6h-3.4zM973.4 523.43h3.4v3.6h-3.4zM973.4 536.06h3.4v3.6h-3.4zM973.4 548.69h3.4v3.6h-3.4zM973.4 561.32h3.4v3.6h-3.4zM973.4 573.95h3.4v3.6h-3.4zM973.4 586.58h3.4v3.6h-3.4zM973.4 599.21h3.4v3.6h-3.4zM973.4 611.84h3.4v3.6h-3.4zM973.4 624.47h3.4v3.6h-3.4zM973.4 637.1h3.4v3.6h-3.4zM973.4 649.73h3.4v3.6h-3.4zM973.4 662.36h3.4v3.6h-3.4zM973.4 674.99h3.4v3.6h-3.4zM973.4 687.62h3.4v3.6h-3.4zM973.4 700.25h3.4v3.6h-3.4zM973.4 712.88h3.4v3.6h-3.4zM973.4 725.51h3.4v3.6h-3.4zM973.4 738.14h3.4v3.6h-3.4zM973.4 750.77h3.4v3.6h-3.4zM973.4 763.4h3.4v3.6h-3.4zM973.4 776.03h3.4v3.6h-3.4zM973.4 788.66h3.4v3.6h-3.4zM973.4 801.29h3.4v3.6h-3.4zM973.4 813.92h3.4v3.6h-3.4zM973.4 826.55h3.4v3.6h-3.4zM973.4 839.18h3.4v3.6h-3.4zM973.4 851.81h3.4v3.6h-3.4zM973.4 864.44h3.4v3.6h-3.4zM973.4 877.07h3.4v3.6h-3.4zM973.4 889.7h3.4v3.6h-3.4zM973.4 902.33h3.4v3.6h-3.4z"/>
<path fill="#000" d="M1055.9 510.8h3.4v3.6h-3.4zM1055.9 523.43h3.4v3.6h-3.4zM1055.9 536.06h3.4v3.6h-3.4zM1055.9 548.69h3.4v3.6h-3.4zM1055.9 561.32h3.4v3.6h-3.4zM1055.9 573.95h3.4v3.6h-3.4zM1055.9 586.58h3.4v3.6h-3.4zM1055.9 599.21h3.4v3.6h-3.4zM1055.9 611.84h3.4v3.6h-3.4zM1055.9 624.47h3.4v3.6h-3.4zM1055.9 637.1h3.4v3.6h-3.4zM1055.9 649.73h3.4v3.6h-3.4zM1055.9 662.36h3.4v3.6h-3.4zM1055.9 674.99h3.4v3.6h-3.4zM1055.9 687.62h3.4v3.6h-3.4zM1055.9 700.25h3.4v3.6h-3.4zM1055.9 712.88h3.4v3.6h-3.4zM1055.9 725.51h3.4v3.6h-3.4zM1055.9 738.14h3.4v3.6h-3.4zM1055.9 750.77h3.4v3.6h-3.4zM1055.9 763.4h3.4v3.6h-3.4zM1055.9 776.03h3.4v3.6h-3.4zM1055.9 788.66h3.4v3.6h-3.4zM1055.9 801.29h3.4v3.6h-3.4zM1055.9 813.92h3.4v3.6h-3.4zM1055.9 826.55h3.4v3.6h-3.4zM1055.9 839.18h3.4v3.6h-3.4zM1055.9 851.81h3.4v3.6h-3.4zM1055.9 864.44h3.4v3.6h-3.4zM1055.9 877.07h3.4v3.6h-3.4zM1055.9 889.7h3.4v3.6h-3.4zM1055.9 902.33h3.4v3.6h-3.4z"/>
<path fill="#000" d="M816.67 874.1h3.6v3.4h-3.6zM829.3 874.1h3.6v3.4h-3.6zM841.93 874.1h3.6v3.4h-3.6zM854.56 874.1h3.6v3.4h-3.6zM867.19 874.1h3.6v3.4h-3.6zM879.82 874.1h3.6v3.4h-3.6zM892.45 874.1h3.6v3.4h-3.6zM905.08 874.1h3.6v3.4h-3.6zM917.71 874.1h3.6v3.4h-3.6zM930.34 874.1h3.6v3.4h-3.6zM942.97 874.1h3.6v3.4h-3.6zM955.6 874.1h3.6v3.4h-3.6zM968.23 874.1h3.6v3.4h-3.6zM980.86 874.1h3.6v3.4h-3.6zM993.49 874.1h3.6v3.4h-3.6zM1006.12 874.1h3.6v3.4h-3.6zM1018.75 874.1h3.6v3.4h-3.6zM1031.38 874.1h3.6v3.4h-3.6zM1044.01 874.1h3.6v3.4h-3.6zM1056.64 874.1h3.6v3.4h-3.6zM1069.27 874.1h3.6v3.4h-3.6zM1081.9 874.1h3.6v3.4h-3.6zM1094.53 874.1h3.6v3.4h-3.6zM1107.16 874.1h3.6v3.4h-3.6zM1119.79 874.1h3.6v3.4h-3.6zM1132.42 874.1h3.6v3.4h-3.6zM1145.05 874.1h3.6v3.4h-3.6zM1157.68 874.1h3.6v3.4h-3.6zM1170.31 874.1h3.6v3.4h-3.6zM1182.94 874.1h3.6v3.4h-3.6zM1195.57 874.1h3.6v3.4h-3.6zM1208.2 874.1h3.6v3.4h-3.6z"/>
<rect x="818.3" y="503.6" width="394" height="401" fill="none" stroke="#333333" stroke-width="2.2"/>
<line x1="913.3" y1="904.6" x2="913.3" y2="908.4" stroke="#333333" stroke-width="2.4"/>
<line x1="1016.3" y1="904.6" x2="1016.3" y2="908.4" stroke="#333333" stroke-width="2.4"/>
<line x1="1119.3" y1="904.6" x2="1119.3" y2="908.4" stroke="#333333" stroke-width="2.4"/>
<line x1="814.5" y1="887.6" x2="818.3" y2="887.6" stroke="#333333" stroke-width="2.4"/>
<line x1="814.5" y1="796.95" x2="818.3" y2="796.95" stroke="#333333" stroke-width="2.4"/>
<line x1="814.5" y1="706.3" x2="818.3" y2="706.3" stroke="#333333" stroke-width="2.4"/>
<line x1="814.5" y1="615.65" x2="818.3" y2="615.65" stroke="#333333" stroke-width="2.4"/>
<line x1="814.5" y1="525" x2="818.3" y2="525" stroke="#333333" stroke-width="2.4"/>
<text x="786.74" y="531.4" font-size="19.5" font-weight="bold" textLength="21.69" lengthAdjust="spacingAndGlyphs" fill="#000">40</text>
<text x="786.74" y="622.05" font-size="19.5" font-weight="bold" textLength="21.69" lengthAdjust="spacingAndGlyphs" fill="#000">30</text>
<text x="786.74" y="712.7" font-size="19.5" font-weight="bold" textLength="21.69" lengthAdjust="spacingAndGlyphs" fill="#000">20</text>
<text x="786.74" y="803.35" font-size="19.5" font-weight="bold" textLength="21.69" lengthAdjust="spacingAndGlyphs" fill="#000">10</text>
<text x="797.56" y="894" font-size="19.5" font-weight="bold" textLength="10.85" lengthAdjust="spacingAndGlyphs" fill="#000">0</text>
<text x="897.24" y="931.6" font-size="21" font-weight="bold" textLength="39.85" lengthAdjust="spacingAndGlyphs" fill="#000">−2.5</text>
<text x="1004.21" y="931.6" font-size="21" font-weight="bold" textLength="27.59" lengthAdjust="spacingAndGlyphs" fill="#000">0.0</text>
<text x="1106.48" y="931.6" font-size="21" font-weight="bold" textLength="28.48" lengthAdjust="spacingAndGlyphs" fill="#000">2.5</text>
<text x="938.14" y="962.8" font-size="26" font-weight="bold" textLength="197.1" lengthAdjust="spacingAndGlyphs" fill="#000">log2FoldChange</text>
<text transform="translate(763.8,761.41) rotate(-90)" x="0" y="0" font-size="25" font-weight="bold" textLength="154.62" lengthAdjust="spacingAndGlyphs" fill="#000">−log10(padj)</text>
<text x="1084.73" y="530.8" font-size="22" font-weight="bold" textLength="123.31" lengthAdjust="spacingAndGlyphs" fill="#000">DEG − LAUD</text>
<circle cx="1250" cy="668" r="6" fill="#cc1a3a"/>
<circle cx="1250" cy="692.4" r="6" fill="#1f2b5e"/>
<circle cx="1250" cy="717" r="6" fill="#808080"/>
<text x="1272.99" y="677.1" font-size="22.5" font-weight="bold" textLength="26.82" lengthAdjust="spacingAndGlyphs" fill="#000">Up</text>
<text x="1272.81" y="700.8" font-size="22.5" font-weight="bold" textLength="55.96" lengthAdjust="spacingAndGlyphs" fill="#000">Down</text>
<text x="1272.86" y="725.7" font-size="22.5" font-weight="bold" textLength="41.75" lengthAdjust="spacingAndGlyphs" fill="#000">NOT</text>
<text x="131.34" y="1073" font-size="40" font-weight="bold" textLength="28.23" lengthAdjust="spacingAndGlyphs" fill="#000">C</text>
<rect x="302.2" y="1119.6" width="199.7" height="480" fill="#fff"/>
<line x1="328.85" y1="1119.6" x2="328.85" y2="1599.6" stroke="#e9e9e9" stroke-width="1.7"/>
<line x1="393.95" y1="1119.6" x2="393.95" y2="1599.6" stroke="#e9e9e9" stroke-width="1.7"/>
<line x1="459.05" y1="1119.6" x2="459.05" y2="1599.6" stroke="#e9e9e9" stroke-width="1.7"/>
<line x1="302.2" y1="1134" x2="501.9" y2="1134" stroke="#e9e9e9" stroke-width="3"/>
<line x1="302.2" y1="1157.81" x2="501.9" y2="1157.81" stroke="#e9e9e9" stroke-width="3"/>
<line x1="302.2" y1="1181.62" x2="501.9" y2="1181.62" stroke="#e9e9e9" stroke-width="3"/>
<line x1="302.2" y1="1205.43" x2="501.9" y2="1205.43" stroke="#e9e9e9" stroke-width="3"/>
<line x1="302.2" y1="1229.24" x2="501.9" y2="1229.24" stroke="#e9e9e9" stroke-width="3"/>
<line x1="302.2" y1="1253.05" x2="501.9" y2="1253.05" stroke="#e9e9e9" stroke-width="3"/>
<line x1="302.2" y1="1276.86" x2="501.9" y2="1276.86" stroke="#e9e9e9" stroke-width="3"/>
<line x1="302.2" y1="1300.67" x2="501.9" y2="1300.67" stroke="#e9e9e9" stroke-width="3"/>
<line x1="302.2" y1="1324.48" x2="501.9" y2="1324.48" stroke="#e9e9e9" stroke-width="3"/>
<line x1="302.2" y1="1348.29" x2="501.9" y2="1348.29" stroke="#e9e9e9" stroke-width="3"/>
<line x1="302.2" y1="1372.1" x2="501.9" y2="1372.1" stroke="#e9e9e9" stroke-width="3"/>
<line x1="302.2" y1="1395.91" x2="501.9" y2="1395.91" stroke="#e9e9e9" stroke-width="3"/>
<line x1="302.2" y1="1419.72" x2="501.9" y2="1419.72" stroke="#e9e9e9" stroke-width="3"/>
<line x1="302.2" y1="1443.53" x2="501.9" y2="1443.53" stroke="#e9e9e9" stroke-width="3"/>
<line x1="302.2" y1="1467.34" x2="501.9" y2="1467.34" stroke="#e9e9e9" stroke-width="3"/>
<line x1="302.2" y1="1491.15" x2="501.9" y2="1491.15" stroke="#e9e9e9" stroke-width="3"/>
<line x1="302.2" y1="1514.96" x2="501.9" y2="1514.96" stroke="#e9e9e9" stroke-width="3"/>
<line x1="302.2" y1="1538.77" x2="501.9" y2="1538.77" stroke="#e9e9e9" stroke-width="3"/>
<line x1="302.2" y1="1562.58" x2="501.9" y2="1562.58" stroke="#e9e9e9" stroke-width="3"/>
<line x1="302.2" y1="1586.39" x2="501.9" y2="1586.39" stroke="#e9e9e9" stroke-width="3"/>
<line x1="361.4" y1="1119.6" x2="361.4" y2="1599.6" stroke="#e9e9e9" stroke-width="3"/>
<line x1="426.5" y1="1119.6" x2="426.5" y2="1599.6" stroke="#e9e9e9" stroke-width="3"/>
<line x1="491.6" y1="1119.6" x2="491.6" y2="1599.6" stroke="#e9e9e9" stroke-width="3"/>
<circle cx="331.3" cy="1134" r="5.03" fill="#62b22a"/>
<circle cx="345.7" cy="1157.81" r="4.28" fill="#65b432"/>
<circle cx="331.9" cy="1181.62" r="5.03" fill="#65b432"/>
<circle cx="323.1" cy="1205.43" r="5.35" fill="#65b432"/>
<circle cx="338.4" cy="1229.24" r="4.82" fill="#67b437"/>
<circle cx="340.6" cy="1253.05" r="4.82" fill="#6ab63b"/>
<circle cx="350.5" cy="1276.86" r="4.49" fill="#6db743"/>
<circle cx="365.5" cy="1300.67" r="4.49" fill="#72ba50"/>
<circle cx="451.1" cy="1324.48" r="3.53" fill="#77bc5c" stroke="#1a1a1a" stroke-width="1"/>
<circle cx="349.3" cy="1348.29" r="4.82" fill="#83bd74"/>
<circle cx="353.6" cy="1372.1" r="5.03" fill="#93aa8d"/>
<circle cx="398.8" cy="1395.91" r="4.28" fill="#94a98f"/>
<circle cx="493.4" cy="1419.72" r="3.53" fill="#a091a8" stroke="#1a1a1a" stroke-width="1"/>
<circle cx="373.5" cy="1443.53" r="4.6" fill="#a18bad"/>
<circle cx="390" cy="1467.34" r="4.39" fill="#a188b0"/>
<circle cx="349.6" cy="1491.15" r="5.14" fill="#a37eb7"/>
<circle cx="359" cy="1514.96" r="5.24" fill="#976eb3"/>
<circle cx="397.6" cy="1538.77" r="5.56" fill="#7b50a2"/>
<circle cx="311.1" cy="1562.58" r="8.88" fill="#754a9e"/>
<circle cx="353.6" cy="1586.39" r="7.81" fill="#71459c"/>
<rect x="302.2" y="1119.6" width="199.7" height="480" fill="none" stroke="#333333" stroke-width="2.3"/>
<line x1="298" y1="1134" x2="302.2" y2="1134" stroke="#333333" stroke-width="2.6"/>
<line x1="298" y1="1157.81" x2="302.2" y2="1157.81" stroke="#333333" stroke-width="2.6"/>
<line x1="298" y1="1181.62" x2="302.2" y2="1181.62" stroke="#333333" stroke-width="2.6"/>
<line x1="298" y1="1205.43" x2="302.2" y2="1205.43" stroke="#333333" stroke-width="2.6"/>
<line x1="298" y1="1229.24" x2="302.2" y2="1229.24" stroke="#333333" stroke-width="2.6"/>
<line x1="298" y1="1253.05" x2="302.2" y2="1253.05" stroke="#333333" stroke-width="2.6"/>
<line x1="298" y1="1276.86" x2="302.2" y2="1276.86" stroke="#333333" stroke-width="2.6"/>
<line x1="298" y1="1300.67" x2="302.2" y2="1300.67" stroke="#333333" stroke-width="2.6"/>
<line x1="298" y1="1324.48" x2="302.2" y2="1324.48" stroke="#333333" stroke-width="2.6"/>
<line x1="298" y1="1348.29" x2="302.2" y2="1348.29" stroke="#333333" stroke-width="2.6"/>
<line x1="298" y1="1372.1" x2="302.2" y2="1372.1" stroke="#333333" stroke-width="2.6"/>
<line x1="298" y1="1395.91" x2="302.2" y2="1395.91" stroke="#333333" stroke-width="2.6"/>
<line x1="298" y1="1419.72" x2="302.2" y2="1419.72" stroke="#333333" stroke-width="2.6"/>
<line x1="298" y1="1443.53" x2="302.2" y2="1443.53" stroke="#333333" stroke-width="2.6"/>
<line x1="298" y1="1467.34" x2="302.2" y2="1467.34" stroke="#333333" stroke-width="2.6"/>
<line x1="298" y1="1491.15" x2="302.2" y2="1491.15" stroke="#333333" stroke-width="2.6"/>
<line x1="298" y1="1514.96" x2="302.2" y2="1514.96" stroke="#333333" stroke-width="2.6"/>
<line x1="298" y1="1538.77" x2="302.2" y2="1538.77" stroke="#333333" stroke-width="2.6"/>
<line x1="298" y1="1562.58" x2="302.2" y2="1562.58" stroke="#333333" stroke-width="2.6"/>
<line x1="298" y1="1586.39" x2="302.2" y2="1586.39" stroke="#333333" stroke-width="2.6"/>
<line x1="361.4" y1="1599.6" x2="361.4" y2="1603.8" stroke="#333333" stroke-width="2.6"/>
<line x1="426.5" y1="1599.6" x2="426.5" y2="1603.8" stroke="#333333" stroke-width="2.6"/>
<line x1="491.6" y1="1599.6" x2="491.6" y2="1603.8" stroke="#333333" stroke-width="2.6"/>
<text x="295.81" y="1139.04" font-size="14.93" text-anchor="end" fill="#1a1a1a">Tuberculosis</text>
<text x="296.24" y="1162.85" font-size="14.93" text-anchor="end" fill="#1a1a1a">Osteoclast differentiation</text>
<text x="295.35" y="1185.18" font-size="14.93" text-anchor="end" fill="#1a1a1a">NOD−like receptor signaling pathway</text>
<text x="295.82" y="1208.99" font-size="14.93" text-anchor="end" fill="#1a1a1a">Thermogenesis</text>
<text x="295.96" y="1232.8" font-size="14.93" text-anchor="end" fill="#1a1a1a">Phagosome</text>
<text x="296.21" y="1256.61" font-size="14.93" text-anchor="end" fill="#1a1a1a">Non−alcoholic fatty liver disease (NAFLD)</text>
<text x="295.94" y="1280.14" font-size="14.93" text-anchor="end" fill="#1a1a1a">Lysosome</text>
<text x="295.95" y="1304.23" font-size="14.93" text-anchor="end" fill="#1a1a1a">Hematopoietic cell lineage</text>
<text x="295.35" y="1328.04" font-size="14.93" text-anchor="end" fill="#1a1a1a">Primary immunodeficiency</text>
<text x="295.84" y="1353.33" font-size="14.93" text-anchor="end" fill="#1a1a1a">Measles</text>
<text x="296.27" y="1375.66" font-size="14.93" text-anchor="end" fill="#1a1a1a">Oxidative phosphorylation</text>
<text x="296.27" y="1399.47" font-size="14.93" text-anchor="end" fill="#1a1a1a">Staphylococcus aureus infection</text>
<text x="296.28" y="1423.28" font-size="14.93" text-anchor="end" fill="#1a1a1a">Circadian rhythm</text>
<text x="295.34" y="1447.09" font-size="14.93" text-anchor="end" fill="#1a1a1a">T cell receptor signaling pathway</text>
<text x="295.33" y="1470.9" font-size="14.93" text-anchor="end" fill="#1a1a1a">B cell receptor signaling pathway</text>
<text x="296.28" y="1494.71" font-size="14.93" text-anchor="end" fill="#1a1a1a">Protein processing in endoplasmic reticulum</text>
<text x="295.97" y="1520" font-size="14.93" text-anchor="end" fill="#1a1a1a">Ribosome</text>
<text x="295.83" y="1542.33" font-size="14.93" text-anchor="end" fill="#1a1a1a">Ubiquitin mediated proteolysis</text>
<text x="295.82" y="1566.14" font-size="14.93" text-anchor="end" fill="#1a1a1a">Metabolic pathways</text>
<text x="296.27" y="1589.95" font-size="14.93" text-anchor="end" fill="#1a1a1a">Herpes simplex virus 1 infection</text>
<text x="350.29" y="1620.1" font-size="14.6" textLength="29.68" lengthAdjust="spacingAndGlyphs" fill="#1a1a1a">0.08</text>
<text x="415.39" y="1620.1" font-size="14.6" textLength="29.9" lengthAdjust="spacingAndGlyphs" fill="#1a1a1a">0.12</text>
<text x="480.5" y="1620.1" font-size="14.6" textLength="29.05" lengthAdjust="spacingAndGlyphs" fill="#1a1a1a">0.16</text>
<text x="356.01" y="1637.7" font-size="18.6" textLength="98.09" lengthAdjust="spacingAndGlyphs" fill="#1a1a1a">Gene_ratio</text>
<text x="298.1" y="1108.2" font-size="21.5" font-weight="bold" textLength="208.86" lengthAdjust="spacingAndGlyphs" fill="#000">COPD  blue module</text>
<text x="512.04" y="1249" font-size="18.5" textLength="73.59" lengthAdjust="spacingAndGlyphs" fill="#1a1a1a">P_adjust</text>
<defs><linearGradient id="cb1" x1="0" y1="0" x2="0" y2="1"><stop offset="0.000" stop-color="#62b22a"/><stop offset="0.280" stop-color="#80c070"/><stop offset="0.500" stop-color="#9e9e9e"/><stop offset="0.720" stop-color="#a37bba"/><stop offset="1.000" stop-color="#6b3f98"/></linearGradient></defs>
<rect x="513" y="1264.2" width="21.8" height="106.8" fill="url(#cb1)"/>
<line x1="513" y1="1289.5" x2="517.4" y2="1289.5" stroke="#ffffff" stroke-width="1.3"/>
<line x1="530.4" y1="1289.5" x2="534.8" y2="1289.5" stroke="#ffffff" stroke-width="1.3"/>
<line x1="513" y1="1316.6" x2="517.4" y2="1316.6" stroke="#ffffff" stroke-width="1.3"/>
<line x1="530.4" y1="1316.6" x2="534.8" y2="1316.6" stroke="#ffffff" stroke-width="1.3"/>
<line x1="513" y1="1343.4" x2="517.4" y2="1343.4" stroke="#ffffff" stroke-width="1.3"/>
<line x1="530.4" y1="1343.4" x2="534.8" y2="1343.4" stroke="#ffffff" stroke-width="1.3"/>
<text x="542.45" y="1295.7" font-size="16" textLength="40.6" lengthAdjust="spacingAndGlyphs" fill="#1a1a1a">0.075</text>
<text x="542.45" y="1322.8" font-size="16" textLength="40.56" lengthAdjust="spacingAndGlyphs" fill="#1a1a1a">0.050</text>
<text x="542.45" y="1349.6" font-size="16" textLength="40.6" lengthAdjust="spacingAndGlyphs" fill="#1a1a1a">0.025</text>
<text x="512.66" y="1413.7" font-size="18.5" textLength="119.83" lengthAdjust="spacingAndGlyphs" fill="#1a1a1a">Gene_number</text>
<circle cx="523.7" cy="1435.8" r="6.1" fill="#000"/>
<circle cx="523.7" cy="1457" r="7.7" fill="#000"/>
<circle cx="523.7" cy="1478.4" r="9.1" fill="#000"/>
<text x="543.47" y="1441.1" font-size="15.5" textLength="18.49" lengthAdjust="spacingAndGlyphs" fill="#1a1a1a">20</text>
<text x="543.94" y="1462.3" font-size="15.5" textLength="18.01" lengthAdjust="spacingAndGlyphs" fill="#1a1a1a">40</text>
<text x="543.47" y="1483.7" font-size="15.5" textLength="18.49" lengthAdjust="spacingAndGlyphs" fill="#1a1a1a">60</text>
<rect x="949.3" y="1117.8" width="199.4" height="479.8" fill="#fff"/>
<line x1="971.1" y1="1117.8" x2="971.1" y2="1597.6" stroke="#e9e9e9" stroke-width="1.7"/>
<line x1="1015.3" y1="1117.8" x2="1015.3" y2="1597.6" stroke="#e9e9e9" stroke-width="1.7"/>
<line x1="1059.5" y1="1117.8" x2="1059.5" y2="1597.6" stroke="#e9e9e9" stroke-width="1.7"/>
<line x1="1103.7" y1="1117.8" x2="1103.7" y2="1597.6" stroke="#e9e9e9" stroke-width="1.7"/>
<line x1="949.3" y1="1131.7" x2="1148.7" y2="1131.7" stroke="#e9e9e9" stroke-width="3"/>
<line x1="949.3" y1="1155.52" x2="1148.7" y2="1155.52" stroke="#e9e9e9" stroke-width="3"/>
<line x1="949.3" y1="1179.34" x2="1148.7" y2="1179.34" stroke="#e9e9e9" stroke-width="3"/>
<line x1="949.3" y1="1203.16" x2="1148.7" y2="1203.16" stroke="#e9e9e9" stroke-width="3"/>
<line x1="949.3" y1="1226.98" x2="1148.7" y2="1226.98" stroke="#e9e9e9" stroke-width="3"/>
<line x1="949.3" y1="1250.8" x2="1148.7" y2="1250.8" stroke="#e9e9e9" stroke-width="3"/>
<line x1="949.3" y1="1274.62" x2="1148.7" y2="1274.62" stroke="#e9e9e9" stroke-width="3"/>
<line x1="949.3" y1="1298.44" x2="1148.7" y2="1298.44" stroke="#e9e9e9" stroke-width="3"/>
<line x1="949.3" y1="1322.26" x2="1148.7" y2="1322.26" stroke="#e9e9e9" stroke-width="3"/>
<line x1="949.3" y1="1346.08" x2="1148.7" y2="1346.08" stroke="#e9e9e9" stroke-width="3"/>
<line x1="949.3" y1="1369.9" x2="1148.7" y2="1369.9" stroke="#e9e9e9" stroke-width="3"/>
<line x1="949.3" y1="1393.72" x2="1148.7" y2="1393.72" stroke="#e9e9e9" stroke-width="3"/>
<line x1="949.3" y1="1417.54" x2="1148.7" y2="1417.54" stroke="#e9e9e9" stroke-width="3"/>
<line x1="949.3" y1="1441.36" x2="1148.7" y2="1441.36" stroke="#e9e9e9" stroke-width="3"/>
<line x1="949.3" y1="1465.18" x2="1148.7" y2="1465.18" stroke="#e9e9e9" stroke-width="3"/>
<line x1="949.3" y1="1489" x2="1148.7" y2="1489" stroke="#e9e9e9" stroke-width="3"/>
<line x1="949.3" y1="1512.82" x2="1148.7" y2="1512.82" stroke="#e9e9e9" stroke-width="3"/>
<line x1="949.3" y1="1536.64" x2="1148.7" y2="1536.64" stroke="#e9e9e9" stroke-width="3"/>
<line x1="949.3" y1="1560.46" x2="1148.7" y2="1560.46" stroke="#e9e9e9" stroke-width="3"/>
<line x1="949.3" y1="1584.28" x2="1148.7" y2="1584.28" stroke="#e9e9e9" stroke-width="3"/>
<line x1="993.2" y1="1117.8" x2="993.2" y2="1597.6" stroke="#e9e9e9" stroke-width="3"/>
<line x1="1037.4" y1="1117.8" x2="1037.4" y2="1597.6" stroke="#e9e9e9" stroke-width="3"/>
<line x1="1081.6" y1="1117.8" x2="1081.6" y2="1597.6" stroke="#e9e9e9" stroke-width="3"/>
<line x1="1125.8" y1="1117.8" x2="1125.8" y2="1597.6" stroke="#e9e9e9" stroke-width="3"/>
<circle cx="1065.2" cy="1131.7" r="3.53" fill="#62b22a" stroke="#1a1a1a" stroke-width="1"/>
<circle cx="983" cy="1155.52" r="4.82" fill="#6db743"/>
<circle cx="1005.4" cy="1179.34" r="4.28" fill="#80c070"/>
<circle cx="986.3" cy="1203.16" r="4.82" fill="#a37eb7"/>
<circle cx="995.3" cy="1226.98" r="5.03" fill="#8359a7"/>
<circle cx="1005.4" cy="1250.8" r="5.03" fill="#7b50a2"/>
<circle cx="993.6" cy="1274.62" r="5.35" fill="#754a9e"/>
<circle cx="990.4" cy="1298.44" r="5.35" fill="#754a9e"/>
<circle cx="996.9" cy="1322.26" r="5.35" fill="#754a9e"/>
<circle cx="981" cy="1346.08" r="5.67" fill="#754a9e"/>
<circle cx="1030.7" cy="1369.9" r="4.82" fill="#754a9e"/>
<circle cx="1004.2" cy="1393.72" r="5.03" fill="#754a9e"/>
<circle cx="1014.4" cy="1417.54" r="5.35" fill="#754a9e"/>
<circle cx="1003" cy="1441.36" r="5.35" fill="#754a9e"/>
<circle cx="1140.1" cy="1465.18" r="4.82" fill="#754a9e"/>
<circle cx="1005.4" cy="1489" r="5.67" fill="#754a9e"/>
<circle cx="1030.7" cy="1512.82" r="5.67" fill="#71459c"/>
<circle cx="1049.4" cy="1536.64" r="6.63" fill="#71459c"/>
<circle cx="1068.1" cy="1560.46" r="6.63" fill="#71459c"/>
<circle cx="957.8" cy="1584.28" r="9.1" fill="#6f439a"/>
<rect x="949.3" y="1117.8" width="199.4" height="479.8" fill="none" stroke="#333333" stroke-width="2.3"/>
<line x1="945.1" y1="1131.7" x2="949.3" y2="1131.7" stroke="#333333" stroke-width="2.6"/>
<line x1="945.1" y1="1155.52" x2="949.3" y2="1155.52" stroke="#333333" stroke-width="2.6"/>
<line x1="945.1" y1="1179.34" x2="949.3" y2="1179.34" stroke="#333333" stroke-width="2.6"/>
<line x1="945.1" y1="1203.16" x2="949.3" y2="1203.16" stroke="#333333" stroke-width="2.6"/>
<line x1="945.1" y1="1226.98" x2="949.3" y2="1226.98" stroke="#333333" stroke-width="2.6"/>
<line x1="945.1" y1="1250.8" x2="949.3" y2="1250.8" stroke="#333333" stroke-width="2.6"/>
<line x1="945.1" y1="1274.62" x2="949.3" y2="1274.62" stroke="#333333" stroke-width="2.6"/>
<line x1="945.1" y1="1298.44" x2="949.3" y2="1298.44" stroke="#333333" stroke-width="2.6"/>
<line x1="945.1" y1="1322.26" x2="949.3" y2="1322.26" stroke="#333333" stroke-width="2.6"/>
<line x1="945.1" y1="1346.08" x2="949.3" y2="1346.08" stroke="#333333" stroke-width="2.6"/>
<line x1="945.1" y1="1369.9" x2="949.3" y2="1369.9" stroke="#333333" stroke-width="2.6"/>
<line x1="945.1" y1="1393.72" x2="949.3" y2="1393.72" stroke="#333333" stroke-width="2.6"/>
<line x1="945.1" y1="1417.54" x2="949.3" y2="1417.54" stroke="#333333" stroke-width="2.6"/>
<line x1="945.1" y1="1441.36" x2="949.3" y2="1441.36" stroke="#333333" stroke-width="2.6"/>
<line x1="945.1" y1="1465.18" x2="949.3" y2="1465.18" stroke="#333333" stroke-width="2.6"/>
<line x1="945.1" y1="1489" x2="949.3" y2="1489" stroke="#333333" stroke-width="2.6"/>
<line x1="945.1" y1="1512.82" x2="949.3" y2="1512.82" stroke="#333333" stroke-width="2.6"/>
<line x1="945.1" y1="1536.64" x2="949.3" y2="1536.64" stroke="#333333" stroke-width="2.6"/>
<line x1="945.1" y1="1560.46" x2="949.3" y2="1560.46" stroke="#333333" stroke-width="2.6"/>
<line x1="945.1" y1="1584.28" x2="949.3" y2="1584.28" stroke="#333333" stroke-width="2.6"/>
<line x1="993.2" y1="1597.6" x2="993.2" y2="1601.8" stroke="#333333" stroke-width="2.6"/>
<line x1="1037.4" y1="1597.6" x2="1037.4" y2="1601.8" stroke="#333333" stroke-width="2.6"/>
<line x1="1081.6" y1="1597.6" x2="1081.6" y2="1601.8" stroke="#333333" stroke-width="2.6"/>
<line x1="1125.8" y1="1597.6" x2="1125.8" y2="1601.8" stroke="#333333" stroke-width="2.6"/>
<line x1="949.3" y1="1597.6" x2="949.3" y2="1601.8" stroke="#333333" stroke-width="2.6"/>
<text x="940.52" y="1135.26" font-size="14.93" text-anchor="end" fill="#1a1a1a">Base excision repair</text>
<text x="940.96" y="1159.08" font-size="14.93" text-anchor="end" fill="#1a1a1a">Cell cycle</text>
<text x="941.26" y="1182.9" font-size="14.93" text-anchor="end" fill="#1a1a1a">RNA degradation</text>
<text x="941.29" y="1208.2" font-size="14.93" text-anchor="end" fill="#1a1a1a">Purine metabolism</text>
<text x="941.28" y="1232.02" font-size="14.93" text-anchor="end" fill="#1a1a1a">Carbon metabolism</text>
<text x="940.82" y="1254.36" font-size="14.93" text-anchor="end" fill="#1a1a1a">Ribosome biogenesis in eukaryotes</text>
<text x="941.21" y="1278.18" font-size="14.93" text-anchor="end" fill="#1a1a1a">Non−alcoholic fatty liver disease (NAFLD)</text>
<text x="941.28" y="1302" font-size="14.93" text-anchor="end" fill="#1a1a1a">Protein processing in endoplasmic reticulum</text>
<text x="940.97" y="1327.3" font-size="14.93" text-anchor="end" fill="#1a1a1a">Ribosome</text>
<text x="940.82" y="1349.64" font-size="14.93" text-anchor="end" fill="#1a1a1a">Thermogenesis</text>
<text x="940.34" y="1373.46" font-size="14.93" text-anchor="end" fill="#1a1a1a">mRNA surveillance pathway</text>
<text x="940.96" y="1398.76" font-size="14.93" text-anchor="end" fill="#1a1a1a">Parkinson disease</text>
<text x="940.83" y="1421.1" font-size="14.93" text-anchor="end" fill="#1a1a1a">Ubiquitin mediated proteolysis</text>
<text x="940.94" y="1446.4" font-size="14.93" text-anchor="end" fill="#1a1a1a">Alzheimer disease</text>
<text x="940.96" y="1469.94" font-size="14.93" text-anchor="end" fill="#1a1a1a">Proteasome</text>
<text x="940.96" y="1492.56" font-size="14.93" text-anchor="end" fill="#1a1a1a">Huntington disease</text>
<text x="941.27" y="1516.38" font-size="14.93" text-anchor="end" fill="#1a1a1a">Oxidative phosphorylation</text>
<text x="940.42" y="1539.92" font-size="14.93" text-anchor="end" fill="#1a1a1a">RNA transport</text>
<text x="940.94" y="1564.02" font-size="14.93" text-anchor="end" fill="#1a1a1a">Spliceosome</text>
<text x="940.82" y="1587.84" font-size="14.93" text-anchor="end" fill="#1a1a1a">Metabolic pathways</text>
<text x="938.11" y="1618" font-size="14.6" textLength="28.91" lengthAdjust="spacingAndGlyphs" fill="#1a1a1a">0.05</text>
<text x="982.31" y="1618" font-size="14.6" textLength="28.87" lengthAdjust="spacingAndGlyphs" fill="#1a1a1a">0.10</text>
<text x="1026.51" y="1618" font-size="14.6" textLength="28.91" lengthAdjust="spacingAndGlyphs" fill="#1a1a1a">0.15</text>
<text x="1070.1" y="1618" font-size="14.6" textLength="28.97" lengthAdjust="spacingAndGlyphs" fill="#1a1a1a">0.20</text>
<text x="1114.51" y="1618" font-size="14.6" textLength="28.91" lengthAdjust="spacingAndGlyphs" fill="#1a1a1a">0.25</text>
<text x="1003.21" y="1634" font-size="18.6" textLength="98.3" lengthAdjust="spacingAndGlyphs" fill="#1a1a1a">Gene_ratio</text>
<text x="876.31" y="1108.5" font-size="21.5" font-weight="bold" textLength="295.44" lengthAdjust="spacingAndGlyphs" fill="#000">Consensus skyblue module</text>
<text x="1159.86" y="1232.8" font-size="18.5" textLength="72.77" lengthAdjust="spacingAndGlyphs" fill="#1a1a1a">P_adjust</text>
<defs><linearGradient id="cb2" x1="0" y1="0" x2="0" y2="1"><stop offset="0.000" stop-color="#62b22a"/><stop offset="0.280" stop-color="#80c070"/><stop offset="0.500" stop-color="#9e9e9e"/><stop offset="0.720" stop-color="#a37bba"/><stop offset="1.000" stop-color="#6b3f98"/></linearGradient></defs>
<rect x="1160.1" y="1248.2" width="21.8" height="106.7" fill="url(#cb2)"/>
<line x1="1160.1" y1="1253.2" x2="1164.5" y2="1253.2" stroke="#ffffff" stroke-width="1.3"/>
<line x1="1177.5" y1="1253.2" x2="1181.9" y2="1253.2" stroke="#ffffff" stroke-width="1.3"/>
<line x1="1160.1" y1="1278.7" x2="1164.5" y2="1278.7" stroke="#ffffff" stroke-width="1.3"/>
<line x1="1177.5" y1="1278.7" x2="1181.9" y2="1278.7" stroke="#ffffff" stroke-width="1.3"/>
<line x1="1160.1" y1="1303.9" x2="1164.5" y2="1303.9" stroke="#ffffff" stroke-width="1.3"/>
<line x1="1177.5" y1="1303.9" x2="1181.9" y2="1303.9" stroke="#ffffff" stroke-width="1.3"/>
<line x1="1160.1" y1="1329" x2="1164.5" y2="1329" stroke="#ffffff" stroke-width="1.3"/>
<line x1="1177.5" y1="1329" x2="1181.9" y2="1329" stroke="#ffffff" stroke-width="1.3"/>
<text x="1189.65" y="1259.4" font-size="16" textLength="49.58" lengthAdjust="spacingAndGlyphs" fill="#1a1a1a">0.0020</text>
<text x="1189.65" y="1284.9" font-size="16" textLength="49.62" lengthAdjust="spacingAndGlyphs" fill="#1a1a1a">0.0015</text>
<text x="1189.65" y="1310.1" font-size="16" textLength="49.58" lengthAdjust="spacingAndGlyphs" fill="#1a1a1a">0.0010</text>
<text x="1189.65" y="1335.2" font-size="16" textLength="49.62" lengthAdjust="spacingAndGlyphs" fill="#1a1a1a">0.0005</text>
<text x="1160.47" y="1405.9" font-size="18.5" textLength="119.33" lengthAdjust="spacingAndGlyphs" fill="#1a1a1a">Gene_number</text>
<circle cx="1171.2" cy="1429" r="5.8" fill="#000"/>
<circle cx="1171.2" cy="1450.2" r="7.1" fill="#000"/>
<circle cx="1171.2" cy="1471.4" r="8.1" fill="#000"/>
<circle cx="1171.2" cy="1492.6" r="9.1" fill="#000"/>
<text x="1190.78" y="1434.3" font-size="15.5" textLength="18.28" lengthAdjust="spacingAndGlyphs" fill="#1a1a1a">20</text>
<text x="1191.24" y="1455.5" font-size="15.5" textLength="17.8" lengthAdjust="spacingAndGlyphs" fill="#1a1a1a">40</text>
<text x="1190.78" y="1476.7" font-size="15.5" textLength="18.28" lengthAdjust="spacingAndGlyphs" fill="#1a1a1a">60</text>
<text x="1190.91" y="1497.9" font-size="15.5" textLength="18.14" lengthAdjust="spacingAndGlyphs" fill="#1a1a1a">80</text>
<rect x="290" y="1712.9" width="208.4" height="479.1" fill="#fff"/>
<line x1="331.82" y1="1712.9" x2="331.82" y2="2192" stroke="#e9e9e9" stroke-width="1.7"/>
<line x1="384.05" y1="1712.9" x2="384.05" y2="2192" stroke="#e9e9e9" stroke-width="1.7"/>
<line x1="436.29" y1="1712.9" x2="436.29" y2="2192" stroke="#e9e9e9" stroke-width="1.7"/>
<line x1="488.52" y1="1712.9" x2="488.52" y2="2192" stroke="#e9e9e9" stroke-width="1.7"/>
<line x1="290" y1="1726.6" x2="498.4" y2="1726.6" stroke="#e9e9e9" stroke-width="3"/>
<line x1="290" y1="1750.42" x2="498.4" y2="1750.42" stroke="#e9e9e9" stroke-width="3"/>
<line x1="290" y1="1774.24" x2="498.4" y2="1774.24" stroke="#e9e9e9" stroke-width="3"/>
<line x1="290" y1="1798.06" x2="498.4" y2="1798.06" stroke="#e9e9e9" stroke-width="3"/>
<line x1="290" y1="1821.88" x2="498.4" y2="1821.88" stroke="#e9e9e9" stroke-width="3"/>
<line x1="290" y1="1845.7" x2="498.4" y2="1845.7" stroke="#e9e9e9" stroke-width="3"/>
<line x1="290" y1="1869.52" x2="498.4" y2="1869.52" stroke="#e9e9e9" stroke-width="3"/>
<line x1="290" y1="1893.34" x2="498.4" y2="1893.34" stroke="#e9e9e9" stroke-width="3"/>
<line x1="290" y1="1917.16" x2="498.4" y2="1917.16" stroke="#e9e9e9" stroke-width="3"/>
<line x1="290" y1="1940.98" x2="498.4" y2="1940.98" stroke="#e9e9e9" stroke-width="3"/>
<line x1="290" y1="1964.8" x2="498.4" y2="1964.8" stroke="#e9e9e9" stroke-width="3"/>
<line x1="290" y1="1988.62" x2="498.4" y2="1988.62" stroke="#e9e9e9" stroke-width="3"/>
<line x1="290" y1="2012.44" x2="498.4" y2="2012.44" stroke="#e9e9e9" stroke-width="3"/>
<line x1="290" y1="2036.26" x2="498.4" y2="2036.26" stroke="#e9e9e9" stroke-width="3"/>
<line x1="290" y1="2060.08" x2="498.4" y2="2060.08" stroke="#e9e9e9" stroke-width="3"/>
<line x1="290" y1="2083.9" x2="498.4" y2="2083.9" stroke="#e9e9e9" stroke-width="3"/>
<line x1="290" y1="2107.72" x2="498.4" y2="2107.72" stroke="#e9e9e9" stroke-width="3"/>
<line x1="290" y1="2131.54" x2="498.4" y2="2131.54" stroke="#e9e9e9" stroke-width="3"/>
<line x1="290" y1="2155.36" x2="498.4" y2="2155.36" stroke="#e9e9e9" stroke-width="3"/>
<line x1="290" y1="2179.18" x2="498.4" y2="2179.18" stroke="#e9e9e9" stroke-width="3"/>
<line x1="305.7" y1="1712.9" x2="305.7" y2="2192" stroke="#e9e9e9" stroke-width="3"/>
<line x1="357.94" y1="1712.9" x2="357.94" y2="2192" stroke="#e9e9e9" stroke-width="3"/>
<line x1="410.17" y1="1712.9" x2="410.17" y2="2192" stroke="#e9e9e9" stroke-width="3"/>
<line x1="462.41" y1="1712.9" x2="462.41" y2="2192" stroke="#e9e9e9" stroke-width="3"/>
<circle cx="318.6" cy="1726.6" r="4.6" fill="#62b22a"/>
<circle cx="369.1" cy="1750.42" r="3.53" fill="#67b437" stroke="#1a1a1a" stroke-width="1"/>
<circle cx="337.8" cy="1774.24" r="4.28" fill="#6bb63e"/>
<circle cx="326.8" cy="1798.06" r="4.6" fill="#9e9e9e"/>
<circle cx="323.7" cy="1821.88" r="4.82" fill="#a37eb7"/>
<circle cx="324.5" cy="1845.7" r="4.82" fill="#a37eb7"/>
<circle cx="406.3" cy="1869.52" r="3.53" fill="#a37bba" stroke="#1a1a1a" stroke-width="1"/>
<circle cx="364.8" cy="1893.34" r="4.28" fill="#8f66ae"/>
<circle cx="331.1" cy="1917.16" r="5.03" fill="#895faa"/>
<circle cx="402.4" cy="1940.98" r="4.28" fill="#7f54a4"/>
<circle cx="298.6" cy="1964.8" r="6.42" fill="#7b50a2"/>
<circle cx="320.5" cy="1988.62" r="5.67" fill="#7b50a2"/>
<circle cx="343.3" cy="2012.44" r="5.03" fill="#774c9f"/>
<circle cx="402.4" cy="2036.26" r="4.28" fill="#774c9f"/>
<circle cx="351.9" cy="2060.08" r="5.03" fill="#754a9e"/>
<circle cx="398.5" cy="2083.9" r="4.82" fill="#754a9e"/>
<circle cx="485.5" cy="2107.72" r="4.28" fill="#73489d"/>
<circle cx="488.2" cy="2131.54" r="4.28" fill="#73489d"/>
<circle cx="438.9" cy="2155.36" r="6.42" fill="#71459c"/>
<circle cx="310.3" cy="2179.18" r="9.63" fill="#71459c"/>
<rect x="290" y="1712.9" width="208.4" height="479.1" fill="none" stroke="#333333" stroke-width="2.3"/>
<line x1="285.8" y1="1726.6" x2="290" y2="1726.6" stroke="#333333" stroke-width="2.6"/>
<line x1="285.8" y1="1750.42" x2="290" y2="1750.42" stroke="#333333" stroke-width="2.6"/>
<line x1="285.8" y1="1774.24" x2="290" y2="1774.24" stroke="#333333" stroke-width="2.6"/>
<line x1="285.8" y1="1798.06" x2="290" y2="1798.06" stroke="#333333" stroke-width="2.6"/>
<line x1="285.8" y1="1821.88" x2="290" y2="1821.88" stroke="#333333" stroke-width="2.6"/>
<line x1="285.8" y1="1845.7" x2="290" y2="1845.7" stroke="#333333" stroke-width="2.6"/>
<line x1="285.8" y1="1869.52" x2="290" y2="1869.52" stroke="#333333" stroke-width="2.6"/>
<line x1="285.8" y1="1893.34" x2="290" y2="1893.34" stroke="#333333" stroke-width="2.6"/>
<line x1="285.8" y1="1917.16" x2="290" y2="1917.16" stroke="#333333" stroke-width="2.6"/>
<line x1="285.8" y1="1940.98" x2="290" y2="1940.98" stroke="#333333" stroke-width="2.6"/>
<line x1="285.8" y1="1964.8" x2="290" y2="1964.8" stroke="#333333" stroke-width="2.6"/>
<line x1="285.8" y1="1988.62" x2="290" y2="1988.62" stroke="#333333" stroke-width="2.6"/>
<line x1="285.8" y1="2012.44" x2="290" y2="2012.44" stroke="#333333" stroke-width="2.6"/>
<line x1="285.8" y1="2036.26" x2="290" y2="2036.26" stroke="#333333" stroke-width="2.6"/>
<line x1="285.8" y1="2060.08" x2="290" y2="2060.08" stroke="#333333" stroke-width="2.6"/>
<line x1="285.8" y1="2083.9" x2="290" y2="2083.9" stroke="#333333" stroke-width="2.6"/>
<line x1="285.8" y1="2107.72" x2="290" y2="2107.72" stroke="#333333" stroke-width="2.6"/>
<line x1="285.8" y1="2131.54" x2="290" y2="2131.54" stroke="#333333" stroke-width="2.6"/>
<line x1="285.8" y1="2155.36" x2="290" y2="2155.36" stroke="#333333" stroke-width="2.6"/>
<line x1="285.8" y1="2179.18" x2="290" y2="2179.18" stroke="#333333" stroke-width="2.6"/>
<line x1="305.7" y1="2192" x2="305.7" y2="2196.2" stroke="#333333" stroke-width="2.6"/>
<line x1="357.94" y1="2192" x2="357.94" y2="2196.2" stroke="#333333" stroke-width="2.6"/>
<line x1="410.17" y1="2192" x2="410.17" y2="2196.2" stroke="#333333" stroke-width="2.6"/>
<line x1="462.41" y1="2192" x2="462.41" y2="2196.2" stroke="#333333" stroke-width="2.6"/>
<text x="281.94" y="1731.64" font-size="14.93" text-anchor="end" fill="#1a1a1a">Cellular senescence</text>
<text x="281.35" y="1753.98" font-size="14.93" text-anchor="end" fill="#1a1a1a">Fanconi anemia pathway</text>
<text x="282.25" y="1777.8" font-size="14.93" text-anchor="end" fill="#1a1a1a">Progesterone−mediated oocyte maturation</text>
<text x="281.96" y="1803.1" font-size="14.93" text-anchor="end" fill="#1a1a1a">Parkinson disease</text>
<text x="281.95" y="1824.74" font-size="12.2" text-anchor="end" fill="#1a1a1a">Hepatitis B</text>
<text x="281.82" y="1849.26" font-size="14.93" text-anchor="end" fill="#1a1a1a">Necroptosis</text>
<text x="282.25" y="1873.08" font-size="14.93" text-anchor="end" fill="#1a1a1a">Homologous recombination</text>
<text x="281.82" y="1896.9" font-size="14.93" text-anchor="end" fill="#1a1a1a">Biosynthesis of amino acids</text>
<text x="281.35" y="1920.72" font-size="14.93" text-anchor="end" fill="#1a1a1a">Phospholipase D signaling pathway</text>
<text x="282.28" y="1944.54" font-size="14.93" text-anchor="end" fill="#1a1a1a">Cysteine and methionine metabolism</text>
<text x="281.54" y="1968.36" font-size="14.93" text-anchor="end" fill="#1a1a1a">Pathways in cancer</text>
<text x="282.27" y="1993.66" font-size="14.93" text-anchor="end" fill="#1a1a1a">Human T−cell leukemia virus 1 infection</text>
<text x="281.83" y="2016" font-size="14.93" text-anchor="end" fill="#1a1a1a">Oocyte meiosis</text>
<text x="282.28" y="2041.3" font-size="14.93" text-anchor="end" fill="#1a1a1a">Glutathione metabolism</text>
<text x="282.28" y="2065.12" font-size="14.93" text-anchor="end" fill="#1a1a1a">Carbon metabolism</text>
<text x="281.32" y="2087.46" font-size="14.93" text-anchor="end" fill="#1a1a1a">p53 signaling pathway</text>
<text x="282.27" y="2111.28" font-size="14.93" text-anchor="end" fill="#1a1a1a">DNA replication</text>
<text x="282.29" y="2135.1" font-size="14.93" text-anchor="end" fill="#1a1a1a">Glycine, serine and threonine metabolism</text>
<text x="281.84" y="2158.22" font-size="12.2" text-anchor="end" fill="#1a1a1a">Cell cycle</text>
<text x="281.82" y="2182.74" font-size="14.93" text-anchor="end" fill="#1a1a1a">Metabolic pathways</text>
<text x="294.7" y="2212.9" font-size="14.6" textLength="29.33" lengthAdjust="spacingAndGlyphs" fill="#1a1a1a">0.05</text>
<text x="347" y="2212.9" font-size="14.6" textLength="29.39" lengthAdjust="spacingAndGlyphs" fill="#1a1a1a">0.10</text>
<text x="399.1" y="2212.9" font-size="14.6" textLength="29.01" lengthAdjust="spacingAndGlyphs" fill="#1a1a1a">0.15</text>
<text x="451.3" y="2212.9" font-size="14.6" textLength="29.08" lengthAdjust="spacingAndGlyphs" fill="#1a1a1a">0.20</text>
<text x="340.71" y="2230.6" font-size="18.6" textLength="98.4" lengthAdjust="spacingAndGlyphs" fill="#1a1a1a">Gene_ratio</text>
<text x="288.49" y="1696.4" font-size="21.5" font-weight="bold" textLength="206.74" lengthAdjust="spacingAndGlyphs" fill="#000">LUAD  blue module</text>
<text x="511.94" y="1840.8" font-size="18.5" textLength="73.69" lengthAdjust="spacingAndGlyphs" fill="#1a1a1a">P_adjust</text>
<defs><linearGradient id="cb3" x1="0" y1="0" x2="0" y2="1"><stop offset="0.000" stop-color="#62b22a"/><stop offset="0.280" stop-color="#80c070"/><stop offset="0.500" stop-color="#9e9e9e"/><stop offset="0.720" stop-color="#a37bba"/><stop offset="1.000" stop-color="#6b3f98"/></linearGradient></defs>
<rect x="512.9" y="1856.2" width="22.1" height="106.7" fill="url(#cb3)"/>
<line x1="512.9" y1="1857.4" x2="517.3" y2="1857.4" stroke="#ffffff" stroke-width="1.3"/>
<line x1="530.6" y1="1857.4" x2="535" y2="1857.4" stroke="#ffffff" stroke-width="1.3"/>
<line x1="512.9" y1="1875" x2="517.3" y2="1875" stroke="#ffffff" stroke-width="1.3"/>
<line x1="530.6" y1="1875" x2="535" y2="1875" stroke="#ffffff" stroke-width="1.3"/>
<line x1="512.9" y1="1892.5" x2="517.3" y2="1892.5" stroke="#ffffff" stroke-width="1.3"/>
<line x1="530.6" y1="1892.5" x2="535" y2="1892.5" stroke="#ffffff" stroke-width="1.3"/>
<line x1="512.9" y1="1909.9" x2="517.3" y2="1909.9" stroke="#ffffff" stroke-width="1.3"/>
<line x1="530.6" y1="1909.9" x2="535" y2="1909.9" stroke="#ffffff" stroke-width="1.3"/>
<line x1="512.9" y1="1927.5" x2="517.3" y2="1927.5" stroke="#ffffff" stroke-width="1.3"/>
<line x1="530.6" y1="1927.5" x2="535" y2="1927.5" stroke="#ffffff" stroke-width="1.3"/>
<line x1="512.9" y1="1945" x2="517.3" y2="1945" stroke="#ffffff" stroke-width="1.3"/>
<line x1="530.6" y1="1945" x2="535" y2="1945" stroke="#ffffff" stroke-width="1.3"/>
<text x="542.65" y="1863.6" font-size="16" textLength="40.74" lengthAdjust="spacingAndGlyphs" fill="#1a1a1a">0.006</text>
<text x="542.65" y="1881.2" font-size="16" textLength="40.7" lengthAdjust="spacingAndGlyphs" fill="#1a1a1a">0.005</text>
<text x="542.65" y="1898.7" font-size="16" textLength="40.49" lengthAdjust="spacingAndGlyphs" fill="#1a1a1a">0.004</text>
<text x="542.65" y="1916.1" font-size="16" textLength="40.74" lengthAdjust="spacingAndGlyphs" fill="#1a1a1a">0.003</text>
<text x="542.65" y="1933.7" font-size="16" textLength="40.87" lengthAdjust="spacingAndGlyphs" fill="#1a1a1a">0.002</text>
<text x="542.65" y="1951.2" font-size="16" textLength="40.83" lengthAdjust="spacingAndGlyphs" fill="#1a1a1a">0.001</text>
<text x="512.56" y="2005.6" font-size="18.5" textLength="119.93" lengthAdjust="spacingAndGlyphs" fill="#1a1a1a">Gene_number</text>
<circle cx="523.7" cy="2028.1" r="5.9" fill="#000"/>
<circle cx="523.7" cy="2049.2" r="7.4" fill="#000"/>
<circle cx="523.7" cy="2070.4" r="8.9" fill="#000"/>
<text x="543.17" y="2033.4" font-size="15.5" textLength="18.38" lengthAdjust="spacingAndGlyphs" fill="#1a1a1a">20</text>
<text x="543.64" y="2054.5" font-size="15.5" textLength="17.9" lengthAdjust="spacingAndGlyphs" fill="#1a1a1a">40</text>
<text x="543.17" y="2075.7" font-size="15.5" textLength="18.38" lengthAdjust="spacingAndGlyphs" fill="#1a1a1a">60</text>
<rect x="960.3" y="1712.2" width="225.2" height="480.3" fill="#fff"/>
<line x1="1013.67" y1="1712.2" x2="1013.67" y2="2192.5" stroke="#e9e9e9" stroke-width="1.7"/>
<line x1="1092.03" y1="1712.2" x2="1092.03" y2="2192.5" stroke="#e9e9e9" stroke-width="1.7"/>
<line x1="1170.38" y1="1712.2" x2="1170.38" y2="2192.5" stroke="#e9e9e9" stroke-width="1.7"/>
<line x1="960.3" y1="1726.5" x2="1185.5" y2="1726.5" stroke="#e9e9e9" stroke-width="3"/>
<line x1="960.3" y1="1750.33" x2="1185.5" y2="1750.33" stroke="#e9e9e9" stroke-width="3"/>
<line x1="960.3" y1="1774.16" x2="1185.5" y2="1774.16" stroke="#e9e9e9" stroke-width="3"/>
<line x1="960.3" y1="1797.99" x2="1185.5" y2="1797.99" stroke="#e9e9e9" stroke-width="3"/>
<line x1="960.3" y1="1821.82" x2="1185.5" y2="1821.82" stroke="#e9e9e9" stroke-width="3"/>
<line x1="960.3" y1="1845.65" x2="1185.5" y2="1845.65" stroke="#e9e9e9" stroke-width="3"/>
<line x1="960.3" y1="1869.48" x2="1185.5" y2="1869.48" stroke="#e9e9e9" stroke-width="3"/>
<line x1="960.3" y1="1893.31" x2="1185.5" y2="1893.31" stroke="#e9e9e9" stroke-width="3"/>
<line x1="960.3" y1="1917.14" x2="1185.5" y2="1917.14" stroke="#e9e9e9" stroke-width="3"/>
<line x1="960.3" y1="1940.97" x2="1185.5" y2="1940.97" stroke="#e9e9e9" stroke-width="3"/>
<line x1="960.3" y1="1964.8" x2="1185.5" y2="1964.8" stroke="#e9e9e9" stroke-width="3"/>
<line x1="960.3" y1="1988.63" x2="1185.5" y2="1988.63" stroke="#e9e9e9" stroke-width="3"/>
<line x1="960.3" y1="2012.46" x2="1185.5" y2="2012.46" stroke="#e9e9e9" stroke-width="3"/>
<line x1="960.3" y1="2036.29" x2="1185.5" y2="2036.29" stroke="#e9e9e9" stroke-width="3"/>
<line x1="960.3" y1="2060.12" x2="1185.5" y2="2060.12" stroke="#e9e9e9" stroke-width="3"/>
<line x1="960.3" y1="2083.95" x2="1185.5" y2="2083.95" stroke="#e9e9e9" stroke-width="3"/>
<line x1="960.3" y1="2107.78" x2="1185.5" y2="2107.78" stroke="#e9e9e9" stroke-width="3"/>
<line x1="960.3" y1="2131.61" x2="1185.5" y2="2131.61" stroke="#e9e9e9" stroke-width="3"/>
<line x1="960.3" y1="2155.44" x2="1185.5" y2="2155.44" stroke="#e9e9e9" stroke-width="3"/>
<line x1="960.3" y1="2179.27" x2="1185.5" y2="2179.27" stroke="#e9e9e9" stroke-width="3"/>
<line x1="974.5" y1="1712.2" x2="974.5" y2="2192.5" stroke="#e9e9e9" stroke-width="3"/>
<line x1="1052.85" y1="1712.2" x2="1052.85" y2="2192.5" stroke="#e9e9e9" stroke-width="3"/>
<line x1="1131.2" y1="1712.2" x2="1131.2" y2="2192.5" stroke="#e9e9e9" stroke-width="3"/>
<circle cx="1086.5" cy="1726.5" r="4.07" fill="#65b432"/>
<circle cx="1032.9" cy="1750.33" r="4.6" fill="#65b432"/>
<circle cx="1088.9" cy="1774.16" r="4.07" fill="#67b437"/>
<circle cx="1101.3" cy="1797.99" r="4.07" fill="#6ab63b"/>
<circle cx="1024.8" cy="1821.82" r="5.03" fill="#9e9e9e"/>
<circle cx="1091.3" cy="1845.65" r="4.28" fill="#a37eb7"/>
<circle cx="1032.9" cy="1869.48" r="4.82" fill="#a37eb7"/>
<circle cx="1175.3" cy="1893.31" r="3.53" fill="#895faa" stroke="#1a1a1a" stroke-width="1"/>
<circle cx="1036.7" cy="1917.14" r="5.14" fill="#7b50a2"/>
<circle cx="1120.7" cy="1940.97" r="4.6" fill="#774c9f"/>
<circle cx="1061.8" cy="1964.8" r="4.82" fill="#754a9e"/>
<circle cx="1061.8" cy="1988.63" r="4.82" fill="#754a9e"/>
<circle cx="1093.2" cy="2012.46" r="4.82" fill="#754a9e"/>
<circle cx="1031.5" cy="2036.29" r="5.67" fill="#754a9e"/>
<circle cx="1082.7" cy="2060.12" r="5.14" fill="#754a9e"/>
<circle cx="1019.6" cy="2083.95" r="5.89" fill="#754a9e"/>
<circle cx="1093.7" cy="2107.78" r="5.14" fill="#754a9e"/>
<circle cx="1044.8" cy="2131.61" r="6.21" fill="#73489d"/>
<circle cx="1064.7" cy="2155.44" r="7.6" fill="#73489d"/>
<circle cx="970.2" cy="2179.27" r="9.63" fill="#71459c"/>
<rect x="960.3" y="1712.2" width="225.2" height="480.3" fill="none" stroke="#333333" stroke-width="2.3"/>
<line x1="956.1" y1="1726.5" x2="960.3" y2="1726.5" stroke="#333333" stroke-width="2.6"/>
<line x1="956.1" y1="1750.33" x2="960.3" y2="1750.33" stroke="#333333" stroke-width="2.6"/>
<line x1="956.1" y1="1774.16" x2="960.3" y2="1774.16" stroke="#333333" stroke-width="2.6"/>
<line x1="956.1" y1="1797.99" x2="960.3" y2="1797.99" stroke="#333333" stroke-width="2.6"/>
<line x1="956.1" y1="1821.82" x2="960.3" y2="1821.82" stroke="#333333" stroke-width="2.6"/>
<line x1="956.1" y1="1845.65" x2="960.3" y2="1845.65" stroke="#333333" stroke-width="2.6"/>
<line x1="956.1" y1="1869.48" x2="960.3" y2="1869.48" stroke="#333333" stroke-width="2.6"/>
<line x1="956.1" y1="1893.31" x2="960.3" y2="1893.31" stroke="#333333" stroke-width="2.6"/>
<line x1="956.1" y1="1917.14" x2="960.3" y2="1917.14" stroke="#333333" stroke-width="2.6"/>
<line x1="956.1" y1="1940.97" x2="960.3" y2="1940.97" stroke="#333333" stroke-width="2.6"/>
<line x1="956.1" y1="1964.8" x2="960.3" y2="1964.8" stroke="#333333" stroke-width="2.6"/>
<line x1="956.1" y1="1988.63" x2="960.3" y2="1988.63" stroke="#333333" stroke-width="2.6"/>
<line x1="956.1" y1="2012.46" x2="960.3" y2="2012.46" stroke="#333333" stroke-width="2.6"/>
<line x1="956.1" y1="2036.29" x2="960.3" y2="2036.29" stroke="#333333" stroke-width="2.6"/>
<line x1="956.1" y1="2060.12" x2="960.3" y2="2060.12" stroke="#333333" stroke-width="2.6"/>
<line x1="956.1" y1="2083.95" x2="960.3" y2="2083.95" stroke="#333333" stroke-width="2.6"/>
<line x1="956.1" y1="2107.78" x2="960.3" y2="2107.78" stroke="#333333" stroke-width="2.6"/>
<line x1="956.1" y1="2131.61" x2="960.3" y2="2131.61" stroke="#333333" stroke-width="2.6"/>
<line x1="956.1" y1="2155.44" x2="960.3" y2="2155.44" stroke="#333333" stroke-width="2.6"/>
<line x1="956.1" y1="2179.27" x2="960.3" y2="2179.27" stroke="#333333" stroke-width="2.6"/>
<line x1="974.5" y1="2192.5" x2="974.5" y2="2196.7" stroke="#333333" stroke-width="2.6"/>
<line x1="1052.85" y1="2192.5" x2="1052.85" y2="2196.7" stroke="#333333" stroke-width="2.6"/>
<line x1="1131.2" y1="2192.5" x2="1131.2" y2="2196.7" stroke="#333333" stroke-width="2.6"/>
<text x="951.72" y="1730.06" font-size="14.93" text-anchor="end" fill="#1a1a1a">Signaling pathways regulating pluripotency of stem cells</text>
<text x="951.43" y="1753.89" font-size="14.93" text-anchor="end" fill="#1a1a1a">Proteoglycans in cancer</text>
<text x="951.71" y="1779.2" font-size="14.93" text-anchor="end" fill="#1a1a1a">Fluid shear stress and atherosclerosis</text>
<text x="951.24" y="1801.55" font-size="14.93" text-anchor="end" fill="#1a1a1a">Relaxin signaling pathway</text>
<text x="952.16" y="1825.38" font-size="14.93" text-anchor="end" fill="#1a1a1a">Human cytomegalovirus infection</text>
<text x="951.42" y="1850.41" font-size="14.93" text-anchor="end" fill="#1a1a1a">Breast cancer</text>
<text x="952.17" y="1874.52" font-size="14.93" text-anchor="end" fill="#1a1a1a">Human T−cell leukemia virus 1 infection</text>
<text x="951.44" y="1898.07" font-size="14.93" text-anchor="end" fill="#1a1a1a">Prostate cancer</text>
<text x="951.26" y="1920.7" font-size="14.93" text-anchor="end" fill="#1a1a1a">Ras signaling pathway</text>
<text x="951.25" y="1944.53" font-size="14.93" text-anchor="end" fill="#1a1a1a">Phospholipase D signaling pathway</text>
<text x="952.14" y="1968.36" font-size="14.93" text-anchor="end" fill="#1a1a1a">Regulation of actin cytoskeleton</text>
<text x="951.23" y="1992.19" font-size="14.93" text-anchor="end" fill="#1a1a1a">cAMP signaling pathway</text>
<text x="951.42" y="2016.02" font-size="14.93" text-anchor="end" fill="#1a1a1a">Transcriptional misregulation in cancer</text>
<text x="951.23" y="2039.85" font-size="14.93" text-anchor="end" fill="#1a1a1a">MAPK signaling pathway</text>
<text x="951.25" y="2063.68" font-size="14.93" text-anchor="end" fill="#1a1a1a">Rap1 signaling pathway</text>
<text x="952.15" y="2087.51" font-size="14.93" text-anchor="end" fill="#1a1a1a">Human papillomavirus infection</text>
<text x="952.13" y="2112.82" font-size="14.93" text-anchor="end" fill="#1a1a1a">Focal adhesion</text>
<text x="951.23" y="2135.17" font-size="14.93" text-anchor="end" fill="#1a1a1a">PI3K−Akt signaling pathway</text>
<text x="951.44" y="2159" font-size="14.93" text-anchor="end" fill="#1a1a1a">Pathways in cancer</text>
<text x="951.72" y="2182.83" font-size="14.93" text-anchor="end" fill="#1a1a1a">Metabolic pathways</text>
<text x="963.39" y="2212.5" font-size="14.6" textLength="29.74" lengthAdjust="spacingAndGlyphs" fill="#1a1a1a">0.15</text>
<text x="1041.79" y="2212.5" font-size="14.6" textLength="29.7" lengthAdjust="spacingAndGlyphs" fill="#1a1a1a">0.20</text>
<text x="1120.09" y="2212.5" font-size="14.6" textLength="29.74" lengthAdjust="spacingAndGlyphs" fill="#1a1a1a">0.25</text>
<text x="1026.2" y="2230.3" font-size="18.6" textLength="99.11" lengthAdjust="spacingAndGlyphs" fill="#1a1a1a">Gene_ratio</text>
<text x="925.94" y="1695.7" font-size="21.5" font-weight="bold" textLength="267.58" lengthAdjust="spacingAndGlyphs" fill="#000">LUAD  skyblue module</text>
<text x="1200.84" y="1830.8" font-size="18.5" textLength="73.48" lengthAdjust="spacingAndGlyphs" fill="#1a1a1a">P_adjust</text>
<defs><linearGradient id="cb4" x1="0" y1="0" x2="0" y2="1"><stop offset="0.000" stop-color="#62b22a"/><stop offset="0.280" stop-color="#80c070"/><stop offset="0.500" stop-color="#9e9e9e"/><stop offset="0.720" stop-color="#a37bba"/><stop offset="1.000" stop-color="#6b3f98"/></linearGradient></defs>
<rect x="1201.1" y="1846.3" width="22.8" height="107.6" fill="url(#cb4)"/>
<line x1="1201.1" y1="1860.3" x2="1205.5" y2="1860.3" stroke="#ffffff" stroke-width="1.3"/>
<line x1="1219.5" y1="1860.3" x2="1223.9" y2="1860.3" stroke="#ffffff" stroke-width="1.3"/>
<line x1="1201.1" y1="1883.4" x2="1205.5" y2="1883.4" stroke="#ffffff" stroke-width="1.3"/>
<line x1="1219.5" y1="1883.4" x2="1223.9" y2="1883.4" stroke="#ffffff" stroke-width="1.3"/>
<line x1="1201.1" y1="1906.6" x2="1205.5" y2="1906.6" stroke="#ffffff" stroke-width="1.3"/>
<line x1="1219.5" y1="1906.6" x2="1223.9" y2="1906.6" stroke="#ffffff" stroke-width="1.3"/>
<line x1="1201.1" y1="1929.7" x2="1205.5" y2="1929.7" stroke="#ffffff" stroke-width="1.3"/>
<line x1="1219.5" y1="1929.7" x2="1223.9" y2="1929.7" stroke="#ffffff" stroke-width="1.3"/>
<text x="1229.54" y="1866.5" font-size="16" textLength="45.37" lengthAdjust="spacingAndGlyphs" fill="#1a1a1a">4e−08</text>
<text x="1229.29" y="1889.6" font-size="16" textLength="45.62" lengthAdjust="spacingAndGlyphs" fill="#1a1a1a">3e−08</text>
<text x="1229.08" y="1912.8" font-size="16" textLength="45.83" lengthAdjust="spacingAndGlyphs" fill="#1a1a1a">2e−08</text>
<text x="1228.66" y="1935.9" font-size="16" textLength="46.25" lengthAdjust="spacingAndGlyphs" fill="#1a1a1a">1e−08</text>
<text x="1201.47" y="1995.8" font-size="18.5" textLength="119.23" lengthAdjust="spacingAndGlyphs" fill="#1a1a1a">Gene_number</text>
<circle cx="1212.5" cy="2018.6" r="5.4" fill="#000"/>
<circle cx="1212.5" cy="2039.3" r="7.1" fill="#000"/>
<circle cx="1212.5" cy="2060.8" r="8.3" fill="#000"/>
<circle cx="1212.5" cy="2082.2" r="9.4" fill="#000"/>
<text x="1231.93" y="2023.9" font-size="15.5" textLength="18.75" lengthAdjust="spacingAndGlyphs" fill="#1a1a1a">50</text>
<text x="1231.34" y="2044.6" font-size="15.5" textLength="28.01" lengthAdjust="spacingAndGlyphs" fill="#1a1a1a">100</text>
<text x="1231.34" y="2066.1" font-size="15.5" textLength="28.01" lengthAdjust="spacingAndGlyphs" fill="#1a1a1a">150</text>
<text x="1231.77" y="2087.5" font-size="15.5" textLength="27.56" lengthAdjust="spacingAndGlyphs" fill="#1a1a1a">200</text>
</svg></body></html>
